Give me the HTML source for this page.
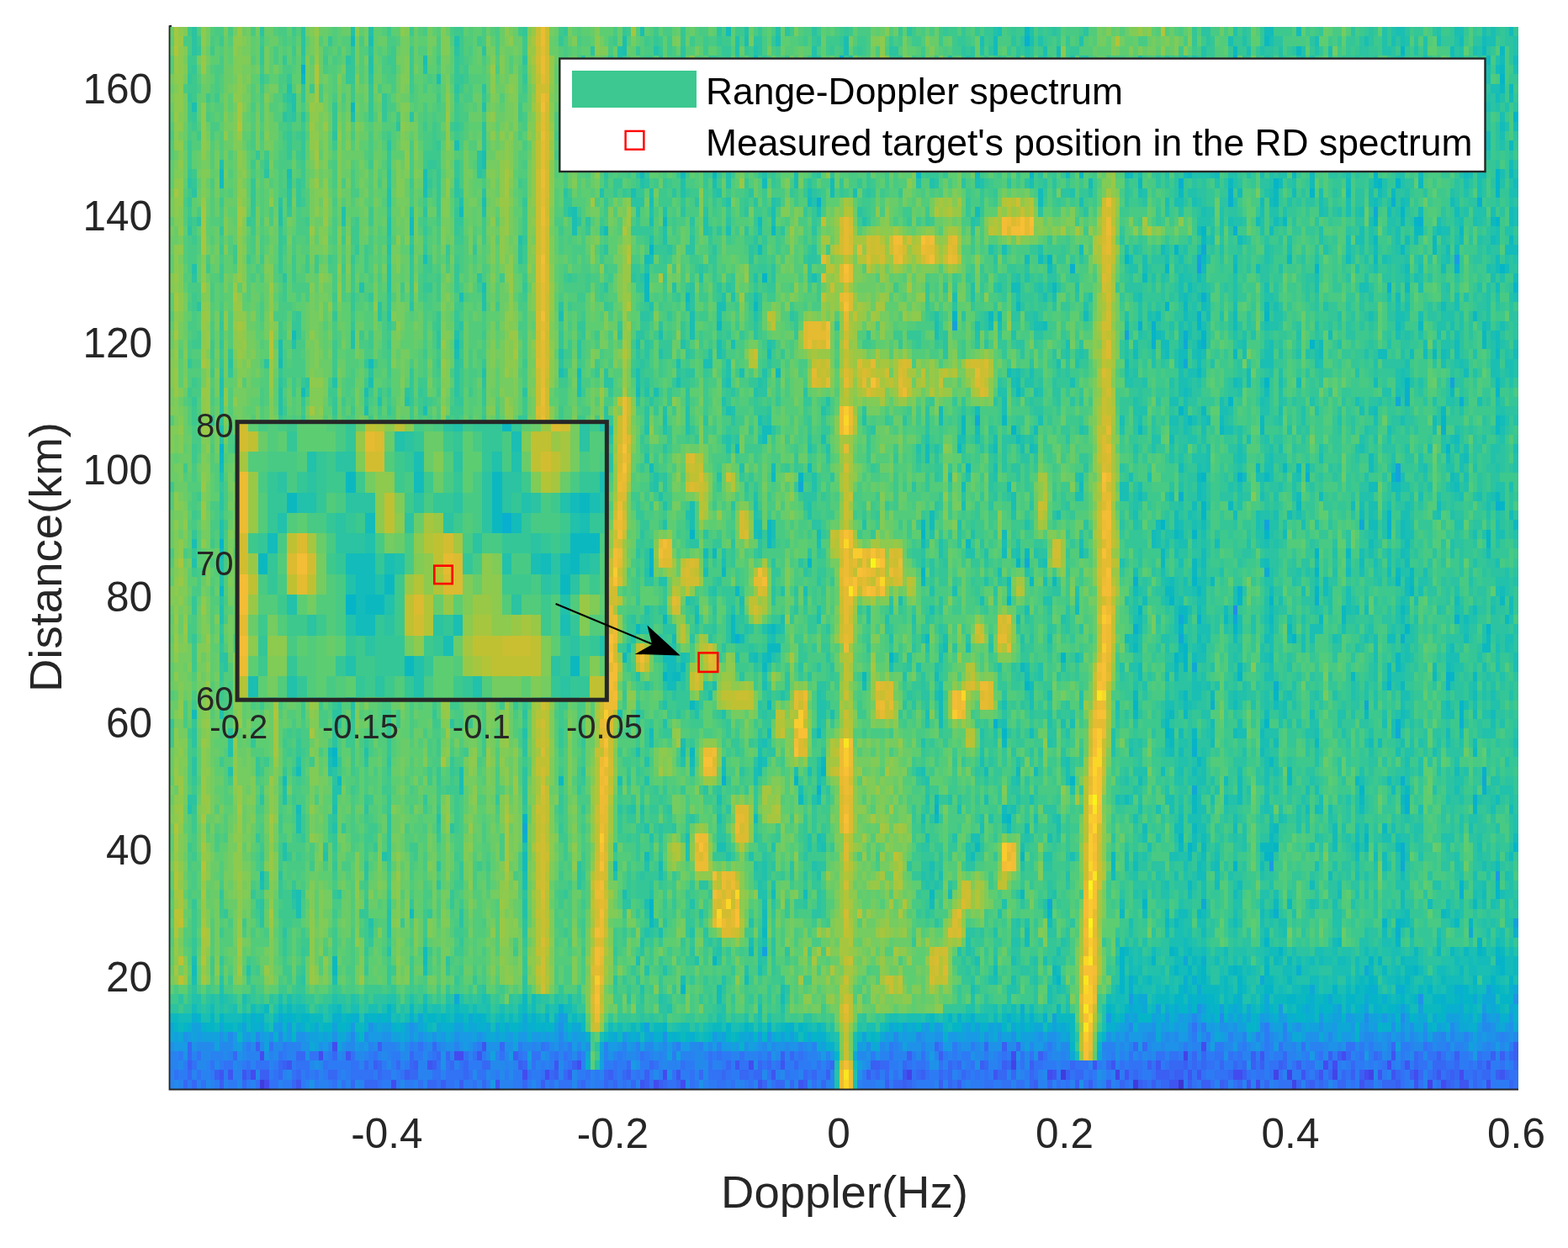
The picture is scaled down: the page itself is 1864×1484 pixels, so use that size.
<!DOCTYPE html><html><head><meta charset="utf-8"><title>Range-Doppler spectrum</title><style>html,body{margin:0;padding:0;background:#fff;width:1864px;height:1484px;overflow:hidden}</style></head><body><svg width="1864" height="1484" viewBox="0 0 1864 1484" style="display:block;font-family:'Liberation Sans', Arial, sans-serif"><rect width="1864" height="1484" fill="#fff"/><defs><clipPath id="pc"><rect x="201.5" y="32" width="1603.5" height="1263"/></clipPath><clipPath id="ic"><rect x="284.8" y="504" width="434" height="326"/></clipPath></defs><g clip-path="url(#pc)"><g transform="translate(201.5 32.0) scale(5.38 11.277)" shape-rendering="crispEdges"><path fill="#1abeb3" d="M228 0h1v112h-1zm44 0h1v112h-1z"/><path fill="#21c1ab" d="M213 0h1v112h-1zm13 0h1v112h-1zm9 0h1v112h-1zm7 0h1v112h-1zm31 0h1v112h-1z"/><path fill="#2bc3a1" d="M187 0h1v112h-1zm8 0h1v112h-1zm19 0h1v112h-1zm8 0h1v112h-1zm1 0h1v112h-1zm2 0h1v112h-1zm2 0h1v112h-1zm2 0h1v112h-1zm14 0h1v112h-1zm1 0h1v112h-1zm22 0h1v112h-1zm4 0h1v112h-1zm1 0h1v112h-1zm11 0h1v112h-1zm1 0h1v112h-1zm2 0h1v112h-1zm4 0h1v112h-1zm2 0h1v112h-1zm2 0h1v112h-1zm3 0h1v112h-1z"/><path fill="#34c697" d="M48 0h1v112h-1zm5 0h1v112h-1zm50 0h1v112h-1zm1 0h1v112h-1zm5 0h1v112h-1zm5 0h1v112h-1zm9 0h1v112h-1zm6 0h1v112h-1zm2 0h1v112h-1zm39 0h1v112h-1zm8 0h1v112h-1zm4 0h1v112h-1zm4 0h1v112h-1zm3 0h1v112h-1zm1 0h1v112h-1zm2 0h1v112h-1zm5 0h1v112h-1zm14 0h1v112h-1zm1 0h1v112h-1zm7 0h1v112h-1zm5 0h1v112h-1zm6 0h1v112h-1zm2 0h1v112h-1zm2 0h1v112h-1zm2 0h1v112h-1zm5 0h1v112h-1zm4 0h1v112h-1zm3 0h1v112h-1zm9 0h1v112h-1zm3 0h1v112h-1zm2 0h1v112h-1zm6 0h1v112h-1zm1 0h1v112h-1zm12 0h1v112h-1zm3 0h1v112h-1zm3 0h1v112h-1zm1 0h1v112h-1zm2 0h1v112h-1zm4 0h1v112h-1zm1 0h1v112h-1zm2 0h1v112h-1z"/><path fill="#3dc88d" d="M5 0h1v112h-1zm54 0h1v112h-1zm4 0h1v112h-1zm15 0h1v112h-1zm8 0h1v112h-1zm22 0h1v112h-1zm2 0h1v112h-1zm8 0h1v112h-1zm7 0h1v112h-1zm9 0h1v112h-1zm8 0h1v112h-1zm2 0h1v112h-1zm1 0h1v112h-1zm22 0h1v112h-1zm26 0h1v112h-1zm1 0h1v112h-1zm4 0h1v112h-1zm3 0h1v112h-1zm9 0h1v112h-1zm5 0h1v112h-1zm3 0h1v112h-1zm2 0h1v112h-1zm1 0h1v112h-1zm12 0h1v112h-1zm4 0h1v112h-1zm14 0h1v112h-1zm2 0h1v112h-1zm1 0h1v112h-1zm2 0h1v112h-1zm5 0h1v112h-1zm2 0h1v112h-1zm1 0h1v112h-1zm1 0h1v112h-1zm2 0h1v112h-1zm7 0h1v112h-1zm1 0h1v112h-1zm1 0h1v112h-1zm1 0h1v112h-1zm3 0h1v112h-1zm6 0h1v112h-1zm6 0h1v112h-1z"/><path fill="#48ca84" d="M4 0h1v112h-1zm20 0h1v112h-1zm1 0h1v112h-1zm2 0h1v112h-1zm1 0h1v112h-1zm1 0h1v112h-1zm7 0h1v112h-1zm4 0h1v112h-1zm16 0h1v112h-1zm2 0h1v112h-1zm6 0h1v112h-1zm5 0h1v112h-1zm18 0h1v112h-1zm4 0h1v112h-1zm5 0h1v112h-1zm1 0h1v112h-1zm3 0h1v112h-1zm5 0h1v112h-1zm1 0h1v112h-1zm6 0h1v112h-1zm1 0h1v112h-1zm2 0h1v112h-1zm4 0h1v112h-1zm1 0h1v112h-1zm1 0h1v112h-1zm1 0h1v112h-1zm4 0h1v112h-1zm1 0h1v112h-1zm1 0h1v112h-1zm2 0h1v112h-1zm3 0h1v112h-1zm2 0h1v112h-1zm4 0h1v112h-1zm1 0h1v112h-1zm1 0h1v112h-1zm2 0h1v112h-1zm23 0h1v112h-1zm2 0h1v112h-1zm1 0h1v112h-1zm7 0h1v112h-1zm1 0h1v112h-1zm2 0h1v112h-1zm1 0h1v112h-1zm1 0h1v112h-1zm4 0h1v112h-1zm3 0h1v112h-1zm3 0h1v112h-1zm5 0h1v112h-1zm3 0h1v112h-1zm17 0h1v112h-1zm1 0h1v112h-1zm22 0h1v112h-1zm7 0h1v112h-1zm1 0h1v112h-1zm2 0h1v112h-1zm1 0h1v112h-1zm2 0h1v112h-1zm6 0h1v112h-1zm20 0h1v112h-1z"/><path fill="#52cb7b" d="M9 0h1v112h-1zm2 0h1v112h-1zm1 0h1v112h-1zm1 0h1v112h-1zm5 0h1v112h-1zm2 0h1v112h-1zm6 0h1v112h-1zm18 0h1v112h-1zm2 0h1v112h-1zm1 0h1v112h-1zm19 0h1v112h-1zm22 0h1v112h-1zm2 0h1v112h-1zm2 0h1v112h-1zm3 0h1v112h-1zm4 0h1v112h-1zm2 0h1v112h-1zm6 0h1v112h-1zm9 0h1v112h-1zm8 0h1v112h-1zm8 0h1v112h-1zm4 0h1v112h-1zm16 0h1v112h-1zm1 0h1v112h-1zm1 0h1v112h-1zm7 0h1v112h-1zm2 0h1v112h-1zm10 0h1v112h-1zm10 0h1v112h-1zm1 0h1v112h-1zm16 0h1v112h-1zm2 0h1v112h-1zm1 0h1v112h-1zm28 0h1v112h-1zm7 0h1v112h-1zm2 0h1v112h-1zm15 0h1v112h-1zm4 0h1v112h-1zm20 0h1v112h-1z"/><path fill="#5dcd72" d="M6 0h1v112h-1zm17 0h1v112h-1zm11 0h1v112h-1zm8 0h1v112h-1zm1 0h1v112h-1zm2 0h1v112h-1zm4 0h1v112h-1zm5 0h1v112h-1zm1 0h1v112h-1zm2 0h1v112h-1zm8 0h1v112h-1zm2 0h1v112h-1zm1 0h1v112h-1zm9 0h1v112h-1zm8 0h1v112h-1zm9 0h1v112h-1zm4 0h1v112h-1zm4 0h1v112h-1zm15 0h1v112h-1zm39 0h1v112h-1zm8 0h1v112h-1zm1 0h1v112h-1zm6 0h1v112h-1zm3 0h1v112h-1zm1 0h1v112h-1zm34 0h1v112h-1z"/><path fill="#69cc69" d="M0 0h1v112h-1zm10 0h1v112h-1zm11 0h1v112h-1zm1 0h1v112h-1zm8 0h1v112h-1zm5 0h1v112h-1zm3 0h1v112h-1zm1 0h1v112h-1zm11 0h1v112h-1zm1 0h1v112h-1zm1 0h1v112h-1zm10 0h1v112h-1zm10 0h1v112h-1zm4 0h1v112h-1zm13 0h1v112h-1zm49 0h1v112h-1zm8 0h1v112h-1zm9 0h1v112h-1zm4 0h1v112h-1zm1 0h1v112h-1zm2 0h1v112h-1zm10 0h1v112h-1z"/><path fill="#75cc60" d="M3 0h1v112h-1zm11 0h1v112h-1zm2 0h1v112h-1zm1 0h1v112h-1zm2 0h1v112h-1zm12 0h1v112h-1zm10 0h1v112h-1zm29 0h1v112h-1zm1 0h1v112h-1zm4 0h1v112h-1zm4 0h1v112h-1zm14 0h1v112h-1zm18 0h1v112h-1zm26 0h1v112h-1zm10 0h1v112h-1zm11 0h1v112h-1z"/><path fill="#81cb57" d="M8 0h1v112h-1zm24 0h1v112h-1zm1 0h1v112h-1zm4 0h1v112h-1zm23 0h1v112h-1zm1 0h1v112h-1zm96 0h1v112h-1z"/><path fill="#8dca4e" d="M1 0h1v112h-1zm1 0h1v112h-1zm5 0h1v112h-1zm8 0h1v112h-1zm58 0h1v112h-1zm1 0h1v112h-1zm6 0h1v112h-1zm4 0h1v112h-1zm67 0h1v112h-1zm53 0h1v112h-1z"/><path fill="#99c846" d="M148 0h1v112h-1zm2 0h1v112h-1z"/><path fill="#a6c63f" d="M205 0h1v112h-1zm3 0h1v112h-1z"/><path fill="#c9bf31" d="M81 0h1v112h-1zm2 0h1v112h-1zm66 0h1v112h-1zm57 0h1v112h-1z"/><path fill="#e5bb31" d="M82 0h1v112h-1z"/><path fill="#ecbc33" d="M207 0h1v112h-1z"/><path fill="#3d36d2" d="M223 111h1v1h-1z"/><path fill="#3f3cdd" d="M20 111h1v1h-1zm177-1h1v1h-1zm16 1h1v1h-1z"/><path fill="#4243e7" d="M163 110h1v1h-1zm23-1h1v1h-1zm23 1h1v1h-1zm15-2h1v1h-1zm20 2h1v1h-1zm3 0h1v1h-1zm1 1h1v1h-1zm9-1h1v1h-1zm8 0h1v1h-1zm13 1h1v1h-1z"/><path fill="#434bef" d="M18 110h1v1h-1zm2-2h1v1h-1zm1 3h1v1h-1zm12-3h1v1h-1zm3-1h1v1h-1zm13 4h1v1h-1zm14-3h1v1h-1zm1 0h1v1h-1zm14 2h1v1h-1zm5 0h1v1h-1zm7-1h1v1h-1zm17 2h1v1h-1zm2-1h1v1h-1zm4 1h1v1h-1zm15-2h1v1h-1zm58-1h1v1h-1zm8 2h1v1h-1zm34-3h1v1h-1zm7 3h1v1h-1zm1 0h1v1h-1zm4 1h1v1h-1zm15-2h1v1h-1zm2 0h1v1h-1zm2-1h1v1h-1zm5 2h1v1h-1zm5-1h1v1h-1zm6 1h1v1h-1zm6 1h1v1h-1zm4-1h1v1h-1zm6 1h1v1h-1z"/><path fill="#3e55f0" d="M11 110h1v1h-1zm2 0h1v1h-1zm3 0h1v1h-1zm10-1h1v1h-1zm2 2h1v1h-1zm11-3h1v1h-1zm18 1h1v1h-1zm11-1h1v1h-1zm1-1h1v1h-1zm3 4h1v1h-1zm13-2h1v1h-1zm3 1h1v1h-1zm16 1h1v1h-1zm8-1h1v1h-1zm13-1h1v1h-1zm5 2h1v1h-1zm3-1h1v1h-1zm2-1h1v1h-1zm4 2h1v1h-1zm23-1h1v1h-1zm20 0h1v1h-1zm13 0h1v1h-1zm9-1h1v1h-1zm4 0h1v1h-1zm3 1h1v1h-1zm7-1h1v1h-1zm3 2h1v1h-1zm1 0h1v1h-1zm3-1h1v1h-1zm2 0h1v1h-1zm11 1h1v1h-1zm3-3h1v1h-1zm9 2h1v1h-1zm4 0h1v1h-1zm9 1h1v1h-1zm4-1h1v1h-1zm3-2h1v1h-1zm0 2h1v1h-1zm3-1h1v1h-1zm2 2h1v1h-1zm5-1h1v1h-1zm5 1h1v1h-1zm1 0h1v1h-1zm5-2h1v1h-1zm3 1h1v1h-1z"/><path fill="#3a5ff2" d="M4 109h1v1h-1zm6 1h1v1h-1zm1 1h1v1h-1zm8-4h1v1h-1zm1 3h1v1h-1zm1 0h1v1h-1zm4-1h1v1h-1zm20 0h1v1h-1zm1-2h1v1h-1zm6 3h1v1h-1zm2-1h1v1h-1zm4 0h1v1h-1zm2 2h1v1h-1zm4 0h1v1h-1zm12-3h1v1h-1zm1 1h1v1h-1zm5 2h1v1h-1zm3-1h1v1h-1zm4-1h1v1h-1zm8 1h1v1h-1zm4 0h1v1h-1zm4 0h1v2h-1zm3 1h1v1h-1zm27-3h1v1h-1zm5 3h1v1h-1zm5-1h1v1h-1zm9 0h1v1h-1zm1-1h1v1h-1zm1 0h1v1h-1zm2 2h1v1h-1zm4 0h1v1h-1zm1-3h1v1h-1zm3 2h1v1h-1zm4-2h1v1h-1zm0 3h1v1h-1zm4 0h1v1h-1zm5-2h1v1h-1zm5-2h1v1h-1zm0 2h1v1h-1zm6 0h1v1h-1zm1 2h1v1h-1zm1-3h1v1h-1zm6 2h1v1h-1zm2 1h1v1h-1zm3 0h1v1h-1zm4 0h1v1h-1zm7 0h1v1h-1zm2-2h1v1h-1zm1 2h1v1h-1zm1-1h1v1h-1zm1 0h1v1h-1zm1 0h1v1h-1zm2 0h1v1h-1zm1 0h1v1h-1zm1-1h1v1h-1zm1 2h1v1h-1zm3 0h1v1h-1zm1 0h1v1h-1zm3 0h1v1h-1zm5-1h1v1h-1zm2-2h1v2h-1zm2 1h1v1h-1zm4 0h1v1h-1zm4 0h1v1h-1zm3 2h1v1h-1zm4-3h1v1h-1zm2 0h1v1h-1zm3 2h1v1h-1zm2 0h1v1h-1zm8 1h1v1h-1zm3-1h1v1h-1zm6-2h1v1h-1zm2 3h1v1h-1zm1-1h1v1h-1zm1-2h1v1h-1zm8 0h1v1h-1zm1 2h1v1h-1zm1-2h1v1h-1zm3-1h1v2h-1z"/><path fill="#3668f4" d="M3 111h1v1h-1zm1-4h1v2h-1zm0 3h1v1h-1zm1 1h1v1h-1zm9-3h1v1h-1zm2 3h1v1h-1zm1-1h1v1h-1zm7-1h1v2h-1zm3 2h1v1h-1zm1-3h1v1h-1zm0 2h1v1h-1zm1-2h1v1h-1zm6 2h1v1h-1zm1-2h1v1h-1zm0 2h1v1h-1zm4 1h1v1h-1zm3-2h1v1h-1zm0 2h1v1h-1zm1 0h1v1h-1zm1 0h1v1h-1zm1-2h1v2h-1zm4 0h1v1h-1zm3-1h1v3h-1zm1 2h1v1h-1zm3 1h1v1h-1zm1-4h1v1h-1zm0 4h1v1h-1zm1-3h1v1h-1zm2 0h1v1h-1zm1 1h1v1h-1zm3 0h1v2h-1zm4 0h1v1h-1zm0 2h1v1h-1zm1-2h1v1h-1zm3-2h1v1h-1zm5 2h1v1h-1zm0 2h1v1h-1zm6-1h1v1h-1zm3 0h1v1h-1zm4 1h1v1h-1zm5-1h1v2h-1zm2 1h1v1h-1zm2-1h1v1h-1zm1-1h1v1h-1zm1 2h1v1h-1zm4-2h1v1h-1zm3 2h1v1h-1zm3 0h1v1h-1zm5-1h1v1h-1zm5 0h1v1h-1zm1-1h1v1h-1zm3 1h1v1h-1zm1 0h1v1h-1zm2 0h1v1h-1zm1-1h1v2h-1zm1 2h1v1h-1zm1-2h1v1h-1zm2 2h1v1h-1zm1 0h1v1h-1zm2-3h1v1h-1zm0 3h1v1h-1zm1-2h1v1h-1zm2 1h1v1h-1zm2 0h1v1h-1zm2 1h1v1h-1zm2-2h1v1h-1zm10 1h1v1h-1zm1-1h1v1h-1zm1 0h1v2h-1zm2 2h1v1h-1zm1 0h1v1h-1zm1-2h1v1h-1zm1 2h1v1h-1zm2-1h1v1h-1zm4-3h1v1h-1zm1 3h1v1h-1zm2-1h1v3h-1zm2 0h1v1h-1zm1 1h1v1h-1zm5-3h1v1h-1zm0 2h1v1h-1zm3 1h1v1h-1zm1 0h1v1h-1zm1-1h1v1h-1zm1 1h1v1h-1zm1-3h1v1h-1zm3 3h1v2h-1zm4 1h1v1h-1zm5-2h1v1h-1zm1 1h1v1h-1zm1 0h1v1h-1zm6-1h1v1h-1zm3 2h1v1h-1zm3-4h1v1h-1zm0 3h1v1h-1zm2-3h1v1h-1zm0 4h1v1h-1zm4 0h1v1h-1zm1 0h1v1h-1zm1-2h1v2h-1zm1 0h1v1h-1zm1 0h1v1h-1zm3-1h1v2h-1zm2 0h1v2h-1zm4 1h1v1h-1zm1 2h1v1h-1zm1-1h1v1h-1zm1-1h1v1h-1zm1 2h1v1h-1zm1-2h1v1h-1zm5 2h1v1h-1zm4-3h1v2h-1zm3 3h1v1h-1zm2 0h1v1h-1zm2-1h1v1h-1zm1 1h1v1h-1zm2-1h1v1h-1zm2 1h1v1h-1zm1-1h1v2h-1zm1-2h1v1h-1zm1 1h1v1h-1zm3 2h1v1h-1zm1 0h1v1h-1zm1-3h1v1h-1zm2 3h1v1h-1zm1 0h1v1h-1zm1-4h1v1h-1zm0 4h1v1h-1zm1-1h1v1h-1zm4-2h1v2h-1zm1 2h1v1h-1zm3-1h1v2h-1zm1 0h1v1h-1zm1 0h1v1h-1zm1 1h1v1h-1zm1 1h1v1h-1zm1-2h1v2h-1zm4 1h1v2h-1zm1-1h1v1h-1zm1 1h1v1h-1zm1 0h1v1h-1zm4 0h1v1h-1zm1-2h1v1h-1zm0 3h1v1h-1zm1-2h1v1h-1z"/><path fill="#3272f5" d="M1 110h1v1h-1zm4-1h1v1h-1zm1-1h1v1h-1zm0 2h1v1h-1zm1 1h1v1h-1zm2-2h1v1h-1zm3 0h1v1h-1zm1 0h1v1h-1zm4 0h1v1h-1zm2 0h1v1h-1zm0 2h1v1h-1zm1-2h1v1h-1zm1 0h1v1h-1zm1-2h1v1h-1zm0 4h1v1h-1zm1-1h1v2h-1zm1-2h1v1h-1zm3 2h1v1h-1zm1-1h1v1h-1zm1 0h1v1h-1zm1 0h1v2h-1zm1-1h1v1h-1zm1 0h1v1h-1zm0 2h1v1h-1zm2-1h1v1h-1zm2 2h1v1h-1zm2 0h1v1h-1zm2-3h1v3h-1zm1 1h1v2h-1zm1 1h1v1h-1zm1 0h1v1h-1zm1 0h1v1h-1zm1-2h1v1h-1zm1 3h1v1h-1zm1-1h1v1h-1zm1 0h1v1h-1zm3 0h1v1h-1zm4-3h1v1h-1zm0 4h1v1h-1zm3-3h1v1h-1zm0 2h1v1h-1zm1-1h1v3h-1zm2 0h1v3h-1zm1 1h1v2h-1zm1 0h1v1h-1zm1-1h1v2h-1zm1-1h1v1h-1zm1 2h1v1h-1zm1-2h1v1h-1zm0 3h1v1h-1zm1-1h1v1h-1zm1 0h1v1h-1zm4-2h1v1h-1zm4 0h1v1h-1zm2 2h1v1h-1zm1-2h1v2h-1zm1 0h1v1h-1zm1-1h1v1h-1zm0 3h1v1h-1zm2 1h1v1h-1zm1-3h1v1h-1zm1 3h1v1h-1zm1-3h1v1h-1zm0 3h1v1h-1zm1-2h1v1h-1zm0 2h1v1h-1zm2-3h1v1h-1zm0 3h1v1h-1zm2-1h1v1h-1zm5 1h1v1h-1zm1-2h1v2h-1zm2 2h1v1h-1zm3-1h1v1h-1zm1-2h1v1h-1zm2 3h1v1h-1zm1-2h1v1h-1zm3 2h1v1h-1zm1-1h1v2h-1zm2-1h1v1h-1zm2 1h1v2h-1zm4-2h1v3h-1zm1 2h1v1h-1zm1-2h1v1h-1zm0 2h1v2h-1zm1 1h1v1h-1zm1-1h1v1h-1zm1 1h1v1h-1zm2-3h1v2h-1zm1 1h1v1h-1zm1 1h1v2h-1zm3-1h1v1h-1zm1-1h1v1h-1zm0 2h1v1h-1zm1 1h1v1h-1zm1-2h1v1h-1zm2 1h1v1h-1zm3-2h1v1h-1zm2 2h1v1h-1zm1 1h1v1h-1zm1-2h1v1h-1zm2 0h1v1h-1zm10 1h1v1h-1zm4-2h1v1h-1zm1 2h1v1h-1zm3-1h1v1h-1zm1 1h1v2h-1zm1-1h1v1h-1zm1-1h1v2h-1zm1 2h1v1h-1zm3-1h1v1h-1zm1 1h1v1h-1zm2-1h1v1h-1zm0 2h1v1h-1zm3-1h1v1h-1zm1-1h1v1h-1zm1 1h1v1h-1zm2 0h1v2h-1zm1 1h1v1h-1zm3-3h1v1h-1zm0 3h1v1h-1zm1 0h1v1h-1zm2 0h1v1h-1zm1-3h1v2h-1zm0 3h1v1h-1zm2-3h1v1h-1zm1 1h1v2h-1zm1 0h1v1h-1zm1-1h1v1h-1zm3 3h1v1h-1zm2 0h1v1h-1zm1-1h1v1h-1zm1-1h1v1h-1zm1 0h1v1h-1zm1 0h1v1h-1zm0 2h1v1h-1zm1-1h1v1h-1zm7-1h1v1h-1zm1 2h1v1h-1zm1-3h1v3h-1zm1 1h1v1h-1zm1 0h1v2h-1zm2 2h1v1h-1zm1-2h1v2h-1zm1-1h1v1h-1zm0 3h1v1h-1zm1-3h1v1h-1zm1 1h1v1h-1zm1-1h1v1h-1zm1 0h1v1h-1zm2 2h1v1h-1zm1-1h1v1h-1zm1-4h1v1h-1zm0 5h1v2h-1zm1-1h1v1h-1zm1 1h1v1h-1zm1-1h1v1h-1zm1 0h1v1h-1zm0 2h1v1h-1zm1-3h1v1h-1zm0 2h1v1h-1zm1-2h1v1h-1zm0 2h1v1h-1zm1 0h1v1h-1zm1-2h1v1h-1zm1 3h1v1h-1zm1-3h1v2h-1zm2 2h1v1h-1zm2-1h1v2h-1zm1 1h1v1h-1zm2-1h1v2h-1zm1 0h1v1h-1zm1-2h1v1h-1zm0 3h1v2h-1zm1 1h1v1h-1zm1 0h1v1h-1zm1-2h1v1h-1zm2-2h1v1h-1zm1 2h1v2h-1zm1 0h1v1h-1zm1 2h1v1h-1zm1-3h1v1h-1zm1 3h1v1h-1zm1-2h1v1h-1zm4-2h1v1h-1zm0 3h1v1h-1zm1-3h1v1h-1zm0 4h1v1h-1zm2-3h1v1h-1zm4 0h1v1h-1zm1 1h1v1h-1zm4 0h1v3h-1zm4-1h1v2h-1zm0 3h1v1h-1zm1-4h1v1h-1zm0 2h1v1h-1zm1-1h1v1h-1zm0 2h1v1h-1zm1-2h1v1h-1zm1 3h1v1h-1zm1-3h1v1h-1zm0 2h1v1h-1zm1-1h1v1h-1zm1 0h1v1h-1zm1 2h1v1h-1zm2-1h1v1h-1zm1-1h1v2h-1zm2-1h1v1h-1zm0 2h1v2h-1zm1-1h1v1h-1zm4 0h1v1h-1zm2 1h1v1h-1zm1 0h1v2h-1z"/><path fill="#2d7bf4" d="M2 108h1v1h-1zm0 2h1v1h-1zm1-1h1v2h-1zm1 2h1v1h-1zm5-1h1v1h-1zm1 1h1v1h-1zm1-2h1v1h-1zm1 1h1v1h-1zm1 1h1v1h-1zm1 0h1v1h-1zm2-2h1v1h-1zm1-2h1v1h-1zm0 4h1v1h-1zm5-1h1v1h-1zm1-1h1v1h-1zm2-2h1v2h-1zm0 4h1v1h-1zm1 0h1v1h-1zm1-2h1v1h-1zm2 1h1v2h-1zm2 0h1v1h-1zm1 1h1v1h-1zm2-1h1v1h-1zm1-2h1v2h-1zm0 3h1v1h-1zm1-2h1v1h-1zm1 0h1v2h-1zm1 0h1v1h-1zm1 0h1v2h-1zm5-1h1v2h-1zm1 2h1v1h-1zm2-1h1v1h-1zm0 2h1v1h-1zm1 0h1v1h-1zm1-3h1v2h-1zm1 0h1v1h-1zm0 2h1v2h-1zm2-1h1v1h-1zm0 2h1v1h-1zm1-4h1v1h-1zm0 4h1v1h-1zm1-3h1v1h-1zm1 0h1v1h-1zm2 0h1v1h-1zm6 3h1v1h-1zm2 0h1v1h-1zm1-2h1v1h-1zm0 2h1v1h-1zm1-2h1v1h-1zm1-2h1v1h-1zm0 2h1v1h-1zm1-1h1v1h-1zm1 3h1v1h-1zm2-1h1v1h-1zm2 0h1v1h-1zm2 0h1v2h-1zm1-3h1v1h-1zm0 3h1v2h-1zm1-2h1v1h-1zm1 3h1v1h-1zm1-1h1v1h-1zm1 0h1v2h-1zm1-1h1v1h-1zm1-2h1v1h-1zm0 4h1v1h-1zm1-3h1v2h-1zm3 1h1v1h-1zm1-2h1v2h-1zm2 3h1v1h-1zm1 0h1v1h-1zm1 1h1v1h-1zm2-1h1v2h-1zm1 1h1v1h-1zm1-2h1v1h-1zm1 0h1v1h-1zm2-1h1v4h-1zm1 1h1v1h-1zm1 2h1v1h-1zm1-1h1v1h-1zm2-1h1v2h-1zm1-1h1v2h-1zm1 2h1v1h-1zm2 0h1v1h-1zm3-2h1v1h-1zm1-1h1v1h-1zm1 3h1v1h-1zm1-1h1v2h-1zm1 0h1v1h-1zm1 2h1v1h-1zm3 0h1v1h-1zm1-3h1v1h-1zm0 3h1v1h-1zm2-3h1v2h-1zm1 0h1v1h-1zm0 3h1v1h-1zm1-2h1v2h-1zm1 1h1v1h-1zm2 1h1v1h-1zm3-3h1v1h-1zm3 1h1v1h-1zm3 0h1v1h-1zm1 0h1v2h-1zm1-1h1v1h-1zm0 2h1v1h-1zm1-1h1v1h-1zm1-1h1v2h-1zm1 1h1v1h-1zm2 1h1v1h-1zm1 0h1v1h-1zm9 0h1v2h-1zm1 1h1v1h-1zm1-3h1v1h-1zm0 3h1v1h-1zm2-1h1v1h-1zm2-3h1v1h-1zm0 2h1v1h-1zm0 2h1v1h-1zm1-2h1v1h-1zm4-1h1v2h-1zm1 3h1v1h-1zm1 0h1v1h-1zm1-2h1v1h-1zm0 2h1v1h-1zm1-1h1v2h-1zm1 0h1v1h-1zm1-3h1v1h-1zm1 1h1v1h-1zm2-1h1v2h-1zm1 3h1v1h-1zm1-2h1v1h-1zm0 3h1v1h-1zm1-3h1v2h-1zm1-1h1v1h-1zm0 3h1v2h-1zm1 1h1v1h-1zm1-1h1v2h-1zm1-2h1v1h-1zm1 2h1v1h-1zm1 1h1v1h-1zm1-3h1v2h-1zm0 3h1v1h-1zm2-3h1v1h-1zm4 2h1v1h-1zm4-1h1v1h-1zm1-2h1v1h-1zm0 2h1v1h-1zm1 0h1v1h-1zm1 1h1v1h-1zm1-1h1v1h-1zm0 2h1v1h-1zm1-2h1v1h-1zm4 1h1v1h-1zm2 0h1v2h-1zm1-1h1v1h-1zm2 1h1v1h-1zm1-2h1v1h-1zm1 3h1v1h-1zm1-1h1v1h-1zm1-1h1v1h-1zm1 2h1v1h-1zm2-3h1v1h-1zm1 1h1v2h-1zm1 1h1v1h-1zm3-1h1v1h-1zm4-1h1v1h-1zm1-1h1v1h-1zm0 4h1v1h-1zm1-3h1v1h-1zm1-2h1v1h-1zm1 5h1v1h-1zm1-6h1v1h-1zm1 1h1v1h-1zm0 2h1v1h-1zm0 2h1v1h-1zm1-2h1v1h-1zm0 2h1v1h-1zm1-3h1v1h-1zm0 2h1v1h-1zm1-2h1v1h-1zm1 2h1v1h-1zm1 0h1v1h-1zm1-1h1v1h-1zm2-1h1v1h-1zm2 3h1v1h-1zm1-2h1v1h-1zm1 3h1v1h-1zm1-6h1v6h-1zm2 3h1v1h-1zm0 3h1v1h-1zm1-3h1v1h-1zm3 2h1v1h-1zm1 0h1v1h-1zm1-1h1v1h-1zm1-1h1v1h-1zm1 2h1v1h-1zm1-2h1v1h-1zm2 2h1v1h-1zm2-2h1v1h-1zm0 3h1v1h-1zm1-2h1v2h-1zm2 0h1v1h-1zm0 2h1v1h-1zm2-3h1v4h-1zm1-1h1v1h-1zm0 2h1v1h-1zm2-2h1v3h-1zm2 2h1v1h-1zm0 2h1v1h-1zm1-1h1v1h-1zm2-1h1v1h-1zm2-2h1v2h-1zm1 0h1v1h-1zm0 3h1v2h-1zm1-1h1v1h-1zm4-2h1v1h-1zm1 4h1v1h-1zm3-4h1v1h-1zm1 1h1v1h-1zm2 0h1v2h-1zm1 0h1v2h-1zm1 3h1v1h-1zm1-2h1v1h-1zm2-1h1v1h-1zm0 3h1v1h-1zm1-3h1v1h-1zm1 1h1v3h-1zm1 0h1v1h-1zm0 2h1v1h-1zm1 0h1v1h-1zm1-3h1v1h-1zm0 3h1v1h-1zm1-4h1v1h-1zm0 2h1v1h-1z"/><path fill="#2883f0" d="M0 108h1v4h-1zm1 0h1v2h-1zm1 3h1v1h-1zm3-3h1v1h-1zm0 2h1v1h-1zm1 1h1v1h-1zm1-1h1v1h-1zm1-1h1v2h-1zm1-1h1v1h-1zm0 3h1v1h-1zm1-3h1v1h-1zm1 0h1v1h-1zm1 3h1v1h-1zm1-3h1v1h-1zm1 2h1v1h-1zm1-1h1v2h-1zm2-1h1v1h-1zm1 0h1v2h-1zm0 3h1v1h-1zm1-3h1v1h-1zm3 0h1v2h-1zm2 3h1v1h-1zm1-1h1v1h-1zm1-3h1v2h-1zm1 0h1v2h-1zm1 0h1v1h-1zm2 4h1v1h-1zm3-1h1v2h-1zm1-2h1v1h-1zm0 3h1v1h-1zm4-3h1v1h-1zm0 2h1v1h-1zm1 1h1v1h-1zm3-2h1v1h-1zm0 2h1v1h-1zm1-3h1v1h-1zm1-1h1v1h-1zm2 1h1v1h-1zm1-1h1v1h-1zm1 0h1v2h-1zm1 0h1v1h-1zm0 3h1v1h-1zm2-1h1v1h-1zm3-2h1v1h-1zm0 4h1v1h-1zm1-2h1v2h-1zm1-2h1v1h-1zm0 2h1v3h-1zm1 1h1v1h-1zm2-3h1v1h-1zm1 3h1v1h-1zm2-2h1v1h-1zm1-1h1v1h-1zm0 2h1v1h-1zm3-1h1v1h-1zm1-1h1v1h-1zm1 4h1v1h-1zm3-1h1v1h-1zm1-2h1v1h-1zm1 3h1v1h-1zm1-2h1v1h-1zm0 2h1v1h-1zm1 0h1v1h-1zm1-2h1v1h-1zm4-2h1v1h-1zm1 2h1v1h-1zm2 0h1v1h-1zm2 2h1v1h-1zm1-4h1v2h-1zm0 3h1v1h-1zm5-2h1v2h-1zm2 2h1v2h-1zm2 0h1v1h-1zm1-3h1v2h-1zm2 1h1v1h-1zm2-1h1v2h-1zm3 0h1v2h-1zm0 4h1v1h-1zm3-3h1v1h-1zm2 0h1v2h-1zm2 1h1v1h-1zm1 0h1v1h-1zm1 0h1v1h-1zm1-1h1v1h-1zm1 0h1v1h-1zm1 0h1v1h-1zm1 2h1v1h-1zm1-3h1v1h-1zm1 1h1v1h-1zm0 3h1v1h-1zm2-2h1v1h-1zm1-2h1v1h-1zm0 2h1v1h-1zm3-1h1v1h-1zm1 0h1v1h-1zm0 3h1v1h-1zm1 0h1v1h-1zm1-3h1v1h-1zm1 0h1v1h-1zm1 0h1v1h-1zm0 3h1v1h-1zm2-3h1v1h-1zm1 3h1v1h-1zm2-1h1v1h-1zm2-2h1v1h-1zm2 3h1v1h-1zm1-4h1v1h-1zm0 3h1v1h-1zm2-2h1v1h-1zm1-1h1v3h-1zm1 4h1v1h-1zm1-2h1v1h-1zm1-1h1v1h-1zm0 3h1v1h-1zm7 0h1v1h-1zm4 0h1v1h-1zm1-3h1v1h-1zm0 3h1v1h-1zm1-3h1v1h-1zm1 2h1v1h-1zm1-3h1v2h-1zm1 1h1v3h-1zm1 0h1v1h-1zm4-1h1v1h-1zm3 1h1v1h-1zm0 3h1v1h-1zm2-2h1v1h-1zm0 2h1v1h-1zm1-3h1v1h-1zm1 2h1v1h-1zm1-2h1v1h-1zm1 1h1v1h-1zm1 2h1v1h-1zm5-2h1v1h-1zm1-1h1v2h-1zm3 2h1v1h-1zm1 1h1v1h-1zm1-2h1v1h-1zm1 1h1v1h-1zm1 1h1v1h-1zm3-1h1v2h-1zm1 1h1v1h-1zm1-3h1v1h-1zm1 3h1v1h-1zm1-2h1v1h-1zm1-1h1v1h-1zm2 3h1v1h-1zm4-2h1v1h-1zm3-2h1v1h-1zm0 2h1v1h-1zm0 2h1v1h-1zm1-4h1v2h-1zm1 0h1v1h-1zm0 3h1v2h-1zm1-1h1v1h-1zm1-1h1v1h-1zm2-1h1v1h-1zm4 1h1v1h-1zm4 0h1v1h-1zm6-1h1v1h-1zm1 0h1v2h-1zm4 4h1v1h-1zm3-5h1v1h-1zm0 5h1v1h-1zm2-4h1v1h-1zm1-1h1v1h-1zm0 2h1v1h-1zm0 3h1v1h-1zm1-3h1v1h-1zm1 3h1v1h-1zm1-5h1v1h-1zm3 1h1v2h-1zm0 4h1v1h-1zm3-6h1v2h-1zm0 5h1v1h-1zm1-2h1v2h-1zm1-1h1v2h-1zm2 1h1v1h-1zm0 3h1v1h-1zm2-4h1v1h-1zm1 0h1v1h-1zm1 0h1v1h-1zm0 2h1v1h-1zm5 0h1v1h-1zm2-1h1v1h-1zm3 1h1v1h-1zm2 0h1v1h-1zm0 2h1v1h-1zm3-4h1v2h-1zm0 3h1v1h-1zm2-1h1v1h-1zm2-1h1v1h-1zm1-1h1v1h-1zm0 4h1v1h-1zm3-1h1v2h-1zm1-1h1v1h-1zm2-2h1v1h-1zm1-1h1v2h-1zm1 2h1v1h-1zm1-2h1v1h-1zm1 1h1v1h-1zm1 0h1v1h-1zm1-1h1v1h-1zm1 2h1v1h-1zm4-1h1v1h-1zm2 1h1v1h-1zm1-2h1v1h-1zm1 3h1v1h-1z"/><path fill="#238aec" d="M1 111h1v1h-1zm1-2h1v1h-1zm4-2h1v1h-1zm0 2h1v1h-1zm1-2h1v3h-1zm1 0h1v2h-1zm0 4h1v1h-1zm1-4h1v1h-1zm1 2h1v1h-1zm1-2h1v1h-1zm1 0h1v2h-1zm1-1h1v2h-1zm1 3h1v1h-1zm1 2h1v1h-1zm1-4h1v2h-1zm2 0h1v1h-1zm1-1h1v1h-1zm0 4h1v1h-1zm1-3h1v1h-1zm3 0h1v2h-1zm1-1h1v2h-1zm2 4h1v1h-1zm5-1h1v1h-1zm2 0h1v1h-1zm2-2h1v1h-1zm2 1h1v1h-1zm0 3h1v1h-1zm2-4h1v1h-1zm1-1h1v2h-1zm1 2h1v1h-1zm0 3h1v1h-1zm1-3h1v1h-1zm1-2h1v1h-1zm2 1h1v1h-1zm2 1h1v1h-1zm1 1h1v1h-1zm2-2h1v1h-1zm1 1h1v1h-1zm0 3h1v1h-1zm1-4h1v2h-1zm4 1h1v1h-1zm1-1h1v1h-1zm3 0h1v1h-1zm7 3h1v1h-1zm3-2h1v1h-1zm0 2h1v1h-1zm1-1h1v1h-1zm1 0h1v1h-1zm1 0h1v2h-1zm1-1h1v1h-1zm1 1h1v2h-1zm3-2h1v1h-1zm1 0h1v1h-1zm1 4h1v1h-1zm1-4h1v1h-1zm2 1h1v1h-1zm1-1h1v1h-1zm2-1h1v1h-1zm0 3h1v1h-1zm1-2h1v1h-1zm2 1h1v1h-1zm0 2h1v2h-1zm1-3h1v1h-1zm11 1h1v1h-1zm1 0h1v1h-1zm3-1h1v1h-1zm1 0h1v1h-1zm1 1h1v1h-1zm0 2h1v1h-1zm2-3h1v3h-1zm2 0h1v1h-1zm3 4h1v1h-1zm1-4h1v1h-1zm1 0h1v3h-1zm1 1h1v2h-1zm1 1h1v2h-1zm1-2h1v1h-1zm10 2h1v1h-1zm2-2h1v1h-1zm0 3h1v1h-1zm2-3h1v1h-1zm1 1h1v1h-1zm1 2h1v1h-1zm1-3h1v1h-1zm0 4h1v1h-1zm4-4h1v1h-1zm1 4h1v1h-1zm2-3h1v1h-1zm3 2h1v2h-1zm6-2h1v1h-1zm1 0h1v1h-1zm1-1h1v1h-1zm0 2h1v1h-1zm3-2h1v1h-1zm3-1h1v1h-1zm1 1h1v1h-1zm4-1h1v1h-1zm0 2h1v1h-1zm2 0h1v1h-1zm7-1h1v1h-1zm4 0h1v2h-1zm1 1h1v1h-1zm2 0h1v1h-1zm4-1h1v1h-1zm1 0h1v1h-1zm1 3h1v1h-1zm2-2h1v2h-1zm1-1h1v1h-1zm3 0h1v1h-1zm0 3h1v1h-1zm2-3h1v2h-1zm1 1h1v1h-1zm1-1h1v1h-1zm1 0h1v2h-1zm7 4h1v1h-1zm1-3h1v1h-1zm0 2h1v1h-1zm4-3h1v1h-1zm1-1h1v1h-1zm0 2h1v1h-1zm1-3h1v1h-1zm1 3h1v1h-1zm2 0h1v1h-1zm1-2h1v2h-1zm1 0h1v1h-1zm0 2h1v1h-1zm2-1h1v1h-1zm1-1h1v1h-1zm2 0h1v1h-1zm1 1h1v1h-1zm2-2h1v3h-1zm1-1h1v1h-1zm2 2h1v1h-1zm1 1h1v1h-1zm3-3h1v1h-1zm1 3h1v1h-1zm1 0h1v1h-1zm1-46h1v1h-1zm3 46h1v1h-1zm3-2h1v1h-1zm0 2h1v1h-1zm2-1h1v1h-1zm3 1h1v1h-1zm1 0h1v1h-1zm2 1h1v1h-1zm4 1h1v1h-1zm2-2h1v2h-1zm1-1h1v1h-1zm0 5h1v1h-1zm2-4h1v1h-1zm4 0h1v1h-1zm2-3h1v1h-1zm0 2h1v2h-1zm1 0h1v1h-1zm1 1h1v1h-1zm0 3h1v1h-1zm1-3h1v1h-1zm1 1h1v1h-1zm1-2h1v1h-1zm2 2h1v1h-1zm1-4h1v1h-1zm0 2h1v1h-1zm2 0h1v1h-1zm0 2h1v1h-1zm1-1h1v1h-1zm1 0h1v1h-1zm1-1h1v1h-1zm0 2h1v1h-1zm2-2h1v2h-1zm1 0h1v1h-1zm3-1h1v1h-1zm3 2h1v1h-1zm4-3h1v2h-1zm0 3h1v1h-1zm1-2h1v1h-1zm1 2h1v1h-1zm1-1h1v1h-1zm1 1h1v1h-1zm1-1h1v1h-1zm2 0h1v1h-1z"/><path fill="#1e92e8" d="M0 107h1v1h-1zm3-1h1v1h-1zm0 2h1v1h-1zm2-1h1v1h-1zm6-1h1v1h-1zm4 2h1v1h-1zm6 0h1v1h-1zm1-2h1v1h-1zm6 0h1v1h-1zm1 0h1v2h-1zm1 1h1v2h-1zm1 4h1v1h-1zm1-2h1v1h-1zm1-2h1v1h-1zm3-1h1v1h-1zm2 1h1v1h-1zm4 0h1v1h-1zm2-2h1v1h-1zm3 1h1v1h-1zm1 0h1v1h-1zm5-1h1v2h-1zm2 1h1v1h-1zm3 0h1v1h-1zm2 2h1v2h-1zm1-1h1v1h-1zm1 0h1v1h-1zm1-1h1v1h-1zm1 1h1v1h-1zm2 0h1v1h-1zm2-1h1v1h-1zm2 1h1v1h-1zm1 0h1v1h-1zm1 0h1v1h-1zm2 0h1v1h-1zm1 0h1v1h-1zm4 2h1v1h-1zm3-1h1v1h-1zm3-1h1v1h-1zm1-2h1v1h-1zm6 2h1v1h-1zm5 1h1v1h-1zm2-1h1v1h-1zm3 0h1v1h-1zm1 2h1v1h-1zm5-2h1v1h-1zm1-1h1v1h-1zm1 4h1v1h-1zm7 1h1v1h-1zm10-4h1v1h-1zm3 0h1v1h-1zm2-1h1v1h-1zm1 2h1v1h-1zm1-1h1v1h-1zm1 0h1v1h-1zm2 0h1v1h-1zm1 0h1v1h-1zm3 0h1v1h-1zm11 3h1v1h-1zm1-1h1v1h-1zm1-1h1v1h-1zm2 0h1v1h-1zm2-1h1v1h-1zm5 0h1v1h-1zm1 0h1v1h-1zm1 0h1v1h-1zm1-1h1v1h-1zm1 1h1v1h-1zm1 0h1v1h-1zm0 2h1v1h-1zm1-3h1v1h-1zm0 3h1v1h-1zm1-3h1v1h-1zm5 1h1v1h-1zm1 0h1v1h-1zm1 1h1v1h-1zm1 1h1v1h-1zm1-2h1v1h-1zm1-1h1v1h-1zm1 1h1v1h-1zm1 0h1v1h-1zm1-1h1v2h-1zm3 0h1v1h-1zm1 2h1v1h-1zm1-1h1v1h-1zm3 1h1v1h-1zm1-2h1v1h-1zm2 0h1v1h-1zm1 0h1v1h-1zm6 5h1v1h-1zm4-1h1v1h-1zm2-4h1v1h-1zm2 0h1v3h-1zm2 1h1v1h-1zm4-1h1v1h-1zm2-1h1v1h-1zm0 2h1v1h-1zm1 0h1v1h-1zm1-1h1v1h-1zm1 1h1v1h-1zm1-1h1v2h-1zm1 1h1v1h-1zm5-4h1v1h-1zm0 2h1v1h-1zm5 0h1v1h-1zm1 0h1v1h-1zm0 3h1v1h-1zm2-3h1v2h-1zm1 1h1v1h-1zm2 3h1v1h-1zm1-2h1v1h-1zm2-1h1v1h-1zm3 0h1v1h-1zm3 0h1v1h-1zm2-1h1v1h-1zm0 2h1v1h-1zm2-1h1v2h-1zm1 0h1v1h-1zm1 0h1v1h-1zm1-1h1v1h-1zm2 2h1v1h-1zm1 0h1v1h-1zm2 0h1v1h-1zm4-1h1v1h-1zm1-1h1v1h-1zm2 1h1v1h-1zm2 0h1v2h-1zm2-1h1v1h-1zm1 1h1v1h-1zm1-1h1v1h-1zm2 0h1v1h-1zm1 1h1v1h-1zm1-4h1v1h-1zm1 3h1v1h-1zm6 2h1v1h-1zm1-1h1v1h-1zm1 0h1v1h-1zm2 0h1v1h-1zm2 0h1v2h-1zm2 0h1v1h-1zm1-1h1v2h-1zm3 2h1v1h-1zm1-2h1v2h-1zm1-3h1v1h-1z"/><path fill="#199ae4" d="M1 107h1v1h-1zm1 0h1v1h-1zm1 0h1v1h-1zm1-1h1v1h-1zm2 0h1v1h-1zm8 0h1v2h-1zm3 0h1v1h-1zm3 0h1v1h-1zm4-1h1v1h-1zm2 0h1v2h-1zm4 1h1v1h-1zm4 1h1v1h-1zm5-1h1v1h-1zm1-1h1v1h-1zm1 2h1v1h-1zm2 0h1v1h-1zm1-1h1v1h-1zm1 0h1v1h-1zm1 0h1v1h-1zm5 1h1v1h-1zm3-2h1v1h-1zm2 1h1v1h-1zm4 0h1v1h-1zm4 0h1v1h-1zm1 0h1v2h-1zm1 0h1v1h-1zm3 0h1v1h-1zm2 5h1v1h-1zm4-5h1v1h-1zm0 2h1v1h-1zm2-2h1v1h-1zm1 0h1v1h-1zm2 0h1v1h-1zm1 0h1v1h-1zm2 0h1v1h-1zm2 0h1v1h-1zm1-2h1v1h-1zm1 2h1v1h-1zm2 0h1v2h-1zm8 1h1v1h-1zm1 0h1v1h-1zm2-1h1v1h-1zm1 1h1v1h-1zm1 2h1v1h-1zm5-2h1v1h-1zm3 0h1v1h-1zm3 0h1v1h-1zm1 0h1v1h-1zm4 0h1v1h-1zm2-1h1v2h-1zm2 1h1v1h-1zm1 0h1v1h-1zm2 0h1v1h-1zm4 0h1v1h-1zm1-1h1v1h-1zm2 1h1v1h-1zm12 1h1v1h-1zm2 0h1v1h-1zm6-1h1v1h-1zm6-1h1v1h-1zm4 0h1v1h-1zm5-1h1v2h-1zm1 1h1v1h-1zm0 2h1v1h-1zm1-3h1v1h-1zm2 2h1v1h-1zm1-1h1v2h-1zm1 0h1v1h-1zm3 0h1v1h-1zm1 0h1v1h-1zm1 0h1v1h-1zm13 0h1v2h-1zm1 1h1v1h-1zm4-1h1v2h-1zm11-2h1v1h-1zm3 2h1v1h-1zm1-2h1v2h-1zm1-2h1v1h-1zm0 4h1v1h-1zm1 0h1v1h-1zm1-1h1v3h-1zm1 0h1v1h-1zm1 0h1v1h-1zm3 0h1v1h-1zm1-1h1v1h-1zm2 1h1v1h-1zm1-1h1v1h-1zm0 2h1v1h-1zm1 0h1v1h-1zm1-2h1v1h-1zm2-79h1v1h-1zm0 79h1v1h-1zm0 2h1v1h-1zm3-1h1v2h-1zm3 1h1v1h-1zm1-1h1v1h-1zm1 2h1v1h-1zm4-1h1v1h-1zm1 1h1v1h-1zm1-3h1v1h-1zm2-16h1v1h-1zm0 17h1v1h-1zm1 2h1v1h-1zm1-4h1v2h-1zm0 3h1v1h-1zm3-1h1v1h-1zm4 3h1v1h-1zm2-4h1v1h-1zm1 2h1v1h-1zm2-1h1v2h-1zm2 1h1v1h-1zm1-2h1v1h-1zm0 2h1v1h-1zm1-1h1v1h-1zm2 0h1v1h-1zm1 3h1v1h-1zm2-3h1v1h-1zm1 1h1v1h-1zm1-2h1v1h-1zm2 2h1v1h-1zm3 0h1v1h-1zm3 0h1v1h-1zm6 0h1v1h-1zm2-82h1v1h-1zm0 81h1v1h-1zm4 2h1v2h-1zm1-2h1v1h-1zm1-2h1v1h-1zm0 3h1v1h-1zm1-2h1v1h-1zm2-15h1v1h-1zm0 15h1v1h-1zm0 3h1v1h-1zm2-2h1v1h-1zm1-1h1v1h-1z"/><path fill="#13a1dd" d="M1 106h1v1h-1zm4-1h1v2h-1zm1 0h1v1h-1zm1 1h1v1h-1zm1 0h1v1h-1zm1 0h1v1h-1zm1 0h1v2h-1zm2 0h1v1h-1zm3 1h1v1h-1zm1-2h1v2h-1zm5 1h1v2h-1zm2-1h1v1h-1zm8 1h1v1h-1zm1 0h1v2h-1zm2 0h1v1h-1zm2-1h1v1h-1zm1 2h1v1h-1zm8-2h1v1h-1zm2 0h1v1h-1zm1 0h1v1h-1zm1 1h1v1h-1zm1 0h1v1h-1zm2-1h1v2h-1zm2 1h1v1h-1zm3 0h1v1h-1zm2 0h1v1h-1zm3 0h1v1h-1zm1-1h1v1h-1zm1 0h1v1h-1zm3 1h1v1h-1zm4 2h1v1h-1zm1-2h1v1h-1zm2 0h1v1h-1zm2 1h1v1h-1zm3 1h1v1h-1zm3-2h1v1h-1zm2 0h1v1h-1zm1-1h1v1h-1zm2-1h1v1h-1zm3 2h1v1h-1zm1 0h1v2h-1zm4 2h1v2h-1zm9-1h1v1h-1zm1-2h1v1h-1zm1 1h1v1h-1zm4 2h1v1h-1zm2 0h1v1h-1zm10-2h1v1h-1zm2 1h1v1h-1zm4-1h1v2h-1zm3-9h1v1h-1zm4 9h1v1h-1zm2 0h1v1h-1zm7 1h1v1h-1zm8 2h1v1h-1zm1-3h1v2h-1zm6 0h1v1h-1zm2 0h1v1h-1zm1-1h1v1h-1zm0 2h1v1h-1zm1-1h1v1h-1zm1 0h1v1h-1zm1-92h1v1h-1zm1 91h1v1h-1zm4 0h1v1h-1zm3-74h1v1h-1zm1 75h1v1h-1zm1 0h1v1h-1zm1-1h1v1h-1zm2 0h1v1h-1zm3 0h1v2h-1zm2 0h1v1h-1zm1 1h1v1h-1zm1 0h1v1h-1zm3 0h1v1h-1zm1 0h1v2h-1zm1 0h1v1h-1zm3 0h1v1h-1zm2-2h1v2h-1zm3 2h1v1h-1zm10 0h1v1h-1zm2-1h1v1h-1zm1-73h1v1h-1zm2 72h1v1h-1zm4 0h1v1h-1zm1-1h1v1h-1zm2 2h1v1h-1zm3 0h1v1h-1zm1-1h1v2h-1zm3-80h1v1h-1zm1 79h1v1h-1zm1 2h1v1h-1zm1 2h1v1h-1zm1-2h1v1h-1zm1-2h1v1h-1zm0 3h1v1h-1zm2-2h1v1h-1zm2 0h1v2h-1zm1 1h1v1h-1zm1-1h1v1h-1zm4-52h1v1h-1zm0 52h1v1h-1zm2 1h1v1h-1zm1 0h1v1h-1zm1-1h1v1h-1zm4 1h1v2h-1zm2 0h1v1h-1zm1 0h1v1h-1zm2 0h1v1h-1zm1 0h1v1h-1zm1-1h1v1h-1zm1-1h1v2h-1zm3 1h1v1h-1zm0 2h1v1h-1zm3-3h1v1h-1zm1 1h1v2h-1zm1 0h1v1h-1zm4 0h1v1h-1zm1-58h1v2h-1zm0 61h1v1h-1zm1-4h1v1h-1zm1 1h1v2h-1zm3-1h1v1h-1zm2 3h1v1h-1zm2-1h1v1h-1zm2-1h1v1h-1zm1-67h1v1h-1zm0 67h1v1h-1zm1 0h1v1h-1zm3 3h1v1h-1zm1-1h1v1h-1zm3-5h1v1h-1zm1 3h1v1h-1zm1 1h1v1h-1zm4-11h1v1h-1z"/><path fill="#0ea8d6" d="M0 105h1v2h-1zm2 1h1v1h-1zm9-1h1v1h-1zm7 1h1v1h-1zm2-1h1v1h-1zm4-1h1v1h-1zm1 2h1v1h-1zm3-1h1v1h-1zm3 2h1v1h-1zm1-2h1v1h-1zm1 1h1v1h-1zm2 0h1v1h-1zm2 0h1v1h-1zm1 0h1v1h-1zm3 0h1v1h-1zm5-1h1v1h-1zm5 1h1v1h-1zm4-2h1v2h-1zm4 1h1v1h-1zm2 1h1v1h-1zm2-4h1v1h-1zm3 2h1v2h-1zm1 1h1v1h-1zm3 0h1v2h-1zm1 1h1v1h-1zm1-1h1v1h-1zm1 1h1v1h-1zm1-1h1v1h-1zm2 1h1v1h-1zm2-22h1v1h-1zm0 20h1v2h-1zm1 2h1v1h-1zm8-1h1v1h-1zm1 1h1v1h-1zm1-1h1v1h-1zm1 0h1v1h-1zm2 3h1v1h-1zm3-1h1v1h-1zm3-1h1v1h-1zm3 0h1v1h-1zm2 0h1v1h-1zm2 0h1v1h-1zm16 0h1v1h-1zm5 0h1v1h-1zm1 0h1v1h-1zm6 0h1v1h-1zm6-58h1v1h-1zm2 58h1v1h-1zm2 1h1v1h-1zm8 1h1v1h-1zm4-1h1v1h-1zm1 0h1v1h-1zm1-1h1v1h-1zm2-1h1v1h-1zm5 0h1v1h-1zm11 0h1v1h-1zm3-64h1v1h-1zm1 65h1v1h-1zm3-1h1v2h-1zm4 0h1v1h-1zm2 0h1v1h-1zm1-49h1v1h-1zm2 49h1v1h-1zm1 0h1v1h-1zm2-13h1v1h-1zm3 13h1v2h-1zm2 3h1v1h-1zm6 0h1v1h-1zm4-3h1v1h-1zm3-2h1v2h-1zm2-1h1v1h-1zm1 0h1v2h-1zm3 2h1v3h-1zm2-1h1v1h-1zm1 2h1v1h-1zm1-2h1v2h-1zm1-41h1v1h-1zm0 2h1v1h-1zm1-31h1v1h-1zm0 2h1v1h-1zm0 63h1v1h-1zm1 5h1v1h-1zm1-36h1v1h-1zm0 13h1v1h-1zm1 21h1v1h-1zm1-78h1v1h-1zm0 69h1v1h-1zm0 12h1v1h-1zm2 0h1v1h-1zm1 2h1v1h-1zm4-44h1v1h-1zm0 41h1v1h-1zm3 0h1v1h-1zm0 3h1v1h-1zm3-6h1v1h-1zm1-43h1v1h-1zm0 45h1v2h-1zm1 2h1v1h-1zm4 1h1v1h-1zm1 1h1v1h-1zm1 0h1v1h-1zm2-3h1v1h-1zm0 2h1v1h-1zm1-4h1v1h-1zm2 5h1v1h-1zm2-4h1v1h-1zm0 2h1v1h-1zm1-1h1v1h-1zm1 2h1v2h-1zm1 0h1v1h-1zm1 0h1v1h-1zm2-1h1v1h-1zm1-52h1v1h-1zm0 52h1v1h-1zm1-33h1v1h-1zm0 28h1v1h-1zm0 3h1v1h-1zm2-83h1v1h-1zm1 85h1v1h-1zm2 0h1v1h-1zm2-65h1v1h-1zm0 35h1v1h-1zm1 14h1v1h-1zm3 17h1v1h-1zm1-1h1v2h-1zm1 0h1v1h-1zm2 0h1v1h-1zm2 1h1v1h-1zm4-2h1v3h-1zm1 2h1v1h-1zm1-10h1v1h-1zm0 9h1v1h-1zm1-2h1v1h-1zm2-23h1v1h-1zm0 23h1v1h-1zm1 0h1v1h-1zm1 0h1v2h-1zm2 3h1v1h-1zm2-2h1v1h-1zm1-2h1v1h-1zm0 4h1v1h-1z"/><path fill="#09afce" d="M4 105h1v1h-1zm1-1h1v1h-1zm2 1h1v1h-1zm8 0h1v1h-1zm3-1h1v2h-1zm1 1h1v1h-1zm1-1h1v1h-1zm3 2h1v1h-1zm3-2h1v1h-1zm3-100h1v1h-1zm0 101h1v1h-1zm7-1h1v1h-1zm1 0h1v1h-1zm2 1h1v1h-1zm1-1h1v1h-1zm1 0h1v1h-1zm2 0h1v2h-1zm3 0h1v1h-1zm2 0h1v1h-1zm1 1h1v1h-1zm2 0h1v1h-1zm2-1h1v1h-1zm3 1h1v1h-1zm4 0h1v1h-1zm1 0h1v1h-1zm1 0h1v1h-1zm1-1h1v1h-1zm1 0h1v1h-1zm1 1h1v1h-1zm3-1h1v2h-1zm1 1h1v1h-1zm8 0h1v1h-1zm1-20h1v1h-1zm1 20h1v1h-1zm1-1h1v2h-1zm2 1h1v1h-1zm1-1h1v1h-1zm2 0h1v1h-1zm1-1h1v1h-1zm6 3h1v1h-1zm0 3h1v1h-1zm5-3h1v1h-1zm5 0h1v1h-1zm4-49h1v1h-1zm1 49h1v1h-1zm1 0h1v1h-1zm3 0h1v1h-1zm4 0h1v1h-1zm7-27h1v1h-1zm3-15h1v1h-1zm1 43h1v1h-1zm6-2h1v1h-1zm2 1h1v1h-1zm2 0h1v1h-1zm1-1h1v1h-1zm1 1h1v1h-1zm5-88h1v1h-1zm0 62h1v1h-1zm0 26h1v1h-1zm1 0h1v1h-1zm1 1h1v1h-1zm1 0h1v1h-1zm2-104h1v1h-1zm12 102h1v1h-1zm3 0h1v1h-1zm5 0h1v1h-1zm1-23h1v1h-1zm2 24h1v1h-1zm3-2h1v1h-1zm3 0h1v2h-1zm2 1h1v1h-1zm1 0h1v1h-1zm2-32h1v1h-1zm3 31h1v1h-1zm2 2h1v1h-1zm1-3h1v2h-1zm1-102h1v1h-1zm0 6h1v1h-1zm1 97h1v2h-1zm3 0h1v1h-1zm1 1h1v1h-1zm2 0h1v1h-1zm2 0h1v1h-1zm1-80h1v1h-1zm8 80h1v1h-1zm1 0h1v1h-1zm4-5h1v2h-1zm1-42h1v1h-1zm0 5h1v1h-1zm0 40h1v1h-1zm0 2h1v1h-1zm1-98h1v1h-1zm0 24h1v1h-1zm0 72h1v1h-1zm3-72h1v1h-1zm0 2h1v1h-1zm2 71h1v1h-1zm2 0h1v1h-1zm2-88h1v1h-1zm0 33h1v1h-1zm1-17h1v1h-1zm0 68h1v2h-1zm1 2h1v1h-1zm1-26h1v1h-1zm0 24h1v1h-1zm1-70h1v1h-1zm0 32h1v1h-1zm0 40h1v1h-1zm1-92h1v1h-1zm0 18h1v1h-1zm0 5h1v1h-1zm0 65h1v1h-1zm0 4h1v1h-1zm1 1h1v2h-1zm1-32h1v1h-1zm4-54h1v2h-1zm0 86h1v1h-1zm1-100h1v1h-1zm0 18h1v1h-1zm0 83h1v1h-1zm1-57h1v1h-1zm0 12h1v1h-1zm0 43h1v2h-1zm1 2h1v1h-1zm3 0h1v2h-1zm3-17h1v1h-1zm1-18h1v1h-1zm0 24h1v1h-1zm0 11h1v1h-1zm3 0h1v1h-1zm1 0h1v1h-1zm1-5h1v1h-1zm1 4h1v1h-1zm1-56h1v1h-1zm0 57h1v1h-1zm1-2h1v3h-1zm1-42h1v1h-1zm1 43h1v1h-1zm1 1h1v1h-1zm5-1h1v1h-1zm2 3h1v1h-1zm1-3h1v1h-1zm2-2h1v1h-1zm1 0h1v1h-1zm0 2h1v1h-1zm2-1h1v1h-1zm0 3h1v1h-1zm1-78h1v1h-1zm0 25h1v1h-1zm0 17h1v1h-1zm0 36h1v1h-1zm1-87h1v1h-1zm1 55h1v1h-1zm0 22h1v1h-1zm0 6h1v1h-1zm0 2h1v1h-1zm0 2h1v1h-1zm1-41h1v1h-1zm0 15h1v1h-1zm0 7h1v2h-1zm0 15h1v1h-1zm1-89h1v1h-1zm0 26h1v2h-1zm0 43h1v2h-1zm0 22h1v1h-1zm2 1h1v1h-1zm1-84h1v1h-1zm2 85h1v1h-1zm3-63h1v1h-1zm0 60h1v1h-1zm1-34h1v2h-1zm0 35h1v1h-1zm0 2h1v1h-1zm1-2h1v1h-1zm1-78h1v1h-1zm0 37h1v1h-1zm0 39h1v1h-1zm0 2h1v1h-1zm1-64h1v1h-1zm0 34h1v1h-1zm0 18h1v1h-1zm0 10h1v2h-1zm1 3h1v1h-1zm1 1h1v1h-1zm1-24h1v1h-1zm0 24h1v1h-1zm1-87h1v1h-1zm0 86h1v1h-1zm1-26h1v1h-1zm0 2h1v1h-1zm1 23h1v1h-1zm1-2h1v1h-1zm1-51h1v1h-1zm0 48h1v1h-1zm0 5h1v1h-1zm1 1h1v1h-1zm1 0h1v1h-1zm1-3h1v1h-1zm1-6h1v1h-1zm0 8h1v2h-1z"/><path fill="#05b5c7" d="M1 105h1v1h-1zm2 0h1v1h-1zm3-1h1v1h-1zm2 1h1v1h-1zm1-1h1v2h-1zm2-60h1v1h-1zm0 10h1v1h-1zm0 50h1v1h-1zm1 1h1v1h-1zm1 0h1v1h-1zm3-1h1v1h-1zm3 0h1v1h-1zm6 0h1v2h-1zm2 0h1v1h-1zm0 2h1v1h-1zm2-2h1v1h-1zm1 0h1v1h-1zm1 1h1v1h-1zm3 0h1v1h-1zm1 0h1v1h-1zm1-29h1v1h-1zm1 29h1v1h-1zm1 0h1v1h-1zm1-1h1v1h-1zm3 2h1v1h-1zm2-2h1v1h-1zm1 0h1v1h-1zm2 0h1v1h-1zm1-1h1v1h-1zm2 2h1v1h-1zm7-1h1v1h-1zm1 0h1v1h-1zm2 0h1v1h-1zm7 0h1v1h-1zm2 0h1v1h-1zm4 1h1v1h-1zm2 0h1v1h-1zm1 0h1v1h-1zm2-22h1v1h-1zm3 22h1v1h-1zm2 0h1v1h-1zm1 0h1v1h-1zm4 0h1v1h-1zm16 0h1v1h-1zm2-82h1v1h-1zm0 32h1v2h-1zm0 37h1v2h-1zm3-24h1v1h-1zm0 37h1v1h-1zm1 1h1v1h-1zm2 0h1v1h-1zm1-5h1v1h-1zm1 5h1v1h-1zm1-53h1v1h-1zm4 53h1v1h-1zm1-8h1v1h-1zm3 7h1v2h-1zm2 1h1v1h-1zm2-1h1v1h-1zm2 1h1v1h-1zm2-80h1v1h-1zm0 80h1v1h-1zm5-1h1v1h-1zm2-26h1v1h-1zm1-32h1v1h-1zm0 58h1v1h-1zm1 1h1v1h-1zm1-50h1v1h-1zm1 50h1v1h-1zm2-28h1v1h-1zm3 30h1v1h-1zm8-2h1v1h-1zm4-40h1v1h-1zm2 39h1v1h-1zm4 0h1v1h-1zm1-52h1v1h-1zm0 4h1v1h-1zm6 47h1v1h-1zm1-74h1v1h-1zm0 75h1v1h-1zm1 0h1v1h-1zm1-95h1v1h-1zm7 0h1v1h-1zm2 64h1v1h-1zm0 31h1v1h-1zm1-45h1v1h-1zm0 23h1v1h-1zm1-41h1v1h-1zm1 14h1v1h-1zm0 49h1v1h-1zm1-18h1v1h-1zm1-18h1v1h-1zm0 36h1v1h-1zm5-81h1v1h-1zm0 69h1v1h-1zm2 7h1v1h-1zm1-34h1v1h-1zm2 13h1v1h-1zm0 28h1v1h-1zm6 0h1v1h-1zm1-1h1v1h-1zm1-3h1v1h-1zm1 1h1v1h-1zm2-7h1v5h-1zm0 7h1v1h-1zm1-93h1v1h-1zm0 13h1v1h-1zm0 79h1v1h-1zm2-32h1v1h-1zm0 31h1v1h-1zm1-98h1v1h-1zm0 2h1v1h-1zm0 55h1v1h-1zm0 43h1v1h-1zm1-12h1v1h-1zm0 12h1v1h-1zm1 0h1v1h-1zm1-72h1v1h-1zm0 66h1v1h-1zm2-46h1v1h-1zm1-27h1v1h-1zm0 4h1v1h-1zm0 45h1v1h-1zm1-14h1v1h-1zm0 37h1v1h-1zm0 6h1v1h-1zm1-80h1v1h-1zm0 43h1v1h-1zm0 33h1v1h-1zm0 3h1v1h-1zm1-62h1v1h-1zm0 23h1v1h-1zm0 22h1v1h-1zm0 16h1v3h-1zm1-36h1v3h-1zm0 38h1v1h-1zm1-17h1v1h-1zm0 13h1v1h-1zm1-46h1v1h-1zm0 5h1v1h-1zm0 17h1v1h-1zm0 27h1v2h-1zm1-71h1v1h-1zm1-23h1v1h-1zm0 13h1v1h-1zm0 11h1v1h-1zm0 15h1v1h-1zm0 3h1v2h-1zm0 49h1v2h-1zm1 3h1v1h-1zm1 0h1v2h-1zm1-88h1v1h-1zm0 89h1v2h-1zm2 1h1v1h-1zm1-97h1v1h-1zm0 32h1v1h-1zm1 24h1v1h-1zm0 25h1v1h-1zm0 11h1v1h-1zm0 3h1v1h-1zm1-42h1v1h-1zm0 8h1v1h-1zm0 32h1v2h-1zm2 5h1v1h-1zm1-1h1v2h-1zm2-1h1v1h-1zm1-73h1v1h-1zm0 7h1v1h-1zm0 16h1v1h-1zm0 20h1v1h-1zm0 14h1v1h-1zm0 9h1v1h-1zm0 3h1v1h-1zm0 2h1v1h-1zm1-41h1v1h-1zm0 41h1v1h-1zm0 2h1v1h-1zm1-87h1v1h-1zm0 54h1v1h-1zm0 16h1v1h-1zm1 11h1v1h-1zm2 5h1v1h-1zm1-38h1v1h-1zm0 38h1v1h-1zm1 1h1v2h-1zm1 1h1v1h-1zm1-2h1v1h-1zm1-85h1v1h-1zm0 16h1v1h-1zm1-8h1v1h-1zm0 30h1v1h-1zm0 2h1v1h-1zm0 2h1v1h-1zm2 43h1v2h-1zm1 1h1v1h-1zm1-2h1v1h-1zm1-90h1v1h-1zm1 93h1v1h-1zm1-2h1v1h-1zm1 0h1v1h-1zm1-1h1v1h-1zm0 2h1v1h-1zm0 2h1v1h-1zm1-25h1v1h-1zm1 5h1v1h-1zm0 16h1v1h-1zm1-3h1v1h-1zm0 2h1v1h-1zm0 2h1v1h-1zm1-88h1v2h-1zm0 6h1v1h-1zm0 82h1v1h-1zm1-86h1v1h-1zm0 82h1v1h-1zm0 5h1v1h-1zm0 2h1v1h-1zm1-11h1v1h-1zm1-43h1v1h-1zm0 2h1v1h-1zm0 50h1v1h-1zm1-56h1v1h-1zm0 56h1v1h-1zm1-87h1v1h-1zm0 42h1v1h-1zm0 36h1v1h-1zm0 2h1v1h-1zm0 8h1v1h-1zm1-102h1v1h-1zm0 11h1v1h-1zm0 6h1v1h-1zm0 83h1v1h-1zm1-65h1v1h-1zm0 26h1v1h-1zm0 37h1v1h-1zm1-41h1v1h-1zm0 45h1v1h-1zm1-84h1v1h-1zm0 79h1v1h-1zm0 3h1v1h-1zm3-1h1v1h-1zm1 1h1v1h-1zm0 3h1v1h-1zm1-3h1v1h-1zm0 2h1v1h-1zm1-91h1v2h-1zm0 28h1v1h-1zm0 62h1v2h-1zm1-59h1v1h-1zm1 24h1v1h-1zm1 34h1v1h-1zm1-31h1v2h-1zm0 19h1v1h-1zm1 11h1v2h-1zm1-7h1v1h-1zm0 8h1v2h-1zm1-20h1v1h-1zm0 18h1v1h-1zm1-96h1v1h-1zm0 92h1v2h-1zm2-43h1v2h-1zm0 10h1v1h-1zm1 37h1v1h-1zm1-85h1v3h-1zm0 5h1v1h-1zm0 18h1v1h-1zm0 52h1v2h-1zm0 7h1v1h-1zm0 4h1v1h-1zm1-96h1v1h-1zm0 20h1v1h-1zm0 25h1v1h-1zm0 48h1v2h-1zm0 4h1v1h-1zm1 0h1v1h-1zm1-2h1v1h-1zm0 2h1v1h-1zm1-93h1v1h-1zm0 18h1v1h-1zm0 59h1v1h-1z"/><path fill="#0cb8c0" d="M0 104h1v1h-1zm1 0h1v1h-1zm1 1h1v1h-1zm8 0h1v1h-1zm1-60h1v1h-1zm0 14h1v1h-1zm3 46h1v1h-1zm1 1h1v1h-1zm2-2h1v2h-1zm4-1h1v1h-1zm0 2h1v1h-1zm2-1h1v1h-1zm1-1h1v1h-1zm2 0h1v1h-1zm1 2h1v1h-1zm1-1h1v1h-1zm1-99h1v1h-1zm1 100h1v1h-1zm1-1h1v1h-1zm1 0h1v1h-1zm1 0h1v2h-1zm3-27h1v1h-1zm0 21h1v2h-1zm1-19h1v1h-1zm0 24h1v1h-1zm1 1h1v1h-1zm2-96h1v1h-1zm1 97h1v1h-1zm1 0h1v1h-1zm11-2h1v1h-1zm3-37h1v1h-1zm0 37h1v2h-1zm1 2h1v1h-1zm2-1h1v1h-1zm2 0h1v1h-1zm2-1h1v1h-1zm2 1h1v1h-1zm8 0h1v1h-1zm2 0h1v1h-1zm2 0h1v1h-1zm1-2h1v2h-1zm1 2h1v1h-1zm2 0h1v1h-1zm5-25h1v1h-1zm3 25h1v1h-1zm2 1h1v1h-1zm5 1h1v1h-1zm2-18h1v1h-1zm1 18h1v1h-1zm1-40h1v1h-1zm2 39h1v1h-1zm1-42h1v1h-1zm2-37h1v3h-1zm1 68h1v1h-1zm1 11h1v1h-1zm1 0h1v1h-1zm1-85h1v1h-1zm0 42h1v1h-1zm2-54h1v1h-1zm0 60h1v1h-1zm1 0h1v1h-1zm1-63h1v1h-1zm0 62h1v1h-1zm0 39h1v1h-1zm1-78h1v1h-1zm1 43h1v1h-1zm0 5h1v1h-1zm1 30h1v1h-1zm2 0h1v1h-1zm1-99h1v1h-1zm1 8h1v1h-1zm0 40h1v1h-1zm0 50h1v1h-1zm1-74h1v1h-1zm0 74h1v1h-1zm1-48h1v1h-1zm2 5h1v3h-1zm0 44h1v1h-1zm1-62h1v1h-1zm0 15h1v1h-1zm3 38h1v1h-1zm0 8h1v1h-1zm1-76h1v1h-1zm1 76h1v1h-1zm1-38h1v1h-1zm0 28h1v1h-1zm1-43h1v3h-1zm0 13h1v2h-1zm0 6h1v1h-1zm1-50h1v1h-1zm0 26h1v1h-1zm0 16h1v1h-1zm0 2h1v1h-1zm1-29h1v1h-1zm0 29h1v1h-1zm1 40h1v1h-1zm4-24h1v1h-1zm1 24h1v1h-1zm3-31h1v1h-1zm0 31h1v1h-1zm1-28h1v1h-1zm8 29h1v1h-1zm1-38h1v1h-1zm1 38h1v1h-1zm2 0h1v1h-1zm2-1h1v1h-1zm7-90h1v1h-1zm1 37h1v1h-1zm0 6h1v1h-1zm1 6h1v1h-1zm1 27h1v1h-1zm0 13h1v1h-1zm1-23h1v1h-1zm0 2h1v1h-1zm2 22h1v1h-1zm3-100h1v1h-1zm0 39h1v1h-1zm1-33h1v1h-1zm0 30h1v2h-1zm1 5h1v1h-1zm0 8h1v1h-1zm0 50h1v1h-1zm2-18h1v1h-1zm3-56h1v1h-1zm1 74h1v1h-1zm1-74h1v1h-1zm1-25h1v1h-1zm0 36h1v1h-1zm0 34h1v1h-1zm0 8h1v1h-1zm0 21h1v1h-1zm2 0h1v1h-1zm1-75h1v1h-1zm0 9h1v1h-1zm0 40h1v1h-1zm1-11h1v1h-1zm0 24h1v1h-1zm1-91h1v1h-1zm0 55h1v1h-1zm1-40h1v1h-1zm0 43h1v1h-1zm4-53h1v1h-1zm1 22h1v1h-1zm0 31h1v1h-1zm0 41h1v1h-1zm1 4h1v2h-1zm1 1h1v1h-1zm1 0h1v1h-1zm1 0h1v3h-1zm2-89h1v1h-1zm7 72h1v2h-1zm0 16h1v1h-1zm1 1h1v1h-1zm1-11h1v1h-1zm1-78h1v1h-1zm0 82h1v1h-1zm2-32h1v1h-1zm0 5h1v1h-1zm0 2h1v1h-1zm0 28h1v1h-1zm1-84h1v1h-1zm0 26h1v1h-1zm1-16h1v1h-1zm1 74h1v1h-1zm1-86h1v1h-1zm0 89h1v1h-1zm1-1h1v1h-1zm1-47h1v2h-1zm0 47h1v1h-1zm1-43h1v1h-1zm0 14h1v1h-1zm0 21h1v1h-1zm0 7h1v2h-1zm1-42h1v1h-1zm0 13h1v1h-1zm0 2h1v2h-1zm1-21h1v1h-1zm0 14h1v1h-1zm0 27h1v1h-1zm0 3h1v1h-1zm1-80h1v1h-1zm0 44h1v1h-1zm0 4h1v1h-1zm0 21h1v1h-1zm1-57h1v1h-1zm0 32h1v2h-1zm0 9h1v1h-1zm0 2h1v1h-1zm1-60h1v1h-1zm0 2h1v2h-1zm0 27h1v1h-1zm0 46h1v1h-1zm0 3h1v1h-1zm0 7h1v1h-1zm0 4h1v1h-1zm1-97h1v1h-1zm0 52h1v2h-1zm0 18h1v1h-1zm0 7h1v2h-1zm0 3h1v1h-1zm0 14h1v1h-1zm1-65h1v1h-1zm0 3h1v1h-1zm0 11h1v1h-1zm0 12h1v1h-1zm0 18h1v1h-1zm0 16h1v1h-1zm0 6h1v2h-1zm1-88h1v1h-1zm0 11h1v1h-1zm0 2h1v1h-1zm0 16h1v1h-1zm0 46h1v1h-1zm0 15h1v1h-1zm1 0h1v1h-1zm1-43h1v1h-1zm0 12h1v1h-1zm0 31h1v1h-1zm1 0h1v2h-1zm1-59h1v1h-1zm1 20h1v1h-1zm0 38h1v4h-1zm1-84h1v1h-1zm0 34h1v1h-1zm0 49h1v1h-1zm1-97h1v1h-1zm0 9h1v1h-1zm0 2h1v1h-1zm0 12h1v1h-1zm0 9h1v1h-1zm1 33h1v1h-1zm0 32h1v1h-1zm1 2h1v1h-1zm2 2h1v1h-1zm1-57h1v1h-1zm1-5h1v2h-1zm0 45h1v1h-1zm0 16h1v1h-1zm1-101h1v1h-1zm0 28h1v1h-1zm0 18h1v1h-1zm0 39h1v1h-1zm0 12h1v1h-1zm0 2h1v1h-1zm1-38h1v1h-1zm0 15h1v1h-1zm0 8h1v2h-1zm0 15h1v1h-1zm1-83h1v2h-1zm0 67h1v1h-1zm0 8h1v1h-1zm0 6h1v1h-1zm0 4h1v2h-1zm1 0h1v1h-1zm1-82h1v1h-1zm0 26h1v1h-1zm0 56h1v1h-1zm1-78h1v1h-1zm0 39h1v1h-1zm0 15h1v2h-1zm0 14h1v1h-1zm0 6h1v1h-1zm0 2h1v1h-1zm0 3h1v1h-1zm1-88h1v1h-1zm1-13h1v1h-1zm0 44h1v1h-1zm0 4h1v1h-1zm0 52h1v1h-1zm1-1h1v2h-1zm1-55h1v1h-1zm0 55h1v1h-1zm2-26h1v1h-1zm0 27h1v3h-1zm1-40h1v1h-1zm0 40h1v1h-1zm2-96h1v1h-1zm1 96h1v1h-1zm1-6h1v1h-1zm0 6h1v1h-1zm1-90h1v1h-1zm0 49h1v2h-1zm1-44h1v1h-1zm0 38h1v1h-1zm0 46h1v1h-1zm1-33h1v1h-1zm1-56h1v1h-1zm0 67h1v1h-1zm0 7h1v1h-1zm0 16h1v1h-1zm1-21h1v1h-1zm0 19h1v3h-1zm1-28h1v1h-1zm0 14h1v1h-1zm1 13h1v1h-1zm1-83h1v1h-1zm0 6h1v1h-1zm0 2h1v1h-1zm0 76h1v1h-1zm1 2h1v1h-1zm1-18h1v1h-1zm0 15h1v1h-1zm0 4h1v1h-1zm1-36h1v2h-1zm0 35h1v1h-1zm1-85h1v1h-1zm1 40h1v1h-1zm0 9h1v2h-1zm0 20h1v1h-1zm0 14h1v1h-1zm0 2h1v1h-1zm1-94h1v1h-1zm0 6h1v1h-1zm0 6h1v1h-1zm0 3h1v1h-1zm0 38h1v1h-1zm0 8h1v1h-1zm0 12h1v1h-1zm0 13h1v1h-1zm0 4h1v1h-1zm1-85h1v1h-1zm0 14h1v1h-1zm0 53h1v1h-1zm0 19h1v1h-1zm0 2h1v1h-1zm1-44h1v2h-1zm0 42h1v1h-1zm0 3h1v1h-1zm1-81h1v1h-1zm0 76h1v1h-1zm1-81h1v1h-1zm0 5h1v1h-1zm0 10h1v1h-1zm0 70h1v1h-1zm1 2h1v1h-1zm1 0h1v1h-1zm1-81h1v2h-1zm0 12h1v1h-1zm0 34h1v1h-1zm0 35h1v1h-1zm1-6h1v1h-1zm0 6h1v1h-1zm1-63h1v1h-1zm0 53h1v1h-1zm0 7h1v1h-1zm1 1h1v2h-1zm1-63h1v1h-1zm0 59h1v1h-1zm0 4h1v2h-1zm1-7h1v1h-1zm1-73h1v1h-1zm0 78h1v1h-1zm1-2h1v1h-1zm0 6h1v1h-1zm1-91h1v1h-1zm1-7h1v1h-1zm0 25h1v1h-1zm0 38h1v1h-1zm0 8h1v1h-1zm0 16h1v1h-1zm0 9h1v1h-1zm0 2h1v2h-1zm1-98h1v1h-1zm0 97h1v1h-1zm1-100h1v1h-1zm0 30h1v2h-1zm0 33h1v1h-1zm0 32h1v1h-1zm1-94h1v1h-1zm0 61h1v2h-1zm1-44h1v1h-1zm1 14h1v1h-1zm0 3h1v1h-1zm0 4h1v2h-1zm0 8h1v1h-1zm0 50h1v1h-1zm1-97h1v1h-1zm0 2h1v1h-1zm0 2h1v1h-1zm0 54h1v1h-1zm0 37h1v1h-1zm0 4h1v1h-1zm0 2h1v1h-1zm1-41h1v1h-1zm1-56h1v1h-1zm0 6h1v1h-1zm0 3h1v1h-1zm0 7h1v1h-1zm1 30h1v1h-1zm0 46h1v2h-1z"/><path fill="#13bbba" d="M2 104h1v1h-1zm1 0h1v1h-1zm1 0h1v1h-1zm1-32h1v1h-1zm0 27h1v1h-1zm0 4h1v1h-1zm4 0h1v1h-1zm2-88h1v2h-1zm0 31h1v1h-1zm0 9h1v1h-1zm1 49h1v1h-1zm1 0h1v1h-1zm1 0h1v1h-1zm1 0h1v1h-1zm3-1h1v1h-1zm2-14h1v1h-1zm4-54h1v1h-1zm1 44h1v1h-1zm2-47h1v1h-1zm1 46h1v1h-1zm0 4h1v1h-1zm0 21h1v1h-1zm1-65h1v1h-1zm0 65h1v1h-1zm6-27h1v1h-1zm1 27h1v1h-1zm4-102h1v1h-1zm4 34h1v1h-1zm5 68h1v1h-1zm1 1h1v1h-1zm2 0h1v1h-1zm1-84h1v2h-1zm0 73h1v1h-1zm1 11h1v1h-1zm2-37h1v1h-1zm0 30h1v2h-1zm2 8h1v1h-1zm3-2h1v1h-1zm1 1h1v1h-1zm1-71h1v1h-1zm0 13h1v2h-1zm1-27h1v1h-1zm0 84h1v1h-1zm1 0h1v1h-1zm2 0h1v1h-1zm3 1h1v1h-1zm1 1h1v1h-1zm1-1h1v1h-1zm5-1h1v1h-1zm1-16h1v2h-1zm2 15h1v2h-1zm2 2h1v1h-1zm1-1h1v1h-1zm4 0h1v1h-1zm1 0h1v1h-1zm2-67h1v1h-1zm1 68h1v1h-1zm4-98h1v1h-1zm1 15h1v1h-1zm1-8h1v1h-1zm0 92h1v1h-1zm2-101h1v1h-1zm0 101h1v1h-1zm2-40h1v1h-1zm2-59h1v1h-1zm0 32h1v1h-1zm1-23h1v1h-1zm0 91h1v1h-1zm1-94h1v1h-1zm0 12h1v1h-1zm0 63h1v1h-1zm1-80h1v1h-1zm0 39h1v1h-1zm0 28h1v1h-1zm2 14h1v1h-1zm1-22h1v1h-1zm1-57h1v1h-1zm0 57h1v4h-1zm1-2h1v1h-1zm0 2h1v2h-1zm0 3h1v1h-1zm2-54h1v1h-1zm0 61h1v1h-1zm0 29h1v1h-1zm1 0h1v1h-1zm1-28h1v1h-1zm1-15h1v1h-1zm1 44h1v1h-1zm1-51h1v1h-1zm1 50h1v1h-1zm1-91h1v1h-1zm1 87h1v2h-1zm1-23h1v1h-1zm1-78h1v1h-1zm3 64h1v1h-1zm0 41h1v1h-1zm1-5h1v1h-1zm2-97h1v1h-1zm0 63h1v1h-1zm0 17h1v1h-1zm1-63h1v1h-1zm0 3h1v1h-1zm0 30h1v1h-1zm0 24h1v2h-1zm1-61h1v1h-1zm0 26h1v2h-1zm0 24h1v1h-1zm0 27h1v2h-1zm1-59h1v1h-1zm0 8h1v1h-1zm0 21h1v1h-1zm0 11h1v1h-1zm1-64h1v1h-1zm0 36h1v1h-1zm0 45h1v1h-1zm1 14h1v1h-1zm1-3h1v1h-1zm4 4h1v1h-1zm1-15h1v1h-1zm1-73h1v1h-1zm0 28h1v1h-1zm0 59h1v1h-1zm2-52h1v1h-1zm0 28h1v1h-1zm1 24h1v1h-1zm1 1h1v1h-1zm1-90h1v2h-1zm5 93h1v1h-1zm2-40h1v1h-1zm4 36h1v1h-1zm8-95h1v1h-1zm0 2h1v2h-1zm1 42h1v1h-1zm1-10h1v2h-1zm0 60h1v1h-1zm1-53h1v2h-1zm0 41h1v1h-1zm1-24h1v1h-1zm1-28h1v2h-1zm0 30h1v4h-1zm1-5h1v1h-1zm0 39h1v1h-1zm1-13h1v1h-1zm0 14h1v1h-1zm2-99h1v1h-1zm1 42h1v1h-1zm0 56h1v1h-1zm2-17h1v1h-1zm1-72h1v1h-1zm0 4h1v1h-1zm0 21h1v1h-1zm0 2h1v1h-1zm0 62h1v1h-1zm1 0h1v1h-1zm1-26h1v1h-1zm0 26h1v1h-1zm1-73h1v1h-1zm1-30h1v2h-1zm0 5h1v1h-1zm0 38h1v1h-1zm0 55h1v1h-1zm2-46h1v1h-1zm0 2h1v1h-1zm0 27h1v1h-1zm1-46h1v1h-1zm0 12h1v1h-1zm0 10h1v1h-1zm0 26h1v1h-1zm0 21h1v1h-1zm1-96h1v1h-1zm0 18h1v1h-1zm0 76h1v1h-1zm1-92h1v1h-1zm0 16h1v1h-1zm0 10h1v1h-1zm0 6h1v1h-1zm0 19h1v1h-1zm0 42h1v1h-1zm2-80h1v1h-1zm0 44h1v1h-1zm0 16h1v1h-1zm0 11h1v2h-1zm0 9h1v1h-1zm1-60h1v1h-1zm0 25h1v1h-1zm0 5h1v1h-1zm0 29h1v1h-1zm1-61h1v1h-1zm0 36h1v1h-1zm0 26h1v1h-1zm1-87h1v2h-1zm0 7h1v1h-1zm1-14h1v1h-1zm0 21h1v1h-1zm0 74h1v1h-1zm1-80h1v1h-1zm0 69h1v1h-1zm1 6h1v1h-1zm1-98h1v1h-1zm0 5h1v1h-1zm0 92h1v1h-1zm2-84h1v1h-1zm2 46h1v1h-1zm1-38h1v1h-1zm0 25h1v1h-1zm0 7h1v1h-1zm1-25h1v1h-1zm1-14h1v1h-1zm2 90h1v1h-1zm2-4h1v1h-1zm1-13h1v1h-1zm1 12h1v2h-1zm1 1h1v2h-1zm1-71h1v1h-1zm0 4h1v1h-1zm0 29h1v1h-1zm0 17h1v1h-1zm1-66h1v1h-1zm0 83h1v2h-1zm1-64h1v1h-1zm0 25h1v1h-1zm0 5h1v1h-1zm0 24h1v1h-1zm1-39h1v1h-1zm0 13h1v2h-1zm0 5h1v2h-1zm0 12h1v1h-1zm0 20h1v1h-1zm0 2h1v1h-1zm1-95h1v1h-1zm0 54h1v1h-1zm0 24h1v1h-1zm0 9h1v1h-1zm0 7h1v1h-1zm1 3h1v1h-1zm1-50h1v2h-1zm0 44h1v1h-1zm0 5h1v1h-1zm1-95h1v1h-1zm0 23h1v1h-1zm0 2h1v1h-1zm0 20h1v1h-1zm0 49h1v1h-1zm1-78h1v1h-1zm0 10h1v1h-1zm0 45h1v1h-1zm0 25h1v1h-1zm1-70h1v2h-1zm0 35h1v1h-1zm0 4h1v1h-1zm0 3h1v1h-1zm0 18h1v1h-1zm0 2h1v1h-1zm1-52h1v1h-1zm0 6h1v1h-1zm0 9h1v1h-1zm0 18h1v1h-1zm0 23h1v1h-1zm0 3h1v1h-1zm1-51h1v2h-1zm0 17h1v1h-1zm0 16h1v1h-1zm0 14h1v1h-1zm1-91h1v1h-1zm0 27h1v2h-1zm0 12h1v1h-1zm0 7h1v1h-1zm0 13h1v1h-1zm0 8h1v1h-1zm0 2h1v1h-1zm0 7h1v2h-1zm0 10h1v1h-1zm0 5h1v2h-1zm1-83h1v1h-1zm0 13h1v1h-1zm0 2h1v1h-1zm0 4h1v1h-1zm0 4h1v1h-1zm0 33h1v1h-1zm0 22h1v1h-1zm0 3h1v2h-1zm0 3h1v1h-1zm0 3h1v1h-1zm1-75h1v1h-1zm0 64h1v1h-1zm0 9h1v1h-1zm1-50h1v1h-1zm0 16h1v1h-1zm0 12h1v1h-1zm0 7h1v2h-1zm0 16h1v1h-1zm1-80h1v1h-1zm0 5h1v1h-1zm0 8h1v2h-1zm0 14h1v2h-1zm0 13h1v1h-1zm0 3h1v1h-1zm0 24h1v2h-1zm0 10h1v1h-1zm1-89h1v1h-1zm0 3h1v1h-1zm0 13h1v1h-1zm0 4h1v1h-1zm0 23h1v1h-1zm0 3h1v2h-1zm0 10h1v1h-1zm0 20h1v1h-1zm0 2h1v1h-1zm0 2h1v1h-1zm0 4h1v1h-1zm0 2h1v1h-1zm0 2h1v1h-1zm1-67h1v1h-1zm0 11h1v1h-1zm0 59h1v1h-1zm1-27h1v1h-1zm0 2h1v1h-1zm1-60h1v1h-1zm0 39h1v1h-1zm0 34h1v1h-1zm0 2h1v1h-1zm0 8h1v1h-1zm1-57h1v1h-1zm0 59h1v2h-1zm1-39h1v1h-1zm0 18h1v1h-1zm0 2h1v1h-1zm0 16h1v1h-1zm1-91h1v1h-1zm0 95h1v2h-1zm1-89h1v1h-1zm0 12h1v1h-1zm0 6h1v2h-1zm0 7h1v1h-1zm0 14h1v1h-1zm0 13h1v1h-1zm0 7h1v1h-1zm0 3h1v1h-1zm0 10h1v1h-1zm0 7h1v1h-1zm0 3h1v1h-1zm1-77h1v1h-1zm0 5h1v1h-1zm0 57h1v3h-1zm0 11h1v1h-1zm1-84h1v2h-1zm0 41h1v1h-1zm0 51h1v1h-1zm0 2h1v1h-1zm0 3h1v1h-1zm1-67h1v2h-1zm0 63h1v1h-1zm1 3h1v1h-1zm1-82h1v1h-1zm0 5h1v1h-1zm0 76h1v1h-1zm0 2h1v1h-1zm1-96h1v1h-1zm0 2h1v2h-1zm0 3h1v1h-1zm0 6h1v1h-1zm0 56h1v1h-1zm0 2h1v1h-1zm0 12h1v1h-1zm0 5h1v1h-1zm0 8h1v1h-1zm1-101h1v1h-1zm0 38h1v1h-1zm0 18h1v1h-1zm0 8h1v1h-1zm0 8h1v1h-1zm0 23h1v1h-1zm1-95h1v1h-1zm0 7h1v1h-1zm0 11h1v1h-1zm0 3h1v1h-1zm0 38h1v1h-1zm0 2h1v1h-1zm0 2h1v1h-1zm0 3h1v1h-1zm0 18h1v1h-1zm0 9h1v1h-1zm0 4h1v1h-1zm1-77h1v1h-1zm0 51h1v1h-1zm0 4h1v1h-1zm0 22h1v1h-1zm1-81h1v1h-1zm0 82h1v1h-1zm0 3h1v1h-1zm1-48h1v1h-1zm0 46h1v1h-1zm1-88h1v1h-1zm0 40h1v1h-1zm0 13h1v1h-1zm0 35h1v1h-1zm1-82h1v1h-1zm0 84h1v1h-1zm0 2h1v1h-1zm1-103h1v1h-1zm0 4h1v1h-1zm0 33h1v1h-1zm0 12h1v1h-1zm0 49h1v1h-1zm0 3h1v1h-1zm2-19h1v1h-1zm1-67h1v2h-1zm0 57h1v1h-1zm0 18h1v1h-1zm0 8h1v1h-1zm0 2h1v1h-1zm1-44h1v1h-1zm0 26h1v1h-1zm0 18h1v2h-1zm1-67h1v2h-1zm0 16h1v1h-1zm0 49h1v1h-1zm1-40h1v2h-1zm1-53h1v1h-1zm0 27h1v1h-1zm0 57h1v1h-1zm1-5h1v3h-1zm0 12h1v1h-1zm1-86h1v1h-1zm0 81h1v1h-1zm0 7h1v1h-1zm1 0h1v1h-1zm0 4h1v2h-1zm1-86h1v1h-1zm0 8h1v1h-1zm0 33h1v1h-1zm0 43h1v1h-1zm1-50h1v1h-1zm0 53h1v1h-1zm1-18h1v1h-1zm0 2h1v1h-1zm0 11h1v3h-1zm1-84h1v1h-1zm0 37h1v1h-1zm0 5h1v1h-1zm0 26h1v1h-1zm1-74h1v1h-1zm0 53h1v1h-1zm0 23h1v1h-1zm0 13h1v1h-1zm0 3h1v1h-1zm1-87h1v1h-1zm0 32h1v2h-1zm0 3h1v1h-1zm0 4h1v1h-1zm0 2h1v1h-1zm0 21h1v1h-1zm0 28h1v1h-1zm1-85h1v1h-1zm0 5h1v1h-1zm0 14h1v1h-1zm0 3h1v1h-1zm0 8h1v1h-1zm0 4h1v1h-1zm0 35h1v1h-1zm1-70h1v1h-1zm0 17h1v1h-1zm0 41h1v1h-1zm1-41h1v1h-1zm0 53h1v2h-1zm0 8h1v1h-1zm1-76h1v1h-1zm0 38h1v1h-1zm0 7h1v1h-1zm0 15h1v1h-1zm0 21h1v1h-1zm1-90h1v1h-1zm0 38h1v1h-1zm0 16h1v1h-1zm0 16h1v1h-1zm0 20h1v1h-1zm0 2h1v1h-1zm1-74h1v1h-1zm0 3h1v1h-1zm0 17h1v1h-1zm0 51h1v1h-1zm1-88h1v1h-1zm0 7h1v1h-1zm0 34h1v2h-1zm0 3h1v1h-1zm0 7h1v1h-1zm0 10h1v1h-1zm0 10h1v1h-1zm0 7h1v1h-1zm0 2h1v2h-1zm0 9h1v1h-1zm1-86h1v1h-1zm0 8h1v1h-1zm0 3h1v1h-1zm0 29h1v1h-1zm0 2h1v1h-1zm0 2h1v2h-1zm0 35h1v2h-1zm0 5h1v1h-1zm0 4h1v1h-1zm1-68h1v1h-1zm0 61h1v1h-1zm0 3h1v1h-1zm0 2h1v2h-1zm0 3h1v1h-1zm1-81h1v1h-1zm0 76h1v1h-1zm0 5h1v1h-1zm1-88h1v1h-1zm0 4h1v1h-1zm0 80h1v1h-1zm1-65h1v1h-1zm0 66h1v3h-1zm1-8h1v1h-1zm0 8h1v1h-1zm0 2h1v1h-1zm0 2h1v1h-1zm1-63h1v1h-1zm0 26h1v1h-1zm1-46h1v1h-1zm0 29h1v1h-1zm0 46h1v1h-1zm0 3h1v1h-1zm0 2h1v1h-1zm1-76h1v1h-1zm0 4h1v1h-1zm0 5h1v1h-1zm0 65h1v1h-1zm1-76h1v1h-1zm0 22h1v1h-1zm0 22h1v1h-1zm0 4h1v1h-1zm0 3h1v1h-1zm0 19h1v1h-1zm0 7h1v1h-1zm1-98h1v1h-1zm0 16h1v1h-1zm0 29h1v1h-1zm0 18h1v1h-1zm0 35h1v1h-1zm1-81h1v1h-1zm0 4h1v1h-1zm0 10h1v2h-1zm0 10h1v1h-1zm0 5h1v1h-1zm0 12h1v1h-1zm0 18h1v1h-1zm0 20h1v1h-1zm0 2h1v1h-1zm1-99h1v1h-1zm0 21h1v1h-1zm0 52h1v1h-1zm0 26h1v1h-1zm1-85h1v1h-1zm0 21h1v1h-1zm0 9h1v1h-1zm0 17h1v1h-1zm0 2h1v1h-1zm1 34h1v2h-1zm0 3h1v1h-1zm1-40h1v1h-1zm0 9h1v1h-1zm0 2h1v1h-1zm0 3h1v1h-1zm0 24h1v1h-1zm1-93h1v1h-1zm0 92h1v1h-1zm0 3h1v1h-1zm0 2h1v1h-1zm1-102h1v1h-1zm0 4h1v1h-1zm0 3h1v1h-1zm0 23h1v1h-1zm0 60h1v1h-1zm0 7h1v1h-1zm0 2h1v2h-1zm1-89h1v2h-1zm0 44h1v1h-1zm0 43h1v1h-1zm0 2h1v1h-1zm1-78h1v1h-1zm0 50h1v1h-1zm0 27h1v1h-1zm1-95h1v1h-1zm0 3h1v1h-1zm0 17h1v2h-1zm0 3h1v1h-1zm0 5h1v2h-1zm0 49h1v1h-1zm0 7h1v1h-1zm0 8h1v1h-1zm0 4h1v1h-1zm1-97h1v1h-1zm0 7h1v1h-1zm0 31h1v1h-1zm0 18h1v1h-1zm1-36h1v1h-1zm0 2h1v1h-1zm0 73h1v2h-1zm0 3h1v1h-1zm0 2h1v1h-1zm1-103h1v1h-1zm0 7h1v1h-1zm0 7h1v1h-1zm0 5h1v2h-1zm0 4h1v1h-1zm0 28h1v1h-1zm0 9h1v2h-1zm0 22h1v1h-1zm0 5h1v1h-1zm0 10h1v3h-1zm1-94h1v1h-1zm0 7h1v1h-1zm0 6h1v1h-1zm0 7h1v1h-1zm0 3h1v1h-1zm0 8h1v1h-1zm0 51h1v1h-1z"/><path fill="#1abeb3" d="M5 8h1v1h-1zm0 46h1v1h-1zm0 44h1v1h-1zm0 2h1v1h-1zm2 4h1v1h-1zm1 0h1v1h-1zm3-2h1v1h-1zm3 1h1v1h-1zm2-1h1v1h-1zm4-12h1v1h-1zm0 13h1v1h-1zm1 1h1v1h-1zm1 1h1v1h-1zm2-72h1v2h-1zm0 69h1v1h-1zm1 1h1v1h-1zm1-88h1v1h-1zm0 87h1v1h-1zm1 1h1v1h-1zm1-20h1v2h-1zm0 8h1v3h-1zm1-48h1v2h-1zm6 34h1v1h-1zm0 26h1v2h-1zm1-21h1v1h-1zm0 18h1v1h-1zm4-91h1v1h-1zm0 94h1v1h-1zm1 0h1v1h-1zm2-65h1v1h-1zm0 2h1v1h-1zm1-39h1v1h-1zm0 36h1v1h-1zm0 20h1v1h-1zm0 46h1v1h-1zm1 0h1v1h-1zm2 0h1v1h-1zm2 1h1v1h-1zm7-101h1v1h-1zm0 12h1v3h-1zm0 9h1v1h-1zm0 16h1v1h-1zm0 28h1v1h-1zm0 31h1v1h-1zm0 3h1v1h-1zm2 1h1v1h-1zm1-98h1v1h-1zm0 98h1v1h-1zm3 0h1v1h-1zm1-91h1v1h-1zm0 22h1v1h-1zm1-6h1v1h-1zm0 22h1v3h-1zm0 5h1v1h-1zm0 23h1v3h-1zm5-65h1v2h-1zm0 5h1v1h-1zm0 9h1v1h-1zm0 26h1v1h-1zm0 49h1v1h-1zm1 1h1v1h-1zm3 0h1v1h-1zm1 1h1v1h-1zm2 0h1v1h-1zm2-15h1v2h-1zm7 14h1v1h-1zm1-73h1v1h-1zm0 6h1v1h-1zm2 66h1v1h-1zm0 2h1v1h-1zm1-85h1v3h-1zm1 18h1v2h-1zm0 67h1v1h-1zm1-35h1v1h-1zm2-2h1v1h-1zm2-60h1v1h-1zm0 99h1v1h-1zm1-64h1v1h-1zm1-30h1v1h-1zm0 30h1v1h-1zm2-29h1v1h-1zm0 59h1v1h-1zm0 7h1v1h-1zm1-78h1v2h-1zm0 90h1v1h-1zm1 14h1v1h-1zm1-88h1v1h-1zm1 16h1v1h-1zm0 3h1v2h-1zm0 40h1v1h-1zm0 22h1v1h-1zm0 7h1v1h-1zm1-105h1v1h-1zm1 5h1v1h-1zm0 87h1v1h-1zm1-74h1v1h-1zm0 2h1v1h-1zm0 4h1v1h-1zm0 51h1v1h-1zm0 30h1v1h-1zm1-67h1v1h-1zm1-6h1v1h-1zm0 57h1v1h-1zm0 6h1v1h-1zm1-54h1v1h-1zm1-31h1v1h-1zm1-5h1v1h-1zm0 8h1v1h-1zm1 22h1v1h-1zm0 2h1v1h-1zm0 68h1v1h-1zm1-39h1v1h-1zm0 9h1v1h-1zm0 25h1v1h-1zm1-71h1v1h-1zm0 56h1v1h-1zm1-55h1v3h-1zm0 20h1v3h-1zm1 11h1v1h-1zm0 44h1v1h-1zm2-70h1v1h-1zm0 22h1v1h-1zm0 48h1v1h-1zm1-91h1v1h-1zm0 21h1v1h-1zm0 35h1v1h-1zm1-54h1v1h-1zm0 53h1v1h-1zm1-40h1v2h-1zm0 4h1v2h-1zm0 48h1v1h-1zm0 2h1v1h-1zm0 3h1v1h-1zm0 18h1v1h-1zm1-75h1v1h-1zm0 27h1v1h-1zm0 21h1v1h-1zm0 9h1v1h-1zm0 19h1v1h-1zm1-84h1v1h-1zm0 16h1v1h-1zm0 3h1v1h-1zm1-7h1v1h-1zm0 72h1v1h-1zm1 0h1v1h-1zm1-69h1v1h-1zm0 24h1v1h-1zm1-59h1v1h-1zm1 65h1v1h-1zm0 30h1v1h-1zm1-68h1v1h-1zm0 22h1v1h-1zm0 2h1v2h-1zm0 26h1v2h-1zm1-69h1v1h-1zm0 2h1v1h-1zm0 10h1v1h-1zm0 20h1v1h-1zm0 11h1v1h-1zm0 24h1v1h-1zm0 23h1v1h-1zm0 4h1v2h-1zm1-34h1v1h-1zm0 6h1v1h-1zm0 2h1v1h-1zm0 15h1v1h-1zm0 4h1v1h-1zm0 9h1v1h-1zm2-94h1v1h-1zm0 8h1v2h-1zm0 33h1v2h-1zm0 12h1v1h-1zm1-63h1v1h-1zm0 62h1v1h-1zm1-1h1v1h-1zm0 39h1v1h-1zm3-86h1v2h-1zm0 63h1v1h-1zm0 27h1v1h-1zm1-25h1v1h-1zm1-21h1v1h-1zm1-42h1v1h-1zm0 61h1v1h-1zm1-52h1v1h-1zm0 79h1v1h-1zm1-94h1v1h-1zm0 8h1v1h-1zm0 35h1v1h-1zm0 8h1v1h-1zm0 16h1v2h-1zm0 7h1v1h-1zm1-42h1v1h-1zm0 43h1v1h-1zm2-14h1v1h-1zm0 34h1v1h-1zm1 1h1v1h-1zm2-106h1v2h-1zm2 16h1v1h-1zm0 89h1v2h-1zm0 5h1v1h-1zm3-6h1v1h-1zm1 0h1v1h-1zm4-38h1v1h-1zm0 37h1v1h-1zm1 0h1v1h-1zm1-44h1v1h-1zm2 44h1v1h-1zm1-92h1v1h-1zm0 92h1v1h-1zm1-93h1v1h-1zm0 93h1v1h-1zm1-26h1v1h-1zm0 5h1v1h-1zm1-11h1v1h-1zm0 13h1v1h-1zm1-71h1v1h-1zm0 47h1v1h-1zm0 27h1v1h-1zm1-75h1v1h-1zm0 18h1v2h-1zm0 39h1v1h-1zm0 34h1v1h-1zm1-38h1v1h-1zm0 3h1v1h-1zm0 20h1v1h-1zm1-25h1v1h-1zm1-17h1v1h-1zm1-19h1v1h-1zm0 31h1v1h-1zm0 45h1v1h-1zm1-61h1v1h-1zm0 39h1v1h-1zm1-73h1v1h-1zm0 34h1v1h-1zm0 7h1v1h-1zm1-46h1v1h-1zm0 7h1v1h-1zm0 54h1v1h-1zm1 20h1v1h-1zm0 16h1v1h-1zm1-90h1v1h-1zm0 5h1v1h-1zm0 15h1v1h-1zm0 12h1v1h-1zm0 42h1v1h-1zm0 13h1v1h-1zm1-97h1v1h-1zm0 59h1v1h-1zm0 17h1v1h-1zm0 7h1v1h-1zm1-3h1v1h-1zm2-72h1v1h-1zm0 2h1v1h-1zm0 32h1v1h-1zm0 3h1v1h-1zm0 54h1v1h-1zm0 3h1v1h-1zm1-103h1v1h-1zm0 31h1v1h-1zm0 26h1v1h-1zm1-34h1v1h-1zm0 16h1v2h-1zm0 15h1v1h-1zm0 17h1v1h-1zm0 2h1v1h-1zm0 30h1v1h-1zm1-44h1v1h-1zm1-51h1v1h-1zm0 29h1v1h-1zm0 12h1v2h-1zm0 33h1v1h-1zm0 16h1v1h-1zm0 2h1v1h-1zm1-72h1v1h-1zm0 8h1v1h-1zm0 19h1v1h-1zm0 24h1v1h-1zm1-35h1v1h-1zm0 42h1v1h-1zm1-25h1v1h-1zm0 6h1v1h-1zm1-66h1v1h-1zm0 4h1v1h-1zm0 11h1v1h-1zm0 20h1v1h-1zm0 34h1v2h-1zm0 11h1v1h-1zm1-50h1v1h-1zm0 7h1v1h-1zm0 6h1v1h-1zm0 39h1v1h-1zm1-52h1v1h-1zm0 10h1v1h-1zm0 63h1v1h-1zm1-102h1v1h-1zm0 6h1v1h-1zm0 20h1v1h-1zm0 28h1v1h-1zm0 2h1v1h-1zm0 40h1v1h-1zm1-94h1v1h-1zm0 2h1v1h-1zm0 58h1v1h-1zm0 6h1v1h-1zm0 15h1v1h-1zm0 16h1v2h-1zm1-73h1v1h-1zm1-25h1v1h-1zm0 32h1v1h-1zm0 16h1v1h-1zm0 32h1v2h-1zm0 14h1v1h-1zm0 4h1v1h-1zm1-28h1v1h-1zm1-40h1v1h-1zm0 44h1v3h-1zm0 26h1v1h-1zm1-66h1v1h-1zm0 36h1v1h-1zm0 14h1v1h-1zm1-38h1v1h-1zm0 11h1v1h-1zm0 6h1v1h-1zm0 42h1v1h-1zm1-97h1v1h-1zm0 7h1v1h-1zm0 29h1v1h-1zm0 2h1v1h-1zm0 5h1v1h-1zm5 51h1v1h-1zm2-3h1v1h-1zm1-31h1v1h-1zm0 10h1v1h-1zm0 15h1v1h-1zm0 2h1v1h-1zm0 5h1v1h-1zm1-62h1v1h-1zm0 7h1v2h-1zm0 44h1v1h-1zm1-80h1v1h-1zm0 2h1v1h-1zm0 9h1v1h-1zm0 13h1v1h-1zm0 12h1v2h-1zm0 39h1v2h-1zm0 13h1v3h-1zm1-86h1v1h-1zm0 10h1v1h-1zm0 23h1v1h-1zm0 17h1v2h-1zm0 12h1v1h-1zm0 18h1v1h-1zm0 3h1v1h-1zm1-64h1v1h-1zm0 18h1v1h-1zm0 6h1v1h-1zm0 5h1v1h-1zm0 21h1v1h-1zm0 4h1v1h-1zm0 12h1v1h-1zm0 2h1v1h-1zm1-93h1v1h-1zm0 6h1v2h-1zm0 3h1v1h-1zm0 11h1v1h-1zm0 13h1v1h-1zm0 7h1v1h-1zm0 34h1v1h-1zm0 15h1v2h-1zm1-73h1v2h-1zm0 61h1v1h-1zm0 6h1v1h-1zm0 10h1v1h-1zm1-71h1v1h-1zm0 17h1v1h-1zm0 39h1v1h-1zm0 12h1v1h-1zm0 3h1v1h-1zm1-88h1v1h-1zm0 87h1v1h-1zm1-88h1v1h-1zm0 41h1v2h-1zm0 29h1v1h-1zm0 18h1v1h-1zm1-68h1v1h-1zm0 2h1v1h-1zm0 23h1v1h-1zm0 16h1v1h-1zm0 26h1v1h-1zm0 2h1v1h-1zm1-97h1v1h-1zm0 14h1v1h-1zm0 6h1v1h-1zm0 30h1v1h-1zm0 4h1v1h-1zm0 2h1v1h-1zm0 11h1v1h-1zm0 5h1v1h-1zm0 5h1v1h-1zm0 9h1v1h-1zm1-51h1v1h-1zm0 2h1v1h-1zm0 30h1v1h-1zm0 10h1v2h-1zm0 6h1v1h-1zm0 9h1v1h-1zm0 4h1v2h-1zm1-93h1v1h-1zm0 11h1v1h-1zm0 21h1v1h-1zm0 2h1v1h-1zm0 14h1v1h-1zm0 6h1v3h-1zm0 26h1v1h-1zm0 2h1v1h-1zm0 6h1v2h-1zm1-77h1v1h-1zm0 6h1v1h-1zm0 2h1v3h-1zm0 5h1v3h-1zm0 5h1v3h-1zm0 16h1v1h-1zm0 2h1v1h-1zm0 2h1v1h-1zm0 4h1v1h-1zm0 10h1v1h-1zm0 8h1v1h-1zm0 4h1v1h-1zm0 12h1v3h-1zm0 6h1v1h-1zm1-94h1v1h-1zm0 5h1v1h-1zm0 3h1v1h-1zm0 23h1v1h-1zm0 2h1v4h-1zm0 15h1v1h-1zm0 4h1v1h-1zm0 6h1v1h-1zm0 24h1v1h-1zm1-57h1v2h-1zm0 5h1v1h-1zm0 2h1v1h-1zm0 13h1v1h-1zm0 10h1v1h-1zm0 10h1v1h-1zm0 12h1v1h-1zm0 12h1v2h-1zm0 3h1v1h-1zm1-91h1v2h-1zm0 11h1v1h-1zm0 16h1v1h-1zm0 2h1v1h-1zm0 5h1v1h-1zm0 11h1v1h-1zm0 7h1v1h-1zm0 9h1v3h-1zm0 15h1v1h-1zm0 14h1v1h-1zm0 2h1v1h-1zm1-76h1v1h-1zm0 5h1v1h-1zm0 18h1v1h-1zm0 12h1v1h-1zm0 2h1v1h-1zm0 3h1v1h-1zm0 2h1v2h-1zm0 4h1v2h-1zm0 10h1v1h-1zm0 2h1v4h-1zm0 13h1v1h-1zm0 3h1v1h-1zm2-87h1v1h-1zm0 18h1v2h-1zm0 16h1v3h-1zm0 19h1v2h-1zm0 6h1v1h-1zm1-54h1v1h-1zm0 7h1v1h-1zm0 52h1v1h-1zm0 7h1v1h-1zm0 7h1v1h-1zm1-1h1v1h-1zm0 2h1v1h-1zm1-50h1v2h-1zm0 60h1v1h-1zm1-59h1v1h-1zm0 2h1v1h-1zm0 56h1v1h-1zm1-97h1v1h-1zm0 3h1v1h-1zm0 4h1v1h-1zm0 5h1v2h-1zm0 7h1v1h-1zm0 22h1v1h-1zm0 58h1v1h-1zm1-96h1v1h-1zm0 3h1v1h-1zm0 3h1v1h-1zm0 19h1v1h-1zm0 30h1v2h-1zm0 11h1v1h-1zm0 13h1v1h-1zm0 10h1v1h-1zm0 5h1v1h-1zm1-90h1v1h-1zm0 3h1v1h-1zm0 26h1v1h-1zm0 7h1v2h-1zm0 4h1v1h-1zm0 14h1v2h-1zm0 11h1v2h-1zm0 5h1v1h-1zm1-45h1v2h-1zm0 41h1v1h-1zm0 25h1v1h-1zm1-97h1v1h-1zm0 41h1v1h-1zm0 58h1v1h-1zm1-2h1v1h-1zm1-52h1v1h-1zm0 4h1v2h-1zm1-40h1v1h-1zm0 2h1v3h-1zm0 6h1v1h-1zm0 16h1v1h-1zm0 4h1v1h-1zm0 8h1v1h-1zm0 2h1v1h-1zm0 7h1v1h-1zm0 19h1v1h-1zm0 17h1v1h-1zm0 2h1v1h-1zm0 2h1v1h-1zm1-69h1v1h-1zm0 4h1v1h-1zm0 3h1v2h-1zm0 12h1v1h-1zm0 8h1v1h-1zm0 8h1v1h-1zm0 4h1v1h-1zm0 2h1v1h-1zm0 7h1v1h-1zm0 2h1v3h-1zm0 4h1v2h-1zm0 16h1v1h-1zm1-96h1v1h-1zm0 3h1v1h-1zm0 4h1v1h-1zm0 9h1v1h-1zm0 16h1v3h-1zm0 12h1v3h-1zm0 19h1v2h-1zm0 3h1v2h-1zm0 16h1v1h-1zm0 19h1v1h-1zm1-90h1v1h-1zm0 17h1v1h-1zm0 22h1v1h-1zm0 27h1v1h-1zm0 7h1v1h-1zm0 6h1v1h-1zm0 9h1v2h-1zm1-96h1v1h-1zm0 10h1v1h-1zm0 23h1v1h-1zm0 3h1v1h-1zm0 4h1v1h-1zm0 16h1v1h-1zm0 23h1v1h-1zm0 11h1v1h-1zm1-23h1v2h-1zm0 23h1v2h-1zm0 3h1v1h-1zm0 3h1v2h-1zm0 3h1v1h-1zm1-93h1v1h-1zm0 13h1v1h-1zm0 39h1v1h-1zm0 8h1v1h-1zm1 27h1v1h-1zm0 2h1v2h-1zm1-52h1v1h-1zm0 4h1v1h-1zm1-48h1v1h-1zm0 49h1v1h-1zm0 7h1v1h-1zm0 5h1v2h-1zm0 35h1v1h-1zm1-19h1v1h-1zm0 18h1v2h-1zm1-35h1v2h-1zm0 23h1v1h-1zm0 6h1v1h-1zm1-91h1v1h-1zm0 5h1v1h-1zm0 20h1v2h-1zm0 8h1v2h-1zm0 24h1v1h-1zm0 5h1v1h-1zm0 11h1v1h-1zm0 6h1v1h-1zm0 8h1v1h-1zm0 9h1v1h-1zm1-80h1v3h-1zm0 28h1v1h-1zm0 18h1v1h-1zm0 18h1v2h-1zm0 16h1v1h-1zm1-87h1v1h-1zm0 88h1v1h-1zm0 2h1v2h-1zm1-98h1v1h-1zm0 2h1v1h-1zm0 78h1v1h-1zm0 16h1v1h-1zm0 3h1v1h-1zm1-88h1v2h-1zm0 51h1v1h-1zm0 28h1v1h-1zm0 5h1v1h-1zm0 2h1v2h-1zm1-9h1v1h-1zm0 9h1v1h-1zm0 2h1v1h-1zm1-38h1v1h-1zm0 36h1v1h-1zm0 2h1v1h-1zm1-86h1v1h-1zm0 3h1v2h-1zm0 4h1v2h-1zm0 34h1v1h-1zm0 3h1v3h-1zm0 39h1v2h-1zm1-92h1v1h-1zm0 95h1v1h-1zm1-79h1v1h-1zm0 17h1v1h-1zm0 22h1v1h-1zm0 23h1v1h-1zm0 5h1v1h-1zm1-70h1v1h-1zm0 2h1v2h-1zm0 6h1v1h-1zm0 13h1v1h-1zm0 4h1v1h-1zm0 6h1v1h-1zm0 5h1v1h-1zm0 2h1v1h-1zm0 22h1v1h-1zm1-78h1v1h-1zm0 6h1v1h-1zm0 2h1v1h-1zm0 18h1v1h-1zm0 37h1v1h-1zm1-47h1v2h-1zm0 3h1v1h-1zm0 10h1v1h-1zm0 10h1v1h-1zm0 10h1v2h-1zm0 5h1v1h-1zm1-44h1v1h-1zm0 14h1v1h-1zm0 16h1v1h-1zm0 9h1v1h-1zm0 3h1v1h-1zm0 3h1v1h-1zm0 8h1v3h-1zm0 33h1v1h-1zm1 4h1v1h-1zm1-77h1v1h-1zm0 45h1v1h-1zm0 4h1v1h-1zm0 12h1v1h-1zm0 11h1v1h-1zm0 4h1v1h-1zm1-72h1v1h-1zm0 14h1v1h-1zm0 8h1v1h-1zm0 5h1v2h-1zm0 30h1v1h-1zm0 11h1v1h-1zm0 5h1v1h-1zm1-100h1v1h-1zm0 3h1v1h-1zm0 4h1v2h-1zm0 38h1v1h-1zm0 27h1v2h-1zm0 11h1v1h-1zm0 13h1v3h-1zm1-97h1v1h-1zm0 12h1v2h-1zm0 9h1v2h-1zm0 8h1v2h-1zm0 3h1v1h-1zm0 6h1v1h-1zm0 11h1v1h-1zm0 27h1v1h-1zm0 9h1v1h-1zm0 12h1v1h-1zm2-88h1v1h-1zm0 9h1v1h-1zm0 8h1v1h-1zm0 3h1v1h-1zm0 6h1v1h-1zm0 15h1v4h-1zm0 5h1v1h-1zm0 6h1v1h-1zm0 4h1v2h-1zm0 5h1v1h-1zm0 2h1v1h-1zm0 5h1v1h-1zm0 10h1v1h-1zm1-34h1v1h-1zm1-27h1v1h-1zm0 34h1v1h-1zm0 41h1v1h-1zm1-76h1v1h-1zm0 2h1v1h-1zm0 3h1v1h-1zm0 19h1v1h-1zm0 10h1v1h-1zm0 23h1v1h-1zm1-79h1v1h-1zm0 30h1v1h-1zm0 13h1v1h-1zm0 11h1v1h-1zm1-13h1v1h-1zm1-2h1v1h-1zm0 34h1v1h-1zm0 25h1v1h-1zm1-100h1v1h-1zm0 19h1v1h-1zm0 12h1v1h-1zm0 19h1v1h-1zm0 44h1v1h-1zm0 5h1v1h-1zm1-79h1v1h-1zm0 14h1v1h-1zm0 66h1v1h-1zm1-80h1v1h-1zm0 3h1v1h-1zm0 10h1v1h-1zm0 32h1v1h-1zm0 6h1v1h-1zm0 3h1v1h-1zm0 17h1v1h-1zm0 7h1v1h-1zm1-96h1v1h-1zm0 28h1v1h-1zm0 12h1v1h-1zm0 5h1v1h-1zm0 18h1v2h-1zm0 6h1v1h-1zm0 22h1v1h-1zm1-94h1v1h-1zm0 28h1v2h-1zm0 4h1v1h-1zm0 12h1v1h-1zm0 3h1v1h-1zm0 14h1v1h-1zm0 5h1v1h-1zm0 14h1v1h-1zm0 13h1v1h-1zm0 4h1v1h-1zm0 2h1v1h-1zm1-99h1v1h-1zm0 4h1v1h-1zm0 3h1v1h-1zm0 4h1v3h-1zm0 9h1v1h-1zm0 15h1v1h-1zm0 10h1v2h-1zm0 4h1v1h-1zm0 49h1v1h-1zm1-82h1v1h-1zm0 28h1v1h-1zm0 3h1v1h-1zm0 16h1v1h-1zm0 8h1v1h-1zm0 27h1v1h-1zm1-87h1v1h-1zm0 4h1v1h-1zm0 69h1v1h-1zm0 13h1v1h-1zm0 3h1v1h-1zm1-98h1v1h-1zm0 18h1v1h-1zm0 33h1v1h-1zm0 16h1v1h-1zm0 2h1v1h-1zm0 18h1v1h-1zm0 2h1v1h-1zm0 6h1v2h-1zm1-82h1v3h-1zm0 24h1v1h-1zm0 10h1v1h-1zm0 37h1v1h-1zm0 13h1v1h-1zm1-99h1v1h-1zm0 4h1v1h-1zm0 8h1v1h-1zm0 3h1v1h-1zm0 52h1v1h-1zm0 21h1v1h-1zm0 2h1v1h-1zm0 2h1v1h-1zm0 7h1v1h-1zm1-98h1v1h-1zm0 3h1v2h-1zm0 4h1v1h-1zm0 17h1v1h-1zm0 6h1v1h-1zm0 19h1v1h-1zm0 45h1v1h-1zm0 4h1v1h-1zm1-99h1v2h-1zm0 6h1v1h-1zm0 13h1v1h-1zm0 7h1v1h-1zm0 6h1v1h-1zm0 3h1v2h-1zm0 14h1v1h-1zm0 12h1v1h-1zm0 9h1v1h-1zm0 3h1v1h-1zm0 9h1v1h-1zm0 10h1v1h-1zm0 5h1v1h-1zm1-91h1v1h-1zm0 15h1v2h-1zm0 14h1v2h-1zm0 4h1v1h-1zm0 13h1v2h-1zm0 4h1v1h-1zm0 3h1v1h-1zm0 6h1v1h-1zm0 2h1v1h-1zm0 35h1v1h-1zm1-93h1v1h-1zm0 2h1v1h-1zm0 4h1v1h-1zm0 16h1v1h-1zm0 11h1v1h-1zm0 11h1v1h-1zm0 38h1v1h-1zm0 4h1v2h-1zm0 5h1v1h-1zm1-65h1v1h-1zm0 29h1v2h-1zm0 25h1v1h-1zm1-72h1v1h-1zm0 18h1v2h-1zm0 13h1v1h-1zm0 16h1v1h-1zm1-60h1v1h-1zm0 13h1v1h-1zm0 2h1v2h-1zm0 9h1v1h-1zm0 5h1v1h-1zm0 11h1v1h-1zm0 22h1v2h-1zm0 9h1v1h-1zm0 25h1v1h-1z"/><path fill="#21c1ab" d="M4 82h1v1h-1zm1-57h1v1h-1zm0 31h1v1h-1zm0 46h1v1h-1zm1 0h1v2h-1zm2 1h1v1h-1zm1-1h1v1h-1zm1 2h1v1h-1zm1-90h1v1h-1zm0 23h1v2h-1zm0 5h1v1h-1zm0 5h1v1h-1zm0 5h1v2h-1zm0 4h1v3h-1zm0 5h1v2h-1zm0 11h1v1h-1zm0 29h1v1h-1zm0 2h1v1h-1zm1-1h1v1h-1zm1-27h1v2h-1zm0 3h1v1h-1zm0 25h1v1h-1zm3 0h1v1h-1zm1-4h1v1h-1zm1-29h1v1h-1zm1 33h1v1h-1zm3 1h1v1h-1zm1-1h1v1h-1zm1-84h1v2h-1zm0 19h1v3h-1zm1 42h1v2h-1zm0 6h1v2h-1zm1-80h1v1h-1zm0 10h1v1h-1zm1-9h1v2h-1zm0 26h1v1h-1zm0 58h1v1h-1zm1-35h1v1h-1zm0 21h1v1h-1zm0 25h1v1h-1zm1-60h1v1h-1zm0 4h1v1h-1zm1 57h1v1h-1zm3 0h1v1h-1zm1-16h1v1h-1zm0 17h1v1h-1zm1-26h1v1h-1zm1-41h1v1h-1zm0 43h1v2h-1zm0 4h1v1h-1zm0 18h1v1h-1zm1-22h1v1h-1zm1-61h1v2h-1zm0 84h1v1h-1zm2-103h1v1h-1zm0 32h1v2h-1zm0 19h1v5h-1zm0 12h1v1h-1zm0 8h1v1h-1zm0 31h1v1h-1zm2-75h1v1h-1zm0 77h1v1h-1zm1-28h1v1h-1zm1-76h1v1h-1zm0 3h1v2h-1zm0 40h1v1h-1zm0 51h1v1h-1zm2-55h1v1h-1zm1 48h1v1h-1zm1-70h1v2h-1zm0 3h1v2h-1zm0 3h1v1h-1zm0 2h1v3h-1zm0 5h1v1h-1zm0 30h1v2h-1zm0 33h1v3h-1zm0 4h1v1h-1zm0 5h1v1h-1zm1 0h1v1h-1zm2 1h1v2h-1zm1-64h1v1h-1zm1-20h1v1h-1zm0 37h1v1h-1zm0 2h1v2h-1zm0 3h1v1h-1zm0 4h1v1h-1zm0 2h1v3h-1zm0 35h1v1h-1zm2-45h1v1h-1zm0 46h1v1h-1zm1-99h1v1h-1zm0 66h1v1h-1zm1 33h1v1h-1zm2-39h1v1h-1zm0 19h1v1h-1zm2 19h1v1h-1zm2-101h1v1h-1zm0 31h1v1h-1zm0 30h1v1h-1zm1-44h1v1h-1zm0 36h1v1h-1zm0 48h1v1h-1zm2 1h1v1h-1zm2 0h1v1h-1zm1-95h1v1h-1zm0 11h1v1h-1zm0 9h1v2h-1zm0 8h1v1h-1zm0 67h1v1h-1zm1-1h1v1h-1zm1 2h1v1h-1zm2-49h1v1h-1zm2 48h1v1h-1zm2-81h1v1h-1zm1 25h1v1h-1zm0 6h1v1h-1zm0 21h1v1h-1zm0 12h1v1h-1zm0 6h1v2h-1zm1-42h1v3h-1zm0 53h1v1h-1zm2-1h1v1h-1zm3 1h1v2h-1zm1-1h1v1h-1zm1-68h1v1h-1zm2-15h1v1h-1zm0 39h1v2h-1zm0 9h1v1h-1zm1 36h1v1h-1zm5 6h1v1h-1zm1-92h1v1h-1zm0 42h1v1h-1zm1-16h1v1h-1zm1-29h1v1h-1zm1 72h1v1h-1zm0 3h1v1h-1zm0 16h1v1h-1zm1-103h1v2h-1zm0 12h1v1h-1zm1 91h1v1h-1zm2-100h1v1h-1zm0 59h1v1h-1zm0 18h1v1h-1zm1-77h1v1h-1zm0 2h1v1h-1zm0 12h1v1h-1zm0 49h1v1h-1zm0 4h1v1h-1zm1-56h1v1h-1zm0 47h1v1h-1zm0 19h1v1h-1zm0 14h1v1h-1zm0 5h1v1h-1zm1-76h1v1h-1zm0 13h1v1h-1zm0 4h1v1h-1zm0 3h1v1h-1zm0 12h1v1h-1zm0 4h1v1h-1zm0 2h1v1h-1zm0 14h1v1h-1zm0 2h1v1h-1zm0 5h1v1h-1zm0 4h1v1h-1zm0 7h1v1h-1zm0 4h1v1h-1zm1-82h1v1h-1zm0 2h1v1h-1zm0 3h1v1h-1zm0 7h1v1h-1zm0 56h1v1h-1zm0 6h1v1h-1zm1-89h1v1h-1zm0 45h1v2h-1zm0 47h1v1h-1zm1-60h1v1h-1zm0 15h1v1h-1zm0 9h1v1h-1zm0 44h1v1h-1zm1-95h1v1h-1zm0 12h1v1h-1zm0 2h1v2h-1zm0 19h1v1h-1zm0 2h1v1h-1zm0 8h1v1h-1zm0 2h1v1h-1zm0 6h1v1h-1zm0 9h1v1h-1zm0 2h1v1h-1zm0 2h1v1h-1zm0 2h1v1h-1zm0 26h1v1h-1zm1 4h1v1h-1zm1-99h1v1h-1zm0 6h1v1h-1zm0 17h1v1h-1zm0 38h1v1h-1zm0 40h1v1h-1zm1-91h1v1h-1zm0 53h1v1h-1zm1-51h1v2h-1zm0 17h1v1h-1zm0 35h1v1h-1zm0 9h1v1h-1zm1-37h1v3h-1zm0 11h1v1h-1zm0 9h1v1h-1zm0 6h1v1h-1zm0 20h1v2h-1zm1-8h1v1h-1zm0 14h1v1h-1zm0 3h1v1h-1zm1-24h1v2h-1zm0 27h1v1h-1zm1-72h1v1h-1zm0 67h1v1h-1zm1-73h1v2h-1zm1-16h1v1h-1zm0 4h1v1h-1zm0 26h1v1h-1zm1-21h1v1h-1zm0 46h1v1h-1zm1-47h1v1h-1zm0 5h1v1h-1zm0 30h1v1h-1zm0 50h1v1h-1zm1-69h1v1h-1zm0 11h1v1h-1zm0 16h1v1h-1zm0 17h1v1h-1zm0 28h1v1h-1zm0 3h1v2h-1zm1-88h1v2h-1zm0 3h1v1h-1zm0 17h1v2h-1zm0 8h1v2h-1zm0 44h1v1h-1zm1-59h1v1h-1zm0 12h1v1h-1zm0 21h1v1h-1zm1-60h1v2h-1zm0 65h1v1h-1zm1-20h1v1h-1zm0 15h1v1h-1zm1-61h1v1h-1zm0 6h1v1h-1zm0 57h1v1h-1zm0 36h1v1h-1zm0 5h1v1h-1zm1-17h1v1h-1zm0 7h1v1h-1zm1-92h1v1h-1zm0 24h1v1h-1zm0 4h1v1h-1zm0 8h1v1h-1zm0 11h1v1h-1zm0 2h1v1h-1zm0 37h1v1h-1zm0 17h1v1h-1zm1-95h1v1h-1zm0 27h1v1h-1zm0 6h1v1h-1zm0 32h1v1h-1zm0 15h1v2h-1zm0 7h1v2h-1zm1-87h1v1h-1zm0 5h1v1h-1zm0 21h1v1h-1zm0 27h1v1h-1zm0 5h1v1h-1zm0 20h1v2h-1zm0 3h1v1h-1zm1-58h1v1h-1zm0 8h1v1h-1zm0 23h1v1h-1zm0 40h1v1h-1zm1-98h1v1h-1zm0 12h1v1h-1zm0 36h1v1h-1zm0 12h1v1h-1zm0 20h1v1h-1zm0 4h1v1h-1zm0 15h1v1h-1zm1-105h1v1h-1zm1 59h1v1h-1zm0 4h1v1h-1zm0 7h1v1h-1zm0 33h1v1h-1zm6-98h1v1h-1zm0 8h1v1h-1zm0 31h1v1h-1zm0 6h1v2h-1zm0 35h1v2h-1zm1-83h1v5h-1zm0 16h1v1h-1zm0 29h1v2h-1zm0 34h1v1h-1zm0 7h1v1h-1zm1-78h1v1h-1zm0 51h1v1h-1zm0 9h1v4h-1zm0 7h1v1h-1zm0 9h1v1h-1zm0 3h1v1h-1zm1-49h1v1h-1zm0 31h1v2h-1zm0 14h1v1h-1zm1-46h1v1h-1zm0 5h1v1h-1zm1 61h1v1h-1zm1 1h1v1h-1zm0 3h1v1h-1zm0 2h1v1h-1zm1-101h1v1h-1zm0 4h1v1h-1zm2-11h1v1h-1zm1 3h1v1h-1zm0 104h1v1h-1zm1-96h1v1h-1zm0 91h1v1h-1zm1-85h1v1h-1zm0 21h1v1h-1zm0 11h1v1h-1zm1 9h1v2h-1zm1-54h1v1h-1zm3 2h1v1h-1zm0 53h1v1h-1zm0 42h1v1h-1zm1-100h1v1h-1zm0 57h1v1h-1zm0 3h1v1h-1zm1 2h1v1h-1zm1 38h1v1h-1zm1-36h1v1h-1zm0 36h1v1h-1zm1-38h1v1h-1zm1-4h1v1h-1zm1-46h1v1h-1zm0 28h1v1h-1zm0 23h1v1h-1zm0 11h1v1h-1zm1-22h1v1h-1zm0 8h1v1h-1zm0 11h1v1h-1zm0 14h1v1h-1zm0 15h1v1h-1zm1-61h1v1h-1zm0 22h1v1h-1zm0 8h1v1h-1zm0 6h1v1h-1zm0 2h1v1h-1zm0 9h1v1h-1zm1-74h1v1h-1zm0 37h1v1h-1zm0 6h1v1h-1zm0 30h1v1h-1zm1-59h1v1h-1zm0 14h1v1h-1zm0 23h1v1h-1zm0 23h1v1h-1zm1-36h1v2h-1zm0 11h1v1h-1zm0 39h1v1h-1zm2-101h1v1h-1zm0 78h1v1h-1zm1 4h1v1h-1zm1-81h1v1h-1zm0 4h1v3h-1zm0 44h1v1h-1zm0 45h1v1h-1zm1-90h1v1h-1zm0 5h1v2h-1zm1-9h1v1h-1zm0 44h1v1h-1zm0 8h1v1h-1zm0 31h1v2h-1zm0 10h1v2h-1zm0 7h1v1h-1zm1-83h1v1h-1zm0 7h1v2h-1zm0 26h1v1h-1zm0 2h1v1h-1zm0 47h1v2h-1zm1-88h1v1h-1zm0 18h1v1h-1zm1-30h1v1h-1zm0 14h1v1h-1zm0 58h1v1h-1zm0 2h1v1h-1zm0 7h1v1h-1zm1-28h1v1h-1zm0 3h1v1h-1zm0 45h1v1h-1zm1-97h1v1h-1zm0 17h1v1h-1zm0 21h1v1h-1zm0 21h1v1h-1zm0 18h1v1h-1zm0 17h1v1h-1zm0 3h1v2h-1zm1-103h1v1h-1zm0 7h1v2h-1zm0 40h1v1h-1zm0 27h1v1h-1zm0 21h1v1h-1zm0 3h1v1h-1zm1-71h1v1h-1zm0 11h1v1h-1zm0 29h1v1h-1zm0 6h1v1h-1zm0 20h1v1h-1zm0 11h1v1h-1zm1-66h1v1h-1zm0 54h1v1h-1zm1-10h1v1h-1zm0 19h1v3h-1zm1-91h1v1h-1zm0 2h1v1h-1zm0 20h1v1h-1zm0 4h1v1h-1zm0 15h1v1h-1zm0 4h1v1h-1zm0 24h1v1h-1zm0 17h1v1h-1zm0 5h1v1h-1zm1-98h1v1h-1zm0 7h1v1h-1zm0 2h1v2h-1zm0 14h1v1h-1zm0 28h1v1h-1zm0 23h1v1h-1zm0 4h1v1h-1zm0 13h1v1h-1zm0 2h1v1h-1zm1-90h1v3h-1zm0 8h1v1h-1zm0 24h1v1h-1zm0 5h1v1h-1zm0 21h1v1h-1zm0 24h1v1h-1zm1-86h1v2h-1zm0 24h1v1h-1zm0 11h1v1h-1zm0 15h1v1h-1zm0 5h1v1h-1zm0 28h1v1h-1zm0 9h1v1h-1zm1-94h1v1h-1zm0 6h1v1h-1zm0 31h1v1h-1zm0 6h1v1h-1zm1-13h1v1h-1zm0 25h1v1h-1zm0 43h1v1h-1zm0 2h1v1h-1zm1-99h1v1h-1zm0 22h1v1h-1zm0 4h1v1h-1zm0 11h1v1h-1zm0 18h1v1h-1zm0 11h1v2h-1zm1-64h1v1h-1zm0 3h1v1h-1zm0 3h1v1h-1zm0 51h1v1h-1zm0 27h1v1h-1zm0 5h1v1h-1zm0 11h1v1h-1zm1-76h1v1h-1zm0 33h1v1h-1zm0 12h1v2h-1zm0 3h1v1h-1zm0 12h1v1h-1zm1-4h1v1h-1zm0 8h1v1h-1zm0 7h1v1h-1zm1-13h1v1h-1zm1-23h1v1h-1zm0 5h1v1h-1zm0 10h1v1h-1zm0 19h1v1h-1zm0 5h1v1h-1zm1-67h1v1h-1zm0 40h1v1h-1zm0 15h1v1h-1zm0 13h1v1h-1zm1-99h1v1h-1zm0 14h1v1h-1zm0 63h1v1h-1zm1-53h1v1h-1zm0 8h1v1h-1zm0 12h1v1h-1zm0 12h1v1h-1zm1-58h1v1h-1zm0 9h1v1h-1zm0 24h1v1h-1zm0 8h1v1h-1zm0 28h1v2h-1zm1-67h1v1h-1zm0 26h1v1h-1zm1-12h1v1h-1zm0 11h1v1h-1zm3-21h1v1h-1zm0 96h1v2h-1zm1-97h1v1h-1zm1 68h1v3h-1zm0 27h1v1h-1zm1-95h1v1h-1zm0 5h1v3h-1zm0 61h1v1h-1zm1-64h1v1h-1zm0 34h1v1h-1zm0 14h1v1h-1zm0 11h1v1h-1zm0 14h1v1h-1zm1-51h1v1h-1zm0 3h1v2h-1zm0 4h1v1h-1zm0 23h1v1h-1zm0 19h1v1h-1zm0 17h1v1h-1zm0 2h1v1h-1zm1-73h1v1h-1zm0 12h1v1h-1zm0 30h1v1h-1zm0 8h1v1h-1zm0 6h1v1h-1zm0 14h1v1h-1zm2-92h1v1h-1zm0 2h1v1h-1zm0 5h1v3h-1zm0 19h1v2h-1zm0 3h1v1h-1zm0 8h1v1h-1zm0 19h1v1h-1zm0 5h1v2h-1zm0 11h1v1h-1zm0 3h1v1h-1zm0 3h1v1h-1zm0 19h1v1h-1zm1-90h1v1h-1zm0 7h1v1h-1zm0 20h1v1h-1zm0 3h1v1h-1zm0 9h1v1h-1zm0 20h1v1h-1zm0 9h1v1h-1zm0 9h1v1h-1zm0 9h1v1h-1zm0 2h1v1h-1zm1 1h1v1h-1zm0 3h1v1h-1zm1-76h1v1h-1zm0 4h1v1h-1zm0 4h1v2h-1zm0 9h1v2h-1zm0 56h1v1h-1zm0 2h1v1h-1zm1-96h1v1h-1zm0 3h1v2h-1zm0 35h1v1h-1zm0 42h1v1h-1zm0 4h1v1h-1zm0 8h1v1h-1zm0 2h1v1h-1zm1-87h1v1h-1zm0 14h1v1h-1zm0 32h1v1h-1zm0 2h1v1h-1zm0 4h1v1h-1zm0 26h1v2h-1zm0 10h1v1h-1zm1-85h1v1h-1zm0 4h1v1h-1zm0 4h1v1h-1zm0 26h1v1h-1zm0 4h1v1h-1zm0 11h1v2h-1zm0 3h1v1h-1zm0 3h1v1h-1zm0 10h1v1h-1zm0 11h1v1h-1zm0 7h1v1h-1zm1-67h1v1h-1zm0 6h1v1h-1zm0 5h1v1h-1zm0 2h1v2h-1zm0 9h1v1h-1zm0 14h1v1h-1zm0 27h1v1h-1zm0 4h1v1h-1zm1-92h1v1h-1zm0 7h1v2h-1zm0 12h1v1h-1zm0 9h1v2h-1zm0 8h1v1h-1zm0 12h1v1h-1zm0 4h1v3h-1zm0 20h1v2h-1zm0 7h1v1h-1zm0 8h1v1h-1zm0 7h1v2h-1zm1-94h1v1h-1zm0 2h1v1h-1zm0 11h1v1h-1zm0 26h1v1h-1zm0 3h1v1h-1zm0 2h1v1h-1zm0 21h1v1h-1zm0 4h1v1h-1zm0 2h1v1h-1zm0 2h1v1h-1zm0 2h1v1h-1zm0 6h1v1h-1zm0 5h1v1h-1zm0 5h1v1h-1zm1-94h1v3h-1zm0 4h1v1h-1zm0 2h1v1h-1zm0 3h1v1h-1zm0 11h1v1h-1zm0 2h1v2h-1zm0 19h1v1h-1zm0 15h1v1h-1zm0 16h1v1h-1zm0 2h1v1h-1zm0 10h1v1h-1zm0 2h1v1h-1zm0 5h1v2h-1zm1-83h1v1h-1zm0 6h1v1h-1zm0 9h1v1h-1zm0 2h1v1h-1zm0 2h1v1h-1zm0 7h1v1h-1zm0 5h1v2h-1zm0 17h1v1h-1zm0 20h1v1h-1zm0 14h1v2h-1zm2-78h1v1h-1zm0 3h1v1h-1zm0 2h1v1h-1zm0 12h1v1h-1zm0 5h1v1h-1zm0 7h1v2h-1zm0 8h1v1h-1zm0 4h1v1h-1zm0 22h1v1h-1zm0 2h1v1h-1zm0 5h1v1h-1zm0 2h1v1h-1zm1-85h1v2h-1zm0 4h1v1h-1zm0 9h1v1h-1zm0 5h1v1h-1zm0 6h1v2h-1zm0 10h1v1h-1zm0 7h1v1h-1zm0 2h1v2h-1zm0 9h1v1h-1zm0 7h1v2h-1zm0 3h1v1h-1zm0 4h1v2h-1zm0 4h1v1h-1zm0 4h1v1h-1zm0 20h1v1h-1zm1-89h1v1h-1zm0 8h1v1h-1zm0 4h1v2h-1zm0 3h1v1h-1zm0 2h1v1h-1zm0 26h1v1h-1zm0 22h1v1h-1zm0 2h1v1h-1zm0 6h1v1h-1zm0 3h1v1h-1zm0 2h1v1h-1zm0 8h1v1h-1zm0 4h1v3h-1zm1-78h1v1h-1zm0 2h1v1h-1zm0 14h1v1h-1zm0 32h1v1h-1zm0 12h1v1h-1zm0 19h1v1h-1zm1-82h1v1h-1zm0 53h1v1h-1zm0 11h1v1h-1zm0 6h1v1h-1zm0 11h1v1h-1zm1-78h1v3h-1zm0 4h1v1h-1zm0 7h1v1h-1zm0 27h1v1h-1zm0 40h1v1h-1zm0 5h1v1h-1zm1-61h1v1h-1zm0 22h1v1h-1zm0 19h1v1h-1zm0 17h1v1h-1zm1-94h1v1h-1zm0 4h1v2h-1zm0 3h1v1h-1zm0 3h1v1h-1zm0 25h1v1h-1zm0 8h1v1h-1zm0 14h1v1h-1zm0 8h1v2h-1zm0 11h1v1h-1zm0 8h1v1h-1zm0 5h1v1h-1zm2-85h1v2h-1zm0 3h1v2h-1zm0 8h1v1h-1zm0 13h1v1h-1zm0 5h1v1h-1zm0 4h1v2h-1zm0 4h1v1h-1zm0 3h1v2h-1zm0 16h1v1h-1zm0 5h1v2h-1zm0 21h1v2h-1zm0 3h1v1h-1zm0 3h1v1h-1zm1-96h1v1h-1zm0 7h1v1h-1zm0 2h1v1h-1zm0 12h1v1h-1zm0 10h1v1h-1zm0 13h1v1h-1zm0 24h1v2h-1zm0 7h1v1h-1zm0 8h1v3h-1zm0 13h1v1h-1zm0 5h1v1h-1zm1-98h1v1h-1zm0 10h1v2h-1zm0 40h1v1h-1zm0 26h1v1h-1zm0 18h1v1h-1zm0 2h1v1h-1zm0 2h1v1h-1zm1-90h1v1h-1zm0 2h1v1h-1zm0 18h1v1h-1zm0 30h1v2h-1zm0 9h1v1h-1zm0 29h1v1h-1zm1-47h1v1h-1zm0 44h1v1h-1zm0 2h1v1h-1zm0 3h1v1h-1zm1-100h1v1h-1zm0 6h1v1h-1zm0 12h1v2h-1zm0 17h1v1h-1zm0 3h1v1h-1zm0 8h1v1h-1zm0 3h1v4h-1zm0 14h1v2h-1zm0 8h1v1h-1zm0 9h1v1h-1zm0 5h1v1h-1zm0 2h1v1h-1zm0 2h1v1h-1zm0 4h1v1h-1zm0 2h1v2h-1zm2-92h1v1h-1zm0 4h1v1h-1zm0 6h1v2h-1zm0 4h1v1h-1zm0 9h1v1h-1zm0 3h1v1h-1zm0 5h1v1h-1zm0 8h1v1h-1zm0 8h1v2h-1zm0 5h1v2h-1zm0 17h1v1h-1zm0 8h1v1h-1zm0 8h1v1h-1zm0 4h1v1h-1zm0 5h1v1h-1zm1-90h1v1h-1zm0 10h1v1h-1zm0 11h1v2h-1zm0 19h1v1h-1zm0 3h1v1h-1zm0 2h1v1h-1zm0 7h1v1h-1zm0 13h1v1h-1zm0 3h1v1h-1zm0 3h1v1h-1zm0 19h1v1h-1zm1-97h1v2h-1zm0 3h1v1h-1zm0 7h1v1h-1zm0 3h1v1h-1zm0 5h1v1h-1zm0 5h1v1h-1zm0 5h1v1h-1zm0 4h1v1h-1zm0 2h1v1h-1zm0 2h1v2h-1zm0 3h1v1h-1zm0 7h1v1h-1zm0 23h1v3h-1zm0 11h1v1h-1zm0 13h1v1h-1zm0 4h1v2h-1zm1-85h1v2h-1zm0 5h1v1h-1zm0 33h1v1h-1zm0 18h1v1h-1zm0 13h1v1h-1zm1-65h1v1h-1zm0 4h1v1h-1zm0 20h1v1h-1zm0 25h1v1h-1zm0 6h1v1h-1zm0 28h1v1h-1zm1-85h1v1h-1zm0 31h1v3h-1zm0 11h1v1h-1zm0 11h1v1h-1zm0 2h1v1h-1zm0 22h1v1h-1zm0 5h1v1h-1zm1-95h1v1h-1zm0 2h1v1h-1zm0 27h1v1h-1zm0 2h1v1h-1zm0 23h1v1h-1zm0 16h1v1h-1zm0 9h1v3h-1zm0 18h1v1h-1zm1-98h1v1h-1zm0 4h1v1h-1zm0 34h1v2h-1zm0 22h1v1h-1zm0 19h1v1h-1zm0 17h1v1h-1zm0 2h1v1h-1zm1-66h1v1h-1zm0 23h1v1h-1zm0 17h1v1h-1zm0 9h1v2h-1zm0 17h1v1h-1zm1-97h1v2h-1zm0 36h1v1h-1zm0 34h1v2h-1zm0 6h1v1h-1zm0 20h1v1h-1zm1-97h1v1h-1zm0 5h1v1h-1zm0 17h1v1h-1zm0 7h1v1h-1zm0 2h1v1h-1zm0 7h1v1h-1zm0 12h1v1h-1zm0 9h1v1h-1zm0 9h1v1h-1zm0 3h1v1h-1zm0 3h1v2h-1zm0 9h1v1h-1zm0 7h1v1h-1zm0 6h1v2h-1zm1-77h1v2h-1zm0 14h1v1h-1zm0 9h1v1h-1zm0 56h1v2h-1zm1-81h1v1h-1zm0 4h1v1h-1zm0 6h1v1h-1zm0 68h1v1h-1zm1-94h1v1h-1zm0 10h1v2h-1zm0 46h1v3h-1zm0 24h1v1h-1zm0 14h1v1h-1zm0 3h1v1h-1zm1-92h1v1h-1zm0 47h1v1h-1zm0 2h1v1h-1zm0 13h1v1h-1zm0 18h1v1h-1zm0 5h1v2h-1zm0 5h1v1h-1zm1-86h1v2h-1zm0 7h1v1h-1zm0 11h1v1h-1zm0 3h1v1h-1zm0 8h1v1h-1zm0 23h1v1h-1zm0 8h1v2h-1zm0 21h1v3h-1zm1-21h1v1h-1zm0 2h1v1h-1zm0 10h1v1h-1zm0 13h1v1h-1zm1-88h1v2h-1zm0 72h1v1h-1zm0 4h1v1h-1zm0 12h1v1h-1zm1-36h1v1h-1zm0 8h1v2h-1zm0 3h1v1h-1zm0 14h1v1h-1zm0 6h1v1h-1zm0 8h1v1h-1zm1-96h1v1h-1zm0 15h1v1h-1zm0 6h1v1h-1zm0 11h1v1h-1zm0 8h1v1h-1zm0 21h1v1h-1zm0 16h1v2h-1zm0 7h1v1h-1zm0 3h1v1h-1zm1-68h1v1h-1zm0 20h1v1h-1zm0 6h1v1h-1zm0 29h1v1h-1zm0 8h1v1h-1zm0 10h1v4h-1zm1-82h1v1h-1zm0 10h1v1h-1zm0 2h1v1h-1zm0 8h1v1h-1zm0 8h1v1h-1zm0 5h1v1h-1zm0 2h1v1h-1zm0 11h1v1h-1zm0 9h1v2h-1zm0 6h1v1h-1zm0 14h1v1h-1zm0 2h1v1h-1zm0 4h1v2h-1zm0 3h1v1h-1zm1-82h1v1h-1zm0 5h1v2h-1zm0 7h1v1h-1zm0 21h1v1h-1zm0 4h1v1h-1zm0 10h1v1h-1zm0 11h1v1h-1zm0 2h1v1h-1zm0 21h1v1h-1zm1-90h1v1h-1zm0 28h1v1h-1zm0 8h1v1h-1zm0 8h1v1h-1zm0 3h1v1h-1zm0 3h1v1h-1zm0 10h1v2h-1zm0 3h1v2h-1zm0 16h1v1h-1zm0 2h1v1h-1zm0 3h1v1h-1zm0 7h1v1h-1zm1-80h1v1h-1zm0 21h1v1h-1zm0 19h1v1h-1zm0 41h1v1h-1zm1-99h1v3h-1zm0 16h1v2h-1zm0 22h1v1h-1zm0 13h1v3h-1zm0 21h1v1h-1zm0 25h1v1h-1zm1-95h1v1h-1zm0 2h1v1h-1zm0 4h1v1h-1zm0 5h1v1h-1zm0 5h1v1h-1zm0 2h1v2h-1zm0 4h1v1h-1zm0 9h1v1h-1zm0 5h1v1h-1zm0 5h1v1h-1zm0 15h1v1h-1zm0 30h1v1h-1zm0 5h1v1h-1zm0 4h1v1h-1zm0 2h1v1h-1zm1-99h1v1h-1zm0 5h1v2h-1zm0 15h1v1h-1zm0 25h1v1h-1zm0 18h1v1h-1zm0 5h1v1h-1zm0 27h1v2h-1zm1-92h1v4h-1zm0 8h1v1h-1zm0 3h1v2h-1zm0 5h1v1h-1zm0 4h1v1h-1zm0 13h1v2h-1zm0 20h1v1h-1zm0 5h1v2h-1zm0 7h1v2h-1zm0 4h1v1h-1zm0 7h1v1h-1zm0 8h1v2h-1zm0 3h1v1h-1zm0 3h1v1h-1zm1-81h1v1h-1zm0 3h1v2h-1zm0 10h1v1h-1zm0 6h1v1h-1zm0 3h1v1h-1zm0 4h1v1h-1zm0 10h1v1h-1zm0 6h1v1h-1zm0 3h1v1h-1zm0 6h1v1h-1zm0 2h1v2h-1zm0 3h1v1h-1zm0 17h1v1h-1zm0 5h1v1h-1zm0 7h1v1h-1zm0 2h1v1h-1zm2-87h1v1h-1zm0 25h1v1h-1zm0 12h1v2h-1zm0 3h1v1h-1zm0 11h1v2h-1zm0 3h1v1h-1zm0 7h1v1h-1zm0 2h1v2h-1zm0 19h1v1h-1zm0 2h1v2h-1zm1-94h1v1h-1zm0 10h1v1h-1zm0 2h1v1h-1zm0 48h1v1h-1zm0 22h1v2h-1zm0 16h1v1h-1zm1-96h1v1h-1zm0 20h1v1h-1zm0 2h1v1h-1zm0 6h1v1h-1zm0 5h1v1h-1zm0 8h1v2h-1zm0 13h1v1h-1zm0 17h1v1h-1zm0 2h1v2h-1zm0 7h1v1h-1zm0 3h1v1h-1zm0 10h1v2h-1zm0 3h1v1h-1zm1-99h1v2h-1zm0 6h1v1h-1zm0 6h1v1h-1zm0 34h1v1h-1zm0 11h1v1h-1zm0 41h1v1h-1zm1-94h1v1h-1zm0 43h1v1h-1zm1-27h1v1h-1zm0 12h1v1h-1zm0 6h1v1h-1zm0 12h1v1h-1zm0 29h1v1h-1zm0 10h1v1h-1zm0 7h1v1h-1zm0 2h1v2h-1zm1-99h1v1h-1zm0 31h1v1h-1zm0 18h1v1h-1zm0 12h1v1h-1zm0 14h1v1h-1zm0 3h1v1h-1zm0 12h1v1h-1zm1-84h1v1h-1zm0 16h1v1h-1zm0 2h1v1h-1zm0 6h1v2h-1zm0 3h1v1h-1zm0 10h1v2h-1zm0 28h1v2h-1zm0 14h1v1h-1zm0 13h1v1h-1zm1-87h1v1h-1zm0 2h1v1h-1zm0 14h1v1h-1zm0 3h1v1h-1zm0 2h1v2h-1zm0 7h1v1h-1zm0 7h1v1h-1zm0 2h1v1h-1zm0 17h1v1h-1zm0 16h1v1h-1zm0 4h1v2h-1zm0 13h1v1h-1zm1-81h1v1h-1zm0 13h1v1h-1zm0 9h1v1h-1zm0 7h1v1h-1zm0 5h1v1h-1zm0 3h1v2h-1zm0 15h1v1h-1zm0 16h1v1h-1zm0 13h1v2h-1zm1-97h1v1h-1zm0 2h1v1h-1zm0 3h1v1h-1zm0 3h1v1h-1zm0 9h1v1h-1zm0 2h1v1h-1zm0 2h1v1h-1zm0 13h1v1h-1zm0 7h1v1h-1zm0 7h1v1h-1zm0 3h1v1h-1zm0 7h1v1h-1zm0 8h1v1h-1zm0 10h1v1h-1zm0 2h1v1h-1zm0 8h1v2h-1zm1-85h1v2h-1zm0 3h1v2h-1zm0 10h1v1h-1zm0 15h1v2h-1zm0 10h1v1h-1zm0 12h1v1h-1zm0 9h1v3h-1zm0 6h1v1h-1zm0 8h1v1h-1zm0 4h1v1h-1zm0 2h1v1h-1zm0 2h1v2h-1zm0 6h1v1h-1zm0 3h1v2h-1zm0 5h1v1h-1zm1-91h1v1h-1zm0 11h1v1h-1zm0 2h1v1h-1zm0 9h1v1h-1zm0 7h1v1h-1zm0 13h1v1h-1zm0 30h1v1h-1zm0 21h1v2h-1zm1-41h1v1h-1zm0 3h1v2h-1zm0 8h1v2h-1zm0 14h1v1h-1zm1-77h1v1h-1zm0 13h1v1h-1zm0 15h1v1h-1zm0 2h1v1h-1zm0 10h1v1h-1zm0 3h1v1h-1zm0 7h1v1h-1zm0 6h1v1h-1zm0 21h1v1h-1zm0 7h1v1h-1zm1-88h1v1h-1zm0 17h1v2h-1zm0 3h1v1h-1zm0 5h1v1h-1zm0 39h1v1h-1zm0 15h1v1h-1zm0 4h1v1h-1zm0 2h1v1h-1zm0 3h1v2h-1zm1-71h1v1h-1zm0 24h1v1h-1zm0 10h1v1h-1zm0 10h1v2h-1zm0 6h1v2h-1zm0 3h1v1h-1zm0 2h1v1h-1zm0 20h1v1h-1zm1-87h1v1h-1zm0 6h1v1h-1zm0 10h1v1h-1zm0 4h1v4h-1zm0 22h1v1h-1zm0 2h1v1h-1zm0 17h1v1h-1zm0 4h1v1h-1zm0 2h1v1h-1zm0 6h1v1h-1zm0 9h1v1h-1zm0 7h1v2h-1zm1-75h1v1h-1zm0 4h1v1h-1zm0 8h1v2h-1zm0 11h1v2h-1zm0 16h1v1h-1zm0 9h1v1h-1zm0 2h1v1h-1zm0 3h1v1h-1zm0 5h1v1h-1zm0 2h1v1h-1zm0 7h1v1h-1zm0 6h1v1h-1zm1-91h1v1h-1zm0 5h1v1h-1zm0 20h1v1h-1zm0 12h1v1h-1zm0 4h1v1h-1zm0 2h1v1h-1zm0 2h1v1h-1zm0 3h1v1h-1zm0 3h1v1h-1zm0 4h1v1h-1zm0 6h1v1h-1zm0 2h1v1h-1zm0 5h1v1h-1zm0 8h1v1h-1zm0 5h1v1h-1zm0 3h1v1h-1zm0 5h1v1h-1zm0 3h1v1h-1zm1-88h1v1h-1zm0 5h1v1h-1zm0 4h1v1h-1zm0 10h1v1h-1zm0 7h1v1h-1zm0 4h1v1h-1zm0 3h1v1h-1zm0 3h1v1h-1zm0 5h1v2h-1zm0 10h1v1h-1zm0 10h1v1h-1zm0 5h1v1h-1zm0 7h1v1h-1zm1-72h1v1h-1zm0 2h1v1h-1zm0 11h1v1h-1zm0 3h1v1h-1zm0 10h1v1h-1zm0 2h1v1h-1zm0 5h1v1h-1zm0 16h1v3h-1zm0 20h1v1h-1zm0 3h1v1h-1zm0 7h1v1h-1zm0 4h1v4h-1zm0 6h1v1h-1zm0 3h1v1h-1zm1-84h1v1h-1zm0 2h1v1h-1zm0 3h1v1h-1zm0 7h1v1h-1zm0 9h1v1h-1zm0 25h1v1h-1zm0 3h1v1h-1zm0 5h1v1h-1zm0 10h1v2h-1zm0 6h1v1h-1zm0 3h1v3h-1zm0 5h1v1h-1zm0 2h1v1h-1zm1-95h1v2h-1zm0 14h1v1h-1zm0 9h1v1h-1zm0 11h1v2h-1zm0 6h1v1h-1zm0 4h1v2h-1zm0 8h1v1h-1zm0 5h1v1h-1zm0 5h1v1h-1zm0 11h1v1h-1zm0 2h1v1h-1zm0 7h1v2h-1zm0 9h1v1h-1zm0 5h1v1h-1z"/><path fill="#2bc3a1" d="M0 103h1v1h-1zm1 0h1v1h-1zm1-1h1v1h-1zm1 1h1v1h-1zm1-87h1v1h-1zm0 5h1v1h-1zm0 60h1v1h-1zm0 22h1v1h-1zm1-103h1v3h-1zm0 17h1v1h-1zm0 9h1v1h-1zm0 48h1v2h-1zm0 3h1v2h-1zm0 4h1v1h-1zm0 20h1v1h-1zm1-81h1v1h-1zm0 9h1v1h-1zm1 74h1v1h-1zm1-1h1v1h-1zm1-61h1v1h-1zm1 61h1v2h-1zm1-66h1v1h-1zm0 3h1v2h-1zm0 4h1v1h-1zm0 6h1v2h-1zm0 11h1v1h-1zm0 4h1v1h-1zm0 2h1v1h-1zm0 34h1v1h-1zm1-34h1v2h-1zm0 37h1v1h-1zm1-68h1v1h-1zm0 39h1v1h-1zm0 28h1v1h-1zm4 0h1v1h-1zm2-34h1v1h-1zm1-68h1v1h-1zm0 81h1v1h-1zm0 11h1v3h-1zm1-77h1v1h-1zm0 20h1v1h-1zm1 67h1v1h-1zm2-84h1v1h-1zm0 19h1v1h-1zm0 5h1v2h-1zm0 47h1v1h-1zm1-80h1v1h-1zm0 17h1v1h-1zm0 28h1v1h-1zm0 41h1v1h-1zm1-88h1v1h-1zm0 10h1v2h-1zm1-8h1v1h-1zm0 83h1v1h-1zm0 10h1v1h-1zm1-45h1v2h-1zm1-57h1v3h-1zm0 9h1v1h-1zm0 36h1v1h-1zm0 2h1v1h-1zm0 6h1v1h-1zm0 15h1v1h-1zm0 32h1v1h-1zm0 2h1v1h-1zm1-65h1v1h-1zm2 66h1v1h-1zm2-17h1v1h-1zm0 17h1v1h-1zm2-92h1v1h-1zm0 55h1v1h-1zm0 3h1v1h-1zm0 3h1v1h-1zm0 2h1v2h-1zm0 4h1v2h-1zm0 5h1v1h-1zm1-12h1v3h-1zm0 20h1v1h-1zm0 11h1v1h-1zm1 0h1v1h-1zm1-99h1v1h-1zm0 100h1v1h-1zm1-58h1v1h-1zm0 4h1v2h-1zm0 13h1v1h-1zm0 2h1v1h-1zm0 8h1v1h-1zm1 30h1v1h-1zm1-33h1v1h-1zm1-30h1v1h-1zm0 38h1v1h-1zm0 5h1v1h-1zm0 6h1v2h-1zm0 14h1v2h-1zm1-100h1v1h-1zm0 3h1v1h-1zm0 31h1v1h-1zm0 59h1v1h-1zm1 7h1v1h-1zm1-73h1v2h-1zm0 73h1v2h-1zm1 0h1v1h-1zm1-90h1v1h-1zm0 3h1v2h-1zm0 4h1v1h-1zm0 3h1v1h-1zm0 2h1v1h-1zm0 4h1v2h-1zm0 35h1v2h-1zm0 10h1v1h-1zm0 4h1v1h-1zm0 6h1v5h-1zm0 9h1v1h-1zm2-82h1v1h-1zm2 28h1v1h-1zm0 21h1v1h-1zm0 44h1v1h-1zm1-94h1v1h-1zm0 14h1v1h-1zm0 6h1v1h-1zm0 17h1v1h-1zm0 2h1v2h-1zm0 14h1v3h-1zm1 41h1v1h-1zm1-48h1v1h-1zm0 3h1v1h-1zm1-39h1v1h-1zm0 40h1v3h-1zm0 10h1v1h-1zm3-37h1v2h-1zm0 30h1v2h-1zm0 22h1v1h-1zm0 4h1v1h-1zm0 2h1v1h-1zm1 13h1v1h-1zm1-5h1v1h-1zm1-25h1v1h-1zm0 11h1v1h-1zm0 18h1v1h-1zm1-100h1v1h-1zm0 4h1v1h-1zm0 10h1v2h-1zm0 19h1v4h-1zm0 8h1v2h-1zm0 10h1v1h-1zm0 7h1v1h-1zm1-29h1v1h-1zm0 22h1v1h-1zm0 4h1v1h-1zm0 36h1v2h-1zm2 9h1v1h-1zm1-53h1v1h-1zm1-36h1v3h-1zm0 13h1v1h-1zm0 76h1v1h-1zm1-100h1v1h-1zm0 4h1v1h-1zm0 4h1v3h-1zm0 7h1v1h-1zm0 20h1v1h-1zm0 7h1v1h-1zm0 57h1v1h-1zm3-34h1v1h-1zm0 36h1v1h-1zm1-47h1v1h-1zm1 47h1v1h-1zm1-1h1v1h-1zm1 1h1v1h-1zm1-80h1v2h-1zm0 39h1v1h-1zm0 40h1v1h-1zm1-99h1v1h-1zm0 35h1v1h-1zm0 4h1v1h-1zm0 2h1v3h-1zm0 4h1v1h-1zm0 2h1v1h-1zm0 2h1v1h-1zm0 3h1v1h-1zm0 17h1v1h-1zm0 3h1v2h-1zm0 3h1v4h-1zm0 13h1v1h-1zm0 3h1v2h-1zm0 6h1v2h-1zm3 3h1v1h-1zm1-1h1v1h-1zm1 0h1v1h-1zm3-73h1v1h-1zm0 6h1v1h-1zm0 27h1v1h-1zm0 40h1v1h-1zm1-85h1v1h-1zm0 19h1v1h-1zm1 26h1v1h-1zm0 4h1v1h-1zm2-46h1v1h-1zm0 13h1v2h-1zm0 55h1v3h-1zm0 14h1v1h-1zm1-99h1v1h-1zm0 67h1v1h-1zm0 8h1v1h-1zm1-72h1v1h-1zm0 14h1v1h-1zm0 37h1v1h-1zm1-55h1v1h-1zm1 105h1v1h-1zm1-86h1v1h-1zm1-6h1v1h-1zm0 8h1v1h-1zm0 4h1v1h-1zm0 9h1v2h-1zm0 4h1v2h-1zm1-29h1v1h-1zm0 26h1v1h-1zm0 6h1v1h-1zm0 2h1v2h-1zm1 55h1v1h-1zm1-94h1v1h-1zm0 5h1v1h-1zm0 21h1v1h-1zm0 50h1v1h-1zm1-71h1v1h-1zm0 81h1v1h-1zm1-13h1v1h-1zm0 3h1v1h-1zm0 10h1v1h-1zm0 10h1v1h-1zm1-84h1v1h-1zm0 8h1v1h-1zm0 36h1v1h-1zm1-54h1v1h-1zm0 7h1v1h-1zm0 3h1v1h-1zm0 14h1v1h-1zm0 2h1v1h-1zm0 5h1v1h-1zm0 16h1v1h-1zm0 18h1v1h-1zm0 27h1v1h-1zm1-82h1v1h-1zm0 8h1v1h-1zm0 4h1v1h-1zm0 2h1v1h-1zm0 3h1v1h-1zm0 18h1v1h-1zm0 30h1v1h-1zm0 6h1v1h-1zm0 8h1v1h-1zm0 5h1v1h-1zm0 2h1v1h-1zm1-100h1v1h-1zm0 3h1v2h-1zm0 3h1v1h-1zm0 6h1v1h-1zm0 14h1v1h-1zm0 3h1v2h-1zm0 4h1v1h-1zm0 3h1v2h-1zm0 15h1v2h-1zm0 3h1v1h-1zm0 4h1v1h-1zm0 7h1v1h-1zm0 24h1v1h-1zm1-87h1v1h-1zm0 2h1v1h-1zm0 31h1v1h-1zm0 9h1v1h-1zm0 10h1v1h-1zm0 32h1v1h-1zm0 5h1v1h-1zm0 9h1v1h-1zm2-101h1v1h-1zm0 28h1v1h-1zm0 30h1v1h-1zm0 3h1v2h-1zm0 20h1v2h-1zm0 3h1v1h-1zm0 16h1v1h-1zm1-90h1v2h-1zm0 31h1v1h-1zm0 3h1v2h-1zm0 14h1v1h-1zm0 2h1v1h-1zm0 2h1v1h-1zm0 29h1v1h-1zm0 8h1v3h-1zm1-79h1v1h-1zm0 40h1v1h-1zm0 2h1v1h-1zm0 17h1v1h-1zm0 23h1v1h-1zm1-96h1v1h-1zm0 3h1v1h-1zm0 5h1v1h-1zm0 46h1v1h-1zm0 7h1v1h-1zm0 14h1v1h-1zm1-77h1v1h-1zm0 6h1v1h-1zm0 23h1v1h-1zm0 36h1v1h-1zm1-70h1v2h-1zm0 4h1v2h-1zm0 13h1v1h-1zm0 50h1v1h-1zm1-59h1v1h-1zm0 13h1v1h-1zm0 11h1v1h-1zm0 2h1v1h-1zm0 2h1v2h-1zm1-29h1v1h-1zm0 11h1v1h-1zm0 2h1v2h-1zm0 5h1v3h-1zm0 9h1v1h-1zm0 18h1v1h-1zm0 6h1v1h-1zm0 4h1v1h-1zm0 19h1v1h-1zm0 14h1v1h-1zm0 8h1v1h-1zm1-87h1v1h-1zm0 36h1v1h-1zm0 9h1v1h-1zm1-38h1v1h-1zm0 65h1v1h-1zm0 15h1v1h-1zm1-86h1v1h-1zm0 22h1v1h-1zm0 12h1v1h-1zm0 3h1v1h-1zm0 13h1v1h-1zm0 11h1v1h-1zm0 10h1v1h-1zm0 5h1v1h-1zm1-74h1v1h-1zm0 38h1v1h-1zm0 5h1v1h-1zm0 32h1v1h-1zm0 8h1v1h-1zm1-87h1v1h-1zm0 6h1v1h-1zm0 38h1v1h-1zm0 2h1v1h-1zm0 34h1v1h-1zm1-97h1v1h-1zm0 21h1v1h-1zm0 6h1v1h-1zm0 31h1v1h-1zm0 22h1v1h-1zm0 2h1v1h-1zm0 2h1v2h-1zm0 12h1v1h-1zm0 2h1v1h-1zm0 5h1v1h-1zm1-98h1v1h-1zm0 29h1v1h-1zm0 3h1v1h-1zm0 6h1v1h-1zm0 22h1v1h-1zm0 20h1v1h-1zm0 16h1v1h-1zm1-97h1v1h-1zm0 16h1v1h-1zm0 7h1v1h-1zm0 35h1v3h-1zm0 20h1v1h-1zm1-44h1v1h-1zm0 3h1v1h-1zm0 9h1v1h-1zm0 4h1v1h-1zm0 50h1v1h-1zm1-101h1v1h-1zm0 40h1v1h-1zm0 19h1v2h-1zm1 0h1v1h-1zm0 6h1v1h-1zm0 10h1v1h-1zm1-59h1v1h-1zm0 2h1v1h-1zm0 27h1v1h-1zm1-31h1v1h-1zm0 6h1v2h-1zm0 40h1v1h-1zm0 2h1v1h-1zm1-64h1v1h-1zm0 6h1v3h-1zm0 11h1v1h-1zm0 4h1v1h-1zm0 9h1v2h-1zm0 36h1v1h-1zm0 10h1v1h-1zm0 8h1v1h-1zm0 4h1v1h-1zm0 15h1v1h-1zm1-103h1v2h-1zm0 4h1v1h-1zm0 23h1v2h-1zm0 10h1v1h-1zm0 13h1v1h-1zm0 3h1v2h-1zm0 12h1v1h-1zm0 5h1v1h-1zm0 3h1v1h-1zm0 14h1v2h-1zm0 8h1v1h-1zm0 6h1v1h-1zm1-96h1v1h-1zm0 3h1v1h-1zm0 2h1v2h-1zm0 26h1v2h-1zm0 4h1v1h-1zm0 31h1v1h-1zm0 15h1v1h-1zm0 3h1v1h-1zm0 8h1v1h-1zm1-63h1v1h-1zm0 5h1v1h-1zm0 27h1v1h-1zm0 3h1v1h-1zm0 5h1v2h-1zm1-70h1v1h-1zm0 20h1v2h-1zm0 8h1v1h-1zm0 9h1v1h-1zm0 14h1v1h-1zm0 3h1v2h-1zm0 17h1v1h-1zm0 12h1v1h-1zm0 4h1v1h-1zm0 4h1v2h-1zm1-78h1v1h-1zm0 48h1v1h-1zm1-45h1v1h-1zm0 83h1v1h-1zm1-104h1v1h-1zm0 68h1v2h-1zm0 29h1v1h-1zm0 4h1v1h-1zm1-71h1v1h-1zm0 58h1v2h-1zm1-83h1v1h-1zm0 9h1v1h-1zm0 45h1v1h-1zm0 2h1v1h-1zm1-56h1v1h-1zm0 51h1v1h-1zm0 11h1v1h-1zm1-62h1v1h-1zm0 3h1v1h-1zm0 6h1v1h-1zm0 24h1v1h-1zm0 11h1v2h-1zm0 8h1v1h-1zm0 3h1v1h-1zm0 27h1v1h-1zm0 2h1v1h-1zm0 3h1v1h-1zm0 12h1v1h-1zm1-88h1v1h-1zm0 8h1v3h-1zm0 19h1v1h-1zm0 6h1v1h-1zm0 6h1v1h-1zm0 13h1v1h-1zm0 36h1v1h-1zm1-104h1v1h-1zm0 8h1v2h-1zm0 9h1v1h-1zm0 4h1v1h-1zm0 2h1v2h-1zm0 26h1v1h-1zm0 3h1v1h-1zm0 22h1v1h-1zm0 19h1v1h-1zm1-92h1v1h-1zm0 2h1v1h-1zm0 9h1v1h-1zm0 3h1v1h-1zm0 37h1v1h-1zm0 3h1v1h-1zm0 3h1v1h-1zm0 9h1v1h-1zm0 2h1v1h-1zm0 19h1v1h-1zm0 3h1v3h-1zm1-86h1v1h-1zm0 3h1v1h-1zm0 2h1v2h-1zm0 59h1v2h-1zm0 4h1v1h-1zm0 3h1v1h-1zm0 3h1v1h-1zm0 9h1v1h-1zm1-43h1v1h-1zm0 18h1v1h-1zm0 3h1v1h-1zm0 5h1v1h-1zm0 9h1v1h-1zm1-72h1v1h-1zm0 3h1v1h-1zm0 4h1v1h-1zm0 32h1v1h-1zm0 20h1v1h-1zm1-60h1v1h-1zm0 24h1v1h-1zm0 79h1v1h-1zm1-102h1v1h-1zm1-3h1v1h-1zm1 6h1v1h-1zm1-4h1v1h-1zm1 12h1v1h-1zm1-10h1v2h-1zm0 31h1v1h-1zm0 64h1v2h-1zm1-93h1v1h-1zm0 2h1v1h-1zm0 4h1v1h-1zm0 15h1v1h-1zm0 33h1v1h-1zm1-57h1v1h-1zm0 34h1v1h-1zm3 21h1v1h-1zm1-61h1v1h-1zm0 58h1v1h-1zm1-58h1v1h-1zm1 1h1v1h-1zm0 3h1v1h-1zm1 3h1v1h-1zm0 32h1v1h-1zm0 30h1v1h-1zm1-71h1v1h-1zm0 67h1v1h-1zm0 3h1v1h-1zm0 18h1v1h-1zm1-83h1v1h-1zm0 43h1v1h-1zm0 15h1v1h-1zm0 2h1v1h-1zm0 6h1v1h-1zm1-26h1v1h-1zm1-39h1v1h-1zm0 49h1v1h-1zm0 13h1v3h-1zm0 11h1v1h-1zm0 5h1v1h-1zm0 2h1v1h-1zm0 2h1v1h-1zm0 2h1v1h-1zm1-50h1v3h-1zm0 14h1v1h-1zm0 8h1v1h-1zm0 8h1v2h-1zm0 10h1v1h-1zm0 2h1v1h-1zm0 4h1v1h-1zm0 2h1v2h-1zm0 5h1v1h-1zm1-82h1v1h-1zm0 2h1v1h-1zm0 43h1v2h-1zm0 27h1v1h-1zm0 7h1v1h-1zm1-78h1v1h-1zm0 4h1v1h-1zm0 29h1v1h-1zm0 2h1v1h-1zm0 3h1v1h-1zm0 19h1v1h-1zm0 25h1v1h-1zm1-34h1v2h-1zm0 3h1v1h-1zm0 4h1v1h-1zm0 20h1v2h-1zm0 3h1v1h-1zm1-63h1v1h-1zm0 5h1v3h-1zm0 24h1v1h-1zm1 34h1v1h-1zm1-85h1v1h-1zm0 24h1v1h-1zm0 36h1v1h-1zm1-54h1v1h-1zm0 42h1v2h-1zm0 28h1v1h-1zm1-79h1v1h-1zm0 12h1v1h-1zm0 2h1v1h-1zm0 14h1v1h-1zm0 10h1v1h-1zm0 4h1v1h-1zm0 5h1v1h-1zm0 49h1v1h-1zm1-34h1v1h-1zm0 24h1v1h-1zm0 7h1v1h-1zm0 4h1v1h-1zm1-97h1v2h-1zm0 19h1v1h-1zm0 65h1v1h-1zm0 2h1v1h-1zm0 7h1v1h-1zm0 2h1v2h-1zm0 3h1v1h-1zm1-80h1v1h-1zm0 13h1v1h-1zm0 45h1v1h-1zm0 21h1v1h-1zm0 2h1v1h-1zm1-96h1v1h-1zm0 39h1v1h-1zm0 10h1v1h-1zm0 21h1v1h-1zm0 11h1v1h-1zm0 9h1v1h-1zm0 8h1v1h-1zm1-99h1v1h-1zm0 2h1v1h-1zm0 24h1v2h-1zm0 3h1v1h-1zm0 23h1v1h-1zm0 23h1v1h-1zm0 23h1v1h-1zm1-100h1v1h-1zm0 40h1v1h-1zm0 5h1v2h-1zm0 3h1v1h-1zm0 14h1v1h-1zm0 13h1v1h-1zm1-72h1v1h-1zm0 19h1v1h-1zm0 3h1v1h-1zm0 12h1v1h-1zm0 6h1v1h-1zm0 4h1v1h-1zm0 10h1v1h-1zm0 16h1v1h-1zm0 22h1v1h-1zm1-65h1v1h-1zm0 5h1v1h-1zm0 21h1v1h-1zm1-51h1v1h-1zm0 7h1v1h-1zm0 29h1v4h-1zm0 27h1v1h-1zm0 2h1v1h-1zm0 12h1v1h-1zm1-79h1v1h-1zm0 11h1v1h-1zm0 27h1v1h-1zm0 6h1v1h-1zm0 25h1v1h-1zm1-73h1v1h-1zm0 6h1v1h-1zm0 4h1v1h-1zm0 15h1v1h-1zm0 4h1v1h-1zm0 8h1v1h-1zm0 5h1v1h-1zm0 3h1v1h-1zm0 21h1v1h-1zm0 9h1v1h-1zm0 4h1v1h-1zm0 14h1v2h-1zm0 3h1v1h-1zm2-96h1v1h-1zm0 8h1v1h-1zm0 3h1v2h-1zm0 17h1v1h-1zm0 4h1v2h-1zm0 3h1v1h-1zm0 9h1v1h-1zm0 20h1v1h-1zm0 6h1v1h-1zm0 14h1v1h-1zm0 7h1v1h-1zm0 7h1v1h-1zm1-95h1v3h-1zm0 9h1v1h-1zm0 3h1v1h-1zm0 9h1v1h-1zm0 5h1v1h-1zm0 13h1v1h-1zm0 2h1v1h-1zm0 17h1v1h-1zm0 8h1v1h-1zm0 9h1v1h-1zm0 20h1v1h-1zm0 4h1v1h-1zm1-101h1v2h-1zm0 12h1v1h-1zm0 16h1v2h-1zm0 5h1v1h-1zm0 4h1v1h-1zm0 11h1v1h-1zm0 14h1v1h-1zm0 8h1v1h-1zm0 4h1v1h-1zm0 9h1v1h-1zm0 13h1v1h-1zm0 2h1v1h-1zm1-73h1v1h-1zm0 5h1v1h-1zm0 8h1v1h-1zm0 5h1v1h-1zm0 23h1v1h-1zm0 12h1v1h-1zm0 4h1v1h-1zm0 15h1v1h-1zm0 2h1v3h-1zm1-98h1v1h-1zm0 12h1v1h-1zm0 4h1v1h-1zm0 9h1v1h-1zm0 4h1v1h-1zm0 5h1v1h-1zm0 3h1v1h-1zm0 15h1v1h-1zm0 21h1v1h-1zm1-72h1v1h-1zm0 12h1v1h-1zm0 8h1v1h-1zm0 31h1v1h-1zm0 27h1v1h-1zm0 6h1v1h-1zm0 5h1v1h-1zm1-86h1v1h-1zm0 19h1v1h-1zm0 35h1v1h-1zm0 2h1v1h-1zm0 2h1v1h-1zm0 6h1v1h-1zm0 3h1v1h-1zm0 8h1v1h-1zm0 6h1v1h-1zm0 2h1v2h-1zm0 5h1v1h-1zm0 8h1v2h-1zm2-95h1v1h-1zm0 19h1v1h-1zm0 9h1v1h-1zm0 2h1v2h-1zm0 21h1v1h-1zm0 9h1v1h-1zm0 4h1v1h-1zm0 26h1v1h-1zm1-81h1v1h-1zm0 17h1v1h-1zm0 42h1v1h-1zm0 22h1v1h-1zm1-93h1v1h-1zm0 8h1v1h-1zm0 4h1v1h-1zm0 18h1v2h-1zm0 8h1v1h-1zm0 7h1v1h-1zm0 11h1v3h-1zm0 10h1v1h-1zm0 16h1v1h-1zm0 3h1v1h-1zm0 5h1v2h-1zm1-56h1v1h-1zm0 33h1v1h-1zm0 22h1v1h-1zm1-66h1v1h-1zm0 6h1v1h-1zm0 72h1v1h-1zm1-103h1v1h-1zm0 2h1v1h-1zm0 19h1v1h-1zm0 9h1v1h-1zm0 6h1v1h-1zm0 14h1v1h-1zm0 10h1v1h-1zm0 3h1v1h-1zm1-66h1v1h-1zm0 7h1v1h-1zm0 4h1v1h-1zm0 8h1v1h-1zm0 15h1v1h-1zm0 8h1v1h-1zm0 4h1v1h-1zm0 6h1v1h-1zm0 3h1v1h-1zm1-46h1v1h-1zm2-3h1v1h-1zm2 8h1v1h-1zm1 71h1v1h-1zm0 15h1v1h-1zm1-93h1v1h-1zm0 66h1v1h-1zm0 24h1v1h-1zm0 2h1v2h-1zm1-93h1v1h-1zm0 8h1v1h-1zm0 8h1v1h-1zm0 24h1v1h-1zm0 6h1v1h-1zm0 16h1v1h-1zm0 11h1v1h-1zm0 12h1v1h-1zm1-75h1v3h-1zm0 9h1v1h-1zm0 2h1v1h-1zm0 45h1v1h-1zm0 6h1v1h-1zm0 8h1v1h-1zm0 13h1v1h-1zm1-90h1v3h-1zm0 4h1v1h-1zm0 13h1v2h-1zm0 10h1v1h-1zm0 14h1v2h-1zm0 11h1v1h-1zm0 28h1v1h-1zm1-83h1v1h-1zm0 4h1v2h-1zm0 17h1v1h-1zm0 8h1v1h-1zm0 2h1v1h-1zm0 4h1v2h-1zm0 4h1v1h-1zm0 3h1v1h-1zm0 18h1v1h-1zm0 2h1v1h-1zm0 7h1v2h-1zm0 9h1v1h-1zm0 6h1v1h-1zm2-72h1v1h-1zm0 14h1v1h-1zm0 10h1v1h-1zm0 16h1v2h-1zm0 4h1v1h-1zm0 8h1v1h-1zm0 9h1v1h-1zm0 9h1v1h-1zm0 2h1v1h-1zm0 9h1v1h-1zm1-74h1v1h-1zm0 4h1v1h-1zm0 2h1v1h-1zm0 2h1v1h-1zm0 35h1v1h-1zm0 21h1v1h-1zm0 8h1v1h-1zm1-73h1v1h-1zm0 3h1v1h-1zm0 14h1v2h-1zm0 16h1v1h-1zm0 17h1v1h-1zm0 14h1v1h-1zm0 2h1v2h-1zm0 5h1v1h-1zm1-91h1v1h-1zm0 9h1v4h-1zm0 11h1v1h-1zm0 5h1v1h-1zm0 2h1v1h-1zm0 8h1v1h-1zm0 20h1v1h-1zm0 3h1v1h-1zm0 3h1v1h-1zm0 23h1v1h-1zm0 10h1v1h-1zm1-94h1v1h-1zm0 7h1v1h-1zm0 13h1v1h-1zm0 3h1v2h-1zm0 8h1v1h-1zm0 19h1v1h-1zm0 5h1v1h-1zm0 12h1v2h-1zm0 5h1v1h-1zm0 7h1v1h-1zm0 5h1v2h-1zm0 8h1v2h-1zm1-93h1v1h-1zm0 3h1v1h-1zm0 4h1v1h-1zm0 4h1v1h-1zm0 2h1v1h-1zm0 10h1v1h-1zm0 25h1v2h-1zm0 4h1v1h-1zm0 6h1v1h-1zm0 5h1v1h-1zm0 3h1v1h-1zm0 23h1v1h-1zm0 4h1v2h-1zm0 4h1v1h-1zm1-96h1v1h-1zm0 6h1v1h-1zm0 18h1v1h-1zm0 4h1v1h-1zm0 6h1v1h-1zm0 2h1v1h-1zm0 8h1v1h-1zm0 2h1v1h-1zm0 13h1v2h-1zm0 3h1v1h-1zm0 7h1v1h-1zm0 15h1v1h-1zm3-78h1v1h-1zm0 8h1v1h-1zm0 13h1v1h-1zm0 5h1v1h-1zm0 7h1v1h-1zm0 3h1v1h-1zm0 6h1v2h-1zm0 3h1v1h-1zm0 13h1v2h-1zm0 8h1v1h-1zm0 4h1v1h-1zm0 10h1v1h-1zm0 2h1v1h-1zm2-76h1v1h-1zm0 8h1v3h-1zm0 4h1v1h-1zm0 3h1v2h-1zm0 4h1v1h-1zm0 2h1v3h-1zm0 10h1v1h-1zm0 2h1v1h-1zm0 6h1v1h-1zm0 5h1v1h-1zm0 31h1v1h-1zm2-91h1v1h-1zm0 4h1v1h-1zm0 3h1v1h-1zm0 9h1v3h-1zm0 14h1v1h-1zm0 5h1v1h-1zm0 32h1v1h-1zm0 3h1v2h-1zm0 4h1v2h-1zm0 6h1v1h-1zm0 3h1v1h-1zm2-70h1v1h-1zm0 7h1v1h-1zm0 3h1v1h-1zm0 59h1v1h-1zm0 5h1v1h-1zm0 7h1v2h-1zm0 5h1v2h-1zm1-91h1v1h-1zm0 45h1v1h-1zm0 9h1v2h-1zm0 22h1v1h-1zm0 15h1v2h-1zm1-94h1v2h-1zm0 13h1v1h-1zm0 4h1v1h-1zm0 2h1v1h-1zm0 25h1v1h-1zm0 36h1v1h-1zm0 13h1v1h-1zm1-92h1v1h-1zm0 2h1v1h-1zm0 8h1v1h-1zm0 2h1v1h-1zm0 9h1v1h-1zm0 12h1v1h-1zm0 8h1v1h-1zm0 2h1v1h-1zm0 20h1v1h-1zm0 11h1v1h-1zm0 3h1v1h-1zm0 5h1v1h-1zm1-69h1v1h-1zm0 2h1v1h-1zm0 9h1v2h-1zm0 7h1v2h-1zm0 4h1v1h-1zm0 3h1v1h-1zm0 5h1v1h-1zm0 12h1v1h-1zm0 2h1v1h-1zm0 2h1v3h-1zm0 17h1v1h-1zm0 3h1v1h-1zm0 10h1v1h-1zm0 2h1v2h-1zm1-78h1v1h-1zm0 14h1v1h-1zm0 5h1v1h-1zm0 4h1v1h-1zm0 2h1v1h-1zm0 2h1v1h-1zm0 2h1v1h-1zm0 4h1v1h-1zm0 13h1v1h-1zm0 4h1v1h-1zm0 3h1v1h-1zm0 5h1v1h-1zm0 5h1v1h-1zm0 4h1v2h-1zm0 3h1v1h-1zm0 7h1v1h-1zm1-82h1v1h-1zm0 2h1v1h-1zm0 7h1v1h-1zm0 8h1v1h-1zm0 4h1v2h-1zm0 21h1v1h-1zm0 8h1v1h-1zm0 2h1v1h-1zm0 11h1v1h-1zm0 6h1v1h-1zm0 2h1v2h-1zm0 4h1v1h-1zm0 4h1v1h-1zm0 5h1v1h-1zm1-98h1v1h-1zm0 3h1v3h-1zm0 17h1v1h-1zm0 24h1v1h-1zm0 5h1v1h-1zm0 6h1v1h-1zm0 4h1v1h-1zm0 8h1v1h-1zm0 10h1v1h-1zm0 11h1v1h-1zm0 8h1v1h-1zm1-93h1v1h-1zm0 9h1v2h-1zm0 10h1v1h-1zm0 3h1v1h-1zm0 5h1v2h-1zm0 5h1v1h-1zm0 14h1v1h-1zm0 4h1v1h-1zm0 2h1v1h-1zm0 14h1v2h-1zm0 12h1v1h-1zm0 14h1v3h-1zm1-82h1v1h-1zm0 57h1v1h-1zm0 27h1v1h-1zm0 4h1v1h-1zm1-91h1v2h-1zm0 44h1v1h-1zm0 15h1v1h-1zm0 9h1v2h-1zm0 20h1v1h-1zm0 2h1v1h-1zm1-95h1v2h-1zm0 11h1v1h-1zm0 9h1v2h-1zm0 6h1v1h-1zm0 3h1v1h-1zm0 4h1v1h-1zm0 5h1v1h-1zm0 19h1v1h-1zm0 8h1v2h-1zm0 7h1v1h-1zm0 2h1v1h-1zm0 4h1v1h-1zm0 2h1v1h-1zm1-83h1v1h-1zm0 4h1v1h-1zm0 5h1v1h-1zm0 2h1v1h-1zm0 3h1v1h-1zm0 6h1v1h-1zm0 3h1v2h-1zm0 7h1v1h-1zm0 4h1v1h-1zm0 8h1v1h-1zm0 5h1v2h-1zm0 6h1v1h-1zm0 4h1v1h-1zm0 6h1v1h-1zm0 2h1v1h-1zm0 2h1v1h-1zm0 16h1v1h-1zm0 3h1v2h-1zm0 6h1v1h-1zm3-93h1v1h-1zm0 6h1v1h-1zm0 15h1v1h-1zm0 7h1v1h-1zm0 2h1v1h-1zm0 2h1v1h-1zm0 10h1v1h-1zm0 2h1v2h-1zm0 9h1v1h-1zm0 5h1v1h-1zm0 2h1v1h-1zm0 8h1v1h-1zm0 9h1v1h-1zm0 15h1v1h-1zm0 3h1v1h-1zm1-83h1v1h-1zm0 26h1v1h-1zm0 6h1v1h-1zm0 2h1v1h-1zm0 14h1v1h-1zm0 35h1v1h-1zm0 2h1v1h-1zm1-82h1v1h-1zm0 41h1v1h-1zm0 9h1v1h-1zm0 11h1v1h-1zm0 3h1v2h-1zm0 11h1v1h-1zm0 6h1v1h-1zm1-95h1v1h-1zm0 3h1v1h-1zm0 15h1v1h-1zm0 19h1v1h-1zm0 5h1v1h-1zm0 7h1v1h-1zm0 5h1v2h-1zm0 6h1v2h-1zm0 8h1v1h-1zm1-61h1v1h-1zm0 9h1v1h-1zm0 13h1v1h-1zm0 2h1v1h-1zm0 9h1v1h-1zm0 16h1v1h-1zm0 10h1v1h-1zm0 29h1v1h-1zm1-92h1v1h-1zm0 12h1v1h-1zm0 7h1v1h-1zm0 19h1v1h-1zm0 8h1v1h-1zm0 5h1v1h-1zm0 4h1v1h-1zm0 3h1v1h-1zm0 32h1v1h-1zm0 2h1v1h-1zm1-90h1v1h-1zm0 2h1v1h-1zm0 2h1v1h-1zm0 3h1v1h-1zm0 4h1v1h-1zm0 8h1v3h-1zm0 10h1v1h-1zm0 6h1v1h-1zm0 14h1v1h-1zm0 4h1v1h-1zm0 15h1v2h-1zm0 3h1v1h-1zm0 3h1v1h-1zm0 11h1v1h-1zm0 5h1v1h-1zm1-96h1v1h-1zm0 17h1v1h-1zm0 8h1v1h-1zm0 8h1v1h-1zm0 12h1v1h-1zm0 2h1v1h-1zm0 6h1v1h-1zm0 3h1v5h-1zm0 8h1v1h-1zm0 3h1v1h-1zm0 2h1v2h-1zm0 8h1v1h-1zm0 11h1v1h-1zm0 4h1v1h-1zm1-85h1v2h-1zm0 12h1v1h-1zm0 3h1v1h-1zm0 5h1v2h-1zm0 4h1v1h-1zm0 47h1v1h-1zm0 12h1v1h-1zm1-84h1v1h-1zm0 29h1v2h-1zm0 11h1v1h-1zm0 14h1v1h-1zm0 10h1v1h-1zm0 14h1v2h-1zm0 14h1v1h-1zm1-81h1v1h-1zm0 42h1v1h-1zm0 32h1v1h-1zm0 7h1v1h-1zm1-84h1v1h-1zm0 16h1v1h-1zm0 7h1v1h-1zm0 8h1v1h-1zm0 6h1v1h-1zm0 6h1v1h-1zm0 10h1v1h-1zm0 16h1v1h-1zm0 2h1v1h-1zm0 4h1v2h-1zm0 6h1v1h-1zm0 3h1v1h-1zm1-84h1v1h-1zm0 2h1v1h-1zm0 2h1v1h-1zm0 28h1v1h-1zm0 7h1v1h-1zm0 2h1v1h-1zm0 2h1v1h-1zm0 7h1v2h-1zm0 18h1v1h-1zm0 7h1v2h-1zm0 5h1v1h-1zm1-91h1v1h-1zm0 27h1v1h-1zm0 9h1v1h-1zm0 2h1v1h-1zm0 4h1v1h-1zm0 19h1v1h-1zm0 12h1v2h-1zm0 4h1v1h-1zm0 8h1v1h-1zm0 8h1v1h-1zm0 3h1v1h-1zm1-90h1v1h-1zm0 5h1v1h-1zm0 24h1v1h-1zm0 32h1v1h-1zm0 8h1v1h-1zm0 6h1v1h-1zm0 3h1v1h-1zm0 12h1v1h-1zm1-94h1v2h-1zm0 15h1v1h-1zm0 5h1v1h-1zm0 3h1v1h-1zm0 2h1v2h-1zm0 22h1v2h-1zm0 9h1v1h-1zm0 13h1v1h-1zm0 7h1v2h-1zm0 4h1v1h-1zm0 2h1v2h-1zm1-88h1v1h-1zm0 5h1v1h-1zm0 18h1v2h-1zm0 7h1v1h-1zm0 2h1v1h-1zm0 9h1v2h-1zm0 8h1v1h-1zm0 2h1v1h-1zm0 9h1v1h-1zm0 2h1v1h-1zm0 4h1v1h-1zm0 5h1v1h-1zm0 16h1v1h-1zm0 3h1v1h-1zm0 7h1v2h-1zm1-94h1v1h-1zm0 2h1v1h-1zm0 5h1v1h-1zm0 3h1v3h-1zm0 4h1v2h-1zm0 3h1v1h-1zm0 25h1v1h-1zm0 18h1v1h-1zm0 6h1v3h-1zm0 11h1v1h-1zm0 3h1v1h-1zm0 7h1v1h-1zm1-89h1v2h-1zm0 16h1v2h-1zm0 3h1v1h-1zm0 8h1v2h-1zm0 3h1v1h-1zm0 8h1v1h-1zm0 9h1v1h-1zm0 16h1v2h-1zm0 9h1v1h-1zm0 10h1v3h-1zm1-81h1v2h-1zm0 28h1v1h-1zm0 13h1v2h-1zm0 5h1v1h-1zm0 5h1v1h-1zm0 2h1v1h-1zm0 4h1v1h-1zm0 4h1v1h-1zm0 10h1v1h-1zm0 6h1v1h-1zm0 2h1v2h-1zm0 6h1v1h-1zm0 3h1v1h-1zm1-90h1v2h-1zm0 8h1v1h-1zm0 11h1v1h-1zm0 4h1v1h-1zm0 2h1v1h-1zm0 2h1v1h-1zm0 4h1v1h-1zm0 2h1v1h-1zm0 6h1v1h-1zm0 3h1v1h-1zm0 20h1v1h-1zm0 2h1v1h-1zm0 3h1v2h-1zm0 10h1v2h-1zm0 18h1v2h-1zm2-41h1v1h-1zm0 2h1v2h-1zm0 29h1v1h-1zm0 11h1v2h-1zm1-82h1v1h-1zm0 12h1v1h-1zm0 9h1v1h-1zm0 9h1v1h-1zm0 3h1v1h-1zm0 3h1v1h-1zm0 5h1v1h-1zm0 7h1v1h-1zm0 5h1v2h-1zm0 10h1v1h-1zm0 2h1v1h-1zm0 10h1v1h-1zm0 4h1v1h-1zm0 5h1v1h-1zm0 3h1v1h-1zm1-96h1v1h-1zm0 4h1v1h-1zm0 2h1v2h-1zm0 14h1v2h-1zm0 4h1v2h-1zm0 3h1v1h-1zm0 3h1v1h-1zm0 4h1v1h-1zm0 5h1v1h-1zm0 2h1v1h-1zm0 2h1v2h-1zm0 13h1v3h-1zm0 20h1v1h-1zm0 5h1v1h-1zm0 8h1v1h-1zm0 4h1v1h-1zm3-93h1v1h-1zm0 12h1v1h-1zm0 7h1v1h-1zm0 2h1v1h-1zm0 6h1v2h-1zm0 3h1v1h-1zm0 4h1v1h-1zm0 11h1v1h-1zm0 6h1v1h-1zm0 3h1v1h-1zm0 18h1v2h-1zm0 6h1v2h-1zm0 12h1v1h-1zm1-95h1v1h-1zm0 8h1v1h-1zm0 8h1v1h-1zm0 3h1v1h-1zm0 4h1v1h-1zm0 10h1v1h-1zm0 7h1v3h-1zm0 5h1v1h-1zm0 17h1v1h-1zm0 5h1v2h-1zm0 4h1v1h-1zm0 17h1v2h-1zm0 4h1v1h-1zm0 5h1v1h-1zm1-91h1v2h-1zm0 7h1v1h-1zm0 3h1v1h-1zm0 4h1v1h-1zm0 12h1v1h-1zm0 9h1v1h-1zm0 4h1v1h-1zm0 6h1v1h-1zm0 3h1v1h-1zm0 14h1v1h-1zm0 2h1v3h-1zm0 4h1v1h-1zm0 4h1v1h-1zm0 2h1v1h-1zm0 3h1v2h-1zm0 9h1v1h-1zm1-91h1v1h-1zm0 8h1v1h-1zm0 15h1v1h-1zm0 18h1v1h-1zm0 5h1v1h-1zm0 8h1v1h-1zm0 8h1v3h-1zm0 4h1v1h-1zm1-62h1v1h-1zm0 4h1v1h-1zm0 3h1v1h-1zm0 26h1v1h-1zm0 10h1v1h-1zm0 2h1v1h-1zm0 23h1v1h-1zm0 10h1v1h-1zm0 2h1v2h-1zm1-79h1v1h-1zm0 11h1v1h-1zm0 22h1v1h-1zm0 35h1v3h-1zm0 17h1v1h-1zm0 6h1v2h-1zm1-93h1v1h-1zm0 4h1v2h-1zm0 5h1v1h-1zm0 11h1v1h-1zm0 2h1v1h-1zm0 3h1v2h-1zm0 27h1v1h-1zm0 2h1v2h-1zm0 19h1v1h-1zm0 12h1v1h-1zm0 9h1v1h-1zm1-98h1v1h-1zm0 30h1v1h-1zm0 5h1v1h-1zm0 20h1v1h-1zm0 4h1v1h-1zm0 4h1v1h-1zm0 6h1v1h-1zm0 5h1v1h-1zm0 24h1v1h-1zm1-85h1v2h-1zm0 16h1v1h-1zm0 11h1v2h-1zm0 26h1v1h-1zm0 8h1v1h-1zm0 2h1v2h-1zm0 22h1v1h-1zm1-91h1v1h-1zm0 4h1v1h-1zm0 8h1v2h-1zm0 4h1v1h-1zm0 4h1v2h-1zm0 23h1v1h-1zm0 4h1v1h-1zm0 2h1v1h-1zm0 2h1v1h-1zm0 3h1v1h-1zm0 21h1v2h-1zm0 6h1v1h-1zm0 6h1v3h-1zm3-92h1v1h-1zm0 3h1v1h-1zm0 5h1v1h-1zm0 6h1v2h-1zm0 5h1v1h-1zm0 5h1v1h-1zm0 11h1v1h-1zm0 2h1v1h-1zm0 12h1v1h-1zm0 2h1v2h-1zm0 5h1v1h-1zm0 6h1v1h-1zm0 4h1v3h-1zm0 8h1v1h-1zm0 5h1v1h-1zm0 8h1v1h-1zm2-85h1v1h-1zm0 3h1v1h-1zm0 32h1v1h-1zm0 7h1v1h-1zm0 22h1v1h-1zm0 5h1v1h-1zm0 17h1v1h-1zm1-85h1v1h-1zm0 2h1v1h-1zm0 9h1v1h-1zm0 2h1v1h-1zm0 4h1v1h-1zm0 8h1v3h-1zm0 12h1v1h-1zm0 11h1v1h-1zm0 4h1v1h-1zm0 2h1v1h-1zm0 4h1v2h-1zm0 22h1v1h-1zm0 7h1v1h-1zm0 4h1v1h-1zm1-95h1v1h-1zm0 11h1v1h-1zm0 6h1v1h-1zm0 6h1v1h-1zm0 4h1v1h-1zm0 15h1v3h-1zm0 9h1v1h-1zm0 2h1v1h-1zm0 6h1v1h-1zm0 3h1v1h-1zm0 4h1v1h-1zm0 11h1v1h-1zm0 2h1v1h-1zm0 5h1v4h-1zm0 8h1v1h-1zm2-87h1v1h-1zm0 3h1v1h-1zm0 7h1v2h-1zm0 4h1v1h-1zm0 2h1v1h-1zm0 6h1v2h-1zm0 13h1v1h-1zm0 9h1v1h-1zm0 5h1v1h-1zm0 2h1v1h-1zm0 2h1v3h-1zm0 9h1v1h-1zm0 3h1v1h-1zm0 10h1v1h-1zm0 3h1v1h-1zm0 3h1v1h-1zm0 8h1v1h-1zm2-88h1v2h-1zm0 9h1v1h-1zm0 7h1v2h-1zm0 14h1v1h-1zm0 5h1v1h-1zm0 4h1v3h-1zm0 4h1v1h-1zm0 6h1v2h-1zm0 6h1v2h-1zm0 6h1v1h-1zm0 12h1v1h-1zm0 3h1v1h-1zm2-64h1v1h-1zm0 13h1v1h-1zm0 4h1v1h-1zm0 3h1v1h-1zm0 5h1v3h-1zm0 7h1v2h-1zm0 6h1v1h-1zm0 4h1v1h-1zm0 2h1v3h-1zm0 6h1v1h-1zm0 3h1v1h-1zm0 9h1v1h-1zm0 7h1v1h-1zm1-88h1v2h-1zm0 31h1v1h-1zm0 2h1v1h-1zm0 7h1v1h-1zm0 2h1v1h-1zm0 21h1v1h-1zm0 16h1v1h-1zm0 11h1v1h-1zm2-82h1v1h-1zm0 3h1v1h-1zm0 3h1v1h-1zm0 4h1v1h-1zm0 4h1v1h-1zm0 3h1v1h-1zm0 5h1v3h-1zm0 10h1v1h-1zm0 11h1v1h-1zm0 3h1v1h-1zm0 3h1v1h-1zm0 7h1v2h-1zm0 4h1v1h-1zm0 5h1v1h-1zm0 8h1v2h-1zm0 10h1v1h-1zm0 2h1v1h-1z"/><path fill="#34c697" d="M0 73h1v1h-1zm4-68h1v1h-1zm0 2h1v1h-1zm0 8h1v1h-1zm0 3h1v1h-1zm0 2h1v1h-1zm0 15h1v1h-1zm0 67h1v1h-1zm1-98h1v1h-1zm0 5h1v1h-1zm0 7h1v1h-1zm0 23h1v1h-1zm0 14h1v1h-1zm0 2h1v1h-1zm0 5h1v2h-1zm0 4h1v1h-1zm0 9h1v1h-1zm0 6h1v1h-1zm0 3h1v1h-1zm0 10h1v1h-1zm0 4h1v2h-1zm1-94h1v1h-1zm5 19h1v1h-1zm0 10h1v1h-1zm0 2h1v1h-1zm0 2h1v1h-1zm0 6h1v1h-1zm0 7h1v1h-1zm0 3h1v1h-1zm0 12h1v1h-1zm0 2h1v1h-1zm0 2h1v2h-1zm0 24h1v1h-1zm0 7h1v1h-1zm1-5h1v1h-1zm1-59h1v1h-1zm0 2h1v1h-1zm1 66h1v1h-1zm3-82h1v1h-1zm0 80h1v1h-1zm0 3h1v1h-1zm1-87h1v4h-1zm0 59h1v1h-1zm0 16h1v1h-1zm0 10h1v2h-1zm1-88h1v1h-1zm0 64h1v2h-1zm0 8h1v1h-1zm0 7h1v1h-1zm1-90h1v2h-1zm0 3h1v1h-1zm0 40h1v1h-1zm0 10h1v1h-1zm0 32h1v1h-1zm0 15h1v1h-1zm1-88h1v1h-1zm2 88h1v1h-1zm1-81h1v5h-1zm0 15h1v1h-1zm0 5h1v1h-1zm0 3h1v2h-1zm0 3h1v1h-1zm0 5h1v1h-1zm0 38h1v2h-1zm1-87h1v1h-1zm0 4h1v1h-1zm0 50h1v1h-1zm0 21h1v1h-1zm0 18h1v2h-1zm0 6h1v1h-1zm1-97h1v1h-1zm0 3h1v2h-1zm0 3h1v3h-1zm0 8h1v1h-1zm0 25h1v1h-1zm0 43h1v1h-1zm1-56h1v1h-1zm0 47h1v1h-1zm0 12h1v1h-1zm1-74h1v3h-1zm0 14h1v3h-1zm0 45h1v2h-1zm0 25h1v2h-1zm1-97h1v1h-1zm0 3h1v2h-1zm0 5h1v3h-1zm0 26h1v1h-1zm0 2h1v1h-1zm0 2h1v1h-1zm0 9h1v1h-1zm0 2h1v1h-1zm0 7h1v1h-1zm0 8h1v1h-1zm0 2h1v1h-1zm0 16h1v1h-1zm0 12h1v1h-1zm0 2h1v1h-1zm0 2h1v1h-1zm1-63h1v1h-1zm0 64h1v1h-1zm1 0h1v1h-1zm3 0h1v1h-1zm1-101h1v1h-1zm0 82h1v2h-1zm0 19h1v1h-1zm1-94h1v3h-1zm0 22h1v1h-1zm0 9h1v2h-1zm0 3h1v2h-1zm0 16h1v1h-1zm0 7h1v1h-1zm0 2h1v1h-1zm0 3h1v2h-1zm0 3h1v1h-1zm0 12h1v2h-1zm0 3h1v1h-1zm0 3h1v1h-1zm0 10h1v1h-1zm1-24h1v1h-1zm1 7h1v1h-1zm1-80h1v2h-1zm0 98h1v1h-1zm1-100h1v4h-1zm0 22h1v1h-1zm0 4h1v2h-1zm0 3h1v1h-1zm0 15h1v3h-1zm0 10h1v1h-1zm0 5h1v1h-1zm0 4h1v1h-1zm0 3h1v3h-1zm0 5h1v2h-1zm1-50h1v1h-1zm1 45h1v1h-1zm0 25h1v1h-1zm0 10h1v1h-1zm1-68h1v1h-1zm0 40h1v1h-1zm0 6h1v1h-1zm0 11h1v2h-1zm0 5h1v1h-1zm0 2h1v1h-1zm1-93h1v4h-1zm0 22h1v1h-1zm0 16h1v1h-1zm0 3h1v1h-1zm0 6h1v1h-1zm0 43h1v1h-1zm1-48h1v1h-1zm0 38h1v1h-1zm1-48h1v1h-1zm0 23h1v3h-1zm1-54h1v3h-1zm0 59h1v1h-1zm2 35h1v1h-1zm1-33h1v2h-1zm0 34h1v2h-1zm1-8h1v1h-1zm1 8h1v1h-1zm2 0h1v1h-1zm1-64h1v1h-1zm1-17h1v1h-1zm0 2h1v1h-1zm0 4h1v1h-1zm0 12h1v1h-1zm0 23h1v1h-1zm0 19h1v1h-1zm0 15h1v1h-1zm1-82h1v1h-1zm0 2h1v1h-1zm0 11h1v1h-1zm0 26h1v1h-1zm0 40h1v1h-1zm0 9h1v1h-1zm1-88h1v1h-1zm0 45h1v2h-1zm0 13h1v1h-1zm1-60h1v1h-1zm0 3h1v5h-1zm0 15h1v2h-1zm0 5h1v1h-1zm0 32h1v3h-1zm0 11h1v2h-1zm0 4h1v1h-1zm0 3h1v1h-1zm0 17h1v1h-1zm2-79h1v1h-1zm0 76h1v1h-1zm0 2h1v1h-1zm1-24h1v2h-1zm0 14h1v2h-1zm1-88h1v3h-1zm0 4h1v1h-1zm0 3h1v1h-1zm0 4h1v2h-1zm0 5h1v3h-1zm0 6h1v3h-1zm0 5h1v2h-1zm0 9h1v1h-1zm0 3h1v1h-1zm0 3h1v1h-1zm0 4h1v1h-1zm0 3h1v1h-1zm0 2h1v1h-1zm0 2h1v4h-1zm0 5h1v1h-1zm0 3h1v1h-1zm0 2h1v1h-1zm0 34h1v1h-1zm1-95h1v1h-1zm0 12h1v1h-1zm0 3h1v1h-1zm0 13h1v1h-1zm0 2h1v1h-1zm0 4h1v1h-1zm0 10h1v1h-1zm0 7h1v1h-1zm0 3h1v1h-1zm0 29h1v2h-1zm0 8h1v1h-1zm1 6h1v1h-1zm1-29h1v1h-1zm1-50h1v1h-1zm0 77h1v1h-1zm0 2h1v1h-1zm1-1h1v1h-1zm1-94h1v1h-1zm0 8h1v1h-1zm0 20h1v1h-1zm0 3h1v2h-1zm0 3h1v1h-1zm0 4h1v2h-1zm0 10h1v1h-1zm2 48h1v1h-1zm1-22h1v1h-1zm0 21h1v1h-1zm4-31h1v1h-1zm0 31h1v1h-1zm1-61h1v2h-1zm0 4h1v1h-1zm0 2h1v1h-1zm0 4h1v2h-1zm0 12h1v1h-1zm1-63h1v1h-1zm0 5h1v1h-1zm0 13h1v1h-1zm0 4h1v1h-1zm0 5h1v1h-1zm0 14h1v1h-1zm0 2h1v1h-1zm0 8h1v1h-1zm0 3h1v1h-1zm0 2h1v2h-1zm0 6h1v2h-1zm0 3h1v1h-1zm0 2h1v1h-1zm0 3h1v2h-1zm0 3h1v1h-1zm0 9h1v1h-1zm0 14h1v1h-1zm0 2h1v2h-1zm1 4h1v1h-1zm3 1h1v1h-1zm4-102h1v1h-1zm0 31h1v2h-1zm0 20h1v2h-1zm0 11h1v2h-1zm0 11h1v2h-1zm0 7h1v2h-1zm0 3h1v1h-1zm0 17h1v1h-1zm1-101h1v1h-1zm0 18h1v2h-1zm0 73h1v1h-1zm0 11h1v1h-1zm1-84h1v1h-1zm0 8h1v1h-1zm0 19h1v1h-1zm0 23h1v1h-1zm1 34h1v1h-1zm1-71h1v1h-1zm0 15h1v3h-1zm0 34h1v1h-1zm0 21h1v1h-1zm0 2h1v1h-1zm1-99h1v1h-1zm0 27h1v2h-1zm0 15h1v2h-1zm0 10h1v1h-1zm0 19h1v1h-1zm0 4h1v1h-1zm0 3h1v1h-1zm0 7h1v1h-1zm0 14h1v1h-1zm1-82h1v1h-1zm0 35h1v1h-1zm1 10h1v1h-1zm0 2h1v1h-1zm1-32h1v1h-1zm1-32h1v1h-1zm0 4h1v2h-1zm1-4h1v1h-1zm0 12h1v1h-1zm0 2h1v1h-1zm0 11h1v1h-1zm0 76h1v1h-1zm1-102h1v1h-1zm0 35h1v1h-1zm0 3h1v1h-1zm0 63h1v1h-1zm1-88h1v2h-1zm0 81h1v1h-1zm0 4h1v1h-1zm1-91h1v1h-1zm0 6h1v1h-1zm0 15h1v1h-1zm0 49h1v1h-1zm0 3h1v2h-1zm0 21h1v1h-1zm1-104h1v1h-1zm0 3h1v1h-1zm0 2h1v1h-1zm0 12h1v1h-1zm0 48h1v1h-1zm0 5h1v1h-1zm0 23h1v1h-1zm0 2h1v1h-1zm0 5h1v1h-1zm0 4h1v1h-1zm1-93h1v1h-1zm0 51h1v3h-1zm0 4h1v2h-1zm0 12h1v1h-1zm0 5h1v1h-1zm0 2h1v1h-1zm0 4h1v3h-1zm0 12h1v1h-1zm0 3h1v1h-1zm1-83h1v1h-1zm0 4h1v1h-1zm0 11h1v1h-1zm0 27h1v1h-1zm0 18h1v1h-1zm0 2h1v1h-1zm0 16h1v1h-1zm3-88h1v1h-1zm0 4h1v1h-1zm0 6h1v1h-1zm0 8h1v1h-1zm0 2h1v1h-1zm0 4h1v1h-1zm0 9h1v1h-1zm0 8h1v1h-1zm0 22h1v2h-1zm0 15h1v3h-1zm0 15h1v1h-1zm1-99h1v1h-1zm0 4h1v1h-1zm0 12h1v1h-1zm0 9h1v1h-1zm0 3h1v1h-1zm0 14h1v1h-1zm0 3h1v1h-1zm0 4h1v1h-1zm0 7h1v3h-1zm0 12h1v1h-1zm0 9h1v1h-1zm0 4h1v2h-1zm0 3h1v1h-1zm0 7h1v1h-1zm1-95h1v1h-1zm0 8h1v1h-1zm0 14h1v1h-1zm0 17h1v1h-1zm0 24h1v1h-1zm0 16h1v1h-1zm0 2h1v1h-1zm0 2h1v1h-1zm0 5h1v1h-1zm0 6h1v1h-1zm0 9h1v1h-1zm1-102h1v1h-1zm0 21h1v1h-1zm0 10h1v1h-1zm0 14h1v1h-1zm0 19h1v1h-1zm0 5h1v1h-1zm0 10h1v1h-1zm0 5h1v1h-1zm0 4h1v1h-1zm0 6h1v1h-1zm0 2h1v1h-1zm0 2h1v2h-1zm2-93h1v1h-1zm0 5h1v1h-1zm0 18h1v1h-1zm0 3h1v2h-1zm0 5h1v2h-1zm0 4h1v2h-1zm0 30h1v1h-1zm0 2h1v1h-1zm0 9h1v2h-1zm0 19h1v1h-1zm1-65h1v1h-1zm0 52h1v1h-1zm0 3h1v1h-1zm0 9h1v1h-1zm1-93h1v1h-1zm0 3h1v1h-1zm0 4h1v1h-1zm0 13h1v1h-1zm0 38h1v1h-1zm0 3h1v3h-1zm1-69h1v2h-1zm0 4h1v1h-1zm0 8h1v3h-1zm0 6h1v1h-1zm0 13h1v2h-1zm0 5h1v2h-1zm0 34h1v2h-1zm0 10h1v1h-1zm0 16h1v1h-1zm2-75h1v1h-1zm0 13h1v1h-1zm0 8h1v1h-1zm0 19h1v1h-1zm0 11h1v1h-1zm0 3h1v1h-1zm0 15h1v1h-1zm0 4h1v1h-1zm0 2h1v1h-1zm0 2h1v1h-1zm0 2h1v1h-1zm0 4h1v1h-1zm1-79h1v1h-1zm0 18h1v1h-1zm0 17h1v1h-1zm1-46h1v1h-1zm0 57h1v1h-1zm0 23h1v1h-1zm0 8h1v1h-1zm1-97h1v1h-1zm0 10h1v2h-1zm0 10h1v1h-1zm0 11h1v1h-1zm0 27h1v1h-1zm0 7h1v1h-1zm0 26h1v1h-1zm0 4h1v1h-1zm1-97h1v1h-1zm0 2h1v1h-1zm0 4h1v1h-1zm0 13h1v1h-1zm0 2h1v1h-1zm0 39h1v1h-1zm0 6h1v1h-1zm0 22h1v1h-1zm0 11h1v1h-1zm1-99h1v1h-1zm0 3h1v1h-1zm0 2h1v1h-1zm0 10h1v1h-1zm0 6h1v3h-1zm0 30h1v1h-1zm0 2h1v1h-1zm0 2h1v1h-1zm0 2h1v1h-1zm0 2h1v1h-1zm0 18h1v1h-1zm0 7h1v1h-1zm0 16h1v2h-1zm1-102h1v1h-1zm0 4h1v1h-1zm0 9h1v2h-1zm0 14h1v1h-1zm0 4h1v1h-1zm0 16h1v1h-1zm0 6h1v1h-1zm0 12h1v1h-1zm0 6h1v1h-1zm0 15h1v1h-1zm1-85h1v1h-1zm0 2h1v1h-1zm0 14h1v1h-1zm0 15h1v1h-1zm0 3h1v1h-1zm0 4h1v1h-1zm0 19h1v1h-1zm0 24h1v2h-1zm0 4h1v1h-1zm0 15h1v1h-1zm2-92h1v1h-1zm0 16h1v2h-1zm0 17h1v1h-1zm0 12h1v2h-1zm0 4h1v2h-1zm0 16h1v1h-1zm0 12h1v1h-1zm0 12h1v1h-1zm0 3h1v1h-1zm1-37h1v1h-1zm0 10h1v2h-1zm0 29h1v1h-1zm1-72h1v1h-1zm0 15h1v1h-1zm0 12h1v1h-1zm0 4h1v1h-1zm0 2h1v1h-1zm0 39h1v1h-1zm1-102h1v1h-1zm0 10h1v1h-1zm0 4h1v1h-1zm0 2h1v1h-1zm0 31h1v1h-1zm0 15h1v2h-1zm0 16h1v1h-1zm1-68h1v1h-1zm0 16h1v2h-1zm0 9h1v1h-1zm0 5h1v1h-1zm0 5h1v1h-1zm0 28h1v1h-1zm0 27h1v1h-1zm2-102h1v1h-1zm0 14h1v2h-1zm0 11h1v1h-1zm0 5h1v1h-1zm0 10h1v1h-1zm0 2h1v1h-1zm0 25h1v1h-1zm0 5h1v1h-1zm0 13h1v2h-1zm0 10h1v1h-1zm2-88h1v1h-1zm0 6h1v2h-1zm0 6h1v1h-1zm0 8h1v1h-1zm0 42h1v1h-1zm0 3h1v2h-1zm0 15h1v3h-1zm0 14h1v2h-1zm1-100h1v1h-1zm0 7h1v1h-1zm0 7h1v2h-1zm0 12h1v1h-1zm0 30h1v2h-1zm0 5h1v1h-1zm0 10h1v1h-1zm0 21h1v1h-1zm0 5h1v2h-1zm0 6h1v1h-1zm1-99h1v1h-1zm0 2h1v1h-1zm0 32h1v1h-1zm0 18h1v1h-1zm0 5h1v1h-1zm0 2h1v1h-1zm0 6h1v1h-1zm0 15h1v1h-1zm0 19h1v1h-1zm1-98h1v1h-1zm0 28h1v1h-1zm0 30h1v1h-1zm0 25h1v1h-1zm0 11h1v1h-1zm1-97h1v1h-1zm0 43h1v1h-1zm0 24h1v1h-1zm0 22h1v2h-1zm0 10h1v1h-1zm1-85h1v1h-1zm0 45h1v1h-1zm1-49h1v1h-1zm0 17h1v3h-1zm0 15h1v2h-1zm0 3h1v1h-1zm0 12h1v1h-1zm0 32h1v1h-1zm1-43h1v1h-1zm0 16h1v2h-1zm0 3h1v1h-1zm0 24h1v1h-1zm1-80h1v2h-1zm0 5h1v1h-1zm0 2h1v1h-1zm0 5h1v1h-1zm0 15h1v1h-1zm0 8h1v1h-1zm0 14h1v1h-1zm0 5h1v1h-1zm0 15h1v1h-1zm0 2h1v4h-1zm0 7h1v1h-1zm1-86h1v1h-1zm0 2h1v2h-1zm0 17h1v1h-1zm0 16h1v1h-1zm0 2h1v2h-1zm0 6h1v1h-1zm0 10h1v1h-1zm0 5h1v2h-1zm0 17h1v1h-1zm1-78h1v1h-1zm0 9h1v1h-1zm0 5h1v1h-1zm0 4h1v2h-1zm0 25h1v1h-1zm0 18h1v2h-1zm0 3h1v1h-1zm0 17h1v3h-1zm0 7h1v2h-1zm1-72h1v1h-1zm0 7h1v1h-1zm0 2h1v1h-1zm0 31h1v1h-1zm0 33h1v1h-1zm1-84h1v2h-1zm0 3h1v1h-1zm0 32h1v2h-1zm0 8h1v1h-1zm0 4h1v1h-1zm0 2h1v1h-1zm0 2h1v1h-1zm0 2h1v1h-1zm0 6h1v1h-1zm0 9h1v1h-1zm0 10h1v1h-1zm0 7h1v3h-1zm1-82h1v1h-1zm0 31h1v1h-1zm0 2h1v1h-1zm0 23h1v1h-1zm0 4h1v1h-1zm0 12h1v1h-1zm0 24h1v1h-1zm1-103h1v1h-1zm0 11h1v1h-1zm0 45h1v1h-1zm0 10h1v1h-1zm0 5h1v1h-1zm0 13h1v1h-1zm1-80h1v1h-1zm1-5h1v1h-1zm0 3h1v1h-1zm0 5h1v1h-1zm0 7h1v2h-1zm1-16h1v1h-1zm0 3h1v1h-1zm0 4h1v1h-1zm3-5h1v1h-1zm0 6h1v1h-1zm0 8h1v1h-1zm0 45h1v1h-1zm0 43h1v1h-1zm1-91h1v1h-1zm0 4h1v1h-1zm0 2h1v1h-1zm0 32h1v1h-1zm1-37h1v3h-1zm0 6h1v1h-1zm0 22h1v4h-1zm0 22h1v1h-1zm1-58h1v1h-1zm0 3h1v1h-1zm0 8h1v1h-1zm0 29h1v1h-1zm0 7h1v1h-1zm1-44h1v1h-1zm0 2h1v1h-1zm0 40h1v1h-1zm0 53h1v2h-1zm2-63h1v1h-1zm0 9h1v1h-1zm1-49h1v1h-1zm0 2h1v1h-1zm0 2h1v1h-1zm0 58h1v1h-1zm0 2h1v1h-1zm1-62h1v1h-1zm0 6h1v1h-1zm0 36h1v1h-1zm1-45h1v1h-1zm0 17h1v1h-1zm0 16h1v1h-1zm0 28h1v1h-1zm0 11h1v1h-1zm1-5h1v1h-1zm0 2h1v1h-1zm1-49h1v1h-1zm0 12h1v1h-1zm0 40h1v1h-1zm1-68h1v1h-1zm0 28h1v1h-1zm0 23h1v1h-1zm0 6h1v1h-1zm0 3h1v1h-1zm0 5h1v2h-1zm0 9h1v1h-1zm0 4h1v2h-1zm0 7h1v1h-1zm0 7h1v1h-1zm1-89h1v2h-1zm0 25h1v2h-1zm0 14h1v1h-1zm0 6h1v1h-1zm0 3h1v2h-1zm0 14h1v1h-1zm0 10h1v1h-1zm0 7h1v1h-1zm0 3h1v1h-1zm0 2h1v1h-1zm0 2h1v1h-1zm1-90h1v3h-1zm0 40h1v1h-1zm0 8h1v1h-1zm0 12h1v1h-1zm0 8h1v1h-1zm0 5h1v1h-1zm0 6h1v1h-1zm0 5h1v1h-1zm1-74h1v1h-1zm0 2h1v1h-1zm0 5h1v1h-1zm0 7h1v3h-1zm0 20h1v2h-1zm0 14h1v1h-1zm0 2h1v1h-1zm0 3h1v1h-1zm0 3h1v1h-1zm0 18h1v1h-1zm0 5h1v1h-1zm1-80h1v1h-1zm0 3h1v1h-1zm0 15h1v1h-1zm0 9h1v1h-1zm0 5h1v1h-1zm0 14h1v1h-1zm0 4h1v1h-1zm0 13h1v1h-1zm0 12h1v1h-1zm0 6h1v1h-1zm1-88h1v1h-1zm0 10h1v1h-1zm0 18h1v1h-1zm0 13h1v1h-1zm0 5h1v1h-1zm0 20h1v1h-1zm0 15h1v1h-1zm0 2h1v1h-1zm2-88h1v1h-1zm0 14h1v2h-1zm0 40h1v2h-1zm0 3h1v2h-1zm0 6h1v1h-1zm0 12h1v1h-1zm0 6h1v1h-1zm0 22h1v1h-1zm1-93h1v1h-1zm0 2h1v1h-1zm0 34h1v1h-1zm0 2h1v1h-1zm0 5h1v1h-1zm0 33h1v2h-1zm0 17h1v1h-1zm1-76h1v1h-1zm0 12h1v1h-1zm0 19h1v1h-1zm0 19h1v1h-1zm0 9h1v1h-1zm0 17h1v1h-1zm1-102h1v1h-1zm0 40h1v2h-1zm0 5h1v1h-1zm0 53h1v1h-1zm0 2h1v3h-1zm1-101h1v2h-1zm0 3h1v1h-1zm0 3h1v1h-1zm0 2h1v1h-1zm0 31h1v1h-1zm0 6h1v1h-1zm0 32h1v1h-1zm0 22h1v2h-1zm0 4h1v1h-1zm1-101h1v1h-1zm0 16h1v2h-1zm0 8h1v1h-1zm0 74h1v1h-1zm1-91h1v1h-1zm0 20h1v1h-1zm0 11h1v1h-1zm0 3h1v1h-1zm0 9h1v1h-1zm0 4h1v1h-1zm0 2h1v1h-1zm2-54h1v1h-1zm0 6h1v1h-1zm0 7h1v3h-1zm0 8h1v1h-1zm0 2h1v1h-1zm0 3h1v2h-1zm0 13h1v1h-1zm0 6h1v1h-1zm0 29h1v1h-1zm0 7h1v1h-1zm0 2h1v1h-1zm0 9h1v1h-1zm1-96h1v1h-1zm0 3h1v1h-1zm0 13h1v1h-1zm0 10h1v1h-1zm0 35h1v1h-1zm0 12h1v3h-1zm0 24h1v1h-1zm0 3h1v1h-1zm1-100h1v2h-1zm0 9h1v3h-1zm0 34h1v1h-1zm0 2h1v2h-1zm0 4h1v1h-1zm0 26h1v2h-1zm0 24h1v1h-1zm2-96h1v1h-1zm0 7h1v1h-1zm0 16h1v1h-1zm0 7h1v1h-1zm0 35h1v2h-1zm0 3h1v1h-1zm0 7h1v1h-1zm0 2h1v2h-1zm0 16h1v1h-1zm0 4h1v1h-1zm0 3h1v1h-1zm1-95h1v1h-1zm0 18h1v3h-1zm0 7h1v2h-1zm0 4h1v1h-1zm0 12h1v1h-1zm0 9h1v1h-1zm0 11h1v1h-1zm0 7h1v2h-1zm1-74h1v1h-1zm0 23h1v1h-1zm0 55h1v2h-1zm2-65h1v1h-1zm0 16h1v1h-1zm0 8h1v1h-1zm0 2h1v1h-1zm0 3h1v1h-1zm0 23h1v1h-1zm0 2h1v1h-1zm0 4h1v1h-1zm0 2h1v1h-1zm0 7h1v1h-1zm0 17h1v2h-1zm1-97h1v1h-1zm0 25h1v2h-1zm0 14h1v1h-1zm0 25h1v1h-1zm0 2h1v1h-1zm0 7h1v1h-1zm0 2h1v1h-1zm0 4h1v1h-1zm0 8h1v2h-1zm3-80h1v1h-1zm0 5h1v1h-1zm0 9h1v1h-1zm0 10h1v1h-1zm0 3h1v2h-1zm0 3h1v1h-1zm0 4h1v1h-1zm0 3h1v1h-1zm0 8h1v1h-1zm0 13h1v1h-1zm0 5h1v1h-1zm0 2h1v1h-1zm0 7h1v2h-1zm0 13h1v1h-1zm2-93h1v1h-1zm0 4h1v1h-1zm0 2h1v1h-1zm0 10h1v1h-1zm0 10h1v1h-1zm0 2h1v1h-1zm0 40h1v2h-1zm0 3h1v1h-1zm0 17h1v1h-1zm1-89h1v1h-1zm0 22h1v1h-1zm0 6h1v1h-1zm0 13h1v1h-1zm0 18h1v1h-1zm0 3h1v1h-1zm0 4h1v1h-1zm0 3h1v1h-1zm0 9h1v1h-1zm0 5h1v2h-1zm0 6h1v1h-1zm0 7h1v3h-1zm0 4h1v1h-1zm1-87h1v3h-1zm0 4h1v1h-1zm0 18h1v1h-1zm0 4h1v1h-1zm0 10h1v1h-1zm0 14h1v1h-1zm0 10h1v1h-1zm0 11h1v3h-1zm0 5h1v2h-1zm0 5h1v1h-1zm0 2h1v2h-1zm0 7h1v1h-1zm1-103h1v2h-1zm0 9h1v1h-1zm0 9h1v1h-1zm0 6h1v1h-1zm0 13h1v1h-1zm0 3h1v1h-1zm0 18h1v1h-1zm0 23h1v1h-1zm0 11h1v1h-1zm0 10h1v1h-1zm2-101h1v1h-1zm0 10h1v1h-1zm0 5h1v1h-1zm0 13h1v1h-1zm0 8h1v2h-1zm0 5h1v1h-1zm0 11h1v1h-1zm0 2h1v1h-1zm0 2h1v1h-1zm0 11h1v1h-1zm0 4h1v1h-1zm0 3h1v1h-1zm0 8h1v4h-1zm0 5h1v1h-1zm0 5h1v1h-1zm0 4h1v1h-1zm0 4h1v1h-1zm1-99h1v1h-1zm0 3h1v1h-1zm0 5h1v1h-1zm0 14h1v1h-1zm0 2h1v1h-1zm0 25h1v1h-1zm0 3h1v1h-1zm0 10h1v1h-1zm0 2h1v1h-1zm0 11h1v2h-1zm1-75h1v1h-1zm0 7h1v3h-1zm0 17h1v1h-1zm0 41h1v2h-1zm0 20h1v1h-1zm1-70h1v1h-1zm0 18h1v1h-1zm0 3h1v1h-1zm0 3h1v1h-1zm0 4h1v1h-1zm0 31h1v2h-1zm0 4h1v1h-1zm1-66h1v1h-1zm0 3h1v1h-1zm0 11h1v1h-1zm0 7h1v1h-1zm0 10h1v1h-1zm1-31h1v1h-1zm0 16h1v1h-1zm0 23h1v1h-1zm3-48h1v1h-1zm0 3h1v3h-1zm0 5h1v2h-1zm0 83h1v1h-1zm1-92h1v1h-1zm0 95h1v1h-1zm1-16h1v1h-1zm1-56h1v1h-1zm0 52h1v1h-1zm0 3h1v1h-1zm0 13h1v1h-1zm1-85h1v1h-1zm0 2h1v2h-1zm0 9h1v1h-1zm0 7h1v1h-1zm0 5h1v2h-1zm0 6h1v2h-1zm0 12h1v1h-1zm0 2h1v1h-1zm0 4h1v1h-1zm0 12h1v1h-1zm0 9h1v1h-1zm0 2h1v1h-1zm0 2h1v1h-1zm0 8h1v1h-1zm3-86h1v2h-1zm0 3h1v1h-1zm0 2h1v1h-1zm0 3h1v1h-1zm0 3h1v1h-1zm0 16h1v1h-1zm0 7h1v1h-1zm0 5h1v1h-1zm0 10h1v3h-1zm0 21h1v1h-1zm0 3h1v1h-1zm0 8h1v2h-1zm0 7h1v4h-1zm1-79h1v1h-1zm0 5h1v1h-1zm0 4h1v1h-1zm0 11h1v2h-1zm0 11h1v1h-1zm0 9h1v2h-1zm0 5h1v1h-1zm0 2h1v1h-1zm0 9h1v1h-1zm0 2h1v1h-1zm0 12h1v1h-1zm0 9h1v1h-1zm1-85h1v3h-1zm0 20h1v2h-1zm0 6h1v1h-1zm0 2h1v1h-1zm0 3h1v2h-1zm0 7h1v1h-1zm0 9h1v1h-1zm0 9h1v1h-1zm0 12h1v1h-1zm0 19h1v1h-1zm0 3h1v1h-1zm1-92h1v1h-1zm0 2h1v1h-1zm0 19h1v1h-1zm0 2h1v1h-1zm0 4h1v1h-1zm0 2h1v1h-1zm0 4h1v1h-1zm0 6h1v1h-1zm0 2h1v1h-1zm0 4h1v1h-1zm0 8h1v1h-1zm0 24h1v2h-1zm0 5h1v1h-1zm0 3h1v1h-1zm1-75h1v1h-1zm0 8h1v1h-1zm0 2h1v1h-1zm0 3h1v1h-1zm0 28h1v1h-1zm0 3h1v1h-1zm0 7h1v1h-1zm0 2h1v1h-1zm0 4h1v1h-1zm0 8h1v1h-1zm0 4h1v1h-1zm0 9h1v1h-1zm0 3h1v1h-1zm1-93h1v1h-1zm0 3h1v1h-1zm0 4h1v2h-1zm0 9h1v2h-1zm0 6h1v1h-1zm0 3h1v1h-1zm0 10h1v1h-1zm0 4h1v1h-1zm0 2h1v1h-1zm0 13h1v1h-1zm0 6h1v1h-1zm0 8h1v1h-1zm0 5h1v1h-1zm0 3h1v1h-1zm0 11h1v3h-1zm0 4h1v1h-1zm0 2h1v1h-1zm2-91h1v1h-1zm0 4h1v1h-1zm0 2h1v1h-1zm0 11h1v1h-1zm0 9h1v1h-1zm0 4h1v1h-1zm0 10h1v1h-1zm0 12h1v1h-1zm0 6h1v1h-1zm0 14h1v1h-1zm0 2h1v1h-1zm0 20h1v1h-1zm1-90h1v1h-1zm0 3h1v2h-1zm0 5h1v1h-1zm0 6h1v1h-1zm0 4h1v1h-1zm0 6h1v2h-1zm0 21h1v1h-1zm0 7h1v2h-1zm0 8h1v2h-1zm0 8h1v1h-1zm0 6h1v1h-1zm0 6h1v3h-1zm0 6h1v1h-1zm1-85h1v1h-1zm0 16h1v1h-1zm0 2h1v1h-1zm0 5h1v1h-1zm0 4h1v2h-1zm0 3h1v1h-1zm0 3h1v1h-1zm0 2h1v1h-1zm0 11h1v1h-1zm0 9h1v1h-1zm0 8h1v1h-1zm0 2h1v2h-1zm0 5h1v3h-1zm0 8h1v1h-1zm1-78h1v2h-1zm0 3h1v1h-1zm0 2h1v1h-1zm0 24h1v1h-1zm0 34h1v1h-1zm0 15h1v1h-1zm2-84h1v2h-1zm0 3h1v2h-1zm0 3h1v1h-1zm0 36h1v1h-1zm0 4h1v1h-1zm0 3h1v1h-1zm0 4h1v2h-1zm0 3h1v1h-1zm0 8h1v1h-1zm0 14h1v1h-1zm0 3h1v1h-1zm1-85h1v2h-1zm0 6h1v1h-1zm0 3h1v1h-1zm0 3h1v1h-1zm0 7h1v1h-1zm0 21h1v1h-1zm0 2h1v1h-1zm0 4h1v1h-1zm0 2h1v1h-1zm0 13h1v1h-1zm0 2h1v2h-1zm0 9h1v2h-1zm0 15h1v2h-1zm0 5h1v1h-1zm0 3h1v1h-1zm1-92h1v2h-1zm0 4h1v1h-1zm0 6h1v1h-1zm0 3h1v1h-1zm0 6h1v1h-1zm0 7h1v1h-1zm0 14h1v1h-1zm0 7h1v1h-1zm0 17h1v1h-1zm0 5h1v1h-1zm0 18h1v3h-1zm1-85h1v1h-1zm0 32h1v1h-1zm0 2h1v1h-1zm0 5h1v1h-1zm0 29h1v1h-1zm1-71h1v1h-1zm0 6h1v1h-1zm0 9h1v2h-1zm0 6h1v1h-1zm0 16h1v1h-1zm0 8h1v1h-1zm0 4h1v1h-1zm0 2h1v1h-1zm0 3h1v2h-1zm0 9h1v3h-1zm0 5h1v2h-1zm0 8h1v2h-1zm0 6h1v1h-1zm0 4h1v1h-1zm0 6h1v1h-1zm0 2h1v1h-1zm2-92h1v4h-1zm0 9h1v1h-1zm0 21h1v1h-1zm0 21h1v1h-1zm0 2h1v1h-1zm0 4h1v1h-1zm0 15h1v1h-1zm0 9h1v1h-1zm0 6h1v2h-1zm0 3h1v1h-1zm2-77h1v1h-1zm0 2h1v1h-1zm0 15h1v1h-1zm0 3h1v2h-1zm0 6h1v1h-1zm0 5h1v1h-1zm0 4h1v1h-1zm0 20h1v2h-1zm0 3h1v1h-1zm2-74h1v1h-1zm0 22h1v1h-1zm0 12h1v2h-1zm0 15h1v1h-1zm0 4h1v2h-1zm0 3h1v2h-1zm0 10h1v1h-1zm0 11h1v1h-1zm2-76h1v1h-1zm0 24h1v1h-1zm0 2h1v1h-1zm0 8h1v1h-1zm0 6h1v1h-1zm0 4h1v1h-1zm0 2h1v1h-1zm0 4h1v1h-1zm0 4h1v1h-1zm0 19h1v1h-1zm0 4h1v3h-1zm0 4h1v1h-1zm0 6h1v2h-1zm1-89h1v2h-1zm0 23h1v2h-1zm0 25h1v1h-1zm0 4h1v1h-1zm0 15h1v1h-1zm0 23h1v1h-1zm1-75h1v2h-1zm0 14h1v1h-1zm0 2h1v1h-1zm0 24h1v1h-1zm0 3h1v1h-1zm0 6h1v2h-1zm0 9h1v1h-1zm0 3h1v1h-1zm1-74h1v2h-1zm0 17h1v1h-1zm0 20h1v1h-1zm0 28h1v1h-1zm0 16h1v1h-1zm0 3h1v1h-1zm0 6h1v1h-1zm2-85h1v1h-1zm0 2h1v2h-1zm0 32h1v1h-1zm0 7h1v1h-1zm0 36h1v1h-1zm0 6h1v1h-1zm0 2h1v1h-1zm1-81h1v1h-1zm0 14h1v1h-1zm0 5h1v1h-1zm0 2h1v1h-1zm0 5h1v5h-1zm0 13h1v1h-1zm0 20h1v1h-1zm0 2h1v1h-1zm0 3h1v1h-1zm0 4h1v2h-1zm0 12h1v1h-1zm1-89h1v1h-1zm0 6h1v1h-1zm0 5h1v2h-1zm0 8h1v1h-1zm0 2h1v1h-1zm0 3h1v1h-1zm0 7h1v1h-1zm0 2h1v1h-1zm0 9h1v1h-1zm0 3h1v1h-1zm0 13h1v1h-1zm0 12h1v1h-1zm0 9h1v1h-1zm0 8h1v1h-1zm0 7h1v1h-1zm2-93h1v2h-1zm0 6h1v1h-1zm0 12h1v1h-1zm0 9h1v1h-1zm0 2h1v1h-1zm0 5h1v1h-1zm0 11h1v1h-1zm0 6h1v1h-1zm0 13h1v3h-1zm0 17h1v1h-1zm0 9h1v1h-1zm1-91h1v1h-1zm0 2h1v1h-1zm0 5h1v1h-1zm0 3h1v3h-1zm0 7h1v1h-1zm0 10h1v1h-1zm0 12h1v1h-1zm0 5h1v1h-1zm0 10h1v1h-1zm0 16h1v1h-1zm0 2h1v2h-1zm0 9h1v1h-1zm2-75h1v1h-1zm0 2h1v1h-1zm0 5h1v1h-1zm0 6h1v1h-1zm0 3h1v1h-1zm0 12h1v1h-1zm0 2h1v4h-1zm0 6h1v1h-1zm0 4h1v1h-1zm0 16h1v1h-1zm0 7h1v2h-1zm0 7h1v1h-1zm0 2h1v2h-1zm0 9h1v1h-1zm0 7h1v1h-1zm1-87h1v1h-1zm0 4h1v1h-1zm0 10h1v1h-1zm0 2h1v3h-1zm0 14h1v1h-1zm0 3h1v1h-1zm0 2h1v1h-1zm0 13h1v1h-1zm0 4h1v1h-1zm0 13h1v1h-1zm0 5h1v1h-1zm0 3h1v2h-1zm0 12h1v1h-1zm1-90h1v1h-1zm0 2h1v1h-1zm0 7h1v1h-1zm0 3h1v1h-1zm0 3h1v1h-1zm0 2h1v1h-1zm0 24h1v1h-1zm0 3h1v1h-1zm0 2h1v1h-1zm0 3h1v1h-1zm0 2h1v1h-1zm0 7h1v1h-1zm0 7h1v1h-1zm0 10h1v1h-1zm0 7h1v1h-1zm0 7h1v2h-1zm0 3h1v1h-1zm1-94h1v1h-1zm0 19h1v1h-1zm0 6h1v1h-1zm0 2h1v1h-1zm0 8h1v2h-1zm0 12h1v3h-1zm0 6h1v1h-1zm0 11h1v1h-1zm0 9h1v1h-1zm0 22h1v1h-1zm1-87h1v2h-1zm0 20h1v1h-1zm0 6h1v1h-1zm0 2h1v2h-1zm0 9h1v1h-1zm0 7h1v1h-1zm0 8h1v1h-1zm0 5h1v3h-1zm0 5h1v1h-1zm0 9h1v1h-1zm0 3h1v1h-1zm0 5h1v2h-1zm1-89h1v1h-1zm0 2h1v1h-1zm0 3h1v1h-1zm0 27h1v1h-1zm0 16h1v1h-1zm0 5h1v1h-1zm0 6h1v1h-1zm0 9h1v1h-1zm0 2h1v1h-1zm0 6h1v1h-1zm0 3h1v1h-1zm0 4h1v1h-1zm0 4h1v1h-1zm1-65h1v1h-1zm0 9h1v1h-1zm0 5h1v1h-1zm0 3h1v1h-1zm0 5h1v1h-1zm0 5h1v2h-1zm0 4h1v1h-1zm0 3h1v2h-1zm0 29h1v1h-1zm1-77h1v3h-1zm0 12h1v1h-1zm0 3h1v1h-1zm0 6h1v2h-1zm0 5h1v1h-1zm0 2h1v1h-1zm0 14h1v2h-1zm0 12h1v1h-1zm0 2h1v1h-1zm0 5h1v1h-1zm0 18h1v1h-1zm2-86h1v1h-1zm0 4h1v1h-1zm0 2h1v1h-1zm0 8h1v3h-1zm0 12h1v1h-1zm0 8h1v1h-1zm0 8h1v3h-1zm0 4h1v2h-1zm0 3h1v1h-1zm0 13h1v1h-1zm0 7h1v2h-1zm0 5h1v1h-1zm0 17h1v1h-1zm1-89h1v1h-1zm0 5h1v1h-1zm0 16h1v2h-1zm0 10h1v1h-1zm0 4h1v1h-1zm0 12h1v2h-1zm0 9h1v2h-1zm0 14h1v1h-1zm0 8h1v3h-1zm0 5h1v1h-1zm0 3h1v1h-1zm0 4h1v1h-1zm2-92h1v1h-1zm0 2h1v1h-1zm0 4h1v1h-1zm0 4h1v1h-1zm0 10h1v1h-1zm0 7h1v1h-1zm0 3h1v1h-1zm0 2h1v1h-1zm0 2h1v1h-1zm0 4h1v1h-1zm0 6h1v2h-1zm0 12h1v1h-1zm0 2h1v1h-1zm0 4h1v1h-1zm0 10h1v1h-1zm0 12h1v1h-1zm0 9h1v1h-1zm0 5h1v1h-1zm2-96h1v1h-1zm0 2h1v1h-1zm0 2h1v4h-1zm0 5h1v1h-1zm0 3h1v2h-1zm0 9h1v1h-1zm0 6h1v1h-1zm0 4h1v1h-1zm0 19h1v2h-1zm0 9h1v1h-1zm0 8h1v1h-1zm0 6h1v2h-1zm0 12h1v2h-1zm1-88h1v1h-1zm0 10h1v1h-1zm0 3h1v1h-1zm0 2h1v1h-1zm0 10h1v1h-1zm0 3h1v1h-1zm0 5h1v1h-1zm0 2h1v1h-1zm0 15h1v2h-1zm0 4h1v1h-1zm0 3h1v2h-1zm0 5h1v1h-1zm0 6h1v1h-1zm0 6h1v1h-1zm0 3h1v1h-1zm0 3h1v1h-1zm0 12h1v1h-1zm0 2h1v1h-1zm1-92h1v2h-1zm0 3h1v1h-1zm0 2h1v1h-1zm0 7h1v1h-1zm0 15h1v1h-1zm0 3h1v1h-1zm0 2h1v1h-1zm0 2h1v1h-1zm0 20h1v1h-1zm0 2h1v1h-1zm0 8h1v1h-1zm0 3h1v1h-1zm0 4h1v1h-1zm0 6h1v1h-1zm0 2h1v2h-1zm0 8h1v1h-1zm0 5h1v1h-1zm1-94h1v1h-1zm0 2h1v1h-1zm0 3h1v2h-1zm0 4h1v2h-1zm0 20h1v1h-1zm0 2h1v1h-1zm0 2h1v1h-1zm0 11h1v1h-1zm0 17h1v1h-1zm0 15h1v1h-1zm0 4h1v1h-1zm0 3h1v1h-1zm0 7h1v1h-1zm0 6h1v1h-1zm1-73h1v1h-1zm0 2h1v1h-1zm0 11h1v1h-1zm0 16h1v1h-1zm0 9h1v1h-1zm0 18h1v1h-1zm0 21h1v1h-1zm3-85h1v2h-1zm0 10h1v2h-1zm0 4h1v1h-1zm0 2h1v1h-1zm0 3h1v1h-1zm0 2h1v1h-1zm0 3h1v2h-1zm0 16h1v2h-1zm0 7h1v1h-1zm0 9h1v1h-1zm0 4h1v1h-1zm0 2h1v2h-1zm0 4h1v2h-1zm1-39h1v2h-1zm0 17h1v1h-1zm0 5h1v2h-1zm0 19h1v2h-1zm1-76h1v1h-1zm0 22h1v1h-1zm0 11h1v1h-1zm0 3h1v2h-1zm0 3h1v1h-1zm0 3h1v1h-1zm0 9h1v1h-1zm0 16h1v1h-1zm0 2h1v1h-1zm1-74h1v2h-1zm0 4h1v2h-1zm0 5h1v1h-1zm0 9h1v2h-1zm0 14h1v1h-1zm0 9h1v1h-1zm0 3h1v1h-1zm0 3h1v1h-1zm0 20h1v1h-1zm0 4h1v1h-1zm0 18h1v1h-1zm1-87h1v1h-1zm0 4h1v1h-1zm0 9h1v1h-1zm0 2h1v1h-1zm0 3h1v1h-1zm0 4h1v1h-1zm0 7h1v1h-1zm0 3h1v1h-1zm0 4h1v1h-1zm0 6h1v1h-1zm0 2h1v1h-1zm0 7h1v1h-1zm0 10h1v1h-1zm0 2h1v1h-1zm0 2h1v1h-1zm0 16h1v1h-1zm0 3h1v1h-1zm0 3h1v1h-1zm0 2h1v1h-1zm1-93h1v1h-1zm0 3h1v2h-1zm0 8h1v1h-1zm0 2h1v1h-1zm0 5h1v1h-1zm0 7h1v1h-1zm0 8h1v1h-1zm0 4h1v2h-1zm0 4h1v1h-1zm0 16h1v1h-1zm0 2h1v1h-1zm0 2h1v1h-1zm0 5h1v1h-1zm0 4h1v1h-1zm0 3h1v1h-1zm0 3h1v1h-1zm0 2h1v1h-1zm0 3h1v1h-1zm0 2h1v1h-1zm0 3h1v1h-1zm0 3h1v1h-1zm0 4h1v1h-1zm1-93h1v1h-1zm0 3h1v1h-1zm0 11h1v1h-1zm0 30h1v1h-1zm0 3h1v1h-1zm0 5h1v1h-1zm0 2h1v1h-1zm0 2h1v2h-1zm0 14h1v1h-1zm0 4h1v1h-1zm0 5h1v2h-1zm0 13h1v2h-1zm0 3h1v1h-1zm1-74h1v1h-1zm0 2h1v1h-1zm0 6h1v1h-1zm0 8h1v1h-1zm0 11h1v1h-1zm0 4h1v1h-1zm0 10h1v2h-1zm0 5h1v1h-1zm0 19h1v1h-1zm0 8h1v3h-1zm1-91h1v1h-1zm0 7h1v2h-1zm0 33h1v1h-1zm0 3h1v1h-1zm0 3h1v1h-1zm0 3h1v3h-1zm0 5h1v1h-1zm0 3h1v1h-1zm0 12h1v1h-1zm0 14h1v1h-1zm0 9h1v2h-1zm1-90h1v1h-1zm0 26h1v1h-1zm0 33h1v1h-1zm0 11h1v1h-1zm0 17h1v1h-1zm1-82h1v2h-1zm0 13h1v2h-1zm0 7h1v1h-1zm0 7h1v1h-1zm0 8h1v1h-1zm0 15h1v1h-1zm0 5h1v1h-1zm0 3h1v1h-1zm0 11h1v1h-1zm0 12h1v2h-1zm2-90h1v1h-1zm0 3h1v2h-1zm0 8h1v1h-1zm0 3h1v1h-1zm0 5h1v1h-1zm0 11h1v1h-1zm0 4h1v1h-1zm0 6h1v1h-1zm0 8h1v2h-1zm0 4h1v1h-1zm0 4h1v2h-1zm0 5h1v2h-1zm0 20h1v1h-1zm0 2h1v1h-1zm0 6h1v2h-1zm1-90h1v2h-1zm0 7h1v1h-1zm0 6h1v1h-1zm0 6h1v2h-1zm0 5h1v1h-1zm0 17h1v1h-1zm0 3h1v1h-1zm0 13h1v1h-1zm0 17h1v1h-1zm0 3h1v2h-1zm2-68h1v1h-1zm0 5h1v1h-1zm0 2h1v2h-1zm0 8h1v2h-1zm0 17h1v1h-1zm0 3h1v1h-1zm0 6h1v1h-1zm0 3h1v1h-1zm0 15h1v1h-1zm0 14h1v1h-1zm0 12h1v2h-1zm1-94h1v1h-1zm0 8h1v1h-1zm0 5h1v2h-1zm0 5h1v1h-1zm0 16h1v1h-1zm0 4h1v1h-1zm0 4h1v1h-1zm0 12h1v2h-1zm0 13h1v1h-1zm0 2h1v2h-1zm0 3h1v1h-1zm0 7h1v1h-1zm0 2h1v1h-1zm0 2h1v1h-1zm3-62h1v1h-1zm0 5h1v1h-1zm0 2h1v1h-1zm0 3h1v1h-1zm0 5h1v1h-1zm0 7h1v1h-1zm0 7h1v2h-1zm0 5h1v2h-1zm0 5h1v1h-1zm0 2h1v1h-1zm0 6h1v1h-1zm0 2h1v1h-1zm0 8h1v2h-1zm0 4h1v1h-1zm0 13h1v1h-1zm2-81h1v1h-1zm0 4h1v1h-1zm0 6h1v1h-1zm0 11h1v1h-1zm0 3h1v1h-1zm0 3h1v2h-1zm0 3h1v2h-1zm0 13h1v2h-1zm0 10h1v1h-1zm0 2h1v1h-1zm0 2h1v1h-1zm0 2h1v1h-1zm0 2h1v1h-1zm0 2h1v2h-1zm0 7h1v2h-1zm1-82h1v1h-1zm0 12h1v2h-1zm0 3h1v2h-1zm0 10h1v1h-1zm0 28h1v1h-1zm0 3h1v1h-1zm0 6h1v1h-1zm0 2h1v1h-1zm0 18h1v1h-1zm0 6h1v2h-1zm0 3h1v1h-1zm0 3h1v1h-1zm0 2h1v1h-1zm1-85h1v1h-1zm0 13h1v1h-1zm0 29h1v1h-1zm0 13h1v1h-1zm0 5h1v1h-1zm0 4h1v1h-1zm0 3h1v1h-1zm0 2h1v1h-1zm0 3h1v1h-1zm0 8h1v1h-1zm3-88h1v1h-1zm0 26h1v2h-1zm0 7h1v2h-1zm0 3h1v2h-1zm0 16h1v1h-1zm0 6h1v1h-1zm0 4h1v1h-1zm0 4h1v1h-1zm0 2h1v2h-1zm0 3h1v3h-1zm0 16h1v1h-1z"/><path fill="#3dc88d" d="M0 48h1v1h-1zm0 26h1v2h-1zm0 28h1v1h-1zm1 0h1v1h-1zm1 1h1v1h-1zm1-57h1v1h-1zm1-46h1v1h-1zm0 3h1v2h-1zm0 3h1v1h-1zm0 2h1v2h-1zm0 4h1v3h-1zm0 5h1v1h-1zm0 2h1v1h-1zm0 19h1v1h-1zm0 36h1v1h-1zm0 12h1v1h-1zm0 15h1v1h-1zm2-100h1v1h-1zm0 10h1v1h-1zm0 21h1v2h-1zm0 17h1v1h-1zm1 53h1v1h-1zm1-95h1v1h-1zm0 18h1v1h-1zm0 76h1v1h-1zm1-99h1v1h-1zm0 31h1v2h-1zm0 3h1v1h-1zm0 18h1v1h-1zm0 44h1v2h-1zm1-91h1v1h-1zm1-6h1v1h-1zm0 17h1v1h-1zm0 5h1v1h-1zm0 2h1v2h-1zm0 5h1v1h-1zm0 2h1v1h-1zm0 2h1v1h-1zm0 35h1v2h-1zm0 8h1v1h-1zm0 15h1v2h-1zm0 3h1v1h-1zm0 4h1v1h-1zm1-47h1v1h-1zm1 27h1v1h-1zm0 21h1v1h-1zm1-77h1v2h-1zm0 21h1v1h-1zm1 59h1v1h-1zm1-9h1v1h-1zm1-70h1v1h-1zm0 74h1v1h-1zm1-84h1v1h-1zm0 6h1v2h-1zm0 34h1v1h-1zm0 3h1v2h-1zm1 10h1v1h-1zm0 26h1v1h-1zm0 6h1v1h-1zm0 3h1v1h-1zm1-101h1v1h-1zm0 3h1v1h-1zm0 2h1v1h-1zm0 18h1v1h-1zm0 20h1v1h-1zm0 27h1v1h-1zm0 7h1v1h-1zm0 2h1v1h-1zm0 6h1v1h-1zm0 2h1v1h-1zm0 3h1v1h-1zm1-78h1v1h-1zm0 34h1v1h-1zm0 30h1v1h-1zm0 12h1v2h-1zm1 14h1v1h-1zm2-72h1v2h-1zm0 15h1v1h-1zm0 3h1v1h-1zm0 34h1v2h-1zm0 3h1v3h-1zm0 7h1v1h-1zm0 8h1v1h-1zm1-90h1v1h-1zm0 11h1v1h-1zm0 5h1v2h-1zm0 10h1v1h-1zm0 3h1v1h-1zm0 3h1v1h-1zm0 4h1v3h-1zm0 4h1v1h-1zm0 2h1v1h-1zm0 2h1v2h-1zm0 3h1v1h-1zm0 4h1v1h-1zm0 13h1v1h-1zm0 16h1v4h-1zm0 7h1v2h-1zm0 3h1v1h-1zm1-91h1v1h-1zm0 42h1v1h-1zm0 22h1v1h-1zm0 2h1v1h-1zm0 15h1v4h-1zm0 8h1v2h-1zm1-99h1v1h-1zm0 2h1v1h-1zm0 22h1v3h-1zm0 6h1v1h-1zm0 7h1v2h-1zm0 11h1v2h-1zm0 4h1v1h-1zm0 29h1v1h-1zm0 12h1v1h-1zm0 8h1v1h-1zm1-90h1v1h-1zm0 2h1v1h-1zm0 32h1v1h-1zm0 5h1v1h-1zm0 4h1v1h-1zm0 20h1v1h-1zm0 5h1v1h-1zm0 6h1v1h-1zm0 2h1v1h-1zm0 12h1v1h-1zm1-89h1v1h-1zm0 4h1v3h-1zm0 4h1v1h-1zm0 22h1v1h-1zm0 9h1v1h-1zm0 2h1v1h-1zm0 3h1v2h-1zm0 6h1v1h-1zm0 6h1v1h-1zm0 4h1v3h-1zm0 6h1v1h-1zm0 7h1v2h-1zm0 8h1v1h-1zm0 4h1v2h-1zm0 3h1v1h-1zm1-78h1v1h-1zm0 4h1v2h-1zm0 72h1v2h-1zm1-90h1v1h-1zm0 71h1v1h-1zm0 11h1v1h-1zm0 15h1v1h-1zm1-79h1v2h-1zm1 47h1v1h-1zm0 31h1v1h-1zm1-99h1v1h-1zm1 21h1v1h-1zm0 14h1v1h-1zm0 16h1v3h-1zm0 15h1v2h-1zm0 16h1v1h-1zm1-73h1v1h-1zm0 16h1v1h-1zm0 5h1v4h-1zm0 5h1v1h-1zm0 3h1v1h-1zm0 3h1v1h-1zm0 7h1v1h-1zm0 4h1v1h-1zm0 5h1v2h-1zm0 8h1v1h-1zm0 19h1v1h-1zm0 2h1v1h-1zm0 4h1v1h-1zm0 2h1v3h-1zm1-17h1v1h-1zm0 23h1v1h-1zm1-79h1v1h-1zm0 3h1v1h-1zm0 14h1v1h-1zm0 20h1v1h-1zm1 2h1v1h-1zm0 12h1v3h-1zm1-67h1v2h-1zm0 15h1v2h-1zm0 4h1v3h-1zm0 5h1v1h-1zm0 10h1v1h-1zm0 2h1v1h-1zm0 2h1v1h-1zm0 13h1v3h-1zm0 9h1v2h-1zm0 9h1v4h-1zm0 5h1v1h-1zm1-60h1v3h-1zm1 12h1v1h-1zm0 20h1v2h-1zm0 50h1v1h-1zm1-79h1v3h-1zm0 14h1v1h-1zm0 15h1v2h-1zm0 31h1v1h-1zm0 2h1v3h-1zm0 5h1v2h-1zm0 4h1v3h-1zm0 4h1v1h-1zm0 3h1v1h-1zm1-87h1v1h-1zm0 5h1v2h-1zm0 13h1v2h-1zm0 6h1v1h-1zm0 3h1v2h-1zm0 5h1v1h-1zm0 4h1v1h-1zm0 2h1v1h-1zm0 29h1v1h-1zm0 3h1v2h-1zm0 17h1v2h-1zm1-66h1v1h-1zm0 49h1v1h-1zm0 17h1v1h-1zm1-61h1v1h-1zm0 2h1v1h-1zm0 59h1v1h-1zm1-29h1v1h-1zm0 8h1v1h-1zm1-80h1v1h-1zm0 3h1v1h-1zm0 8h1v1h-1zm0 21h1v1h-1zm0 2h1v3h-1zm0 5h1v1h-1zm0 4h1v1h-1zm0 2h1v2h-1zm0 3h1v1h-1zm0 2h1v1h-1zm0 6h1v1h-1zm0 10h1v1h-1zm0 6h1v1h-1zm0 7h1v2h-1zm0 10h1v2h-1zm0 9h1v1h-1zm0 3h1v1h-1zm1-99h1v3h-1zm0 52h1v1h-1zm0 45h1v1h-1zm1-90h1v1h-1zm0 61h1v1h-1zm0 2h1v2h-1zm1-45h1v1h-1zm0 25h1v1h-1zm2-52h1v1h-1zm0 2h1v5h-1zm0 14h1v1h-1zm0 24h1v3h-1zm0 11h1v1h-1zm0 2h1v2h-1zm0 33h1v1h-1zm0 12h1v4h-1zm1-12h1v2h-1zm1-49h1v1h-1zm0 2h1v2h-1zm0 62h1v2h-1zm1-91h1v1h-1zm0 3h1v2h-1zm0 5h1v1h-1zm0 2h1v1h-1zm0 2h1v1h-1zm0 3h1v2h-1zm0 3h1v1h-1zm0 6h1v1h-1zm0 3h1v2h-1zm0 21h1v1h-1zm0 5h1v3h-1zm0 19h1v1h-1zm0 11h1v3h-1zm1-80h1v1h-1zm0 2h1v1h-1zm0 2h1v1h-1zm0 7h1v2h-1zm0 15h1v1h-1zm0 17h1v1h-1zm0 3h1v1h-1zm0 2h1v3h-1zm0 17h1v2h-1zm0 19h1v1h-1zm1-87h1v4h-1zm0 21h1v1h-1zm0 22h1v1h-1zm0 3h1v1h-1zm0 2h1v1h-1zm0 6h1v1h-1zm0 6h1v2h-1zm0 3h1v1h-1zm3-49h1v1h-1zm0 17h1v2h-1zm0 7h1v1h-1zm0 32h1v1h-1zm1-70h1v1h-1zm0 30h1v1h-1zm0 31h1v1h-1zm0 8h1v2h-1zm2-79h1v4h-1zm0 6h1v1h-1zm0 4h1v1h-1zm0 11h1v2h-1zm0 8h1v1h-1zm0 3h1v1h-1zm0 2h1v1h-1zm0 2h1v3h-1zm0 4h1v1h-1zm0 2h1v4h-1zm0 6h1v1h-1zm0 10h1v1h-1zm0 2h1v2h-1zm0 13h1v1h-1zm0 17h1v1h-1zm0 2h1v1h-1zm0 3h1v1h-1zm0 2h1v1h-1zm0 2h1v1h-1zm1-95h1v2h-1zm0 72h1v1h-1zm1-38h1v1h-1zm0 63h1v1h-1zm1-51h1v2h-1zm1-49h1v1h-1zm0 26h1v1h-1zm0 17h1v1h-1zm0 2h1v1h-1zm0 3h1v1h-1zm0 19h1v1h-1zm0 20h1v1h-1zm1-68h1v3h-1zm0 12h1v1h-1zm0 8h1v1h-1zm0 2h1v2h-1zm0 7h1v2h-1zm0 5h1v1h-1zm0 4h1v1h-1zm0 6h1v2h-1zm0 10h1v3h-1zm1 14h1v1h-1zm1 14h1v1h-1zm1-73h1v1h-1zm0 17h1v2h-1zm0 22h1v2h-1zm1-42h1v1h-1zm0 45h1v1h-1zm0 30h1v1h-1zm3-4h1v1h-1zm1-97h1v1h-1zm0 8h1v2h-1zm0 8h1v1h-1zm0 27h1v1h-1zm0 3h1v1h-1zm0 9h1v1h-1zm0 9h1v1h-1zm2 6h1v1h-1zm5 32h1v1h-1zm1-91h1v1h-1zm0 2h1v1h-1zm2-6h1v1h-1zm0 19h1v1h-1zm0 8h1v1h-1zm0 3h1v1h-1zm0 8h1v1h-1zm0 19h1v1h-1zm0 7h1v1h-1zm0 14h1v3h-1zm0 10h1v1h-1zm1-78h1v1h-1zm0 12h1v1h-1zm0 4h1v2h-1zm0 57h1v1h-1zm0 6h1v1h-1zm1-70h1v1h-1zm1-19h1v2h-1zm0 12h1v1h-1zm0 9h1v1h-1zm0 4h1v1h-1zm0 3h1v1h-1zm0 6h1v2h-1zm0 3h1v2h-1zm0 7h1v2h-1zm0 27h1v2h-1zm1-50h1v1h-1zm0 2h1v1h-1zm0 8h1v1h-1zm0 3h1v2h-1zm0 4h1v1h-1zm0 6h1v2h-1zm0 6h1v2h-1zm0 3h1v1h-1zm0 16h1v2h-1zm0 8h1v1h-1zm0 3h1v2h-1zm0 3h1v1h-1zm0 2h1v1h-1zm0 2h1v2h-1zm0 3h1v1h-1zm1-92h1v1h-1zm0 2h1v1h-1zm0 19h1v2h-1zm0 22h1v1h-1zm1 16h1v1h-1zm1-32h1v1h-1zm0 3h1v1h-1zm0 6h1v1h-1zm0 21h1v1h-1zm0 2h1v1h-1zm0 44h1v1h-1zm1-88h1v1h-1zm0 3h1v2h-1zm0 4h1v2h-1zm0 19h1v2h-1zm0 3h1v2h-1zm0 9h1v1h-1zm1-52h1v1h-1zm0 13h1v1h-1zm0 6h1v1h-1zm0 19h1v1h-1zm1-37h1v1h-1zm0 19h1v1h-1zm0 3h1v1h-1zm0 15h1v1h-1zm1-43h1v1h-1zm0 6h1v1h-1zm0 80h1v1h-1zm0 8h1v2h-1zm0 3h1v1h-1zm0 4h1v1h-1zm1-95h1v1h-1zm0 5h1v1h-1zm0 53h1v1h-1zm0 11h1v1h-1zm0 5h1v1h-1zm0 4h1v1h-1zm0 17h1v2h-1zm1-88h1v1h-1zm0 55h1v1h-1zm0 2h1v1h-1zm0 6h1v1h-1zm0 5h1v1h-1zm0 3h1v1h-1zm0 11h1v1h-1zm1-96h1v1h-1zm0 10h1v1h-1zm0 5h1v1h-1zm0 2h1v1h-1zm0 56h1v2h-1zm0 4h1v1h-1zm0 3h1v1h-1zm0 8h1v1h-1zm1-82h1v2h-1zm0 27h1v1h-1zm0 2h1v1h-1zm0 14h1v1h-1zm0 19h1v1h-1zm0 8h1v1h-1zm0 9h1v1h-1zm0 5h1v2h-1zm0 5h1v1h-1zm0 9h1v1h-1zm1-95h1v1h-1zm0 5h1v1h-1zm0 2h1v1h-1zm0 33h1v1h-1zm0 7h1v1h-1zm0 2h1v2h-1zm0 11h1v1h-1zm0 5h1v2h-1zm0 3h1v1h-1zm0 2h1v1h-1zm0 18h1v1h-1zm0 5h1v1h-1zm1-91h1v3h-1zm0 18h1v1h-1zm0 5h1v1h-1zm0 4h1v1h-1zm0 6h1v1h-1zm0 11h1v1h-1zm0 14h1v1h-1zm0 9h1v1h-1zm0 14h1v1h-1zm1-91h1v1h-1zm0 2h1v1h-1zm0 6h1v1h-1zm0 4h1v2h-1zm0 9h1v1h-1zm0 10h1v1h-1zm0 4h1v1h-1zm0 3h1v1h-1zm0 10h1v1h-1zm0 4h1v2h-1zm0 20h1v1h-1zm0 3h1v1h-1zm0 18h1v1h-1zm0 2h1v1h-1zm1-93h1v2h-1zm0 7h1v2h-1zm0 26h1v2h-1zm0 33h1v1h-1zm0 11h1v2h-1zm0 3h1v1h-1zm0 14h1v2h-1zm0 4h1v1h-1zm1-101h1v1h-1zm0 12h1v2h-1zm0 4h1v1h-1zm0 9h1v1h-1zm0 7h1v1h-1zm0 7h1v1h-1zm0 6h1v2h-1zm0 4h1v1h-1zm0 12h1v2h-1zm0 5h1v1h-1zm0 15h1v1h-1zm0 2h1v1h-1zm0 5h1v1h-1zm2-79h1v1h-1zm0 2h1v2h-1zm0 6h1v2h-1zm0 8h1v1h-1zm0 2h1v2h-1zm0 18h1v1h-1zm0 4h1v1h-1zm0 2h1v1h-1zm0 30h1v1h-1zm0 2h1v1h-1zm0 7h1v2h-1zm0 3h1v1h-1zm2-73h1v2h-1zm0 3h1v1h-1zm0 2h1v1h-1zm0 3h1v1h-1zm0 12h1v1h-1zm0 31h1v2h-1zm0 19h1v2h-1zm0 3h1v1h-1zm1-84h1v1h-1zm0 44h1v1h-1zm0 24h1v1h-1zm0 21h1v1h-1zm1-26h1v1h-1zm0 13h1v1h-1zm0 12h1v1h-1zm0 5h1v1h-1zm0 2h1v1h-1zm1-95h1v1h-1zm0 2h1v1h-1zm0 4h1v1h-1zm0 20h1v1h-1zm0 8h1v1h-1zm0 7h1v1h-1zm0 3h1v1h-1zm0 8h1v2h-1zm0 6h1v3h-1zm0 8h1v1h-1zm0 17h1v1h-1zm1-91h1v1h-1zm0 5h1v1h-1zm0 2h1v1h-1zm0 2h1v1h-1zm0 4h1v1h-1zm0 3h1v1h-1zm0 7h1v1h-1zm0 2h1v1h-1zm0 11h1v1h-1zm0 26h1v1h-1zm0 10h1v1h-1zm0 18h1v1h-1zm0 2h1v1h-1zm1-76h1v1h-1zm0 7h1v1h-1zm0 49h1v1h-1zm0 10h1v1h-1zm1-56h1v2h-1zm0 3h1v1h-1zm0 2h1v2h-1zm0 30h1v1h-1zm0 8h1v1h-1zm0 3h1v1h-1zm0 7h1v1h-1zm0 24h1v1h-1zm2-93h1v2h-1zm0 4h1v1h-1zm0 8h1v1h-1zm0 10h1v1h-1zm0 3h1v1h-1zm0 19h1v1h-1zm0 5h1v1h-1zm0 21h1v1h-1zm0 20h1v1h-1zm0 2h1v1h-1zm1-98h1v1h-1zm0 2h1v1h-1zm0 2h1v1h-1zm0 3h1v1h-1zm0 7h1v1h-1zm0 8h1v2h-1zm0 15h1v1h-1zm0 8h1v1h-1zm0 14h1v1h-1zm0 8h1v1h-1zm0 10h1v1h-1zm0 14h1v1h-1zm0 4h1v1h-1zm1-97h1v1h-1zm0 3h1v3h-1zm0 4h1v2h-1zm0 6h1v1h-1zm0 30h1v1h-1zm0 7h1v1h-1zm0 6h1v1h-1zm1-58h1v1h-1zm0 2h1v1h-1zm0 11h1v1h-1zm0 17h1v2h-1zm0 4h1v1h-1zm0 3h1v1h-1zm0 35h1v1h-1zm0 2h1v1h-1zm0 6h1v1h-1zm1-80h1v1h-1zm0 16h1v1h-1zm0 5h1v1h-1zm0 4h1v1h-1zm0 5h1v1h-1zm0 14h1v1h-1zm0 10h1v2h-1zm0 21h1v1h-1zm0 4h1v1h-1zm0 5h1v1h-1zm0 13h1v1h-1zm0 2h1v1h-1zm0 4h1v1h-1zm1-89h1v1h-1zm0 27h1v1h-1zm0 9h1v1h-1zm0 2h1v1h-1zm0 50h1v1h-1zm2-103h1v1h-1zm0 18h1v2h-1zm0 23h1v1h-1zm0 26h1v1h-1zm0 9h1v1h-1zm0 3h1v1h-1zm0 18h1v1h-1zm1-88h1v1h-1zm0 8h1v1h-1zm0 5h1v1h-1zm0 6h1v1h-1zm0 16h1v1h-1zm0 18h1v1h-1zm0 5h1v1h-1zm0 11h1v1h-1zm0 17h1v1h-1zm0 6h1v3h-1zm1-99h1v2h-1zm0 9h1v1h-1zm0 11h1v1h-1zm0 3h1v2h-1zm0 5h1v2h-1zm0 9h1v1h-1zm0 5h1v1h-1zm0 49h1v1h-1zm0 2h1v1h-1zm0 5h1v1h-1zm1-86h1v1h-1zm0 5h1v1h-1zm0 2h1v1h-1zm0 4h1v1h-1zm0 19h1v2h-1zm0 24h1v2h-1zm0 5h1v1h-1zm0 2h1v1h-1zm0 15h1v1h-1zm1-87h1v1h-1zm0 5h1v1h-1zm0 4h1v1h-1zm0 7h1v1h-1zm0 5h1v1h-1zm0 7h1v2h-1zm0 8h1v1h-1zm0 5h1v1h-1zm0 6h1v1h-1zm0 13h1v1h-1zm0 2h1v1h-1zm0 14h1v1h-1zm0 15h1v1h-1zm0 6h1v1h-1zm1-92h1v1h-1zm0 5h1v1h-1zm0 4h1v2h-1zm0 6h1v2h-1zm0 4h1v1h-1zm0 6h1v1h-1zm0 2h1v1h-1zm0 19h1v1h-1zm0 10h1v1h-1zm0 10h1v1h-1zm1-69h1v2h-1zm0 7h1v1h-1zm0 3h1v1h-1zm0 10h1v2h-1zm0 3h1v1h-1zm0 8h1v1h-1zm0 3h1v1h-1zm0 10h1v1h-1zm0 2h1v1h-1zm0 52h1v1h-1zm1-94h1v1h-1zm0 3h1v1h-1zm0 12h1v1h-1zm0 4h1v1h-1zm0 6h1v2h-1zm0 9h1v1h-1zm0 27h1v1h-1zm0 15h1v1h-1zm0 2h1v1h-1zm0 7h1v2h-1zm0 6h1v1h-1zm2-93h1v1h-1zm0 3h1v1h-1zm0 36h1v1h-1zm0 31h1v1h-1zm1-34h1v1h-1zm0 11h1v1h-1zm0 13h1v1h-1zm0 31h1v1h-1zm1-98h1v1h-1zm0 29h1v1h-1zm0 32h1v1h-1zm0 22h1v1h-1zm0 7h1v1h-1zm0 14h1v1h-1zm1-92h1v1h-1zm0 5h1v2h-1zm0 27h1v1h-1zm0 20h1v1h-1zm0 29h1v1h-1zm0 11h1v1h-1zm1-98h1v1h-1zm0 40h1v1h-1zm0 18h1v1h-1zm0 15h1v1h-1zm0 5h1v2h-1zm0 3h1v1h-1zm1-86h1v1h-1zm0 9h1v1h-1zm0 6h1v1h-1zm0 6h1v1h-1zm0 18h1v2h-1zm0 11h1v1h-1zm0 5h1v1h-1zm0 9h1v1h-1zm0 15h1v1h-1zm0 8h1v1h-1zm0 12h1v1h-1zm1-97h1v1h-1zm0 6h1v1h-1zm0 2h1v1h-1zm0 16h1v1h-1zm0 18h1v1h-1zm0 3h1v1h-1zm0 5h1v1h-1zm0 24h1v1h-1zm0 10h1v2h-1zm0 10h1v1h-1zm0 3h1v1h-1zm2-100h1v1h-1zm0 20h1v1h-1zm0 7h1v2h-1zm0 20h1v2h-1zm0 4h1v1h-1zm0 5h1v1h-1zm0 31h1v1h-1zm3-86h1v1h-1zm0 50h1v1h-1zm0 53h1v1h-1zm1-103h1v1h-1zm0 7h1v2h-1zm0 6h1v1h-1zm0 54h1v2h-1zm1-68h1v1h-1zm0 2h1v1h-1zm0 5h1v1h-1zm0 6h1v1h-1zm1-3h1v1h-1zm0 4h1v1h-1zm0 3h1v1h-1zm1-17h1v1h-1zm0 9h1v2h-1zm0 3h1v1h-1zm1-10h1v1h-1zm0 7h1v1h-1zm0 42h1v1h-1zm1-50h1v1h-1zm0 19h1v1h-1zm0 33h1v1h-1zm0 15h1v1h-1zm0 3h1v2h-1zm1-70h1v2h-1zm0 4h1v1h-1zm0 7h1v1h-1zm0 2h1v1h-1zm0 4h1v1h-1zm0 15h1v1h-1zm0 17h1v1h-1zm0 14h1v1h-1zm0 8h1v1h-1zm0 2h1v1h-1zm1-62h1v1h-1zm0 6h1v2h-1zm0 15h1v1h-1zm0 30h1v1h-1zm0 3h1v1h-1zm0 2h1v1h-1zm1-52h1v1h-1zm0 34h1v2h-1zm1-40h1v1h-1zm0 36h1v1h-1zm0 3h1v1h-1zm0 3h1v1h-1zm0 35h1v1h-1zm1-77h1v1h-1zm0 7h1v1h-1zm0 87h1v1h-1zm1-94h1v1h-1zm0 5h1v2h-1zm0 46h1v1h-1zm1-48h1v1h-1zm0 28h1v1h-1zm0 33h1v1h-1zm1-70h1v1h-1zm0 3h1v1h-1zm0 20h1v1h-1zm0 5h1v1h-1zm0 12h1v1h-1zm0 3h1v4h-1zm0 20h1v1h-1zm1-66h1v1h-1zm0 31h1v1h-1zm0 20h1v1h-1zm0 13h1v3h-1zm1-58h1v1h-1zm0 12h1v1h-1zm0 29h1v1h-1zm0 13h1v2h-1zm0 9h1v1h-1zm0 3h1v1h-1zm1-60h1v1h-1zm0 6h1v1h-1zm0 21h1v1h-1zm0 12h1v2h-1zm0 3h1v1h-1zm1-55h1v2h-1zm0 3h1v1h-1zm0 30h1v1h-1zm0 21h1v1h-1zm0 23h1v1h-1zm0 7h1v2h-1zm0 3h1v1h-1zm1-86h1v1h-1zm0 19h1v1h-1zm0 20h1v2h-1zm0 24h1v2h-1zm0 4h1v1h-1zm0 2h1v1h-1zm0 14h1v1h-1zm0 3h1v1h-1zm1-85h1v1h-1zm0 5h1v1h-1zm0 8h1v1h-1zm0 29h1v2h-1zm0 16h1v2h-1zm0 13h1v1h-1zm0 4h1v1h-1zm0 14h1v3h-1zm2-71h1v1h-1zm0 23h1v1h-1zm0 3h1v1h-1zm0 14h1v1h-1zm0 18h1v1h-1zm0 2h1v1h-1zm0 4h1v2h-1zm1-81h1v1h-1zm0 8h1v1h-1zm0 46h1v1h-1zm0 4h1v1h-1zm0 2h1v1h-1zm0 9h1v1h-1zm0 4h1v2h-1zm0 4h1v1h-1zm0 5h1v1h-1zm0 4h1v1h-1zm0 2h1v1h-1zm1-91h1v2h-1zm0 30h1v1h-1zm0 3h1v1h-1zm0 9h1v2h-1zm0 20h1v1h-1zm0 29h1v1h-1zm0 3h1v1h-1zm1-86h1v2h-1zm0 58h1v3h-1zm0 4h1v1h-1zm0 3h1v2h-1zm1-73h1v1h-1zm0 13h1v1h-1zm0 28h1v1h-1zm0 9h1v2h-1zm0 24h1v1h-1zm0 6h1v1h-1zm0 5h1v1h-1zm1-85h1v3h-1zm0 9h1v1h-1zm0 2h1v1h-1zm0 15h1v1h-1zm0 35h1v1h-1zm0 15h1v1h-1zm0 2h1v3h-1zm0 12h1v1h-1zm0 8h1v1h-1zm1-96h1v1h-1zm0 38h1v1h-1zm0 18h1v1h-1zm0 2h1v2h-1zm0 24h1v1h-1zm0 14h1v1h-1zm1-65h1v2h-1zm0 14h1v1h-1zm0 4h1v1h-1zm0 2h1v1h-1zm0 2h1v2h-1zm0 8h1v1h-1zm0 18h1v1h-1zm0 7h1v1h-1zm0 9h1v1h-1zm1-96h1v1h-1zm0 9h1v1h-1zm0 7h1v1h-1zm0 23h1v1h-1zm0 3h1v1h-1zm0 2h1v1h-1zm0 7h1v1h-1zm0 28h1v3h-1zm0 18h1v1h-1zm1-92h1v1h-1zm0 4h1v1h-1zm0 12h1v2h-1zm0 3h1v2h-1zm0 16h1v1h-1zm0 10h1v1h-1zm0 3h1v1h-1zm0 5h1v1h-1zm0 13h1v1h-1zm0 6h1v1h-1zm0 18h1v1h-1zm0 3h1v1h-1zm1-87h1v1h-1zm0 18h1v1h-1zm0 14h1v2h-1zm0 8h1v2h-1zm0 5h1v2h-1zm0 3h1v1h-1zm0 17h1v1h-1zm0 3h1v1h-1zm0 2h1v1h-1zm0 21h1v1h-1zm1-96h1v2h-1zm0 6h1v1h-1zm0 2h1v1h-1zm0 11h1v1h-1zm0 2h1v1h-1zm0 19h1v1h-1zm0 5h1v2h-1zm0 3h1v1h-1zm0 3h1v1h-1zm0 3h1v1h-1zm0 12h1v1h-1zm0 6h1v1h-1zm0 21h1v2h-1zm1-99h1v1h-1zm0 6h1v1h-1zm0 25h1v1h-1zm0 25h1v1h-1zm0 20h1v1h-1zm0 3h1v1h-1zm0 13h1v2h-1zm0 5h1v1h-1zm0 3h1v1h-1zm1-96h1v1h-1zm0 8h1v1h-1zm0 3h1v2h-1zm0 25h1v1h-1zm0 10h1v2h-1zm0 3h1v1h-1zm0 2h1v1h-1zm0 2h1v1h-1zm0 8h1v1h-1zm0 8h1v1h-1zm0 5h1v1h-1zm0 3h1v1h-1zm0 7h1v2h-1zm0 6h1v1h-1zm0 7h1v1h-1zm1-99h1v1h-1zm0 15h1v1h-1zm0 12h1v1h-1zm0 21h1v1h-1zm0 6h1v1h-1zm0 19h1v1h-1zm0 6h1v3h-1zm0 12h1v1h-1zm1-90h1v1h-1zm0 11h1v1h-1zm0 13h1v1h-1zm0 11h1v3h-1zm0 9h1v1h-1zm0 8h1v1h-1zm0 23h1v1h-1zm0 4h1v1h-1zm1-80h1v1h-1zm0 21h1v1h-1zm0 18h1v1h-1zm0 6h1v1h-1zm0 46h1v1h-1zm0 5h1v1h-1zm0 2h1v1h-1zm1-101h1v1h-1zm0 4h1v1h-1zm0 3h1v1h-1zm0 2h1v1h-1zm0 5h1v2h-1zm0 9h1v1h-1zm0 12h1v1h-1zm0 9h1v1h-1zm0 2h1v2h-1zm0 25h1v2h-1zm0 8h1v1h-1zm0 18h1v1h-1zm1-84h1v1h-1zm0 26h1v1h-1zm0 2h1v1h-1zm0 6h1v1h-1zm0 5h1v1h-1zm0 2h1v1h-1zm0 20h1v2h-1zm0 3h1v2h-1zm0 4h1v1h-1zm0 10h1v1h-1zm1-91h1v2h-1zm0 4h1v2h-1zm0 12h1v1h-1zm0 9h1v1h-1zm0 20h1v1h-1zm0 3h1v1h-1zm0 4h1v2h-1zm0 9h1v1h-1zm0 23h1v1h-1zm1-84h1v1h-1zm0 25h1v2h-1zm0 12h1v1h-1zm0 15h1v1h-1zm0 4h1v1h-1zm0 5h1v1h-1zm0 8h1v1h-1zm0 15h1v1h-1zm0 10h1v1h-1zm0 2h1v1h-1zm0 2h1v1h-1zm0 4h1v1h-1zm1-94h1v1h-1zm0 6h1v1h-1zm0 15h1v1h-1zm0 2h1v1h-1zm0 22h1v1h-1zm0 10h1v1h-1zm0 9h1v1h-1zm0 4h1v1h-1zm0 12h1v2h-1zm0 4h1v1h-1zm0 9h1v2h-1zm1-74h1v1h-1zm0 7h1v1h-1zm0 14h1v1h-1zm0 5h1v1h-1zm0 14h1v1h-1zm0 19h1v1h-1zm0 3h1v1h-1zm0 8h1v1h-1zm0 4h1v2h-1zm1-100h1v1h-1zm0 4h1v1h-1zm0 10h1v2h-1zm0 11h1v1h-1zm0 2h1v2h-1zm0 13h1v1h-1zm0 20h1v1h-1zm0 5h1v1h-1zm0 9h1v1h-1zm0 4h1v1h-1zm0 7h1v2h-1zm0 3h1v1h-1zm0 6h1v1h-1zm0 2h1v1h-1zm1-95h1v1h-1zm0 11h1v1h-1zm0 20h1v2h-1zm0 36h1v1h-1zm0 4h1v1h-1zm0 2h1v1h-1zm0 4h1v1h-1zm0 2h1v1h-1zm0 3h1v2h-1zm0 7h1v1h-1zm0 9h1v1h-1zm3-94h1v1h-1zm0 5h1v1h-1zm0 7h1v1h-1zm0 5h1v1h-1zm0 8h1v1h-1zm0 5h1v1h-1zm0 6h1v1h-1zm0 4h1v1h-1zm0 2h1v1h-1zm0 4h1v1h-1zm0 5h1v1h-1zm0 20h1v1h-1zm0 2h1v1h-1zm0 2h1v1h-1zm0 6h1v2h-1zm1-64h1v1h-1zm0 3h1v1h-1zm0 40h1v1h-1zm0 14h1v1h-1zm0 6h1v1h-1zm0 2h1v2h-1zm0 8h1v1h-1zm1-82h1v1h-1zm0 4h1v1h-1zm0 9h1v1h-1zm0 4h1v1h-1zm0 2h1v1h-1zm0 12h1v1h-1zm0 3h1v1h-1zm0 16h1v1h-1zm0 4h1v1h-1zm0 7h1v1h-1zm0 4h1v1h-1zm0 5h1v1h-1zm0 4h1v1h-1zm0 3h1v3h-1zm0 4h1v1h-1zm0 7h1v1h-1zm2-94h1v1h-1zm0 3h1v1h-1zm0 4h1v1h-1zm0 3h1v1h-1zm0 18h1v1h-1zm0 5h1v1h-1zm0 21h1v2h-1zm0 6h1v1h-1zm0 7h1v1h-1zm0 7h1v1h-1zm0 2h1v1h-1zm0 14h1v1h-1zm1-85h1v1h-1zm0 7h1v1h-1zm0 12h1v1h-1zm0 4h1v2h-1zm0 5h1v2h-1zm0 7h1v1h-1zm0 29h1v1h-1zm0 7h1v1h-1zm0 23h1v1h-1zm2-103h1v2h-1zm0 5h1v1h-1zm0 9h1v1h-1zm0 3h1v1h-1zm0 3h1v1h-1zm0 7h1v1h-1zm0 5h1v1h-1zm1-29h1v2h-1zm0 6h1v1h-1zm0 16h1v1h-1zm0 10h1v1h-1zm0 25h1v1h-1zm1-53h1v1h-1zm0 3h1v5h-1zm1 88h1v2h-1zm0 3h1v1h-1zm1-99h1v1h-1zm0 5h1v1h-1zm1-8h1v1h-1zm0 6h1v3h-1zm0 81h1v2h-1zm0 8h1v1h-1zm1-21h1v2h-1zm0 3h1v2h-1zm0 4h1v1h-1zm0 2h1v1h-1zm0 6h1v1h-1zm0 7h1v1h-1zm1-94h1v1h-1zm0 5h1v1h-1zm0 56h1v2h-1zm0 3h1v1h-1zm0 5h1v1h-1zm0 2h1v1h-1zm0 4h1v1h-1zm0 9h1v1h-1zm2-80h1v1h-1zm0 10h1v1h-1zm0 22h1v1h-1zm0 9h1v1h-1zm0 2h1v1h-1zm0 3h1v1h-1zm0 20h1v1h-1zm0 2h1v1h-1zm0 5h1v1h-1zm0 3h1v1h-1zm0 5h1v3h-1zm0 4h1v1h-1zm1-88h1v2h-1zm0 6h1v1h-1zm0 4h1v1h-1zm0 2h1v1h-1zm0 4h1v2h-1zm0 6h1v1h-1zm0 3h1v1h-1zm0 13h1v1h-1zm0 24h1v2h-1zm0 3h1v2h-1zm0 3h1v1h-1zm0 3h1v1h-1zm0 5h1v1h-1zm0 4h1v1h-1zm0 7h1v1h-1zm1-79h1v1h-1zm0 2h1v1h-1zm0 2h1v1h-1zm0 6h1v1h-1zm0 5h1v2h-1zm0 17h1v2h-1zm0 10h1v1h-1zm0 23h1v1h-1zm0 3h1v1h-1zm1-62h1v1h-1zm0 4h1v1h-1zm0 2h1v1h-1zm0 17h1v1h-1zm0 8h1v1h-1zm0 6h1v1h-1zm0 13h1v1h-1zm0 4h1v1h-1zm0 10h1v1h-1zm0 5h1v1h-1zm0 5h1v3h-1zm2-90h1v1h-1zm0 7h1v2h-1zm0 13h1v1h-1zm0 3h1v1h-1zm0 21h1v2h-1zm0 4h1v1h-1zm0 3h1v2h-1zm0 5h1v1h-1zm0 5h1v1h-1zm0 2h1v1h-1zm0 3h1v1h-1zm0 3h1v1h-1zm0 11h1v1h-1zm0 4h1v1h-1zm0 8h1v1h-1zm1-92h1v1h-1zm0 13h1v1h-1zm0 12h1v1h-1zm0 20h1v4h-1zm0 6h1v1h-1zm0 5h1v1h-1zm0 5h1v1h-1zm0 6h1v1h-1zm0 2h1v1h-1zm0 3h1v2h-1zm0 5h1v3h-1zm0 5h1v1h-1zm2-73h1v4h-1zm0 7h1v1h-1zm0 17h1v1h-1zm0 10h1v1h-1zm0 3h1v1h-1zm0 11h1v1h-1zm0 5h1v1h-1zm0 2h1v1h-1zm0 6h1v2h-1zm0 5h1v1h-1zm0 3h1v1h-1zm0 3h1v2h-1zm0 10h1v1h-1zm3-90h1v1h-1zm0 3h1v1h-1zm0 21h1v1h-1zm0 2h1v1h-1zm0 5h1v1h-1zm0 8h1v1h-1zm0 47h1v2h-1zm1-89h1v1h-1zm0 12h1v1h-1zm0 8h1v1h-1zm0 50h1v1h-1zm0 17h1v1h-1zm1-67h1v1h-1zm0 34h1v2h-1zm0 17h1v1h-1zm0 8h1v4h-1zm1-78h1v1h-1zm0 6h1v1h-1zm0 7h1v1h-1zm0 2h1v1h-1zm0 5h1v2h-1zm0 11h1v2h-1zm0 11h1v1h-1zm0 10h1v1h-1zm0 11h1v2h-1zm0 14h1v1h-1zm0 4h1v1h-1zm1-82h1v1h-1zm0 18h1v2h-1zm0 3h1v1h-1zm0 21h1v1h-1zm0 49h1v1h-1zm1-87h1v1h-1zm0 3h1v1h-1zm0 5h1v1h-1zm0 25h1v1h-1zm0 3h1v1h-1zm0 32h1v1h-1zm0 12h1v1h-1zm1-85h1v1h-1zm0 37h1v1h-1zm0 43h1v1h-1zm1-78h1v1h-1zm0 2h1v1h-1zm0 6h1v2h-1zm0 3h1v1h-1zm0 2h1v1h-1zm0 5h1v1h-1zm0 14h1v1h-1zm0 3h1v1h-1zm0 2h1v1h-1zm0 2h1v2h-1zm0 17h1v3h-1zm0 9h1v1h-1zm0 9h1v1h-1zm0 10h1v1h-1zm0 3h1v2h-1zm1-85h1v1h-1zm0 2h1v1h-1zm0 5h1v1h-1zm0 14h1v1h-1zm0 3h1v1h-1zm0 3h1v1h-1zm0 2h1v1h-1zm0 14h1v2h-1zm0 6h1v3h-1zm0 7h1v1h-1zm0 3h1v1h-1zm0 2h1v1h-1zm0 10h1v1h-1zm0 4h1v1h-1zm0 10h1v1h-1zm0 6h1v1h-1zm1-87h1v1h-1zm0 14h1v4h-1zm0 8h1v1h-1zm0 12h1v2h-1zm0 4h1v4h-1zm0 9h1v1h-1zm0 4h1v1h-1zm0 4h1v1h-1zm0 14h1v2h-1zm0 15h1v1h-1zm0 3h1v1h-1zm1-92h1v1h-1zm0 8h1v1h-1zm0 2h1v1h-1zm0 2h1v1h-1zm0 10h1v1h-1zm0 6h1v1h-1zm0 3h1v1h-1zm0 3h1v1h-1zm0 7h1v1h-1zm0 8h1v2h-1zm0 6h1v2h-1zm0 3h1v1h-1zm0 4h1v1h-1zm0 25h1v2h-1zm2-67h1v2h-1zm0 5h1v1h-1zm0 7h1v1h-1zm0 9h1v1h-1zm0 2h1v1h-1zm0 7h1v1h-1zm0 2h1v2h-1zm0 4h1v1h-1zm0 13h1v3h-1zm0 4h1v1h-1zm0 7h1v1h-1zm0 3h1v2h-1zm1-70h1v1h-1zm0 5h1v1h-1zm0 17h1v3h-1zm0 4h1v1h-1zm0 6h1v1h-1zm0 4h1v1h-1zm0 20h1v1h-1zm0 3h1v1h-1zm0 3h1v1h-1zm1-79h1v1h-1zm0 5h1v1h-1zm0 2h1v1h-1zm0 11h1v1h-1zm0 3h1v1h-1zm0 5h1v1h-1zm0 27h1v2h-1zm0 4h1v1h-1zm0 12h1v1h-1zm0 18h1v1h-1zm2-71h1v1h-1zm0 11h1v1h-1zm0 5h1v1h-1zm0 7h1v4h-1zm0 17h1v2h-1zm0 7h1v1h-1zm0 3h1v1h-1zm0 11h1v1h-1zm0 2h1v1h-1zm0 3h1v1h-1zm0 4h1v1h-1zm0 3h1v1h-1zm1-66h1v1h-1zm0 4h1v2h-1zm0 3h1v1h-1zm0 21h1v3h-1zm0 5h1v1h-1zm0 4h1v2h-1zm0 12h1v1h-1zm0 3h1v1h-1zm0 2h1v1h-1zm0 12h1v4h-1zm1-83h1v1h-1zm0 7h1v1h-1zm0 11h1v1h-1zm0 2h1v1h-1zm0 10h1v3h-1zm0 9h1v1h-1zm0 16h1v1h-1zm0 7h1v1h-1zm0 2h1v1h-1zm0 14h1v2h-1zm0 3h1v2h-1zm1-84h1v2h-1zm0 19h1v1h-1zm0 10h1v2h-1zm0 14h1v1h-1zm0 4h1v1h-1zm0 9h1v2h-1zm0 4h1v1h-1zm1-58h1v1h-1zm0 3h1v1h-1zm0 7h1v1h-1zm0 27h1v1h-1zm0 41h1v1h-1zm1-73h1v1h-1zm0 3h1v2h-1zm0 9h1v1h-1zm0 4h1v1h-1zm0 16h1v2h-1zm0 7h1v1h-1zm0 32h1v1h-1zm0 14h1v1h-1zm1-95h1v1h-1zm0 5h1v3h-1zm0 5h1v1h-1zm0 12h1v1h-1zm0 2h1v2h-1zm0 8h1v1h-1zm0 8h1v1h-1zm0 2h1v1h-1zm0 4h1v1h-1zm0 12h1v1h-1zm0 6h1v2h-1zm0 3h1v1h-1zm0 16h1v1h-1zm0 5h1v1h-1zm1-88h1v1h-1zm0 6h1v1h-1zm0 13h1v1h-1zm0 2h1v1h-1zm0 3h1v1h-1zm0 3h1v1h-1zm0 20h1v1h-1zm0 4h1v2h-1zm0 4h1v1h-1zm0 2h1v1h-1zm0 5h1v1h-1zm0 2h1v1h-1zm0 3h1v2h-1zm0 3h1v1h-1zm0 18h1v1h-1zm0 3h1v1h-1zm1-91h1v1h-1zm0 10h1v1h-1zm0 2h1v1h-1zm0 4h1v1h-1zm0 2h1v1h-1zm0 6h1v1h-1zm0 10h1v2h-1zm0 9h1v1h-1zm0 12h1v1h-1zm0 5h1v1h-1zm0 6h1v1h-1zm0 7h1v1h-1zm0 4h1v1h-1zm0 4h1v1h-1zm0 4h1v2h-1zm1-85h1v1h-1zm0 3h1v1h-1zm0 14h1v1h-1zm0 8h1v1h-1zm0 2h1v1h-1zm0 5h1v1h-1zm0 7h1v2h-1zm0 9h1v1h-1zm0 11h1v1h-1zm0 9h1v2h-1zm0 3h1v1h-1zm0 5h1v1h-1zm0 8h1v2h-1zm0 4h1v1h-1zm0 2h1v1h-1zm1-68h1v1h-1zm0 3h1v1h-1zm0 2h1v2h-1zm0 3h1v1h-1zm0 3h1v1h-1zm0 13h1v1h-1zm0 6h1v1h-1zm0 7h1v1h-1zm0 6h1v1h-1zm0 11h1v1h-1zm0 2h1v1h-1zm0 3h1v2h-1zm0 3h1v1h-1zm0 8h1v1h-1zm0 3h1v2h-1zm1-89h1v1h-1zm0 7h1v2h-1zm0 4h1v1h-1zm0 2h1v1h-1zm0 7h1v1h-1zm0 9h1v1h-1zm0 25h1v1h-1zm0 2h1v1h-1zm0 3h1v1h-1zm0 2h1v1h-1zm0 2h1v2h-1zm0 5h1v1h-1zm0 3h1v1h-1zm0 9h1v1h-1zm0 2h1v1h-1zm0 6h1v1h-1zm1-90h1v1h-1zm0 6h1v1h-1zm0 4h1v1h-1zm0 2h1v1h-1zm0 2h1v1h-1zm0 2h1v1h-1zm0 8h1v1h-1zm0 17h1v1h-1zm0 5h1v1h-1zm0 18h1v1h-1zm0 5h1v1h-1zm0 4h1v2h-1zm0 3h1v1h-1zm0 7h1v1h-1zm0 2h1v1h-1zm0 4h1v1h-1zm0 3h1v1h-1zm2-91h1v1h-1zm0 5h1v3h-1zm0 12h1v1h-1zm0 2h1v2h-1zm0 4h1v1h-1zm0 4h1v1h-1zm0 3h1v1h-1zm0 27h1v1h-1zm0 7h1v1h-1zm0 7h1v2h-1zm0 4h1v1h-1zm0 11h1v1h-1zm3-82h1v1h-1zm0 19h1v1h-1zm0 2h1v1h-1zm0 15h1v1h-1zm0 2h1v1h-1zm0 8h1v1h-1zm0 6h1v1h-1zm0 10h1v1h-1zm0 4h1v1h-1zm0 4h1v1h-1zm0 5h1v1h-1zm0 6h1v1h-1zm2-86h1v1h-1zm0 6h1v1h-1zm0 10h1v1h-1zm0 3h1v3h-1zm0 8h1v1h-1zm0 3h1v2h-1zm0 5h1v2h-1zm0 6h1v1h-1zm0 5h1v1h-1zm0 2h1v2h-1zm0 10h1v1h-1zm0 9h1v3h-1zm0 6h1v1h-1zm0 10h1v1h-1zm1-85h1v2h-1zm0 6h1v1h-1zm0 10h1v1h-1zm0 2h1v1h-1zm0 12h1v1h-1zm0 4h1v1h-1zm0 15h1v1h-1zm0 23h1v1h-1zm0 5h1v2h-1zm0 3h1v1h-1zm0 3h1v1h-1zm0 2h1v2h-1zm1-83h1v1h-1zm0 5h1v1h-1zm0 2h1v1h-1zm0 3h1v1h-1zm0 5h1v1h-1zm0 7h1v1h-1zm0 23h1v1h-1zm0 4h1v1h-1zm0 16h1v2h-1zm0 6h1v2h-1zm0 5h1v1h-1zm0 7h1v1h-1zm1-74h1v2h-1zm0 7h1v1h-1zm0 5h1v1h-1zm0 2h1v1h-1zm0 12h1v1h-1zm0 3h1v2h-1zm0 3h1v2h-1zm0 4h1v2h-1zm0 23h1v1h-1zm0 6h1v1h-1zm0 2h1v1h-1zm0 10h1v1h-1zm0 4h1v1h-1zm2-93h1v1h-1zm0 6h1v3h-1zm0 19h1v1h-1zm0 5h1v2h-1zm0 6h1v2h-1zm0 4h1v1h-1zm0 7h1v1h-1zm0 4h1v1h-1zm0 7h1v1h-1zm0 5h1v1h-1zm0 8h1v1h-1zm0 4h1v3h-1zm0 19h1v2h-1zm4-94h1v1h-1zm0 3h1v1h-1zm0 4h1v1h-1zm0 9h1v1h-1zm0 9h1v3h-1zm0 6h1v1h-1zm0 15h1v1h-1zm0 2h1v1h-1zm0 13h1v2h-1zm0 10h1v4h-1zm0 6h1v2h-1zm0 3h1v2h-1zm2-76h1v1h-1zm0 2h1v1h-1zm0 3h1v2h-1zm0 12h1v2h-1zm0 5h1v1h-1zm0 6h1v1h-1zm0 12h1v1h-1zm0 3h1v1h-1zm0 10h1v2h-1zm0 3h1v1h-1zm0 3h1v2h-1zm0 11h1v1h-1zm0 8h1v1h-1zm0 7h1v1h-1zm1-84h1v1h-1zm0 9h1v1h-1zm0 2h1v1h-1zm0 17h1v1h-1zm0 25h1v2h-1zm0 7h1v1h-1zm0 5h1v1h-1zm0 5h1v1h-1zm0 13h1v1h-1zm0 3h1v1h-1zm1-85h1v1h-1zm0 5h1v1h-1zm0 16h1v1h-1zm0 4h1v2h-1zm0 11h1v1h-1zm0 6h1v3h-1zm0 8h1v1h-1zm0 2h1v1h-1zm0 2h1v1h-1zm0 6h1v1h-1zm0 9h1v1h-1zm0 9h1v1h-1zm0 4h1v3h-1zm1-87h1v1h-1zm0 31h1v1h-1zm0 7h1v1h-1zm0 4h1v1h-1zm0 7h1v1h-1zm0 3h1v1h-1zm0 16h1v1h-1zm0 10h1v1h-1zm0 11h1v2h-1zm1-85h1v1h-1zm0 3h1v1h-1zm0 12h1v2h-1zm0 21h1v1h-1zm0 3h1v1h-1zm0 51h1v1h-1zm1-92h1v2h-1zm0 27h1v1h-1zm0 16h1v1h-1zm0 37h1v1h-1zm0 11h1v1h-1zm5-83h1v1h-1zm0 6h1v1h-1zm0 7h1v1h-1zm0 9h1v1h-1zm0 8h1v1h-1zm0 3h1v1h-1zm0 2h1v1h-1zm0 14h1v1h-1zm0 2h1v1h-1zm0 6h1v2h-1zm0 4h1v1h-1zm0 3h1v1h-1zm0 6h1v1h-1zm0 5h1v1h-1zm0 10h1v1h-1zm0 2h1v1h-1zm1-93h1v1h-1zm0 3h1v1h-1zm0 7h1v1h-1zm0 13h1v1h-1zm0 11h1v1h-1zm0 20h1v1h-1zm0 2h1v1h-1zm0 4h1v1h-1zm0 5h1v1h-1zm0 8h1v1h-1zm0 2h1v1h-1zm0 4h1v1h-1zm0 2h1v2h-1zm0 4h1v1h-1zm0 2h1v1h-1zm0 3h1v1h-1zm2-96h1v1h-1zm0 12h1v1h-1zm0 5h1v2h-1zm0 22h1v1h-1zm0 18h1v1h-1zm0 5h1v1h-1zm0 5h1v1h-1zm0 3h1v1h-1zm0 5h1v1h-1zm0 3h1v2h-1zm0 3h1v1h-1zm0 9h1v1h-1zm0 2h1v1h-1zm1-92h1v1h-1zm0 8h1v1h-1zm0 10h1v2h-1zm0 7h1v1h-1zm0 64h1v1h-1zm0 7h1v1h-1zm1-91h1v1h-1zm0 9h1v1h-1zm0 2h1v1h-1zm0 5h1v2h-1zm0 4h1v1h-1zm0 7h1v1h-1zm0 21h1v1h-1zm0 3h1v1h-1zm0 3h1v1h-1zm0 2h1v2h-1zm0 9h1v1h-1zm0 3h1v1h-1zm0 16h1v1h-1zm0 7h1v1h-1zm1-92h1v1h-1zm0 3h1v1h-1zm0 38h1v2h-1zm0 10h1v3h-1zm0 17h1v3h-1zm0 11h1v1h-1zm0 2h1v1h-1zm0 6h1v1h-1zm0 5h1v1h-1zm1-86h1v1h-1zm0 8h1v1h-1zm0 8h1v1h-1zm0 3h1v1h-1zm0 18h1v1h-1zm0 12h1v1h-1zm0 7h1v1h-1zm0 20h1v2h-1zm0 10h1v1h-1zm2-94h1v1h-1zm0 4h1v1h-1zm0 14h1v1h-1zm0 3h1v1h-1zm0 2h1v5h-1zm0 10h1v2h-1zm0 10h1v1h-1zm0 4h1v1h-1zm0 18h1v1h-1zm0 6h1v1h-1zm0 7h1v1h-1zm0 8h1v2h-1zm0 5h1v1h-1zm1-90h1v1h-1zm0 12h1v2h-1zm0 8h1v1h-1zm0 9h1v2h-1zm0 6h1v1h-1zm0 2h1v1h-1zm0 7h1v2h-1zm0 8h1v1h-1zm0 19h1v1h-1zm0 21h1v1h-1zm1-95h1v1h-1zm0 7h1v1h-1zm0 3h1v3h-1zm0 15h1v1h-1zm0 10h1v1h-1zm0 5h1v1h-1zm0 2h1v1h-1zm0 3h1v2h-1zm0 8h1v1h-1zm0 4h1v2h-1zm0 7h1v1h-1zm0 3h1v1h-1zm0 4h1v1h-1zm0 18h1v1h-1zm0 4h1v1h-1zm0 7h1v1h-1zm1-97h1v1h-1zm0 15h1v1h-1zm0 3h1v1h-1zm0 3h1v3h-1zm0 16h1v1h-1zm0 11h1v1h-1zm0 3h1v1h-1zm0 21h1v1h-1zm0 11h1v1h-1zm0 3h1v1h-1zm0 7h1v1h-1zm1-81h1v1h-1zm0 5h1v1h-1zm0 14h1v1h-1zm0 6h1v1h-1zm0 3h1v1h-1zm0 4h1v2h-1zm0 12h1v3h-1zm0 31h1v3h-1zm2-89h1v1h-1zm0 8h1v1h-1zm0 10h1v1h-1zm0 11h1v1h-1zm0 39h1v1h-1zm0 5h1v1h-1zm0 2h1v1h-1zm1-63h1v1h-1zm0 5h1v1h-1zm0 2h1v3h-1zm0 7h1v1h-1zm0 3h1v1h-1zm0 5h1v1h-1zm0 3h1v1h-1zm0 9h1v1h-1zm0 31h1v1h-1zm0 11h1v1h-1zm0 4h1v1h-1zm1-87h1v2h-1zm0 3h1v1h-1zm0 2h1v1h-1zm0 5h1v1h-1zm0 10h1v1h-1zm0 3h1v1h-1zm0 3h1v1h-1zm0 6h1v1h-1zm0 5h1v1h-1zm0 4h1v5h-1zm0 7h1v1h-1zm0 2h1v1h-1zm0 4h1v1h-1zm0 13h1v1h-1zm0 3h1v1h-1zm0 7h1v1h-1zm0 12h1v1h-1zm1-91h1v1h-1zm0 4h1v1h-1zm0 18h1v1h-1zm0 7h1v1h-1zm0 11h1v1h-1zm0 3h1v1h-1zm0 7h1v1h-1zm0 14h1v1h-1zm1-62h1v1h-1zm0 7h1v1h-1zm0 16h1v1h-1zm0 13h1v1h-1zm0 5h1v2h-1zm0 8h1v1h-1zm0 16h1v1h-1zm0 7h1v1h-1zm0 10h1v1h-1z"/><path fill="#48ca84" d="M0 11h1v1h-1zm0 44h1v1h-1zm1 46h1v1h-1zm2-100h1v1h-1zm0 5h1v1h-1zm0 12h1v1h-1zm0 37h1v1h-1zm0 16h1v3h-1zm0 31h1v1h-1zm2-81h1v1h-1zm0 2h1v2h-1zm0 4h1v1h-1zm0 3h1v3h-1zm0 5h1v1h-1zm0 3h1v1h-1zm0 4h1v2h-1zm0 4h1v2h-1zm0 3h1v2h-1zm0 3h1v1h-1zm0 7h1v1h-1zm0 3h1v2h-1zm0 8h1v1h-1zm0 15h1v2h-1zm0 4h1v2h-1zm1-83h1v1h-1zm0 13h1v1h-1zm0 8h1v2h-1zm0 8h1v1h-1zm0 2h1v2h-1zm0 4h1v1h-1zm0 2h1v2h-1zm0 8h1v1h-1zm0 6h1v3h-1zm0 44h1v1h-1zm1-44h1v1h-1zm1-48h1v1h-1zm0 15h1v1h-1zm1-23h1v1h-1zm0 9h1v2h-1zm0 6h1v1h-1zm0 11h1v2h-1zm0 4h1v2h-1zm0 4h1v1h-1zm0 3h1v2h-1zm0 6h1v1h-1zm0 6h1v1h-1zm0 2h1v2h-1zm0 4h1v1h-1zm0 3h1v1h-1zm0 41h1v2h-1zm1-100h1v1h-1zm0 4h1v3h-1zm0 6h1v1h-1zm0 40h1v3h-1zm0 35h1v2h-1zm1-85h1v1h-1zm0 3h1v2h-1zm0 16h1v2h-1zm0 3h1v1h-1zm0 2h1v1h-1zm0 5h1v1h-1zm0 42h1v1h-1zm0 19h1v1h-1zm1-42h1v3h-1zm0 5h1v1h-1zm0 2h1v3h-1zm0 5h1v1h-1zm0 2h1v1h-1zm0 8h1v3h-1zm0 15h1v1h-1zm0 16h1v1h-1zm1-101h1v1h-1zm0 42h1v3h-1zm0 27h1v1h-1zm0 2h1v1h-1zm0 23h1v1h-1zm0 7h1v1h-1zm1-58h1v1h-1zm0 21h1v1h-1zm1 38h1v1h-1zm1-7h1v1h-1zm1-46h1v1h-1zm1-49h1v1h-1zm0 8h1v1h-1zm0 3h1v2h-1zm0 4h1v1h-1zm0 7h1v2h-1zm0 4h1v1h-1zm0 27h1v1h-1zm0 13h1v1h-1zm0 2h1v2h-1zm0 3h1v1h-1zm0 3h1v1h-1zm0 16h1v1h-1zm0 3h1v1h-1zm0 2h1v1h-1zm0 3h1v2h-1zm1-73h1v1h-1zm0 54h1v1h-1zm0 3h1v1h-1zm0 5h1v2h-1zm0 4h1v1h-1zm0 3h1v1h-1zm0 7h1v1h-1zm1-94h1v3h-1zm0 4h1v1h-1zm0 3h1v1h-1zm0 6h1v1h-1zm0 2h1v2h-1zm0 4h1v1h-1zm0 3h1v2h-1zm0 9h1v2h-1zm0 4h1v2h-1zm0 5h1v3h-1zm0 11h1v1h-1zm0 8h1v1h-1zm0 8h1v1h-1zm0 3h1v1h-1zm0 5h1v1h-1zm0 2h1v2h-1zm0 17h1v1h-1zm1-96h1v1h-1zm0 48h1v1h-1zm0 13h1v1h-1zm0 2h1v1h-1zm0 27h1v1h-1zm0 7h1v1h-1zm1-83h1v2h-1zm1-17h1v2h-1zm0 28h1v1h-1zm3-26h1v1h-1zm0 10h1v1h-1zm0 15h1v1h-1zm0 7h1v1h-1zm0 6h1v1h-1zm0 3h1v2h-1zm0 8h1v1h-1zm0 22h1v1h-1zm0 11h1v1h-1zm0 2h1v2h-1zm0 7h1v3h-1zm4-74h1v2h-1zm0 6h1v2h-1zm0 47h1v3h-1zm1 12h1v2h-1zm1-5h1v1h-1zm0 21h1v1h-1zm1-96h1v2h-1zm0 58h1v1h-1zm0 8h1v2h-1zm0 4h1v1h-1zm1-74h1v1h-1zm0 2h1v1h-1zm0 38h1v1h-1zm0 2h1v1h-1zm0 25h1v2h-1zm0 3h1v2h-1zm0 16h1v1h-1zm0 9h1v1h-1zm1-72h1v1h-1zm0 12h1v1h-1zm0 2h1v1h-1zm0 32h1v1h-1zm0 4h1v1h-1zm0 26h1v1h-1zm2-99h1v1h-1zm0 72h1v3h-1zm0 18h1v1h-1zm1-85h1v1h-1zm0 9h1v1h-1zm0 5h1v1h-1zm0 3h1v1h-1zm0 2h1v3h-1zm0 14h1v1h-1zm0 3h1v1h-1zm0 9h1v1h-1zm0 4h1v1h-1zm0 2h1v1h-1zm0 2h1v1h-1zm0 2h1v2h-1zm0 26h1v1h-1zm1-51h1v2h-1zm0 4h1v1h-1zm0 47h1v1h-1zm0 11h1v1h-1zm0 2h1v1h-1zm2-84h1v1h-1zm0 11h1v1h-1zm0 50h1v3h-1zm0 7h1v1h-1zm1-84h1v1h-1zm0 32h1v1h-1zm0 13h1v1h-1zm0 8h1v2h-1zm0 21h1v1h-1zm0 15h1v1h-1zm0 5h1v1h-1zm1-67h1v1h-1zm0 5h1v2h-1zm0 15h1v1h-1zm0 3h1v1h-1zm0 3h1v1h-1zm0 5h1v4h-1zm0 19h1v3h-1zm0 6h1v1h-1zm1-73h1v3h-1zm0 11h1v2h-1zm0 4h1v1h-1zm0 3h1v1h-1zm0 5h1v1h-1zm0 5h1v1h-1zm0 6h1v1h-1zm0 3h1v2h-1zm0 6h1v1h-1zm0 5h1v1h-1zm0 15h1v3h-1zm0 9h1v1h-1zm0 3h1v1h-1zm1-24h1v1h-1zm0 12h1v1h-1zm0 4h1v1h-1zm0 7h1v1h-1zm0 9h1v1h-1zm1-88h1v1h-1zm0 10h1v1h-1zm0 10h1v1h-1zm0 15h1v1h-1zm0 3h1v3h-1zm0 26h1v1h-1zm1-67h1v2h-1zm0 8h1v1h-1zm0 19h1v5h-1zm0 8h1v1h-1zm0 32h1v2h-1zm0 4h1v1h-1zm0 4h1v2h-1zm0 4h1v1h-1zm0 15h1v1h-1zm0 4h1v1h-1zm1-100h1v2h-1zm0 3h1v2h-1zm0 3h1v2h-1zm0 30h1v1h-1zm0 4h1v2h-1zm0 8h1v1h-1zm0 2h1v1h-1zm0 2h1v2h-1zm0 12h1v1h-1zm0 2h1v1h-1zm0 3h1v2h-1zm1-69h1v1h-1zm0 4h1v2h-1zm0 3h1v1h-1zm0 23h1v1h-1zm0 9h1v3h-1zm0 13h1v1h-1zm0 2h1v1h-1zm0 2h1v1h-1zm2-29h1v1h-1zm1 56h1v1h-1zm0 17h1v1h-1zm1-94h1v1h-1zm0 5h1v4h-1zm0 5h1v2h-1zm0 18h1v1h-1zm0 36h1v4h-1zm0 9h1v1h-1zm0 2h1v1h-1zm0 5h1v3h-1zm0 4h1v1h-1zm0 3h1v1h-1zm0 2h1v1h-1zm1-36h1v1h-1zm0 2h1v1h-1zm0 39h1v1h-1zm1-81h1v1h-1zm0 6h1v3h-1zm0 15h1v4h-1zm0 7h1v1h-1zm0 3h1v3h-1zm0 8h1v1h-1zm0 2h1v1h-1zm2-56h1v1h-1zm0 6h1v2h-1zm0 10h1v1h-1zm0 5h1v1h-1zm0 2h1v2h-1zm0 13h1v1h-1zm0 10h1v1h-1zm0 4h1v1h-1zm0 5h1v1h-1zm0 4h1v1h-1zm0 2h1v1h-1zm0 9h1v2h-1zm0 16h1v1h-1zm0 7h1v2h-1zm2-97h1v2h-1zm0 3h1v1h-1zm0 2h1v1h-1zm0 2h1v1h-1zm0 2h1v2h-1zm0 11h1v2h-1zm0 4h1v1h-1zm0 12h1v1h-1zm0 3h1v2h-1zm0 4h1v1h-1zm0 3h1v2h-1zm0 6h1v1h-1zm0 17h1v1h-1zm0 4h1v1h-1zm0 3h1v1h-1zm0 9h1v1h-1zm0 3h1v1h-1zm0 3h1v2h-1zm0 5h1v2h-1zm1-17h1v1h-1zm0 22h1v1h-1zm1-77h1v1h-1zm0 18h1v1h-1zm1-43h1v1h-1zm0 36h1v1h-1zm0 2h1v2h-1zm0 3h1v1h-1zm0 35h1v1h-1zm0 17h1v1h-1zm0 5h1v1h-1zm1-75h1v1h-1zm0 5h1v1h-1zm0 23h1v1h-1zm0 17h1v2h-1zm0 4h1v2h-1zm0 5h1v1h-1zm0 2h1v1h-1zm0 6h1v2h-1zm0 3h1v2h-1zm0 3h1v1h-1zm0 3h1v1h-1zm0 2h1v1h-1zm0 3h1v1h-1zm2-96h1v1h-1zm0 4h1v1h-1zm0 2h1v1h-1zm0 19h1v1h-1zm0 19h1v1h-1zm0 9h1v1h-1zm0 7h1v1h-1zm0 2h1v2h-1zm0 30h1v1h-1zm1-93h1v1h-1zm0 4h1v2h-1zm0 28h1v4h-1zm0 7h1v1h-1zm0 2h1v2h-1zm0 4h1v1h-1zm0 2h1v1h-1zm0 18h1v1h-1zm1-45h1v1h-1zm0 2h1v1h-1zm0 12h1v1h-1zm0 52h1v3h-1zm0 11h1v1h-1zm1-65h1v1h-1zm0 11h1v1h-1zm0 2h1v1h-1zm0 3h1v1h-1zm0 27h1v1h-1zm2 10h1v1h-1zm0 2h1v2h-1zm1-39h1v1h-1zm0 6h1v1h-1zm1-56h1v3h-1zm0 4h1v1h-1zm0 36h1v2h-1zm0 5h1v1h-1zm0 33h1v3h-1zm0 4h1v1h-1zm0 19h1v1h-1zm1-53h1v2h-1zm0 6h1v1h-1zm0 5h1v1h-1zm0 10h1v2h-1zm0 16h1v3h-1zm0 17h1v1h-1zm2-37h1v1h-1zm1-14h1v1h-1zm0 8h1v2h-1zm0 13h1v1h-1zm0 17h1v1h-1zm0 7h1v1h-1zm1-89h1v1h-1zm0 4h1v1h-1zm0 14h1v1h-1zm0 3h1v2h-1zm0 3h1v1h-1zm0 23h1v1h-1zm0 15h1v1h-1zm0 5h1v2h-1zm0 13h1v2h-1zm1-80h1v1h-1zm0 2h1v2h-1zm0 3h1v1h-1zm0 2h1v1h-1zm0 2h1v2h-1zm0 9h1v1h-1zm0 4h1v6h-1zm0 7h1v2h-1zm0 22h1v1h-1zm0 11h1v1h-1zm1-24h1v1h-1zm0 24h1v1h-1zm0 2h1v1h-1zm0 30h1v1h-1zm6-92h1v2h-1zm0 3h1v1h-1zm0 8h1v1h-1zm0 52h1v1h-1zm0 10h1v1h-1zm0 9h1v1h-1zm0 2h1v2h-1zm0 3h1v1h-1zm0 3h1v2h-1zm1-94h1v2h-1zm0 15h1v1h-1zm0 2h1v2h-1zm0 6h1v1h-1zm0 10h1v2h-1zm0 4h1v1h-1zm0 4h1v1h-1zm0 3h1v2h-1zm0 5h1v2h-1zm0 5h1v1h-1zm0 8h1v3h-1zm0 10h1v1h-1zm0 11h1v1h-1zm0 2h1v1h-1zm0 4h1v2h-1zm2-86h1v1h-1zm0 4h1v1h-1zm0 10h1v1h-1zm0 5h1v1h-1zm0 4h1v1h-1zm0 4h1v1h-1zm0 9h1v1h-1zm0 4h1v1h-1zm0 3h1v1h-1zm0 6h1v1h-1zm0 31h1v1h-1zm0 3h1v5h-1zm0 6h1v1h-1zm0 2h1v2h-1zm1-76h1v2h-1zm0 4h1v1h-1zm0 2h1v1h-1zm0 26h1v1h-1zm1-54h1v1h-1zm0 2h1v4h-1zm0 6h1v3h-1zm0 14h1v1h-1zm0 3h1v2h-1zm0 3h1v2h-1zm0 10h1v1h-1zm0 4h1v1h-1zm0 6h1v2h-1zm0 5h1v2h-1zm0 6h1v1h-1zm0 11h1v3h-1zm0 4h1v1h-1zm0 2h1v1h-1zm0 4h1v1h-1zm0 13h1v1h-1zm2-84h1v1h-1zm0 3h1v1h-1zm0 2h1v1h-1zm0 10h1v1h-1zm0 12h1v1h-1zm0 3h1v1h-1zm0 2h1v4h-1zm0 5h1v1h-1zm0 34h1v1h-1zm1-55h1v1h-1zm0 10h1v1h-1zm0 10h1v2h-1zm0 17h1v1h-1zm0 6h1v1h-1zm0 37h1v2h-1zm1-88h1v1h-1zm0 8h1v3h-1zm0 7h1v1h-1zm1-23h1v1h-1zm0 24h1v1h-1zm3-34h1v1h-1zm0 6h1v1h-1zm0 8h1v1h-1zm0 11h1v1h-1zm1-20h1v1h-1zm0 10h1v1h-1zm0 2h1v1h-1zm0 57h1v1h-1zm0 21h1v3h-1zm0 6h1v1h-1zm2-95h1v1h-1zm0 6h1v1h-1zm0 45h1v1h-1zm0 4h1v1h-1zm0 15h1v1h-1zm0 5h1v1h-1zm0 3h1v1h-1zm0 2h1v1h-1zm0 13h1v2h-1zm0 4h1v1h-1zm1-99h1v1h-1zm0 4h1v1h-1zm0 8h1v1h-1zm0 4h1v1h-1zm0 4h1v1h-1zm0 10h1v1h-1zm0 16h1v1h-1zm0 6h1v1h-1zm0 2h1v2h-1zm0 3h1v1h-1zm0 4h1v1h-1zm0 2h1v1h-1zm0 10h1v1h-1zm0 9h1v2h-1zm0 3h1v1h-1zm0 12h1v1h-1zm1-79h1v1h-1zm0 2h1v1h-1zm0 5h1v1h-1zm0 11h1v1h-1zm0 6h1v1h-1zm0 15h1v2h-1zm0 9h1v1h-1zm0 18h1v1h-1zm0 4h1v1h-1zm0 7h1v1h-1zm0 2h1v1h-1zm1-98h1v1h-1zm0 3h1v1h-1zm0 2h1v1h-1zm0 6h1v1h-1zm0 8h1v1h-1zm0 3h1v1h-1zm0 3h1v1h-1zm0 12h1v1h-1zm0 2h1v1h-1zm0 6h1v1h-1zm0 2h1v1h-1zm0 6h1v2h-1zm0 20h1v1h-1zm0 3h1v1h-1zm0 7h1v1h-1zm0 2h1v1h-1zm0 6h1v1h-1zm3-86h1v1h-1zm0 2h1v1h-1zm0 4h1v1h-1zm0 5h1v1h-1zm0 3h1v1h-1zm0 6h1v1h-1zm0 9h1v1h-1zm0 7h1v1h-1zm0 14h1v1h-1zm0 7h1v1h-1zm0 7h1v1h-1zm0 3h1v1h-1zm0 10h1v1h-1zm0 14h1v1h-1zm0 3h1v1h-1zm1-97h1v1h-1zm0 34h1v1h-1zm0 3h1v1h-1zm0 2h1v1h-1zm0 2h1v1h-1zm0 4h1v2h-1zm0 9h1v2h-1zm0 4h1v1h-1zm0 4h1v3h-1zm0 6h1v1h-1zm0 20h1v1h-1zm1-93h1v1h-1zm0 5h1v1h-1zm0 10h1v1h-1zm0 14h1v2h-1zm0 3h1v1h-1zm0 3h1v2h-1zm0 11h1v1h-1zm0 33h1v1h-1zm0 16h1v1h-1zm0 3h1v1h-1zm0 3h1v1h-1zm1-101h1v1h-1zm0 3h1v2h-1zm0 3h1v1h-1zm0 11h1v1h-1zm0 3h1v1h-1zm0 9h1v1h-1zm0 2h1v1h-1zm0 16h1v2h-1zm0 28h1v1h-1zm0 6h1v1h-1zm0 9h1v1h-1zm0 3h1v2h-1zm0 5h1v1h-1zm1-96h1v2h-1zm0 12h1v1h-1zm0 2h1v1h-1zm0 3h1v1h-1zm0 11h1v1h-1zm0 2h1v1h-1zm0 3h1v1h-1zm0 3h1v1h-1zm0 8h1v1h-1zm0 34h1v1h-1zm0 19h1v1h-1zm0 4h1v2h-1zm3-96h1v1h-1zm0 5h1v3h-1zm0 4h1v1h-1zm0 3h1v1h-1zm0 12h1v2h-1zm0 42h1v1h-1zm0 8h1v2h-1zm0 18h1v2h-1zm2-94h1v1h-1zm0 2h1v1h-1zm0 12h1v1h-1zm0 11h1v1h-1zm0 7h1v1h-1zm0 5h1v1h-1zm0 11h1v1h-1zm0 6h1v1h-1zm0 15h1v1h-1zm0 17h1v3h-1zm0 13h1v1h-1zm1-104h1v1h-1zm0 8h1v1h-1zm0 16h1v1h-1zm0 10h1v1h-1zm0 29h1v1h-1zm0 9h1v1h-1zm0 27h1v2h-1zm1-99h1v1h-1zm0 29h1v1h-1zm0 3h1v1h-1zm0 22h1v1h-1zm0 4h1v2h-1zm0 16h1v1h-1zm0 28h1v1h-1zm5-94h1v1h-1zm0 21h1v1h-1zm0 5h1v1h-1zm0 7h1v1h-1zm0 11h1v2h-1zm0 5h1v2h-1zm0 8h1v1h-1zm0 13h1v1h-1zm0 3h1v1h-1zm0 2h1v1h-1zm0 16h1v1h-1zm0 2h1v1h-1zm1-90h1v1h-1zm0 3h1v1h-1zm0 6h1v1h-1zm0 2h1v1h-1zm0 7h1v1h-1zm0 5h1v1h-1zm0 10h1v1h-1zm0 8h1v1h-1zm0 13h1v1h-1zm0 11h1v1h-1zm0 2h1v1h-1zm0 2h1v1h-1zm0 6h1v1h-1zm0 14h1v1h-1zm1-94h1v1h-1zm0 5h1v1h-1zm0 2h1v1h-1zm0 4h1v1h-1zm0 13h1v1h-1zm0 3h1v1h-1zm0 2h1v1h-1zm0 4h1v2h-1zm0 10h1v1h-1zm0 11h1v2h-1zm0 13h1v1h-1zm0 24h1v1h-1zm4-97h1v1h-1zm0 4h1v1h-1zm0 8h1v1h-1zm0 3h1v1h-1zm0 48h1v2h-1zm0 24h1v1h-1zm0 9h1v1h-1zm0 3h1v1h-1zm0 2h1v1h-1zm2-100h1v2h-1zm0 3h1v1h-1zm0 15h1v3h-1zm0 13h1v1h-1zm0 2h1v1h-1zm0 5h1v1h-1zm0 16h1v1h-1zm0 23h1v1h-1zm0 24h1v1h-1zm0 2h1v1h-1zm1-101h1v2h-1zm0 5h1v1h-1zm0 13h1v1h-1zm0 3h1v1h-1zm0 23h1v1h-1zm0 3h1v1h-1zm0 5h1v1h-1zm0 7h1v1h-1zm0 15h1v1h-1zm0 8h1v1h-1zm0 6h1v1h-1zm0 9h1v1h-1zm2-97h1v1h-1zm0 3h1v1h-1zm0 9h1v1h-1zm0 2h1v1h-1zm0 2h1v1h-1zm0 14h1v1h-1zm0 12h1v1h-1zm0 6h1v3h-1zm0 4h1v1h-1zm0 3h1v1h-1zm0 19h1v1h-1zm0 15h1v1h-1zm2-88h1v1h-1zm0 16h1v1h-1zm0 3h1v1h-1zm0 12h1v1h-1zm0 2h1v2h-1zm0 28h1v1h-1zm0 38h1v2h-1zm1-87h1v1h-1zm0 11h1v1h-1zm0 4h1v1h-1zm0 2h1v2h-1zm0 8h1v1h-1zm0 3h1v1h-1zm0 8h1v1h-1zm0 4h1v1h-1zm0 3h1v1h-1zm1-55h1v1h-1zm0 2h1v1h-1zm0 51h1v2h-1zm0 10h1v1h-1zm0 28h1v2h-1zm0 3h1v1h-1zm0 4h1v1h-1zm4-73h1v1h-1zm0 14h1v1h-1zm0 2h1v2h-1zm0 11h1v3h-1zm0 5h1v1h-1zm0 5h1v1h-1zm0 4h1v2h-1zm0 6h1v1h-1zm0 3h1v1h-1zm0 6h1v1h-1zm0 7h1v1h-1zm0 4h1v1h-1zm2-92h1v1h-1zm0 8h1v1h-1zm0 4h1v1h-1zm0 3h1v1h-1zm0 27h1v2h-1zm0 4h1v2h-1zm0 16h1v3h-1zm0 17h1v1h-1zm0 7h1v1h-1zm0 4h1v1h-1zm0 3h1v1h-1zm1-81h1v1h-1zm0 27h1v1h-1zm0 4h1v1h-1zm0 10h1v1h-1zm0 5h1v1h-1zm0 8h1v1h-1zm0 16h1v1h-1zm0 18h1v1h-1zm1-99h1v1h-1zm0 4h1v2h-1zm0 3h1v1h-1zm0 2h1v1h-1zm0 25h1v2h-1zm0 18h1v1h-1zm0 4h1v1h-1zm0 5h1v1h-1zm0 4h1v2h-1zm0 11h1v1h-1zm1-81h1v1h-1zm0 2h1v4h-1zm0 9h1v1h-1zm0 6h1v1h-1zm0 16h1v1h-1zm0 2h1v1h-1zm0 14h1v1h-1zm0 22h1v2h-1zm2-67h1v1h-1zm0 5h1v1h-1zm1-4h1v1h-1zm0 2h1v1h-1zm0 8h1v2h-1zm1-10h1v1h-1zm0 10h1v2h-1zm0 34h1v1h-1zm0 19h1v1h-1zm1-68h1v1h-1zm0 11h1v1h-1zm0 2h1v1h-1zm0 5h1v1h-1zm0 30h1v4h-1zm0 14h1v1h-1zm0 8h1v1h-1zm0 17h1v1h-1zm0 14h1v1h-1zm1-101h1v1h-1zm0 3h1v1h-1zm0 5h1v1h-1zm0 34h1v1h-1zm0 5h1v1h-1zm0 14h1v1h-1zm0 2h1v1h-1zm0 3h1v1h-1zm0 34h1v1h-1zm0 2h1v1h-1zm1-102h1v3h-1zm0 10h1v1h-1zm0 36h1v1h-1zm0 21h1v1h-1zm0 2h1v1h-1zm0 30h1v1h-1zm1-81h1v2h-1zm0 15h1v1h-1zm0 8h1v1h-1zm0 6h1v1h-1zm0 27h1v1h-1zm0 30h1v1h-1zm1-102h1v1h-1zm0 2h1v1h-1zm0 4h1v1h-1zm0 6h1v1h-1zm0 17h1v1h-1zm0 16h1v1h-1zm0 3h1v1h-1zm0 13h1v1h-1zm0 11h1v1h-1zm0 14h1v1h-1zm1-69h1v1h-1zm0 42h1v1h-1zm0 13h1v1h-1zm1-72h1v1h-1zm0 15h1v1h-1zm0 23h1v1h-1zm0 24h1v2h-1zm1-56h1v2h-1zm0 42h1v1h-1zm0 12h1v1h-1zm0 14h1v1h-1zm1-75h1v1h-1zm0 7h1v1h-1zm0 4h1v1h-1zm0 3h1v2h-1zm0 5h1v1h-1zm0 22h1v1h-1zm0 4h1v1h-1zm0 16h1v2h-1zm1 0h1v1h-1zm0 11h1v1h-1zm0 25h1v1h-1zm1-90h1v1h-1zm0 2h1v1h-1zm0 2h1v3h-1zm0 8h1v1h-1zm0 20h1v1h-1zm0 2h1v1h-1zm0 3h1v1h-1zm0 2h1v1h-1zm0 13h1v1h-1zm1-49h1v2h-1zm0 30h1v1h-1zm0 8h1v1h-1zm0 20h1v1h-1zm0 2h1v1h-1zm0 7h1v1h-1zm0 3h1v1h-1zm1-74h1v2h-1zm0 3h1v1h-1zm0 3h1v1h-1zm0 22h1v1h-1zm0 9h1v3h-1zm0 5h1v2h-1zm0 7h1v1h-1zm0 16h1v2h-1zm0 8h1v1h-1zm0 8h1v1h-1zm0 4h1v1h-1zm0 3h1v1h-1zm1-92h1v1h-1zm0 3h1v1h-1zm0 25h1v1h-1zm0 11h1v1h-1zm0 7h1v1h-1zm0 5h1v1h-1zm0 20h1v2h-1zm0 3h1v1h-1zm0 3h1v1h-1zm0 3h1v1h-1zm0 5h1v1h-1zm0 4h1v1h-1zm0 2h1v1h-1zm2-84h1v3h-1zm0 16h1v1h-1zm0 5h1v1h-1zm0 2h1v1h-1zm0 17h1v1h-1zm0 17h1v2h-1zm0 11h1v1h-1zm0 5h1v2h-1zm3-75h1v1h-1zm0 4h1v1h-1zm0 3h1v1h-1zm0 2h1v1h-1zm0 12h1v1h-1zm0 6h1v1h-1zm0 10h1v1h-1zm0 6h1v2h-1zm0 8h1v1h-1zm0 17h1v1h-1zm0 17h1v1h-1zm1-91h1v1h-1zm0 24h1v1h-1zm0 2h1v1h-1zm0 2h1v1h-1zm0 11h1v2h-1zm0 18h1v2h-1zm0 12h1v2h-1zm0 22h1v1h-1zm1-77h1v1h-1zm0 33h1v1h-1zm0 18h1v1h-1zm0 12h1v1h-1zm0 3h1v3h-1zm1-76h1v1h-1zm0 8h1v1h-1zm0 26h1v2h-1zm0 14h1v1h-1zm0 3h1v1h-1zm0 3h1v1h-1zm0 3h1v1h-1zm0 3h1v1h-1zm0 16h1v3h-1zm0 19h1v1h-1zm1-88h1v1h-1zm0 13h1v1h-1zm0 7h1v2h-1zm0 18h1v1h-1zm0 17h1v1h-1zm0 12h1v1h-1zm0 3h1v1h-1zm1-68h1v1h-1zm0 5h1v1h-1zm0 11h1v1h-1zm0 52h1v1h-1zm0 3h1v1h-1zm0 15h1v2h-1zm3-97h1v1h-1zm0 5h1v1h-1zm0 4h1v1h-1zm0 5h1v1h-1zm0 11h1v1h-1zm0 17h1v1h-1zm0 26h1v1h-1zm0 16h1v1h-1zm0 9h1v1h-1zm4-82h1v2h-1zm0 11h1v1h-1zm0 2h1v1h-1zm0 12h1v2h-1zm0 12h1v1h-1zm0 2h1v1h-1zm0 2h1v1h-1zm0 5h1v1h-1zm0 5h1v1h-1zm0 14h1v1h-1zm0 21h1v2h-1zm1-100h1v1h-1zm0 4h1v1h-1zm0 9h1v1h-1zm0 2h1v1h-1zm0 7h1v1h-1zm0 13h1v1h-1zm0 9h1v1h-1zm0 4h1v1h-1zm0 23h1v1h-1zm0 2h1v1h-1zm0 10h1v1h-1zm0 7h1v1h-1zm0 3h1v1h-1zm0 5h1v1h-1zm0 3h1v1h-1zm1-102h1v2h-1zm0 9h1v1h-1zm0 20h1v1h-1zm0 2h1v1h-1zm0 19h1v1h-1zm0 18h1v1h-1zm0 10h1v1h-1zm0 17h1v2h-1zm0 7h1v1h-1zm2-100h1v3h-1zm0 4h1v1h-1zm0 34h1v1h-1zm0 16h1v1h-1zm0 4h1v1h-1zm1-51h1v1h-1zm0 14h1v2h-1zm0 11h1v2h-1zm0 6h1v1h-1zm0 30h1v3h-1zm0 22h1v2h-1zm0 10h1v1h-1zm2-92h1v2h-1zm0 13h1v1h-1zm0 4h1v1h-1zm0 5h1v1h-1zm0 6h1v1h-1zm0 2h1v1h-1zm0 4h1v1h-1zm0 10h1v1h-1zm0 6h1v1h-1zm0 4h1v1h-1zm0 11h1v1h-1zm0 22h1v2h-1zm0 3h1v1h-1zm1-88h1v1h-1zm0 12h1v1h-1zm0 17h1v1h-1zm0 4h1v2h-1zm0 6h1v1h-1zm0 3h1v1h-1zm0 2h1v1h-1zm0 3h1v1h-1zm0 16h1v1h-1zm0 4h1v1h-1zm2-75h1v1h-1zm0 8h1v1h-1zm0 23h1v1h-1zm0 24h1v2h-1zm0 3h1v1h-1zm0 3h1v2h-1zm0 5h1v1h-1zm0 10h1v1h-1zm0 10h1v1h-1zm0 3h1v1h-1zm1-82h1v1h-1zm0 2h1v1h-1zm0 10h1v1h-1zm0 2h1v2h-1zm0 13h1v1h-1zm0 3h1v2h-1zm0 4h1v1h-1zm0 18h1v1h-1zm0 3h1v1h-1zm0 14h1v1h-1zm0 6h1v1h-1zm0 5h1v1h-1zm1-89h1v1h-1zm0 8h1v1h-1zm0 6h1v1h-1zm0 13h1v2h-1zm0 5h1v1h-1zm0 3h1v1h-1zm0 2h1v1h-1zm0 19h1v1h-1zm0 21h1v3h-1zm1-78h1v2h-1zm0 11h1v1h-1zm0 7h1v1h-1zm0 13h1v1h-1zm0 8h1v2h-1zm0 5h1v1h-1zm0 2h1v1h-1zm0 3h1v1h-1zm0 15h1v1h-1zm0 2h1v1h-1zm0 9h1v1h-1zm0 2h1v1h-1zm0 2h1v1h-1zm0 12h1v1h-1zm2-82h1v3h-1zm0 12h1v1h-1zm0 3h1v1h-1zm0 5h1v1h-1zm0 13h1v2h-1zm0 8h1v1h-1zm0 9h1v1h-1zm0 26h1v1h-1zm0 3h1v2h-1zm0 10h1v1h-1zm1-99h1v1h-1zm0 7h1v1h-1zm0 7h1v1h-1zm0 11h1v1h-1zm0 15h1v1h-1zm0 9h1v1h-1zm0 3h1v1h-1zm0 2h1v1h-1zm0 10h1v1h-1zm0 9h1v1h-1zm0 3h1v1h-1zm0 15h1v1h-1zm0 7h1v1h-1zm2-98h1v2h-1zm0 12h1v1h-1zm0 6h1v1h-1zm0 5h1v2h-1zm0 8h1v1h-1zm0 2h1v1h-1zm0 5h1v2h-1zm0 6h1v1h-1zm0 2h1v1h-1zm0 4h1v1h-1zm0 4h1v1h-1zm0 4h1v1h-1zm0 5h1v1h-1zm0 19h1v2h-1zm0 4h1v1h-1zm0 6h1v1h-1zm0 13h1v1h-1zm1-96h1v1h-1zm0 5h1v1h-1zm0 11h1v2h-1zm0 4h1v1h-1zm0 7h1v1h-1zm0 4h1v1h-1zm0 6h1v1h-1zm0 4h1v1h-1zm0 18h1v1h-1zm1-60h1v1h-1zm0 2h1v1h-1zm0 2h1v2h-1zm0 13h1v1h-1zm0 15h1v1h-1zm0 3h1v1h-1zm0 4h1v1h-1zm0 2h1v2h-1zm0 4h1v2h-1zm0 9h1v1h-1zm0 3h1v1h-1zm0 3h1v2h-1zm1-65h1v1h-1zm0 3h1v1h-1zm0 6h1v1h-1zm0 3h1v1h-1zm0 3h1v1h-1zm0 5h1v1h-1zm0 8h1v1h-1zm0 14h1v1h-1zm1-41h1v1h-1zm0 5h1v1h-1zm0 3h1v2h-1zm0 7h1v1h-1zm0 7h1v1h-1zm1-18h1v2h-1zm0 3h1v1h-1zm0 2h1v1h-1zm1-9h1v1h-1zm0 98h1v1h-1zm1-94h1v1h-1zm0 79h1v1h-1zm0 2h1v1h-1zm0 3h1v2h-1zm0 4h1v2h-1zm0 5h1v1h-1zm1-98h1v1h-1zm0 4h1v2h-1zm0 7h1v1h-1zm0 56h1v1h-1zm0 12h1v1h-1zm0 11h1v1h-1zm0 5h1v1h-1zm1-95h1v2h-1zm0 11h1v1h-1zm0 24h1v2h-1zm0 30h1v1h-1zm0 2h1v1h-1zm0 7h1v1h-1zm0 6h1v1h-1zm0 4h1v1h-1zm0 3h1v1h-1zm0 2h1v1h-1zm1-89h1v1h-1zm0 14h1v1h-1zm0 3h1v1h-1zm0 3h1v1h-1zm0 2h1v1h-1zm0 5h1v1h-1zm0 8h1v1h-1zm0 16h1v2h-1zm0 4h1v1h-1zm0 13h1v1h-1zm0 5h1v1h-1zm0 8h1v1h-1zm0 2h1v1h-1zm0 3h1v1h-1zm1-61h1v1h-1zm0 14h1v1h-1zm0 2h1v1h-1zm0 9h1v1h-1zm0 4h1v1h-1zm0 4h1v1h-1zm0 5h1v1h-1zm0 18h1v1h-1zm1-65h1v1h-1zm0 10h1v2h-1zm0 13h1v1h-1zm0 3h1v1h-1zm0 3h1v1h-1zm0 4h1v1h-1zm0 4h1v1h-1zm0 2h1v1h-1zm0 5h1v1h-1zm0 3h1v1h-1zm0 12h1v1h-1zm0 7h1v1h-1zm0 2h1v1h-1zm0 3h1v3h-1zm1-73h1v1h-1zm0 2h1v2h-1zm0 3h1v1h-1zm0 4h1v1h-1zm1-25h1v1h-1zm0 18h1v1h-1zm0 6h1v1h-1zm0 10h1v1h-1zm0 10h1v3h-1zm0 28h1v1h-1zm0 13h1v1h-1zm0 7h1v1h-1zm1-92h1v1h-1zm0 4h1v1h-1zm0 7h1v2h-1zm0 3h1v1h-1zm0 4h1v1h-1zm0 25h1v1h-1zm0 2h1v2h-1zm0 5h1v1h-1zm0 5h1v1h-1zm0 8h1v1h-1zm0 2h1v1h-1zm0 5h1v1h-1zm0 6h1v1h-1zm3-50h1v1h-1zm0 6h1v1h-1zm0 13h1v1h-1zm0 2h1v1h-1zm0 2h1v1h-1zm0 17h1v1h-1zm0 2h1v2h-1zm0 17h1v2h-1zm0 7h1v1h-1zm0 2h1v1h-1zm1-92h1v1h-1zm0 14h1v1h-1zm0 5h1v1h-1zm0 14h1v1h-1zm0 3h1v1h-1zm0 6h1v2h-1zm0 3h1v1h-1zm0 15h1v1h-1zm0 2h1v1h-1zm0 5h1v1h-1zm0 17h1v1h-1zm1-74h1v1h-1zm0 17h1v1h-1zm0 7h1v1h-1zm0 2h1v1h-1zm0 2h1v1h-1zm0 7h1v1h-1zm0 39h1v1h-1zm1-82h1v2h-1zm0 17h1v1h-1zm0 4h1v1h-1zm0 3h1v1h-1zm0 26h1v3h-1zm0 13h1v1h-1zm0 12h1v1h-1zm0 6h1v1h-1zm0 6h1v2h-1zm1-89h1v1h-1zm0 8h1v1h-1zm0 8h1v1h-1zm0 27h1v1h-1zm0 28h1v1h-1zm1-74h1v1h-1zm1 1h1v1h-1zm0 18h1v1h-1zm0 41h1v1h-1zm0 25h1v1h-1zm1-72h1v1h-1zm0 6h1v1h-1zm0 21h1v1h-1zm0 14h1v1h-1zm0 2h1v1h-1zm1-45h1v1h-1zm0 11h1v1h-1zm0 40h1v1h-1zm1-60h1v1h-1zm0 71h1v1h-1zm2-48h1v2h-1zm0 11h1v1h-1zm0 45h1v2h-1zm0 8h1v1h-1zm1-89h1v1h-1zm0 11h1v1h-1zm0 5h1v1h-1zm0 8h1v2h-1zm0 6h1v1h-1zm0 13h1v1h-1zm0 4h1v1h-1zm0 3h1v4h-1zm0 18h1v1h-1zm0 10h1v1h-1zm0 5h1v1h-1zm0 9h1v2h-1zm1-92h1v1h-1zm0 10h1v1h-1zm0 7h1v1h-1zm0 4h1v1h-1zm0 8h1v2h-1zm0 4h1v1h-1zm0 3h1v2h-1zm0 3h1v1h-1zm0 6h1v2h-1zm0 6h1v2h-1zm0 7h1v2h-1zm0 7h1v1h-1zm0 6h1v1h-1zm1-64h1v1h-1zm0 3h1v2h-1zm0 5h1v1h-1zm0 19h1v1h-1zm0 9h1v1h-1zm0 24h1v1h-1zm0 8h1v1h-1zm0 13h1v1h-1zm0 5h1v1h-1zm1-93h1v1h-1zm0 4h1v2h-1zm0 5h1v1h-1zm0 14h1v1h-1zm0 5h1v1h-1zm0 16h1v1h-1zm0 2h1v1h-1zm0 5h1v1h-1zm0 4h1v1h-1zm0 2h1v1h-1zm0 7h1v1h-1zm0 13h1v1h-1zm0 7h1v1h-1zm0 2h1v2h-1zm0 3h1v1h-1zm1-56h1v3h-1zm0 18h1v1h-1zm0 4h1v1h-1zm0 4h1v1h-1zm0 13h1v1h-1zm0 14h1v1h-1zm1-30h1v1h-1zm0 19h1v1h-1zm0 5h1v1h-1zm1-50h1v1h-1zm0 4h1v1h-1zm0 7h1v1h-1zm0 10h1v2h-1zm0 33h1v1h-1zm1-68h1v1h-1zm0 3h1v1h-1zm0 4h1v1h-1zm0 4h1v1h-1zm0 3h1v2h-1zm0 10h1v2h-1zm0 3h1v1h-1zm0 7h1v2h-1zm0 3h1v1h-1zm0 4h1v1h-1zm0 5h1v1h-1zm0 10h1v1h-1zm0 19h1v1h-1zm0 3h1v2h-1zm1-89h1v2h-1zm0 6h1v1h-1zm0 18h1v1h-1zm0 4h1v1h-1zm0 5h1v1h-1zm0 7h1v1h-1zm0 2h1v1h-1zm0 14h1v2h-1zm0 4h1v1h-1zm0 3h1v1h-1zm0 8h1v1h-1zm0 8h1v1h-1zm0 3h1v2h-1zm2-80h1v1h-1zm0 11h1v1h-1zm0 3h1v1h-1zm0 12h1v2h-1zm0 7h1v1h-1zm0 3h1v1h-1zm0 7h1v1h-1zm0 6h1v1h-1zm0 2h1v1h-1zm0 2h1v1h-1zm0 2h1v2h-1zm0 9h1v2h-1zm0 6h1v1h-1zm0 3h1v3h-1zm0 9h1v1h-1zm0 6h1v2h-1zm1-65h1v1h-1zm0 15h1v1h-1zm0 35h1v1h-1zm1-68h1v1h-1zm0 6h1v4h-1zm1-6h1v1h-1zm0 15h1v1h-1zm0 46h1v1h-1zm1-70h1v2h-1zm0 31h1v1h-1zm0 2h1v4h-1zm0 30h1v1h-1zm0 7h1v1h-1zm0 17h1v1h-1zm1-81h1v1h-1zm0 19h1v1h-1zm0 21h1v1h-1zm0 14h1v1h-1zm0 11h1v2h-1zm0 3h1v1h-1zm0 9h1v2h-1zm0 4h1v1h-1zm3-89h1v1h-1zm0 2h1v1h-1zm0 5h1v3h-1zm0 5h1v1h-1zm0 10h1v2h-1zm0 6h1v1h-1zm0 3h1v1h-1zm0 3h1v2h-1zm0 3h1v1h-1zm0 2h1v2h-1zm0 27h1v1h-1zm0 6h1v1h-1zm0 13h1v1h-1zm0 2h1v1h-1zm3-85h1v1h-1zm0 2h1v1h-1zm0 3h1v1h-1zm0 14h1v1h-1zm0 2h1v1h-1zm0 9h1v1h-1zm0 2h1v1h-1zm0 14h1v1h-1zm0 18h1v1h-1zm0 3h1v4h-1zm0 15h1v1h-1zm0 3h1v2h-1zm0 3h1v1h-1zm2-79h1v1h-1zm0 2h1v2h-1zm0 5h1v1h-1zm0 3h1v1h-1zm0 22h1v1h-1zm0 5h1v3h-1zm0 15h1v2h-1zm0 22h1v1h-1zm0 7h1v1h-1zm1-90h1v1h-1zm0 3h1v1h-1zm0 3h1v2h-1zm0 6h1v1h-1zm0 14h1v1h-1zm0 10h1v1h-1zm0 13h1v1h-1zm0 2h1v1h-1zm0 2h1v2h-1zm0 8h1v2h-1zm0 8h1v1h-1zm0 6h1v1h-1zm0 6h1v1h-1zm0 7h1v1h-1zm0 2h1v1h-1zm1-85h1v1h-1zm0 12h1v1h-1zm0 5h1v1h-1zm0 13h1v1h-1zm0 2h1v1h-1zm0 2h1v1h-1zm0 6h1v1h-1zm0 6h1v1h-1zm0 9h1v3h-1zm0 10h1v1h-1zm0 3h1v1h-1zm0 4h1v1h-1zm0 3h1v1h-1zm0 10h1v1h-1zm0 2h1v2h-1zm1-77h1v1h-1zm0 6h1v5h-1zm0 9h1v1h-1zm0 9h1v1h-1zm0 2h1v1h-1zm0 4h1v1h-1zm0 6h1v3h-1zm0 12h1v2h-1zm0 4h1v1h-1zm0 3h1v1h-1zm0 2h1v1h-1zm0 18h1v1h-1zm1-93h1v2h-1zm0 5h1v1h-1zm0 16h1v1h-1zm0 7h1v1h-1zm0 8h1v1h-1zm0 12h1v1h-1zm0 3h1v1h-1zm0 8h1v3h-1zm0 4h1v1h-1zm0 4h1v2h-1zm0 9h1v1h-1zm0 2h1v1h-1zm0 2h1v1h-1zm2-75h1v1h-1zm0 11h1v1h-1zm0 2h1v1h-1zm0 5h1v1h-1zm0 6h1v1h-1zm0 2h1v2h-1zm0 4h1v1h-1zm0 6h1v1h-1zm0 3h1v1h-1zm0 8h1v1h-1zm0 38h1v1h-1zm0 4h1v1h-1zm1-90h1v1h-1zm0 8h1v1h-1zm0 21h1v1h-1zm0 3h1v2h-1zm0 8h1v1h-1zm0 7h1v1h-1zm0 13h1v1h-1zm0 2h1v1h-1zm0 18h1v1h-1zm0 11h1v1h-1zm1-82h1v1h-1zm0 3h1v3h-1zm0 4h1v1h-1zm0 32h1v1h-1zm0 3h1v1h-1zm0 12h1v1h-1zm0 9h1v1h-1zm0 6h1v3h-1zm0 7h1v1h-1zm0 7h1v1h-1zm1-96h1v1h-1zm0 24h1v1h-1zm0 5h1v2h-1zm0 4h1v1h-1zm0 7h1v1h-1zm0 2h1v1h-1zm0 7h1v1h-1zm0 2h1v1h-1zm0 3h1v2h-1zm0 12h1v1h-1zm0 28h1v1h-1zm1-58h1v2h-1zm0 5h1v1h-1zm0 5h1v1h-1zm0 12h1v1h-1zm0 2h1v2h-1zm0 3h1v1h-1zm0 4h1v1h-1zm0 7h1v2h-1zm0 16h1v2h-1zm0 3h1v1h-1zm1-89h1v1h-1zm0 2h1v1h-1zm0 6h1v1h-1zm0 5h1v1h-1zm0 20h1v1h-1zm0 9h1v1h-1zm1-31h1v1h-1zm0 11h1v1h-1zm0 31h1v1h-1zm0 14h1v1h-1zm0 20h1v1h-1zm1-53h1v1h-1zm0 21h1v1h-1zm0 35h1v1h-1zm1-87h1v1h-1zm0 4h1v2h-1zm0 31h1v1h-1zm0 2h1v1h-1zm0 3h1v1h-1zm0 8h1v1h-1zm0 8h1v2h-1zm0 3h1v2h-1zm0 3h1v1h-1zm0 4h1v1h-1zm0 13h1v1h-1zm0 6h1v1h-1zm0 2h1v1h-1zm1-88h1v1h-1zm0 2h1v1h-1zm0 7h1v1h-1zm0 4h1v2h-1zm0 10h1v3h-1zm0 11h1v1h-1zm0 2h1v1h-1zm0 4h1v1h-1zm0 10h1v1h-1zm0 7h1v1h-1zm0 13h1v1h-1zm0 2h1v1h-1zm0 2h1v2h-1zm1-58h1v1h-1zm0 15h1v1h-1zm0 10h1v1h-1zm0 23h1v1h-1zm0 2h1v1h-1zm0 2h1v1h-1zm0 3h1v1h-1zm0 6h1v1h-1zm1-70h1v2h-1zm0 14h1v1h-1zm0 10h1v2h-1zm0 15h1v1h-1zm0 2h1v1h-1zm0 6h1v1h-1zm0 27h1v2h-1zm0 7h1v1h-1zm1-60h1v1h-1zm0 11h1v1h-1zm0 26h1v1h-1zm0 10h1v1h-1zm1-54h1v2h-1zm1-17h1v1h-1zm0 5h1v1h-1zm0 59h1v2h-1zm0 22h1v1h-1zm1-78h1v1h-1zm0 9h1v1h-1zm0 3h1v1h-1zm0 8h1v2h-1zm0 23h1v1h-1zm0 20h1v1h-1zm0 9h1v1h-1zm1-83h1v1h-1zm0 8h1v1h-1zm0 15h1v1h-1zm0 4h1v3h-1zm0 9h1v1h-1zm0 25h1v1h-1zm0 3h1v2h-1zm0 4h1v1h-1zm0 7h1v1h-1zm0 5h1v1h-1zm0 5h1v1h-1zm0 2h1v1h-1zm1-76h1v1h-1zm0 5h1v1h-1zm0 5h1v2h-1zm0 6h1v1h-1zm0 19h1v1h-1zm0 11h1v1h-1zm0 25h1v1h-1zm1-85h1v2h-1zm0 5h1v1h-1zm0 3h1v1h-1zm0 4h1v1h-1zm0 3h1v2h-1zm0 21h1v1h-1zm0 11h1v1h-1zm0 3h1v3h-1zm0 7h1v1h-1zm0 7h1v1h-1zm0 4h1v1h-1zm0 7h1v1h-1zm0 4h1v3h-1zm0 9h1v1h-1zm2-89h1v1h-1zm0 12h1v1h-1zm0 3h1v1h-1zm0 7h1v2h-1zm0 7h1v1h-1zm0 11h1v1h-1zm0 10h1v1h-1zm0 4h1v1h-1zm0 15h1v1h-1zm0 6h1v1h-1zm0 5h1v1h-1zm0 6h1v1h-1zm0 5h1v2h-1zm1-92h1v1h-1zm0 5h1v1h-1zm0 2h1v1h-1zm0 6h1v1h-1zm0 3h1v2h-1zm0 4h1v1h-1zm0 5h1v1h-1zm0 9h1v1h-1zm0 7h1v1h-1zm0 4h1v1h-1zm0 8h1v1h-1zm0 4h1v1h-1zm0 13h1v1h-1zm0 9h1v1h-1zm0 6h1v3h-1zm0 7h1v1h-1zm1-92h1v1h-1zm0 8h1v1h-1zm0 6h1v1h-1zm0 16h1v1h-1zm0 5h1v1h-1zm0 8h1v1h-1zm0 20h1v1h-1zm0 3h1v1h-1zm0 12h1v1h-1zm0 9h1v1h-1zm1-87h1v1h-1zm0 7h1v1h-1zm0 7h1v2h-1zm0 10h1v1h-1zm0 10h1v1h-1zm0 4h1v1h-1zm0 2h1v1h-1zm0 5h1v1h-1zm0 4h1v1h-1zm0 4h1v1h-1zm0 6h1v1h-1zm0 22h1v1h-1zm1-77h1v1h-1zm0 4h1v3h-1zm0 13h1v1h-1zm0 3h1v1h-1zm0 8h1v1h-1zm0 8h1v1h-1zm0 10h1v1h-1zm0 8h1v1h-1zm0 26h1v1h-1zm0 4h1v1h-1zm0 5h1v1h-1zm1-81h1v1h-1zm0 24h1v1h-1zm1-30h1v1h-1zm0 15h1v1h-1zm0 5h1v1h-1zm0 30h1v1h-1zm0 19h1v1h-1zm1-65h1v1h-1zm0 9h1v1h-1zm0 8h1v2h-1zm0 20h1v1h-1zm0 4h1v1h-1zm0 4h1v3h-1zm0 8h1v1h-1zm0 12h1v1h-1zm0 7h1v1h-1zm0 5h1v1h-1zm0 2h1v1h-1zm0 3h1v1h-1zm0 2h1v1h-1zm1-86h1v1h-1zm0 4h1v1h-1zm0 5h1v1h-1zm0 15h1v1h-1zm0 3h1v4h-1zm0 7h1v1h-1zm0 3h1v1h-1zm0 13h1v1h-1zm0 12h1v1h-1zm0 4h1v1h-1zm0 3h1v1h-1zm0 11h1v2h-1zm1-81h1v1h-1zm0 4h1v1h-1zm0 13h1v1h-1zm0 9h1v1h-1zm0 4h1v1h-1zm0 2h1v1h-1zm0 16h1v1h-1zm0 20h1v1h-1zm0 19h1v1h-1zm1-64h1v3h-1zm0 31h1v1h-1zm0 6h1v1h-1zm0 3h1v1h-1zm0 3h1v3h-1zm1-68h1v1h-1zm0 20h1v1h-1zm0 8h1v1h-1zm0 2h1v1h-1zm0 7h1v1h-1zm1-28h1v2h-1zm0 10h1v1h-1zm0 10h1v2h-1zm0 26h1v1h-1zm0 4h1v1h-1zm0 13h1v1h-1zm0 4h1v1h-1zm1-80h1v1h-1zm0 6h1v1h-1zm0 20h1v2h-1zm0 9h1v2h-1zm0 3h1v1h-1zm0 11h1v1h-1zm0 15h1v1h-1zm0 11h1v1h-1zm0 7h1v1h-1zm1-80h1v1h-1zm0 78h1v1h-1zm1-69h1v1h-1zm0 14h1v1h-1zm0 28h1v1h-1zm0 18h1v1h-1zm0 3h1v1h-1zm0 6h1v2h-1zm0 4h1v1h-1zm0 3h1v1h-1zm0 2h1v1h-1zm1-90h1v4h-1zm0 17h1v2h-1zm0 9h1v1h-1zm0 11h1v1h-1zm0 32h1v1h-1zm0 11h1v1h-1zm0 2h1v2h-1zm1-75h1v3h-1zm0 36h1v1h-1zm0 10h1v2h-1zm1-17h1v1h-1zm0 12h1v1h-1zm0 12h1v1h-1zm0 27h1v1h-1z"/><path fill="#52cb7b" d="M0 3h1v2h-1zm0 7h1v1h-1zm0 2h1v2h-1zm0 18h1v1h-1zm0 11h1v1h-1zm0 8h1v2h-1zm0 7h1v1h-1zm0 14h1v1h-1zm0 21h1v1h-1zm0 2h1v1h-1zm0 2h1v2h-1zm2-61h1v1h-1zm1-17h1v1h-1zm0 2h1v2h-1zm0 3h1v3h-1zm0 4h1v1h-1zm0 13h1v1h-1zm0 8h1v1h-1zm0 48h1v2h-1zm1-69h1v1h-1zm0 2h1v1h-1zm0 4h1v1h-1zm0 4h1v2h-1zm0 4h1v2h-1zm0 8h1v1h-1zm0 2h1v1h-1zm0 2h1v1h-1zm0 3h1v1h-1zm0 7h1v1h-1zm0 18h1v1h-1zm0 3h1v3h-1zm0 6h1v2h-1zm0 3h1v1h-1zm0 2h1v2h-1zm0 3h1v2h-1zm0 3h1v1h-1zm1-89h1v2h-1zm0 23h1v1h-1zm0 2h1v1h-1zm0 12h1v1h-1zm0 20h1v1h-1zm0 20h1v1h-1zm0 3h1v1h-1zm1-91h1v1h-1zm0 5h1v1h-1zm0 5h1v1h-1zm0 2h1v1h-1zm0 10h1v2h-1zm0 8h1v2h-1zm0 4h1v1h-1zm0 2h1v1h-1zm0 3h1v2h-1zm0 6h1v1h-1zm0 3h1v1h-1zm0 2h1v1h-1zm0 3h1v3h-1zm0 26h1v1h-1zm0 9h1v1h-1zm0 3h1v1h-1zm0 2h1v2h-1zm0 3h1v1h-1zm2-88h1v1h-1zm0 76h1v1h-1zm2-83h1v1h-1zm0 7h1v1h-1zm0 12h1v1h-1zm0 6h1v1h-1zm0 20h1v3h-1zm0 7h1v2h-1zm0 4h1v1h-1zm0 3h1v1h-1zm0 22h1v1h-1zm0 2h1v1h-1zm0 17h1v1h-1zm4-76h1v1h-1zm0 30h1v1h-1zm0 10h1v1h-1zm2-28h1v1h-1zm0 28h1v1h-1zm0 34h1v1h-1zm0 2h1v1h-1zm1-89h1v1h-1zm0 10h1v2h-1zm0 3h1v4h-1zm0 18h1v1h-1zm0 5h1v1h-1zm0 2h1v2h-1zm0 51h1v1h-1zm2-32h1v1h-1zm0 2h1v1h-1zm0 5h1v1h-1zm0 5h1v1h-1zm0 2h1v2h-1zm0 3h1v1h-1zm0 4h1v1h-1zm0 6h1v1h-1zm0 2h1v1h-1zm0 2h1v1h-1zm2-78h1v1h-1zm0 14h1v4h-1zm0 13h1v1h-1zm0 16h1v1h-1zm0 31h1v1h-1zm1-88h1v1h-1zm0 8h1v1h-1zm1-16h1v1h-1zm0 7h1v3h-1zm0 7h1v1h-1zm0 11h1v2h-1zm0 26h1v1h-1zm1-50h1v1h-1zm0 6h1v1h-1zm0 2h1v1h-1zm0 2h1v2h-1zm0 16h1v1h-1zm0 28h1v1h-1zm0 4h1v1h-1zm0 2h1v2h-1zm0 6h1v1h-1zm0 5h1v1h-1zm0 8h1v1h-1zm0 18h1v1h-1zm1-96h1v1h-1zm0 4h1v1h-1zm0 9h1v2h-1zm0 5h1v2h-1zm0 4h1v2h-1zm0 7h1v1h-1zm0 2h1v1h-1zm0 5h1v1h-1zm0 28h1v4h-1zm0 16h1v2h-1zm0 6h1v2h-1zm0 12h1v1h-1zm2-96h1v1h-1zm0 2h1v1h-1zm0 4h1v1h-1zm0 6h1v1h-1zm0 13h1v1h-1zm0 10h1v2h-1zm0 4h1v1h-1zm0 11h1v1h-1zm0 9h1v1h-1zm0 2h1v1h-1zm0 5h1v1h-1zm0 2h1v1h-1zm0 3h1v1h-1zm0 9h1v1h-1zm0 3h1v1h-1zm0 2h1v1h-1zm1-89h1v1h-1zm0 9h1v2h-1zm0 6h1v1h-1zm0 7h1v1h-1zm0 4h1v1h-1zm0 11h1v1h-1zm0 4h1v1h-1zm0 7h1v2h-1zm0 5h1v1h-1zm0 15h1v1h-1zm0 22h1v1h-1zm0 5h1v1h-1zm0 3h1v1h-1zm1-79h1v1h-1zm0 3h1v2h-1zm0 3h1v2h-1zm0 7h1v1h-1zm0 2h1v1h-1zm0 46h1v1h-1zm0 9h1v1h-1zm1-80h1v1h-1zm0 2h1v1h-1zm0 6h1v3h-1zm0 6h1v1h-1zm0 54h1v1h-1zm0 2h1v2h-1zm0 4h1v3h-1zm0 4h1v1h-1zm0 8h1v1h-1zm0 6h1v1h-1zm2 0h1v1h-1zm1-100h1v1h-1zm0 64h1v1h-1zm0 33h1v2h-1zm1-67h1v1h-1zm0 10h1v1h-1zm0 2h1v1h-1zm0 2h1v1h-1zm0 2h1v1h-1zm0 6h1v1h-1zm0 10h1v1h-1zm0 2h1v3h-1zm0 31h1v1h-1zm1-94h1v1h-1zm0 2h1v1h-1zm0 10h1v1h-1zm0 8h1v1h-1zm0 22h1v1h-1zm0 8h1v1h-1zm0 12h1v1h-1zm0 2h1v2h-1zm0 6h1v1h-1zm0 23h1v1h-1zm1-95h1v2h-1zm0 4h1v3h-1zm0 9h1v1h-1zm0 4h1v1h-1zm0 2h1v1h-1zm0 4h1v1h-1zm0 22h1v1h-1zm0 2h1v1h-1zm0 2h1v2h-1zm0 3h1v1h-1zm0 11h1v1h-1zm1-60h1v1h-1zm0 29h1v2h-1zm0 10h1v2h-1zm0 22h1v1h-1zm0 5h1v1h-1zm0 24h1v1h-1zm0 3h1v1h-1zm0 3h1v1h-1zm1-98h1v1h-1zm0 7h1v1h-1zm0 10h1v1h-1zm0 5h1v1h-1zm0 14h1v2h-1zm0 4h1v2h-1zm0 3h1v1h-1zm0 2h1v1h-1zm0 7h1v1h-1zm0 2h1v1h-1zm0 2h1v1h-1zm0 4h1v1h-1zm0 3h1v2h-1zm0 6h1v3h-1zm0 8h1v1h-1zm0 20h1v1h-1zm0 3h1v1h-1zm1-100h1v2h-1zm0 27h1v1h-1zm0 6h1v3h-1zm0 5h1v1h-1zm0 17h1v1h-1zm0 2h1v2h-1zm0 4h1v3h-1zm0 4h1v3h-1zm0 5h1v1h-1zm0 8h1v2h-1zm0 4h1v2h-1zm0 4h1v1h-1zm0 2h1v1h-1zm0 7h1v3h-1zm0 4h1v1h-1zm1-90h1v1h-1zm0 2h1v1h-1zm0 2h1v1h-1zm0 4h1v1h-1zm0 16h1v2h-1zm0 4h1v1h-1zm0 41h1v1h-1zm0 8h1v1h-1zm0 3h1v5h-1zm1-66h1v1h-1zm0 5h1v1h-1zm0 6h1v1h-1zm0 27h1v1h-1zm0 19h1v1h-1zm0 3h1v1h-1zm0 2h1v1h-1zm0 15h1v1h-1zm1-99h1v4h-1zm0 24h1v1h-1zm0 2h1v2h-1zm0 16h1v1h-1zm0 3h1v2h-1zm0 3h1v1h-1zm0 6h1v1h-1zm0 16h1v1h-1zm0 4h1v2h-1zm0 7h1v1h-1zm0 2h1v1h-1zm0 9h1v1h-1zm1-92h1v1h-1zm0 7h1v1h-1zm0 4h1v1h-1zm0 14h1v1h-1zm0 3h1v2h-1zm0 6h1v1h-1zm0 6h1v1h-1zm0 13h1v2h-1zm0 3h1v1h-1zm0 9h1v1h-1zm0 7h1v1h-1zm0 26h1v1h-1zm2-91h1v1h-1zm0 27h1v1h-1zm0 3h1v1h-1zm0 6h1v1h-1zm0 2h1v1h-1zm0 6h1v1h-1zm0 10h1v1h-1zm0 2h1v2h-1zm0 8h1v1h-1zm0 3h1v1h-1zm0 3h1v2h-1zm0 3h1v2h-1zm0 5h1v1h-1zm0 8h1v1h-1zm3-86h1v2h-1zm0 59h1v1h-1zm1-58h1v3h-1zm0 12h1v1h-1zm0 6h1v1h-1zm0 11h1v1h-1zm0 4h1v2h-1zm0 3h1v1h-1zm0 3h1v1h-1zm0 3h1v1h-1zm0 4h1v1h-1zm0 2h1v1h-1zm0 2h1v3h-1zm0 4h1v1h-1zm0 11h1v2h-1zm0 5h1v1h-1zm1-79h1v1h-1zm0 100h1v1h-1zm1-59h1v1h-1zm0 2h1v1h-1zm0 24h1v1h-1zm0 23h1v1h-1zm0 11h1v1h-1zm1-37h1v2h-1zm0 4h1v1h-1zm0 10h1v1h-1zm0 2h1v1h-1zm0 4h1v2h-1zm1-84h1v1h-1zm0 29h1v1h-1zm0 45h1v1h-1zm0 2h1v2h-1zm0 4h1v1h-1zm0 4h1v1h-1zm0 5h1v1h-1zm0 5h1v1h-1zm0 2h1v1h-1zm1-91h1v3h-1zm0 33h1v1h-1zm0 19h1v1h-1zm0 5h1v1h-1zm0 7h1v1h-1zm0 3h1v1h-1zm0 7h1v2h-1zm0 4h1v1h-1zm0 4h1v1h-1zm1-88h1v1h-1zm0 2h1v1h-1zm0 7h1v3h-1zm0 9h1v1h-1zm0 3h1v1h-1zm0 3h1v2h-1zm0 10h1v3h-1zm0 11h1v3h-1zm0 4h1v1h-1zm0 5h1v1h-1zm0 17h1v1h-1zm0 4h1v1h-1zm0 4h1v1h-1zm0 4h1v3h-1zm0 14h1v1h-1zm0 3h1v1h-1zm1-98h1v1h-1zm0 3h1v1h-1zm0 36h1v3h-1zm0 4h1v1h-1zm0 12h1v1h-1zm0 21h1v1h-1zm0 7h1v2h-1zm0 4h1v1h-1zm1-80h1v2h-1zm0 11h1v1h-1zm0 2h1v2h-1zm0 8h1v1h-1zm0 10h1v1h-1zm0 10h1v1h-1zm0 2h1v1h-1zm0 6h1v1h-1zm0 7h1v1h-1zm0 2h1v1h-1zm0 2h1v1h-1zm0 8h1v1h-1zm0 5h1v1h-1zm0 8h1v1h-1zm0 2h1v1h-1zm1-87h1v2h-1zm0 3h1v1h-1zm0 9h1v2h-1zm0 3h1v1h-1zm0 5h1v1h-1zm0 2h1v3h-1zm0 7h1v1h-1zm0 3h1v1h-1zm0 15h1v1h-1zm0 9h1v2h-1zm0 8h1v1h-1zm0 6h1v2h-1zm0 3h1v1h-1zm0 6h1v1h-1zm1-84h1v1h-1zm0 9h1v1h-1zm0 14h1v2h-1zm0 6h1v1h-1zm0 10h1v1h-1zm0 15h1v2h-1zm0 6h1v2h-1zm0 11h1v2h-1zm0 16h1v1h-1zm0 4h1v1h-1zm0 3h1v1h-1zm0 5h1v2h-1zm1-91h1v2h-1zm0 3h1v1h-1zm0 33h1v1h-1zm0 17h1v1h-1zm0 3h1v1h-1zm0 15h1v1h-1zm1-1h1v2h-1zm1-77h1v1h-1zm0 4h1v1h-1zm0 6h1v1h-1zm0 6h1v1h-1zm0 25h1v1h-1zm0 6h1v1h-1zm0 6h1v2h-1zm0 6h1v1h-1zm0 10h1v1h-1zm0 2h1v1h-1zm0 3h1v1h-1zm0 6h1v2h-1zm0 4h1v1h-1zm0 4h1v2h-1zm0 5h1v2h-1zm0 5h1v1h-1zm0 2h1v1h-1zm1-88h1v1h-1zm0 79h1v2h-1zm0 6h1v1h-1zm1-91h1v1h-1zm0 6h1v1h-1zm0 49h1v3h-1zm0 9h1v1h-1zm0 4h1v1h-1zm0 16h1v1h-1zm1-90h1v2h-1zm0 5h1v1h-1zm0 2h1v1h-1zm0 2h1v2h-1zm0 12h1v5h-1zm0 14h1v2h-1zm0 7h1v1h-1zm0 5h1v1h-1zm0 5h1v1h-1zm0 2h1v1h-1zm0 6h1v2h-1zm0 3h1v1h-1zm0 29h1v2h-1zm0 3h1v2h-1zm0 5h1v1h-1zm2-96h1v1h-1zm0 3h1v1h-1zm0 4h1v1h-1zm0 2h1v1h-1zm0 7h1v1h-1zm0 4h1v1h-1zm0 2h1v3h-1zm0 4h1v3h-1zm0 6h1v3h-1zm0 8h1v1h-1zm0 18h1v1h-1zm0 2h1v1h-1zm0 4h1v2h-1zm0 18h1v1h-1zm0 4h1v1h-1zm0 2h1v6h-1zm1-88h1v1h-1zm0 23h1v1h-1zm0 3h1v2h-1zm0 4h1v2h-1zm0 7h1v2h-1zm0 6h1v1h-1zm0 3h1v1h-1zm0 19h1v2h-1zm0 4h1v1h-1zm0 4h1v1h-1zm0 3h1v1h-1zm0 10h1v5h-1zm0 7h1v1h-1zm0 2h1v1h-1zm1-96h1v2h-1zm0 19h1v2h-1zm0 39h1v2h-1zm0 4h1v1h-1zm0 4h1v1h-1zm0 7h1v1h-1zm0 2h1v1h-1zm0 2h1v1h-1zm0 2h1v1h-1zm0 3h1v3h-1zm0 9h1v1h-1zm0 3h1v1h-1zm1-91h1v1h-1zm0 18h1v1h-1zm0 4h1v1h-1zm0 20h1v1h-1zm0 37h1v1h-1zm0 5h1v1h-1zm1-91h1v1h-1zm0 46h1v1h-1zm0 6h1v1h-1zm0 5h1v1h-1zm1-54h1v1h-1zm0 17h1v1h-1zm0 2h1v1h-1zm0 5h1v2h-1zm0 4h1v1h-1zm0 8h1v1h-1zm0 3h1v3h-1zm0 32h1v1h-1zm0 2h1v2h-1zm0 7h1v1h-1zm0 9h1v6h-1zm0 8h1v1h-1zm1-93h1v1h-1zm0 35h1v1h-1zm0 2h1v1h-1zm0 13h1v2h-1zm0 23h1v1h-1zm1-14h1v1h-1zm0 35h1v1h-1zm1-98h1v2h-1zm1 45h1v1h-1zm0 4h1v4h-1zm0 9h1v2h-1zm0 12h1v2h-1zm0 28h1v1h-1zm1-97h1v3h-1zm0 6h1v1h-1zm0 3h1v3h-1zm0 4h1v2h-1zm0 3h1v2h-1zm0 12h1v1h-1zm0 4h1v1h-1zm0 31h1v1h-1zm0 4h1v1h-1zm0 6h1v3h-1zm0 12h1v3h-1zm1-76h1v1h-1zm0 2h1v1h-1zm1 28h1v2h-1zm0 10h1v1h-1zm0 9h1v1h-1zm0 15h1v2h-1zm6-63h1v2h-1zm0 3h1v3h-1zm0 21h1v1h-1zm0 30h1v1h-1zm0 2h1v2h-1zm0 3h1v3h-1zm0 10h1v1h-1zm0 7h1v1h-1zm0 2h1v1h-1zm0 3h1v1h-1zm0 2h1v2h-1zm0 4h1v1h-1zm1-99h1v3h-1zm0 9h1v1h-1zm0 2h1v1h-1zm0 6h1v1h-1zm0 6h1v3h-1zm0 23h1v1h-1zm0 3h1v1h-1zm0 35h1v2h-1zm0 7h1v1h-1zm0 3h1v1h-1zm0 2h1v1h-1zm1-88h1v2h-1zm0 11h1v3h-1zm0 19h1v3h-1zm0 4h1v1h-1zm0 9h1v1h-1zm0 3h1v1h-1zm0 2h1v2h-1zm0 4h1v1h-1zm0 3h1v1h-1zm0 2h1v2h-1zm0 5h1v1h-1zm0 4h1v5h-1zm0 12h1v2h-1zm0 4h1v1h-1zm0 5h1v2h-1zm0 4h1v1h-1zm2-95h1v1h-1zm0 12h1v1h-1zm0 4h1v1h-1zm0 3h1v1h-1zm0 3h1v1h-1zm0 51h1v1h-1zm0 22h1v1h-1zm2-100h1v1h-1zm0 7h1v1h-1zm0 2h1v1h-1zm0 5h1v1h-1zm0 3h1v3h-1zm0 18h1v1h-1zm0 3h1v1h-1zm0 15h1v1h-1zm0 7h1v1h-1zm0 2h1v1h-1zm0 3h1v1h-1zm0 6h1v2h-1zm2-69h1v2h-1zm0 8h1v1h-1zm0 6h1v1h-1zm0 3h1v1h-1zm0 12h1v1h-1zm0 11h1v1h-1zm0 2h1v1h-1zm0 26h1v2h-1zm1-63h1v1h-1zm0 15h1v1h-1zm0 2h1v1h-1zm0 12h1v1h-1zm0 2h1v1h-1zm0 3h1v1h-1zm0 13h1v1h-1zm0 10h1v2h-1zm2-52h1v2h-1zm0 11h1v1h-1zm0 10h1v1h-1zm0 15h1v1h-1zm0 8h1v1h-1zm1-47h1v1h-1zm0 6h1v1h-1zm0 2h1v1h-1zm0 6h1v1h-1zm0 3h1v2h-1zm0 6h1v2h-1zm0 15h1v1h-1zm0 2h1v1h-1zm1-35h1v1h-1zm0 4h1v1h-1zm0 9h1v1h-1zm0 8h1v3h-1zm0 63h1v1h-1zm0 5h1v1h-1zm2-96h1v3h-1zm0 5h1v1h-1zm0 48h1v1h-1zm0 2h1v2h-1zm0 5h1v1h-1zm0 7h1v1h-1zm0 3h1v1h-1zm0 9h1v1h-1zm0 10h1v2h-1zm2-82h1v1h-1zm0 16h1v2h-1zm0 6h1v1h-1zm0 10h1v2h-1zm0 19h1v1h-1zm0 3h1v1h-1zm0 3h1v1h-1zm0 3h1v1h-1zm0 9h1v1h-1zm0 4h1v1h-1zm0 4h1v2h-1zm0 5h1v1h-1zm0 3h1v1h-1zm1-100h1v1h-1zm0 11h1v1h-1zm0 2h1v1h-1zm0 10h1v1h-1zm0 5h1v1h-1zm0 20h1v1h-1zm0 4h1v2h-1zm0 12h1v1h-1zm0 30h1v1h-1zm1-93h1v2h-1zm0 3h1v1h-1zm0 6h1v1h-1zm0 9h1v2h-1zm0 14h1v1h-1zm0 6h1v1h-1zm0 2h1v1h-1zm0 4h1v1h-1zm0 2h1v1h-1zm0 11h1v1h-1zm0 3h1v1h-1zm0 10h1v1h-1zm0 2h1v1h-1zm0 4h1v1h-1zm0 8h1v1h-1zm0 2h1v1h-1zm0 6h1v1h-1zm1-73h1v1h-1zm0 27h1v1h-1zm0 3h1v1h-1zm0 20h1v3h-1zm0 27h1v1h-1zm0 5h1v2h-1zm1-102h1v1h-1zm0 26h1v1h-1zm0 2h1v1h-1zm0 4h1v1h-1zm0 12h1v1h-1zm0 8h1v1h-1zm0 16h1v1h-1zm0 8h1v1h-1zm0 2h1v2h-1zm0 6h1v1h-1zm0 15h1v1h-1zm2-95h1v1h-1zm0 3h1v1h-1zm0 2h1v2h-1zm0 6h1v1h-1zm0 13h1v1h-1zm0 2h1v1h-1zm0 7h1v1h-1zm0 6h1v1h-1zm0 29h1v1h-1zm0 3h1v1h-1zm0 5h1v1h-1zm0 2h1v1h-1zm0 10h1v1h-1zm1-61h1v1h-1zm0 7h1v1h-1zm0 5h1v1h-1zm0 42h1v2h-1zm0 3h1v1h-1zm0 9h1v1h-1zm0 3h1v1h-1zm1-89h1v1h-1zm0 8h1v1h-1zm0 3h1v1h-1zm0 6h1v1h-1zm0 7h1v3h-1zm0 6h1v1h-1zm0 4h1v1h-1zm0 28h1v1h-1zm0 6h1v2h-1zm0 13h1v1h-1zm0 3h1v1h-1zm0 5h1v1h-1zm0 4h1v1h-1zm1-93h1v1h-1zm0 4h1v1h-1zm0 7h1v1h-1zm0 7h1v1h-1zm0 2h1v1h-1zm0 13h1v1h-1zm0 10h1v1h-1zm0 25h1v1h-1zm0 4h1v1h-1zm0 11h1v2h-1zm0 3h1v1h-1zm0 3h1v1h-1zm0 2h1v1h-1zm1-98h1v1h-1zm0 2h1v1h-1zm0 12h1v1h-1zm0 3h1v1h-1zm0 23h1v1h-1zm0 7h1v1h-1zm0 29h1v1h-1zm0 12h1v1h-1zm0 5h1v1h-1zm1-73h1v1h-1zm0 4h1v1h-1zm0 11h1v1h-1zm0 3h1v1h-1zm0 5h1v1h-1zm0 4h1v1h-1zm0 10h1v1h-1zm0 13h1v1h-1zm0 4h1v1h-1zm0 6h1v1h-1zm0 7h1v1h-1zm0 7h1v2h-1zm0 5h1v1h-1zm1-101h1v1h-1zm0 2h1v1h-1zm0 4h1v1h-1zm0 10h1v1h-1zm0 6h1v1h-1zm0 6h1v1h-1zm0 25h1v1h-1zm0 17h1v1h-1zm0 2h1v1h-1zm0 2h1v1h-1zm0 3h1v1h-1zm0 9h1v1h-1zm0 2h1v1h-1zm0 6h1v2h-1zm1-94h1v1h-1zm0 3h1v1h-1zm0 8h1v1h-1zm0 20h1v1h-1zm0 2h1v1h-1zm0 5h1v1h-1zm0 49h1v1h-1zm0 12h1v1h-1zm2-100h1v1h-1zm0 2h1v1h-1zm0 8h1v3h-1zm0 12h1v1h-1zm0 12h1v2h-1zm0 24h1v1h-1zm0 32h1v1h-1zm0 6h1v1h-1zm0 4h1v1h-1zm1-93h1v1h-1zm0 2h1v1h-1zm0 13h1v1h-1zm0 4h1v1h-1zm0 4h1v1h-1zm0 2h1v1h-1zm0 49h1v1h-1zm0 9h1v1h-1zm0 3h1v1h-1zm0 5h1v1h-1zm1-93h1v1h-1zm0 10h1v1h-1zm0 2h1v2h-1zm0 8h1v1h-1zm0 12h1v1h-1zm0 2h1v1h-1zm0 4h1v2h-1zm0 12h1v1h-1zm0 5h1v1h-1zm0 22h1v2h-1zm0 7h1v1h-1zm0 2h1v1h-1zm0 5h1v1h-1zm0 2h1v1h-1zm1-79h1v1h-1zm0 10h1v2h-1zm0 3h1v1h-1zm0 14h1v1h-1zm0 6h1v1h-1zm0 18h1v1h-1zm0 2h1v2h-1zm1-69h1v1h-1zm0 20h1v2h-1zm0 12h1v1h-1zm0 8h1v1h-1zm0 5h1v1h-1zm0 6h1v1h-1zm0 9h1v1h-1zm0 35h1v1h-1zm1-93h1v1h-1zm0 4h1v2h-1zm0 5h1v1h-1zm0 6h1v1h-1zm0 55h1v1h-1zm1-70h1v2h-1zm0 3h1v1h-1zm0 14h1v1h-1zm0 7h1v1h-1zm0 3h1v1h-1zm0 18h1v1h-1zm0 21h1v1h-1zm0 3h1v1h-1zm0 2h1v1h-1zm0 25h1v2h-1zm2-94h1v2h-1zm0 4h1v1h-1zm0 8h1v1h-1zm0 2h1v2h-1zm0 6h1v1h-1zm0 6h1v1h-1zm0 21h1v1h-1zm0 13h1v1h-1zm0 19h1v1h-1zm1-84h1v1h-1zm0 5h1v1h-1zm0 12h1v1h-1zm0 2h1v3h-1zm0 13h1v1h-1zm0 4h1v1h-1zm0 34h1v1h-1zm0 7h1v1h-1zm0 18h1v1h-1zm0 3h1v1h-1zm1-96h1v1h-1zm0 8h1v2h-1zm0 7h1v1h-1zm0 4h1v1h-1zm0 5h1v2h-1zm0 9h1v2h-1zm0 18h1v3h-1zm0 12h1v1h-1zm0 9h1v1h-1zm1-70h1v1h-1zm0 9h1v1h-1zm0 5h1v1h-1zm0 19h1v1h-1zm0 6h1v1h-1zm0 4h1v1h-1zm0 5h1v1h-1zm0 13h1v1h-1zm0 9h1v1h-1zm0 9h1v1h-1zm0 3h1v2h-1zm0 3h1v1h-1zm1-86h1v1h-1zm0 4h1v2h-1zm0 14h1v1h-1zm0 23h1v1h-1zm0 9h1v1h-1zm0 18h1v1h-1zm0 12h1v1h-1zm0 8h1v1h-1zm0 3h1v2h-1zm0 5h1v1h-1zm1-86h1v2h-1zm0 17h1v2h-1zm0 35h1v2h-1zm0 5h1v1h-1zm0 7h1v1h-1zm0 21h1v1h-1zm1-101h1v1h-1zm0 28h1v1h-1zm0 16h1v1h-1zm0 35h1v1h-1zm0 5h1v2h-1zm0 16h1v2h-1zm0 3h1v1h-1zm2-90h1v1h-1zm0 9h1v2h-1zm0 16h1v2h-1zm0 11h1v1h-1zm0 18h1v1h-1zm0 8h1v1h-1zm0 27h1v1h-1zm1-98h1v1h-1zm0 9h1v1h-1zm0 12h1v1h-1zm0 9h1v1h-1zm0 6h1v1h-1zm0 6h1v1h-1zm0 2h1v1h-1zm0 8h1v1h-1zm0 4h1v2h-1zm0 9h1v1h-1zm0 29h1v1h-1zm0 3h1v1h-1zm1-98h1v1h-1zm0 10h1v1h-1zm0 7h1v1h-1zm0 3h1v1h-1zm0 4h1v1h-1zm0 2h1v2h-1zm0 10h1v1h-1zm0 18h1v2h-1zm0 3h1v1h-1zm0 6h1v2h-1zm0 3h1v1h-1zm0 12h1v1h-1zm0 6h1v1h-1zm0 6h1v2h-1zm0 5h1v1h-1zm2-97h1v2h-1zm0 9h1v1h-1zm0 2h1v1h-1zm0 27h1v2h-1zm0 3h1v1h-1zm0 4h1v1h-1zm0 9h1v1h-1zm0 26h1v2h-1zm0 3h1v1h-1zm0 2h1v2h-1zm0 12h1v1h-1zm1-97h1v1h-1zm0 2h1v1h-1zm0 4h1v1h-1zm0 16h1v3h-1zm0 6h1v1h-1zm0 11h1v1h-1zm0 3h1v1h-1zm0 10h1v2h-1zm0 3h1v1h-1zm0 7h1v1h-1zm0 5h1v1h-1zm0 17h1v1h-1zm0 5h1v1h-1zm0 9h1v3h-1zm1-99h1v1h-1zm0 7h1v1h-1zm0 3h1v1h-1zm0 2h1v1h-1zm0 5h1v2h-1zm0 5h1v1h-1zm0 3h1v1h-1zm0 4h1v2h-1zm0 12h1v1h-1zm0 3h1v1h-1zm0 6h1v1h-1zm0 7h1v1h-1zm0 4h1v2h-1zm0 27h1v1h-1zm0 7h1v1h-1zm1-92h1v1h-1zm0 6h1v1h-1zm0 9h1v1h-1zm0 10h1v1h-1zm0 8h1v1h-1zm0 6h1v2h-1zm0 4h1v1h-1zm0 7h1v1h-1zm0 5h1v1h-1zm0 5h1v1h-1zm0 16h1v1h-1zm0 15h1v1h-1zm0 7h1v1h-1zm1-100h1v1h-1zm0 14h1v1h-1zm0 6h1v2h-1zm0 7h1v1h-1zm0 24h1v1h-1zm0 2h1v1h-1zm0 7h1v1h-1zm0 8h1v1h-1zm0 14h1v2h-1zm0 7h1v1h-1zm0 2h1v1h-1zm0 2h1v1h-1zm0 4h1v1h-1zm1-70h1v1h-1zm0 14h1v1h-1zm0 11h1v3h-1zm0 11h1v1h-1zm0 4h1v1h-1zm0 4h1v2h-1zm1-67h1v2h-1zm0 4h1v1h-1zm0 4h1v1h-1zm0 8h1v1h-1zm0 4h1v1h-1zm0 15h1v2h-1zm0 4h1v1h-1zm0 19h1v1h-1zm0 21h1v1h-1zm0 17h1v1h-1zm1-87h1v1h-1zm0 11h1v1h-1zm0 20h1v1h-1zm0 9h1v1h-1zm0 27h1v1h-1zm0 8h1v1h-1zm0 13h1v1h-1zm1-102h1v1h-1zm0 3h1v2h-1zm0 7h1v1h-1zm0 2h1v2h-1zm0 29h1v1h-1zm0 11h1v1h-1zm0 2h1v1h-1zm0 2h1v1h-1zm0 2h1v1h-1zm0 27h1v1h-1zm0 7h1v2h-1zm0 6h1v1h-1zm1-94h1v1h-1zm0 2h1v2h-1zm0 36h1v1h-1zm0 3h1v1h-1zm0 4h1v2h-1zm0 10h1v2h-1zm0 4h1v1h-1zm0 22h1v1h-1zm0 2h1v1h-1zm0 5h1v1h-1zm1-82h1v1h-1zm0 2h1v2h-1zm0 18h1v1h-1zm0 2h1v1h-1zm0 2h1v1h-1zm0 4h1v1h-1zm0 12h1v1h-1zm0 15h1v1h-1zm0 5h1v1h-1zm1-65h1v2h-1zm0 6h1v1h-1zm0 4h1v1h-1zm1-9h1v1h-1zm0 6h1v2h-1zm0 3h1v1h-1zm1-11h1v1h-1zm0 2h1v1h-1zm0 11h1v1h-1zm1-16h1v1h-1zm0 9h1v1h-1zm0 2h1v3h-1zm0 38h1v1h-1zm0 20h1v1h-1zm0 4h1v1h-1zm0 27h1v2h-1zm0 4h1v1h-1zm4-100h1v1h-1zm0 5h1v1h-1zm0 10h1v1h-1zm0 23h1v2h-1zm0 6h1v1h-1zm0 3h1v1h-1zm0 24h1v1h-1zm0 6h1v1h-1zm0 3h1v1h-1zm0 14h1v1h-1zm1-96h1v1h-1zm0 10h1v1h-1zm0 2h1v2h-1zm0 11h1v1h-1zm0 15h1v1h-1zm0 4h1v1h-1zm0 21h1v1h-1zm0 20h1v1h-1zm0 13h1v2h-1zm1-85h1v2h-1zm0 4h1v1h-1zm0 23h1v1h-1zm0 4h1v1h-1zm0 2h1v1h-1zm0 15h1v1h-1zm0 2h1v3h-1zm0 14h1v1h-1zm0 14h1v1h-1zm1-91h1v1h-1zm0 44h1v1h-1zm0 2h1v1h-1zm0 4h1v1h-1zm0 23h1v1h-1zm0 23h1v1h-1zm1-97h1v1h-1zm0 7h1v1h-1zm0 3h1v1h-1zm0 4h1v1h-1zm0 3h1v1h-1zm0 11h1v1h-1zm0 5h1v2h-1zm0 9h1v1h-1zm0 6h1v1h-1zm0 43h1v1h-1zm0 6h1v1h-1zm1-92h1v2h-1zm0 6h1v1h-1zm0 2h1v2h-1zm0 4h1v1h-1zm0 14h1v1h-1zm0 9h1v1h-1zm0 11h1v1h-1zm0 2h1v1h-1zm2-47h1v1h-1zm0 5h1v1h-1zm0 5h1v1h-1zm0 10h1v1h-1zm0 2h1v1h-1zm0 15h1v2h-1zm0 3h1v1h-1zm0 5h1v1h-1zm0 12h1v1h-1zm0 2h1v1h-1zm0 7h1v1h-1zm0 2h1v1h-1zm0 5h1v1h-1zm2-73h1v1h-1zm0 12h1v1h-1zm0 13h1v1h-1zm0 3h1v1h-1zm0 8h1v1h-1zm0 5h1v1h-1zm0 4h1v1h-1zm0 15h1v1h-1zm0 15h1v1h-1zm0 5h1v1h-1zm0 8h1v1h-1zm1-94h1v1h-1zm0 2h1v1h-1zm0 3h1v1h-1zm0 12h1v1h-1zm0 17h1v1h-1zm0 5h1v1h-1zm0 4h1v1h-1zm0 5h1v1h-1zm0 9h1v1h-1zm0 6h1v1h-1zm0 8h1v1h-1zm0 10h1v2h-1zm0 4h1v1h-1zm1-84h1v1h-1zm0 15h1v1h-1zm0 2h1v1h-1zm0 2h1v1h-1zm0 10h1v1h-1zm0 4h1v1h-1zm0 15h1v1h-1zm0 13h1v1h-1zm0 18h1v1h-1zm0 15h1v1h-1zm1-79h1v1h-1zm0 2h1v1h-1zm0 31h1v1h-1zm0 6h1v1h-1zm0 4h1v1h-1zm0 15h1v1h-1zm0 3h1v1h-1zm1-68h1v2h-1zm0 17h1v2h-1zm0 7h1v1h-1zm0 14h1v2h-1zm0 21h1v1h-1zm0 2h1v1h-1zm1-66h1v1h-1zm0 5h1v2h-1zm0 5h1v1h-1zm0 3h1v1h-1zm0 9h1v1h-1zm0 22h1v1h-1zm0 4h1v1h-1zm0 3h1v1h-1zm0 3h1v1h-1zm0 2h1v1h-1zm0 4h1v1h-1zm0 2h1v1h-1zm0 26h1v1h-1zm1-90h1v1h-1zm0 4h1v1h-1zm0 10h1v1h-1zm0 5h1v1h-1zm0 4h1v1h-1zm0 23h1v1h-1zm0 27h1v1h-1zm0 2h1v2h-1zm0 5h1v1h-1zm0 2h1v2h-1zm1-81h1v1h-1zm0 8h1v1h-1zm0 2h1v1h-1zm0 27h1v1h-1zm0 22h1v1h-1zm0 15h1v1h-1zm0 2h1v1h-1zm0 8h1v1h-1zm1-85h1v1h-1zm0 2h1v1h-1zm0 5h1v1h-1zm0 2h1v1h-1zm0 3h1v1h-1zm0 28h1v1h-1zm0 12h1v1h-1zm0 5h1v1h-1zm0 2h1v2h-1zm0 14h1v1h-1zm0 13h1v1h-1zm2-88h1v1h-1zm0 7h1v1h-1zm0 25h1v1h-1zm0 5h1v1h-1zm0 18h1v1h-1zm0 4h1v1h-1zm0 3h1v1h-1zm0 13h1v1h-1zm0 4h1v1h-1zm0 8h1v1h-1zm1-66h1v1h-1zm0 2h1v1h-1zm0 9h1v1h-1zm0 20h1v1h-1zm0 10h1v1h-1zm0 14h1v1h-1zm0 2h1v1h-1zm0 2h1v1h-1zm1-73h1v3h-1zm0 8h1v1h-1zm0 8h1v2h-1zm0 15h1v1h-1zm0 6h1v1h-1zm0 4h1v2h-1zm0 5h1v1h-1zm0 4h1v1h-1zm0 6h1v1h-1zm0 16h1v1h-1zm1-79h1v1h-1zm0 4h1v1h-1zm0 4h1v1h-1zm0 4h1v1h-1zm0 4h1v1h-1zm0 3h1v1h-1zm0 13h1v1h-1zm0 12h1v1h-1zm0 6h1v1h-1zm0 27h1v1h-1zm0 3h1v3h-1zm0 14h1v1h-1zm1-77h1v1h-1zm0 11h1v1h-1zm0 20h1v1h-1zm0 7h1v1h-1zm0 6h1v1h-1zm0 10h1v1h-1zm0 5h1v1h-1zm0 8h1v1h-1zm0 16h1v1h-1zm0 2h1v1h-1zm1-91h1v1h-1zm0 34h1v1h-1zm0 5h1v2h-1zm0 6h1v1h-1zm0 24h1v2h-1zm0 19h1v1h-1zm1-90h1v2h-1zm0 4h1v1h-1zm0 10h1v1h-1zm0 2h1v1h-1zm0 4h1v1h-1zm0 12h1v1h-1zm0 2h1v1h-1zm0 3h1v1h-1zm0 4h1v1h-1zm0 4h1v1h-1zm0 8h1v1h-1zm0 14h1v1h-1zm0 12h1v1h-1zm0 8h1v1h-1zm1-93h1v1h-1zm0 19h1v1h-1zm0 7h1v1h-1zm0 24h1v1h-1zm0 2h1v1h-1zm0 2h1v1h-1zm0 4h1v2h-1zm0 12h1v1h-1zm0 7h1v1h-1zm0 4h1v1h-1zm0 2h1v3h-1zm0 8h1v1h-1zm0 3h1v2h-1zm1-84h1v2h-1zm0 9h1v1h-1zm0 16h1v1h-1zm0 12h1v1h-1zm0 8h1v1h-1zm0 4h1v1h-1zm0 19h1v1h-1zm0 7h1v1h-1zm0 2h1v1h-1zm0 2h1v2h-1zm3-89h1v1h-1zm0 7h1v1h-1zm0 2h1v2h-1zm0 12h1v1h-1zm0 9h1v1h-1zm0 4h1v1h-1zm0 5h1v1h-1zm0 10h1v1h-1zm0 2h1v1h-1zm0 2h1v1h-1zm0 12h1v1h-1zm0 2h1v1h-1zm0 7h1v1h-1zm0 18h1v2h-1zm0 3h1v1h-1zm1-82h1v1h-1zm0 7h1v1h-1zm0 21h1v2h-1zm0 26h1v1h-1zm0 3h1v1h-1zm0 17h1v1h-1zm0 3h1v1h-1zm0 9h1v1h-1zm1-96h1v2h-1zm0 26h1v1h-1zm0 17h1v2h-1zm0 15h1v1h-1zm0 2h1v1h-1zm0 10h1v1h-1zm0 14h1v1h-1zm1-86h1v2h-1zm0 6h1v1h-1zm0 5h1v2h-1zm0 9h1v1h-1zm0 11h1v1h-1zm0 16h1v1h-1zm0 11h1v1h-1zm0 17h1v1h-1zm0 3h1v1h-1zm0 11h1v1h-1zm0 7h1v1h-1zm1-91h1v1h-1zm0 6h1v1h-1zm0 18h1v3h-1zm0 17h1v1h-1zm0 8h1v2h-1zm0 15h1v1h-1zm0 5h1v1h-1zm0 15h1v1h-1zm1-82h1v1h-1zm0 6h1v1h-1zm0 8h1v1h-1zm0 13h1v1h-1zm0 9h1v1h-1zm0 19h1v1h-1zm0 17h1v1h-1zm0 10h1v4h-1zm1-83h1v1h-1zm0 37h1v1h-1zm0 9h1v1h-1zm0 3h1v2h-1zm0 11h1v1h-1zm0 6h1v2h-1zm0 12h1v1h-1zm0 3h1v1h-1zm1-86h1v3h-1zm0 6h1v1h-1zm0 14h1v1h-1zm0 17h1v1h-1zm0 15h1v1h-1zm0 4h1v1h-1zm0 22h1v1h-1zm0 11h1v1h-1zm0 3h1v2h-1zm1-75h1v1h-1zm0 8h1v1h-1zm0 3h1v1h-1zm0 4h1v1h-1zm0 2h1v1h-1zm0 14h1v1h-1zm0 14h1v2h-1zm0 4h1v1h-1zm0 7h1v1h-1zm0 22h1v1h-1zm0 2h1v1h-1zm1-85h1v2h-1zm0 19h1v1h-1zm0 2h1v1h-1zm0 4h1v1h-1zm0 4h1v1h-1zm0 6h1v1h-1zm0 24h1v1h-1zm1-73h1v1h-1zm0 21h1v1h-1zm0 6h1v1h-1zm0 3h1v1h-1zm0 27h1v1h-1zm0 4h1v1h-1zm0 2h1v1h-1zm0 6h1v1h-1zm1-61h1v2h-1zm0 4h1v1h-1zm0 10h1v1h-1zm0 5h1v1h-1zm0 12h1v1h-1zm0 5h1v2h-1zm0 5h1v1h-1zm0 9h1v1h-1zm0 2h1v1h-1zm0 8h1v1h-1zm0 2h1v1h-1zm0 4h1v1h-1zm1-77h1v1h-1zm0 8h1v2h-1zm0 5h1v1h-1zm0 3h1v1h-1zm0 22h1v2h-1zm0 23h1v1h-1zm0 4h1v1h-1zm0 4h1v1h-1zm0 14h1v1h-1zm0 4h1v1h-1zm0 7h1v1h-1zm1-85h1v2h-1zm0 9h1v1h-1zm0 9h1v1h-1zm0 12h1v1h-1zm0 6h1v1h-1zm0 20h1v1h-1zm0 4h1v1h-1zm0 13h1v1h-1zm1-81h1v1h-1zm0 5h1v2h-1zm0 3h1v1h-1zm0 13h1v2h-1zm0 5h1v2h-1zm0 11h1v1h-1zm0 5h1v1h-1zm0 3h1v1h-1zm0 4h1v1h-1zm0 2h1v2h-1zm0 3h1v1h-1zm0 15h1v2h-1zm0 19h1v1h-1zm0 2h1v2h-1zm2-89h1v1h-1zm0 6h1v1h-1zm0 23h1v1h-1zm0 12h1v2h-1zm0 8h1v1h-1zm0 13h1v1h-1zm0 3h1v1h-1zm3-67h1v2h-1zm0 3h1v1h-1zm0 2h1v2h-1zm0 3h1v1h-1zm0 17h1v1h-1zm1-20h1v1h-1zm0 2h1v1h-1zm0 3h1v1h-1zm0 6h1v1h-1zm0 88h1v1h-1zm1-92h1v1h-1zm1 1h1v1h-1zm0 66h1v3h-1zm0 5h1v1h-1zm0 2h1v1h-1zm1-80h1v1h-1zm0 66h1v2h-1zm0 18h1v1h-1zm1-81h1v1h-1zm0 6h1v1h-1zm0 21h1v1h-1zm0 4h1v1h-1zm0 10h1v1h-1zm0 15h1v1h-1zm0 10h1v1h-1zm0 3h1v1h-1zm0 7h1v1h-1zm0 6h1v1h-1zm1-91h1v1h-1zm0 15h1v1h-1zm0 3h1v1h-1zm0 9h1v1h-1zm0 5h1v1h-1zm0 13h1v1h-1zm0 16h1v2h-1zm0 5h1v1h-1zm0 8h1v1h-1zm0 13h1v2h-1zm1-84h1v1h-1zm0 3h1v1h-1zm0 2h1v1h-1zm0 12h1v3h-1zm0 18h1v1h-1zm0 5h1v1h-1zm0 2h1v1h-1zm0 6h1v1h-1zm0 7h1v1h-1zm0 4h1v2h-1zm0 9h1v1h-1zm0 3h1v1h-1zm0 2h1v1h-1zm0 7h1v1h-1zm0 10h1v1h-1zm1-53h1v2h-1zm0 6h1v1h-1zm0 11h1v1h-1zm0 16h1v1h-1zm0 11h1v1h-1zm1-81h1v1h-1zm0 10h1v1h-1zm0 19h1v1h-1zm0 49h1v1h-1zm1-60h1v1h-1zm0 15h1v1h-1zm1-32h1v1h-1zm0 7h1v1h-1zm0 5h1v1h-1zm0 34h1v1h-1zm0 15h1v1h-1zm0 2h1v1h-1zm0 9h1v1h-1zm0 5h1v1h-1zm0 2h1v1h-1zm1-69h1v1h-1zm0 3h1v1h-1zm0 18h1v1h-1zm0 6h1v1h-1zm0 4h1v1h-1zm0 6h1v1h-1zm0 3h1v1h-1zm0 3h1v1h-1zm0 2h1v1h-1zm0 3h1v1h-1zm0 2h1v1h-1zm0 8h1v1h-1zm0 2h1v1h-1zm0 3h1v1h-1zm0 2h1v1h-1zm0 6h1v1h-1zm1-82h1v1h-1zm0 2h1v5h-1zm0 7h1v1h-1zm0 10h1v1h-1zm0 15h1v1h-1zm0 30h1v1h-1zm0 2h1v1h-1zm0 10h1v1h-1zm1-79h1v1h-1zm0 17h1v1h-1zm0 17h1v1h-1zm0 11h1v1h-1zm0 6h1v1h-1zm0 5h1v1h-1zm0 12h1v1h-1zm0 12h1v2h-1zm0 3h1v1h-1zm1-78h1v1h-1zm0 13h1v2h-1zm0 22h1v1h-1zm0 2h1v1h-1zm0 20h1v1h-1zm0 5h1v1h-1zm0 2h1v1h-1zm0 12h1v1h-1zm1-81h1v1h-1zm0 21h1v1h-1zm0 23h1v1h-1zm0 38h1v1h-1zm0 3h1v1h-1zm0 3h1v1h-1zm1-77h1v1h-1zm0 4h1v1h-1zm0 6h1v1h-1zm0 4h1v1h-1zm0 53h1v1h-1zm1-78h1v1h-1zm0 20h1v1h-1zm0 2h1v1h-1zm0 10h1v1h-1zm0 15h1v2h-1zm1-35h1v1h-1zm0 9h1v1h-1zm1-1h1v2h-1zm2 74h1v1h-1zm1-94h1v1h-1zm2 34h1v1h-1zm0 3h1v1h-1zm1-31h1v1h-1zm0 22h1v1h-1zm0 3h1v1h-1zm0 2h1v1h-1zm0 3h1v1h-1zm0 2h1v1h-1zm0 3h1v1h-1zm0 3h1v1h-1zm0 2h1v1h-1zm0 26h1v1h-1zm0 5h1v1h-1zm0 7h1v2h-1zm0 5h1v1h-1zm2-88h1v3h-1zm0 35h1v2h-1zm0 8h1v1h-1zm0 6h1v1h-1zm0 5h1v1h-1zm0 8h1v3h-1zm0 7h1v1h-1zm0 4h1v1h-1zm0 2h1v3h-1zm0 6h1v1h-1zm0 8h1v1h-1zm0 5h1v1h-1zm1-94h1v1h-1zm0 2h1v1h-1zm0 9h1v1h-1zm0 2h1v1h-1zm0 8h1v1h-1zm0 2h1v1h-1zm0 5h1v1h-1zm0 3h1v2h-1zm0 18h1v1h-1zm0 10h1v1h-1zm0 6h1v2h-1zm0 12h1v1h-1zm0 12h1v3h-1zm0 6h1v1h-1zm3-67h1v1h-1zm0 11h1v1h-1zm1-28h1v2h-1zm0 5h1v2h-1zm0 41h1v1h-1zm0 6h1v3h-1zm0 28h1v1h-1zm2-90h1v1h-1zm0 3h1v1h-1zm0 2h1v1h-1zm0 2h1v1h-1zm0 12h1v1h-1zm0 5h1v1h-1zm0 8h1v1h-1zm0 6h1v1h-1zm0 3h1v2h-1zm0 3h1v1h-1zm0 13h1v1h-1zm0 7h1v1h-1zm0 3h1v1h-1zm0 5h1v1h-1zm2-51h1v1h-1zm0 34h1v1h-1zm4 19h1v1h-1zm0 13h1v1h-1zm1-82h1v1h-1zm0 10h1v1h-1zm0 5h1v1h-1zm0 6h1v2h-1zm0 3h1v1h-1zm0 9h1v1h-1zm0 2h1v1h-1zm0 7h1v1h-1zm0 16h1v1h-1zm0 9h1v2h-1zm0 5h1v2h-1zm0 8h1v1h-1zm0 2h1v2h-1zm0 3h1v1h-1zm1-87h1v1h-1zm0 10h1v1h-1zm0 6h1v1h-1zm0 14h1v4h-1zm0 9h1v1h-1zm0 3h1v1h-1zm0 3h1v1h-1zm0 4h1v1h-1zm0 6h1v1h-1zm0 22h1v1h-1zm1-82h1v1h-1zm0 14h1v1h-1zm0 40h1v1h-1zm0 33h1v1h-1zm1-76h1v1h-1zm0 12h1v1h-1zm0 6h1v1h-1zm0 25h1v1h-1zm0 9h1v1h-1zm0 3h1v1h-1zm0 9h1v2h-1zm0 12h1v1h-1zm0 5h1v1h-1zm0 3h1v1h-1zm1-74h1v2h-1zm0 25h1v2h-1zm0 3h1v1h-1zm0 6h1v1h-1zm0 12h1v1h-1zm0 3h1v1h-1zm0 2h1v1h-1zm0 4h1v1h-1zm0 9h1v1h-1zm1-84h1v1h-1zm0 11h1v1h-1zm0 11h1v1h-1zm0 9h1v1h-1zm0 7h1v1h-1zm0 20h1v1h-1zm0 7h1v1h-1zm0 2h1v1h-1zm0 19h1v1h-1zm1-81h1v3h-1zm0 7h1v1h-1zm0 7h1v1h-1zm0 11h1v1h-1zm0 11h1v1h-1zm0 25h1v1h-1zm0 16h1v1h-1zm0 12h1v1h-1zm1-78h1v1h-1zm0 36h1v1h-1zm0 34h1v1h-1zm1-73h1v1h-1zm0 6h1v1h-1zm0 3h1v1h-1zm0 4h1v2h-1zm0 28h1v1h-1zm0 11h1v2h-1zm0 7h1v1h-1zm0 17h1v1h-1zm0 6h1v1h-1zm2-85h1v2h-1zm0 10h1v1h-1zm0 14h1v1h-1zm0 2h1v1h-1zm0 2h1v3h-1zm0 14h1v1h-1zm0 4h1v1h-1zm0 14h1v1h-1zm0 3h1v1h-1zm0 3h1v2h-1zm0 3h1v1h-1zm1-77h1v1h-1zm0 6h1v1h-1zm0 23h1v1h-1zm0 43h1v1h-1zm0 4h1v1h-1zm0 2h1v1h-1zm1-75h1v1h-1zm0 15h1v2h-1zm0 3h1v1h-1zm0 10h1v1h-1zm0 5h1v1h-1zm0 13h1v1h-1zm0 3h1v1h-1zm0 2h1v1h-1zm0 3h1v1h-1zm0 6h1v1h-1zm2-66h1v1h-1zm0 35h1v1h-1zm0 17h1v1h-1zm0 27h1v1h-1zm0 13h1v1h-1zm0 4h1v1h-1zm1-92h1v1h-1zm0 8h1v1h-1zm0 13h1v1h-1zm0 2h1v1h-1zm0 9h1v1h-1zm0 7h1v1h-1zm0 31h1v2h-1zm0 5h1v2h-1zm1-51h1v1h-1zm0 15h1v1h-1zm0 7h1v1h-1zm0 3h1v1h-1zm0 14h1v1h-1zm0 6h1v1h-1zm1-69h1v1h-1zm0 62h1v1h-1zm1-48h1v1h-1zm1-6h1v1h-1zm0 53h1v1h-1zm0 21h1v1h-1zm2-83h1v2h-1zm0 7h1v1h-1zm0 10h1v1h-1zm0 7h1v1h-1zm0 6h1v1h-1zm0 2h1v1h-1zm0 3h1v1h-1zm0 7h1v1h-1zm0 6h1v1h-1zm0 14h1v1h-1zm0 3h1v1h-1zm0 3h1v1h-1zm0 6h1v1h-1zm0 3h1v1h-1zm0 4h1v1h-1zm0 3h1v1h-1zm0 4h1v1h-1zm0 2h1v1h-1zm1-90h1v1h-1zm0 51h1v1h-1zm1 19h1v1h-1zm1-20h1v1h-1zm1 24h1v1h-1zm0 5h1v1h-1zm3-81h1v1h-1zm0 8h1v1h-1zm0 16h1v1h-1zm0 18h1v2h-1zm0 17h1v1h-1zm0 22h1v1h-1zm1-55h1v1h-1zm0 2h1v1h-1zm0 11h1v1h-1zm0 5h1v1h-1zm0 4h1v1h-1zm0 3h1v1h-1zm0 27h1v2h-1zm0 11h1v2h-1zm1-89h1v1h-1zm0 5h1v1h-1zm0 4h1v2h-1zm0 50h1v3h-1zm0 31h1v1h-1zm1-91h1v1h-1zm0 10h1v2h-1zm0 15h1v1h-1zm0 2h1v1h-1zm0 4h1v1h-1zm0 13h1v1h-1zm0 22h1v1h-1zm0 3h1v1h-1zm0 4h1v1h-1zm0 15h1v2h-1zm1-87h1v1h-1zm0 15h1v1h-1zm0 3h1v1h-1zm0 8h1v1h-1zm0 5h1v1h-1zm0 3h1v1h-1zm0 3h1v1h-1zm0 12h1v2h-1zm0 14h1v2h-1zm0 4h1v1h-1zm0 3h1v1h-1zm0 12h1v1h-1zm0 2h1v1h-1zm0 5h1v2h-1zm2-82h1v1h-1zm0 8h1v1h-1zm0 12h1v1h-1zm0 7h1v1h-1zm0 9h1v1h-1zm0 9h1v2h-1zm0 16h1v1h-1zm0 2h1v1h-1zm0 11h1v1h-1zm1-73h1v1h-1zm0 27h1v1h-1zm0 15h1v1h-1zm0 2h1v1h-1zm0 10h1v1h-1zm0 13h1v1h-1zm1-73h1v1h-1zm0 11h1v1h-1zm0 38h1v1h-1zm0 25h1v1h-1zm0 18h1v1h-1zm1-91h1v1h-1zm0 4h1v1h-1zm0 7h1v1h-1zm0 12h1v2h-1zm0 36h1v1h-1zm0 25h1v1h-1zm1-80h1v1h-1zm1 19h1v1h-1zm1-5h1v1h-1zm0 3h1v2h-1zm0 16h1v1h-1zm0 33h1v2h-1zm0 13h1v1h-1zm0 8h1v1h-1zm1-95h1v2h-1zm0 9h1v1h-1zm0 4h1v1h-1zm0 33h1v1h-1zm0 2h1v1h-1zm0 3h1v1h-1zm0 26h1v2h-1zm0 5h1v1h-1zm0 4h1v2h-1zm1-76h1v1h-1zm0 7h1v1h-1zm0 4h1v2h-1zm0 10h1v1h-1zm0 19h1v1h-1zm1-13h1v2h-1zm0 4h1v1h-1zm0 13h1v1h-1zm0 26h1v1h-1zm1-66h1v1h-1zm0 20h1v1h-1zm0 18h1v1h-1zm0 25h1v1h-1zm1-58h1v1h-1zm1-14h1v1h-1zm1-3h1v1h-1zm1 21h1v1h-1zm0 71h1v1h-1zm1-27h1v1h-1zm1-24h1v1h-1z"/><path fill="#5dcd72" d="M0 1h1v1h-1zm0 8h1v1h-1zm0 5h1v3h-1zm0 6h1v1h-1zm0 4h1v2h-1zm0 4h1v2h-1zm0 3h1v1h-1zm0 27h1v1h-1zm0 4h1v1h-1zm0 2h1v1h-1zm0 3h1v2h-1zm0 5h1v1h-1zm0 7h1v1h-1zm0 6h1v2h-1zm0 4h1v2h-1zm0 3h1v1h-1zm0 2h1v1h-1zm0 3h1v2h-1zm0 4h1v1h-1zm1-56h1v1h-1zm0 25h1v1h-1zm1-37h1v1h-1zm0 2h1v3h-1zm0 66h1v1h-1zm1-89h1v1h-1zm0 4h1v1h-1zm0 5h1v1h-1zm0 4h1v1h-1zm0 2h1v1h-1zm0 17h1v1h-1zm0 40h1v1h-1zm0 7h1v1h-1zm0 6h1v1h-1zm0 4h1v1h-1zm1-71h1v1h-1zm0 12h1v1h-1zm0 5h1v1h-1zm0 2h1v1h-1zm0 2h1v1h-1zm0 2h1v2h-1zm0 4h1v2h-1zm0 3h1v1h-1zm0 13h1v1h-1zm0 20h1v1h-1zm0 6h1v1h-1zm1-86h1v2h-1zm0 5h1v2h-1zm0 40h1v1h-1zm0 11h1v1h-1zm2-14h1v2h-1zm0 46h1v1h-1zm1-81h1v2h-1zm0 65h1v1h-1zm0 6h1v1h-1zm1-88h1v1h-1zm0 2h1v1h-1zm0 3h1v1h-1zm0 7h1v1h-1zm0 6h1v1h-1zm0 2h1v1h-1zm0 2h1v1h-1zm0 17h1v1h-1zm0 5h1v3h-1zm0 8h1v1h-1zm0 2h1v1h-1zm0 7h1v5h-1zm0 6h1v1h-1zm0 3h1v1h-1zm0 20h1v1h-1zm1-91h1v2h-1zm0 7h1v1h-1zm0 2h1v1h-1zm0 16h1v3h-1zm0 12h1v1h-1zm0 10h1v1h-1zm0 7h1v1h-1zm0 2h1v1h-1zm0 3h1v1h-1zm0 4h1v1h-1zm0 10h1v1h-1zm0 2h1v2h-1zm0 3h1v1h-1zm0 7h1v1h-1zm0 2h1v1h-1zm1-82h1v1h-1zm0 3h1v1h-1zm0 65h1v2h-1zm0 3h1v1h-1zm0 2h1v2h-1zm0 4h1v1h-1zm0 2h1v2h-1zm1-69h1v1h-1zm0 7h1v2h-1zm0 4h1v1h-1zm0 16h1v1h-1zm0 2h1v1h-1zm0 18h1v1h-1zm0 9h1v3h-1zm0 9h1v1h-1zm0 4h1v1h-1zm0 6h1v1h-1zm0 2h1v1h-1zm0 3h1v1h-1zm0 3h1v1h-1zm1-98h1v2h-1zm0 5h1v2h-1zm0 7h1v1h-1zm0 2h1v1h-1zm0 3h1v1h-1zm0 5h1v2h-1zm0 3h1v3h-1zm0 10h1v1h-1zm0 4h1v1h-1zm0 4h1v1h-1zm0 6h1v1h-1zm0 10h1v1h-1zm0 19h1v1h-1zm0 2h1v1h-1zm0 11h1v1h-1zm0 5h1v1h-1zm1-79h1v2h-1zm0 28h1v1h-1zm0 54h1v1h-1zm1-74h1v1h-1zm0 16h1v1h-1zm0 19h1v1h-1zm0 12h1v2h-1zm0 27h1v1h-1zm1-90h1v1h-1zm0 17h1v2h-1zm0 15h1v2h-1zm0 3h1v1h-1zm0 13h1v1h-1zm0 2h1v1h-1zm0 3h1v1h-1zm0 2h1v2h-1zm0 5h1v3h-1zm0 15h1v1h-1zm0 11h1v2h-1zm1-88h1v1h-1zm0 2h1v1h-1zm0 2h1v2h-1zm0 3h1v2h-1zm0 3h1v1h-1zm0 2h1v1h-1zm0 8h1v1h-1zm0 11h1v1h-1zm0 4h1v1h-1zm0 3h1v1h-1zm0 5h1v1h-1zm0 23h1v1h-1zm1-74h1v2h-1zm0 4h1v1h-1zm0 20h1v1h-1zm0 12h1v1h-1zm0 2h1v2h-1zm0 5h1v1h-1zm0 3h1v1h-1zm0 3h1v1h-1zm0 6h1v1h-1zm0 4h1v1h-1zm0 2h1v4h-1zm0 10h1v2h-1zm0 14h1v1h-1zm0 2h1v2h-1zm0 6h1v1h-1zm1-89h1v1h-1zm0 2h1v1h-1zm0 8h1v1h-1zm0 2h1v2h-1zm0 9h1v2h-1zm0 3h1v4h-1zm0 8h1v1h-1zm0 2h1v1h-1zm0 25h1v2h-1zm0 8h1v4h-1zm0 8h1v1h-1zm0 9h1v1h-1zm0 6h1v1h-1zm0 2h1v1h-1zm1-84h1v1h-1zm0 14h1v1h-1zm0 5h1v1h-1zm0 2h1v1h-1zm0 2h1v1h-1zm0 14h1v2h-1zm0 7h1v1h-1zm0 10h1v4h-1zm0 6h1v1h-1zm0 2h1v1h-1zm0 22h1v1h-1zm0 2h1v1h-1zm1-98h1v1h-1zm0 16h1v3h-1zm0 4h1v1h-1zm0 2h1v1h-1zm0 10h1v2h-1zm0 7h1v2h-1zm0 8h1v1h-1zm0 14h1v1h-1zm0 2h1v1h-1zm0 3h1v1h-1zm0 2h1v1h-1zm0 2h1v1h-1zm0 4h1v2h-1zm0 3h1v2h-1zm0 14h1v1h-1zm1-90h1v4h-1zm0 75h1v1h-1zm0 24h1v1h-1zm2-99h1v3h-1zm0 6h1v1h-1zm0 42h1v1h-1zm0 7h1v1h-1zm0 6h1v3h-1zm0 10h1v3h-1zm0 26h1v1h-1zm1-81h1v2h-1zm0 45h1v3h-1zm0 8h1v1h-1zm0 13h1v1h-1zm1-84h1v1h-1zm0 2h1v2h-1zm0 23h1v4h-1zm0 5h1v1h-1zm0 4h1v1h-1zm0 3h1v1h-1zm0 3h1v1h-1zm0 9h1v2h-1zm0 10h1v1h-1zm0 2h1v1h-1zm0 7h1v1h-1zm0 2h1v1h-1zm0 3h1v1h-1zm0 6h1v1h-1zm0 3h1v1h-1zm0 2h1v2h-1zm1-79h1v1h-1zm0 8h1v1h-1zm0 2h1v1h-1zm0 6h1v1h-1zm0 7h1v1h-1zm0 14h1v1h-1zm0 2h1v2h-1zm0 9h1v1h-1zm0 2h1v1h-1zm0 7h1v1h-1zm0 4h1v1h-1zm0 29h1v3h-1zm0 5h1v1h-1zm1-99h1v1h-1zm0 2h1v3h-1zm0 4h1v2h-1zm0 16h1v3h-1zm0 6h1v1h-1zm0 9h1v3h-1zm0 9h1v1h-1zm0 12h1v1h-1zm0 2h1v2h-1zm0 6h1v1h-1zm0 3h1v4h-1zm1-46h1v1h-1zm0 4h1v4h-1zm0 29h1v1h-1zm0 37h1v1h-1zm1-93h1v1h-1zm0 9h1v1h-1zm0 2h1v2h-1zm0 3h1v2h-1zm0 24h1v1h-1zm0 5h1v1h-1zm0 4h1v2h-1zm0 4h1v1h-1zm0 6h1v1h-1zm0 4h1v1h-1zm0 5h1v1h-1zm0 6h1v1h-1zm0 5h1v1h-1zm0 3h1v2h-1zm0 5h1v1h-1zm0 2h1v3h-1zm0 4h1v1h-1zm1-89h1v1h-1zm0 52h1v1h-1zm1-33h1v1h-1zm0 4h1v2h-1zm0 54h1v1h-1zm0 11h1v3h-1zm1-78h1v1h-1zm0 11h1v1h-1zm0 39h1v1h-1zm0 14h1v2h-1zm0 12h1v1h-1zm0 12h1v1h-1zm2-101h1v1h-1zm0 3h1v1h-1zm0 2h1v4h-1zm0 6h1v2h-1zm0 5h1v1h-1zm0 5h1v1h-1zm0 2h1v1h-1zm0 17h1v1h-1zm0 7h1v1h-1zm0 6h1v1h-1zm0 9h1v2h-1zm0 3h1v1h-1zm0 3h1v1h-1zm0 5h1v1h-1zm0 6h1v1h-1zm0 2h1v1h-1zm0 8h1v2h-1zm0 8h1v1h-1zm0 2h1v1h-1zm1-97h1v1h-1zm0 44h1v1h-1zm0 16h1v1h-1zm1-62h1v2h-1zm0 4h1v1h-1zm0 30h1v1h-1zm0 29h1v1h-1zm0 3h1v3h-1zm0 4h1v1h-1zm0 11h1v1h-1zm0 5h1v1h-1zm0 3h1v1h-1zm0 6h1v1h-1zm0 2h1v1h-1zm0 3h1v1h-1zm1-97h1v1h-1zm0 2h1v2h-1zm0 4h1v4h-1zm0 20h1v2h-1zm0 5h1v1h-1zm0 11h1v1h-1zm0 6h1v1h-1zm0 3h1v1h-1zm0 13h1v1h-1zm0 6h1v5h-1zm0 6h1v1h-1zm0 3h1v2h-1zm0 9h1v1h-1zm0 6h1v1h-1zm0 2h1v1h-1zm1-80h1v1h-1zm0 10h1v5h-1zm0 11h1v1h-1zm0 2h1v1h-1zm0 3h1v3h-1zm0 5h1v1h-1zm0 4h1v1h-1zm0 3h1v1h-1zm0 3h1v1h-1zm0 5h1v1h-1zm0 11h1v1h-1zm0 2h1v1h-1zm0 3h1v1h-1zm0 4h1v1h-1zm0 5h1v1h-1zm1-71h1v1h-1zm0 69h1v2h-1zm1-74h1v3h-1zm0 5h1v1h-1zm0 6h1v1h-1zm0 2h1v1h-1zm0 3h1v1h-1zm0 6h1v1h-1zm0 14h1v2h-1zm0 8h1v1h-1zm0 2h1v2h-1zm0 3h1v1h-1zm0 2h1v1h-1zm0 2h1v1h-1zm0 9h1v2h-1zm0 7h1v1h-1zm0 14h1v2h-1zm3-35h1v2h-1zm0 3h1v1h-1zm0 6h1v1h-1zm0 6h1v2h-1zm0 3h1v1h-1zm0 7h1v1h-1zm0 2h1v1h-1zm0 4h1v1h-1zm0 5h1v3h-1zm2-98h1v1h-1zm0 3h1v1h-1zm0 8h1v1h-1zm0 6h1v1h-1zm0 2h1v2h-1zm0 12h1v1h-1zm0 2h1v1h-1zm0 4h1v1h-1zm0 14h1v1h-1zm0 3h1v1h-1zm0 4h1v2h-1zm0 8h1v1h-1zm0 2h1v1h-1zm0 8h1v1h-1zm0 2h1v6h-1zm0 15h1v1h-1zm0 3h1v2h-1zm0 3h1v1h-1zm1-97h1v1h-1zm0 4h1v1h-1zm0 7h1v1h-1zm0 2h1v1h-1zm0 2h1v1h-1zm0 2h1v1h-1zm0 2h1v1h-1zm0 3h1v1h-1zm0 3h1v1h-1zm0 9h1v1h-1zm0 4h1v1h-1zm0 5h1v3h-1zm0 4h1v2h-1zm0 20h1v1h-1zm0 19h1v1h-1zm0 4h1v2h-1zm0 7h1v2h-1zm1-93h1v1h-1zm0 63h1v1h-1zm2-69h1v1h-1zm0 4h1v1h-1zm0 7h1v1h-1zm0 2h1v1h-1zm0 21h1v1h-1zm0 2h1v3h-1zm0 11h1v2h-1zm0 4h1v4h-1zm0 15h1v2h-1zm0 9h1v2h-1zm0 4h1v1h-1zm0 2h1v1h-1zm1-68h1v1h-1zm0 9h1v2h-1zm0 3h1v2h-1zm0 8h1v1h-1zm0 8h1v1h-1zm0 2h1v1h-1zm0 2h1v2h-1zm0 4h1v1h-1zm0 2h1v1h-1zm0 2h1v1h-1zm0 12h1v3h-1zm0 9h1v1h-1zm0 14h1v1h-1zm0 4h1v1h-1zm0 9h1v1h-1zm1-78h1v1h-1zm0 5h1v1h-1zm0 2h1v4h-1zm0 7h1v1h-1zm0 7h1v1h-1zm0 3h1v3h-1zm0 10h1v2h-1zm0 3h1v3h-1zm0 11h1v4h-1zm0 7h1v1h-1zm0 2h1v1h-1zm0 2h1v1h-1zm0 14h1v1h-1zm1-88h1v1h-1zm0 3h1v1h-1zm0 20h1v4h-1zm0 45h1v1h-1zm0 3h1v1h-1zm0 4h1v2h-1zm3-82h1v1h-1zm0 6h1v1h-1zm0 39h1v2h-1zm0 3h1v2h-1zm0 3h1v1h-1zm0 19h1v3h-1zm0 9h1v1h-1zm0 3h1v1h-1zm2-83h1v1h-1zm0 2h1v3h-1zm0 5h1v1h-1zm0 14h1v2h-1zm0 17h1v1h-1zm0 3h1v1h-1zm0 2h1v3h-1zm0 4h1v1h-1zm0 3h1v1h-1zm0 29h1v2h-1zm0 4h1v1h-1zm0 14h1v1h-1zm0 2h1v1h-1zm1-42h1v1h-1zm0 38h1v1h-1zm1-89h1v2h-1zm0 6h1v1h-1zm0 3h1v1h-1zm0 9h1v1h-1zm0 38h1v1h-1zm0 4h1v1h-1zm0 8h1v1h-1zm0 4h1v1h-1zm0 7h1v6h-1zm1 7h1v1h-1zm0 8h1v1h-1zm1-98h1v3h-1zm0 4h1v1h-1zm0 3h1v1h-1zm0 9h1v2h-1zm0 9h1v1h-1zm0 3h1v1h-1zm0 3h1v1h-1zm0 4h1v1h-1zm0 6h1v2h-1zm0 4h1v1h-1zm0 2h1v1h-1zm0 2h1v3h-1zm0 5h1v3h-1zm0 18h1v1h-1zm0 9h1v1h-1zm0 3h1v1h-1zm0 11h1v1h-1zm1-23h1v1h-1zm0 2h1v1h-1zm1-50h1v1h-1zm0 40h1v1h-1zm0 2h1v1h-1zm0 6h1v1h-1zm2-70h1v1h-1zm0 4h1v1h-1zm0 2h1v1h-1zm0 3h1v2h-1zm0 11h1v1h-1zm0 5h1v1h-1zm0 21h1v2h-1zm0 3h1v2h-1zm0 4h1v1h-1zm0 3h1v1h-1zm0 10h1v1h-1zm0 26h1v1h-1zm0 2h1v1h-1zm0 2h1v1h-1zm3-33h1v3h-1zm0 11h1v1h-1zm0 4h1v1h-1zm0 7h1v1h-1zm0 3h1v2h-1zm0 4h1v1h-1zm1-93h1v1h-1zm0 2h1v2h-1zm0 7h1v1h-1zm0 11h1v1h-1zm0 3h1v3h-1zm0 4h1v2h-1zm0 17h1v2h-1zm0 4h1v1h-1zm0 32h1v3h-1zm0 12h1v1h-1zm0 2h1v2h-1zm0 3h1v2h-1zm1-99h1v1h-1zm0 29h1v1h-1zm0 17h1v3h-1zm0 4h1v1h-1zm0 2h1v1h-1zm0 10h1v1h-1zm0 2h1v2h-1zm0 22h1v2h-1zm0 3h1v1h-1zm0 2h1v2h-1zm0 9h1v1h-1zm1-96h1v1h-1zm0 5h1v1h-1zm0 9h1v1h-1zm0 4h1v4h-1zm0 7h1v1h-1zm0 2h1v2h-1zm0 4h1v3h-1zm0 12h1v1h-1zm0 6h1v1h-1zm0 5h1v1h-1zm0 6h1v1h-1zm0 6h1v1h-1zm0 4h1v1h-1zm0 9h1v1h-1zm0 15h1v1h-1zm1-91h1v1h-1zm0 33h1v1h-1zm0 2h1v1h-1zm0 7h1v4h-1zm0 10h1v2h-1zm1 7h1v1h-1zm1-6h1v1h-1zm0 19h1v1h-1zm1-65h1v1h-1zm0 2h1v1h-1zm0 2h1v1h-1zm0 6h1v1h-1zm0 3h1v1h-1zm0 17h1v3h-1zm0 4h1v2h-1zm0 9h1v1h-1zm0 5h1v4h-1zm2-55h1v1h-1zm0 3h1v1h-1zm1 1h1v1h-1zm0 15h1v1h-1zm0 19h1v4h-1zm0 8h1v5h-1zm0 9h1v3h-1zm0 4h1v2h-1zm0 5h1v3h-1zm0 10h1v2h-1zm0 11h1v2h-1zm1-62h1v1h-1zm0 18h1v1h-1zm0 4h1v1h-1zm4-14h1v1h-1zm2-32h1v4h-1zm0 5h1v1h-1zm0 3h1v4h-1zm0 9h1v1h-1zm0 23h1v1h-1zm0 9h1v3h-1zm0 41h1v1h-1zm0 2h1v2h-1zm1-87h1v3h-1zm0 16h1v2h-1zm0 4h1v2h-1zm0 11h1v1h-1zm0 3h1v1h-1zm0 2h1v2h-1zm0 4h1v1h-1zm0 2h1v1h-1zm0 3h1v1h-1zm0 4h1v1h-1zm0 8h1v1h-1zm0 25h1v1h-1zm0 2h1v1h-1zm1-93h1v1h-1zm0 6h1v1h-1zm0 4h1v1h-1zm0 23h1v1h-1zm0 2h1v2h-1zm0 12h1v1h-1zm0 2h1v1h-1zm0 8h1v1h-1zm0 25h1v1h-1zm1-85h1v1h-1zm0 2h1v1h-1zm0 2h1v2h-1zm0 4h1v2h-1zm0 22h1v2h-1zm0 3h1v1h-1zm0 38h1v1h-1zm0 3h1v3h-1zm0 6h1v1h-1zm0 10h1v1h-1zm0 7h1v1h-1zm1-75h1v1h-1zm0 2h1v1h-1zm0 42h1v1h-1zm0 4h1v1h-1zm0 15h1v2h-1zm0 11h1v1h-1zm0 2h1v3h-1zm1-98h1v1h-1zm0 2h1v1h-1zm0 9h1v4h-1zm0 6h1v1h-1zm0 47h1v2h-1zm1-64h1v1h-1zm0 2h1v2h-1zm0 10h1v1h-1zm0 5h1v2h-1zm0 6h1v1h-1zm0 5h1v4h-1zm0 7h1v2h-1zm0 3h1v2h-1zm0 3h1v1h-1zm0 20h1v1h-1zm0 18h1v2h-1zm0 6h1v1h-1zm0 4h1v1h-1zm0 15h1v1h-1zm1-103h1v1h-1zm0 4h1v3h-1zm0 7h1v1h-1zm0 2h1v1h-1zm0 11h1v1h-1zm0 6h1v1h-1zm0 2h1v1h-1zm0 4h1v1h-1zm0 11h1v1h-1zm0 2h1v1h-1zm0 8h1v2h-1zm0 12h1v1h-1zm0 39h1v1h-1zm2-109h1v1h-1zm0 11h1v1h-1zm0 7h1v1h-1zm0 13h1v1h-1zm0 13h1v2h-1zm0 7h1v1h-1zm0 4h1v1h-1zm1-55h1v2h-1zm0 3h1v1h-1zm0 32h1v1h-1zm0 15h1v4h-1zm0 54h1v1h-1zm1-104h1v1h-1zm0 5h1v1h-1zm0 4h1v1h-1zm0 13h1v2h-1zm0 14h1v1h-1zm0 15h1v1h-1zm0 50h1v1h-1zm2-93h1v2h-1zm0 10h1v1h-1zm0 19h1v1h-1zm0 22h1v1h-1zm0 12h1v1h-1zm0 18h1v2h-1zm0 5h1v1h-1zm0 4h1v1h-1zm1-91h1v1h-1zm0 9h1v1h-1zm0 56h1v2h-1zm0 4h1v1h-1zm0 3h1v1h-1zm0 20h1v1h-1zm1-46h1v1h-1zm0 45h1v1h-1zm2-97h1v1h-1zm0 2h1v1h-1zm0 7h1v1h-1zm0 20h1v2h-1zm0 11h1v1h-1zm0 2h1v3h-1zm0 4h1v1h-1zm0 33h1v1h-1zm0 2h1v2h-1zm1-77h1v1h-1zm0 19h1v1h-1zm0 25h1v1h-1zm0 10h1v2h-1zm0 5h1v1h-1zm0 4h1v1h-1zm0 2h1v1h-1zm0 4h1v2h-1zm0 26h1v1h-1zm1-100h1v1h-1zm0 17h1v1h-1zm0 2h1v1h-1zm0 40h1v2h-1zm0 22h1v1h-1zm1-66h1v1h-1zm0 25h1v1h-1zm0 5h1v1h-1zm0 4h1v1h-1zm0 10h1v2h-1zm0 11h1v3h-1zm0 30h1v1h-1zm1-97h1v1h-1zm0 8h1v1h-1zm0 4h1v1h-1zm0 3h1v1h-1zm0 9h1v1h-1zm0 2h1v1h-1zm0 4h1v3h-1zm0 27h1v1h-1zm0 11h1v1h-1zm0 8h1v1h-1zm0 13h1v2h-1zm0 5h1v2h-1zm0 3h1v1h-1zm1-100h1v1h-1zm0 6h1v1h-1zm0 2h1v1h-1zm0 3h1v1h-1zm0 8h1v1h-1zm0 8h1v1h-1zm0 13h1v2h-1zm0 5h1v1h-1zm0 3h1v1h-1zm0 22h1v1h-1zm0 9h1v1h-1zm0 12h1v1h-1zm1-90h1v2h-1zm0 9h1v1h-1zm0 27h1v1h-1zm0 2h1v1h-1zm0 33h1v1h-1zm0 3h1v1h-1zm0 12h1v1h-1zm0 9h1v1h-1zm1-83h1v1h-1zm0 2h1v1h-1zm0 6h1v1h-1zm0 19h1v1h-1zm0 6h1v1h-1zm0 5h1v2h-1zm0 38h1v1h-1zm0 7h1v1h-1zm1-96h1v1h-1zm0 6h1v2h-1zm0 12h1v1h-1zm0 6h1v1h-1zm0 17h1v3h-1zm0 8h1v1h-1zm0 3h1v2h-1zm0 44h1v1h-1zm1-91h1v1h-1zm0 5h1v1h-1zm0 9h1v1h-1zm0 8h1v1h-1zm0 15h1v1h-1zm0 7h1v1h-1zm0 5h1v1h-1zm0 2h1v2h-1zm0 22h1v2h-1zm0 6h1v1h-1zm0 7h1v1h-1zm0 12h1v1h-1zm1-74h1v1h-1zm0 9h1v1h-1zm0 2h1v2h-1zm0 6h1v1h-1zm0 2h1v2h-1zm0 7h1v1h-1zm0 28h1v1h-1zm0 7h1v1h-1zm0 2h1v1h-1zm1-92h1v1h-1zm0 5h1v1h-1zm0 15h1v3h-1zm0 5h1v1h-1zm0 55h1v1h-1zm0 21h1v1h-1zm1-97h1v1h-1zm0 3h1v1h-1zm0 5h1v1h-1zm0 3h1v1h-1zm0 23h1v1h-1zm0 42h1v2h-1zm1-72h1v1h-1zm0 4h1v1h-1zm0 8h1v1h-1zm0 3h1v1h-1zm0 3h1v1h-1zm0 2h1v2h-1zm0 3h1v1h-1zm0 4h1v2h-1zm0 3h1v1h-1zm0 3h1v1h-1zm0 35h1v1h-1zm0 3h1v1h-1zm0 2h1v2h-1zm0 20h1v1h-1zm2-98h1v1h-1zm0 4h1v1h-1zm0 2h1v1h-1zm0 2h1v1h-1zm0 11h1v1h-1zm0 4h1v1h-1zm0 45h1v3h-1zm0 12h1v1h-1zm1-81h1v1h-1zm0 26h1v1h-1zm0 2h1v1h-1zm0 16h1v1h-1zm0 4h1v1h-1zm0 2h1v1h-1zm0 19h1v3h-1zm0 9h1v1h-1zm0 2h1v1h-1zm0 11h1v1h-1zm0 2h1v1h-1zm0 3h1v1h-1zm1-98h1v1h-1zm0 2h1v1h-1zm0 27h1v1h-1zm0 3h1v1h-1zm0 3h1v1h-1zm0 3h1v1h-1zm0 2h1v1h-1zm0 3h1v2h-1zm0 8h1v2h-1zm0 17h1v1h-1zm0 16h1v1h-1zm0 2h1v1h-1zm1-51h1v1h-1zm0 4h1v1h-1zm0 2h1v2h-1zm0 9h1v1h-1zm0 10h1v3h-1zm0 14h1v1h-1zm0 5h1v1h-1zm1-70h1v1h-1zm0 8h1v1h-1zm0 2h1v2h-1zm0 5h1v1h-1zm0 25h1v1h-1zm0 2h1v4h-1zm0 10h1v1h-1zm0 37h1v1h-1zm1-87h1v1h-1zm0 13h1v2h-1zm0 4h1v1h-1zm0 22h1v1h-1zm0 38h1v1h-1zm1-88h1v2h-1zm0 6h1v1h-1zm0 3h1v1h-1zm0 22h1v1h-1zm0 5h1v1h-1zm0 41h1v1h-1zm0 2h1v1h-1zm0 18h1v1h-1zm1-83h1v1h-1zm0 2h1v1h-1zm0 2h1v2h-1zm0 6h1v1h-1zm0 8h1v1h-1zm0 14h1v1h-1zm0 10h1v1h-1zm0 21h1v1h-1zm0 2h1v1h-1zm0 20h1v1h-1zm0 3h1v2h-1zm1-98h1v2h-1zm0 3h1v1h-1zm0 20h1v1h-1zm0 11h1v1h-1zm0 4h1v1h-1zm0 6h1v2h-1zm0 8h1v1h-1zm0 18h1v1h-1zm0 26h1v1h-1zm0 3h1v1h-1zm1-100h1v1h-1zm0 8h1v1h-1zm0 22h1v1h-1zm0 2h1v2h-1zm0 24h1v1h-1zm0 13h1v1h-1zm0 4h1v1h-1zm0 12h1v1h-1zm0 8h1v1h-1zm1-92h1v1h-1zm0 9h1v1h-1zm0 2h1v1h-1zm0 5h1v1h-1zm0 12h1v1h-1zm0 6h1v1h-1zm0 7h1v1h-1zm0 28h1v2h-1zm0 15h1v1h-1zm1-47h1v3h-1zm0 35h1v1h-1zm0 16h1v2h-1zm0 8h1v1h-1zm1-82h1v1h-1zm0 38h1v1h-1zm0 14h1v1h-1zm0 11h1v1h-1zm1-52h1v1h-1zm0 16h1v1h-1zm1-45h1v2h-1zm0 16h1v1h-1zm0 7h1v1h-1zm0 6h1v1h-1zm0 3h1v1h-1zm0 11h1v1h-1zm0 35h1v1h-1zm0 6h1v1h-1zm0 8h1v2h-1zm0 6h1v2h-1zm1-84h1v1h-1zm0 23h1v1h-1zm0 3h1v2h-1zm0 11h1v1h-1zm0 27h1v1h-1zm0 6h1v1h-1zm1-76h1v1h-1zm0 4h1v1h-1zm0 8h1v1h-1zm0 6h1v1h-1zm0 2h1v1h-1zm0 13h1v1h-1zm0 2h1v2h-1zm0 4h1v1h-1zm0 43h1v2h-1zm0 5h1v3h-1zm1-94h1v1h-1zm0 3h1v1h-1zm0 4h1v2h-1zm0 7h1v1h-1zm0 11h1v1h-1zm0 5h1v2h-1zm0 4h1v1h-1zm0 3h1v1h-1zm0 4h1v1h-1zm0 7h1v1h-1zm0 19h1v1h-1zm0 3h1v1h-1zm0 4h1v1h-1zm0 7h1v1h-1zm0 15h1v1h-1zm0 2h1v1h-1zm1-98h1v1h-1zm0 9h1v1h-1zm0 5h1v1h-1zm0 6h1v1h-1zm0 5h1v1h-1zm0 2h1v1h-1zm0 6h1v1h-1zm0 7h1v1h-1zm0 4h1v1h-1zm0 7h1v1h-1zm0 11h1v1h-1zm0 18h1v2h-1zm0 5h1v1h-1zm0 2h1v1h-1zm0 11h1v1h-1zm1-90h1v1h-1zm0 4h1v1h-1zm0 2h1v1h-1zm0 3h1v2h-1zm0 8h1v1h-1zm0 11h1v2h-1zm0 13h1v1h-1zm0 4h1v1h-1zm0 4h1v1h-1zm0 42h1v2h-1zm1-98h1v1h-1zm0 31h1v1h-1zm0 2h1v1h-1zm0 14h1v2h-1zm0 3h1v1h-1zm0 10h1v1h-1zm0 18h1v1h-1zm0 6h1v1h-1zm0 11h1v1h-1zm0 6h1v1h-1zm1-99h1v1h-1zm0 5h1v1h-1zm0 14h1v2h-1zm0 4h1v2h-1zm0 4h1v1h-1zm0 8h1v2h-1zm0 12h1v1h-1zm0 3h1v2h-1zm0 24h1v1h-1zm0 4h1v1h-1zm0 15h1v1h-1zm0 2h1v1h-1zm0 3h1v1h-1zm1-100h1v1h-1zm0 9h1v1h-1zm0 4h1v1h-1zm0 29h1v1h-1zm0 10h1v2h-1zm0 13h1v1h-1zm1-65h1v1h-1zm0 18h1v1h-1zm0 9h1v1h-1zm0 9h1v1h-1zm0 22h1v1h-1zm0 22h1v1h-1zm0 17h1v1h-1zm0 2h1v1h-1zm1-87h1v1h-1zm0 11h1v1h-1zm0 2h1v1h-1zm0 12h1v3h-1zm0 30h1v1h-1zm0 22h1v1h-1zm0 4h1v1h-1zm0 7h1v1h-1zm1-98h1v1h-1zm0 12h1v1h-1zm0 6h1v2h-1zm0 23h1v1h-1zm0 53h1v1h-1zm1-98h1v1h-1zm0 2h1v1h-1zm0 11h1v1h-1zm0 2h1v1h-1zm0 33h1v1h-1zm0 50h1v1h-1zm1-90h1v1h-1zm0 9h1v2h-1zm0 21h1v1h-1zm0 17h1v1h-1zm0 19h1v1h-1zm0 5h1v1h-1zm0 8h1v2h-1zm0 4h1v1h-1zm0 12h1v1h-1zm1-103h1v1h-1zm0 18h1v1h-1zm0 23h1v1h-1zm0 3h1v1h-1zm0 4h1v1h-1zm0 14h1v1h-1zm0 3h1v1h-1zm0 4h1v1h-1zm0 5h1v1h-1zm0 6h1v1h-1zm0 4h1v1h-1zm0 7h1v1h-1zm1-73h1v1h-1zm0 18h1v2h-1zm0 3h1v1h-1zm0 6h1v1h-1zm0 3h1v1h-1zm0 3h1v1h-1zm0 22h1v1h-1zm0 14h1v1h-1zm0 18h1v1h-1zm1-93h1v1h-1zm1-1h1v1h-1zm1-9h1v1h-1zm0 12h1v1h-1zm1-14h1v1h-1zm0 8h1v1h-1zm0 3h1v1h-1zm0 7h1v1h-1zm0 27h1v1h-1zm0 21h1v2h-1zm0 5h1v1h-1zm0 4h1v1h-1zm1-69h1v2h-1zm0 27h1v1h-1zm0 7h1v1h-1zm0 2h1v2h-1zm0 10h1v1h-1zm0 13h1v1h-1zm0 8h1v1h-1zm0 18h1v1h-1zm0 5h1v1h-1zm0 4h1v1h-1zm1-93h1v1h-1zm0 4h1v1h-1zm0 20h1v1h-1zm0 13h1v1h-1zm0 2h1v1h-1zm0 2h1v1h-1zm0 14h1v1h-1zm0 16h1v1h-1zm0 14h1v1h-1zm1-84h1v1h-1zm0 39h1v1h-1zm0 5h1v1h-1zm0 18h1v3h-1zm0 14h1v1h-1zm0 7h1v2h-1zm1-10h1v1h-1zm0 7h1v1h-1zm0 10h1v1h-1zm0 5h1v1h-1zm2-95h1v1h-1zm0 4h1v2h-1zm0 4h1v1h-1zm0 17h1v1h-1zm0 7h1v1h-1zm0 27h1v1h-1zm0 8h1v3h-1zm0 11h1v1h-1zm1-57h1v1h-1zm0 15h1v1h-1zm0 4h1v2h-1zm0 34h1v1h-1zm0 7h1v1h-1zm1-77h1v1h-1zm0 4h1v1h-1zm0 4h1v1h-1zm0 6h1v1h-1zm0 3h1v2h-1zm0 10h1v1h-1zm0 5h1v1h-1zm0 24h1v1h-1zm0 21h1v1h-1zm0 7h1v1h-1zm1-86h1v1h-1zm0 9h1v1h-1zm0 10h1v1h-1zm0 23h1v1h-1zm0 12h1v2h-1zm0 12h1v1h-1zm0 4h1v1h-1zm0 2h1v2h-1zm0 10h1v1h-1zm0 11h1v1h-1zm1-99h1v1h-1zm0 16h1v1h-1zm0 6h1v3h-1zm0 5h1v1h-1zm0 16h1v2h-1zm0 27h1v1h-1zm1-74h1v1h-1zm0 4h1v1h-1zm0 11h1v1h-1zm0 16h1v1h-1zm0 19h1v1h-1zm0 2h1v2h-1zm0 23h1v1h-1zm0 2h1v1h-1zm0 3h1v1h-1zm0 19h1v1h-1zm1-97h1v1h-1zm0 5h1v2h-1zm0 8h1v1h-1zm0 3h1v1h-1zm0 11h1v1h-1zm0 17h1v1h-1zm0 2h1v1h-1zm0 15h1v2h-1zm0 5h1v1h-1zm0 12h1v1h-1zm0 7h1v1h-1zm0 2h1v1h-1zm0 10h1v3h-1zm3-87h1v3h-1zm0 29h1v1h-1zm0 6h1v1h-1zm0 3h1v1h-1zm0 16h1v1h-1zm0 31h1v2h-1zm0 3h1v3h-1zm1-100h1v1h-1zm0 4h1v1h-1zm0 4h1v2h-1zm0 9h1v1h-1zm0 15h1v1h-1zm0 2h1v1h-1zm0 23h1v1h-1zm0 38h1v1h-1zm1-91h1v2h-1zm0 36h1v1h-1zm0 10h1v1h-1zm0 5h1v1h-1zm0 10h1v2h-1zm0 4h1v1h-1zm0 2h1v1h-1zm0 3h1v1h-1zm0 3h1v1h-1zm0 2h1v1h-1zm1-77h1v1h-1zm0 5h1v1h-1zm0 34h1v1h-1zm0 32h1v1h-1zm0 5h1v2h-1zm0 17h1v1h-1zm1-90h1v1h-1zm0 2h1v1h-1zm0 7h1v1h-1zm0 20h1v1h-1zm0 45h1v2h-1zm0 16h1v1h-1zm2-90h1v1h-1zm0 2h1v1h-1zm0 8h1v1h-1zm0 2h1v1h-1zm0 12h1v1h-1zm0 10h1v2h-1zm0 18h1v1h-1zm0 7h1v1h-1zm0 2h1v1h-1zm0 3h1v1h-1zm0 4h1v1h-1zm0 19h1v1h-1zm1-85h1v2h-1zm0 6h1v1h-1zm0 2h1v2h-1zm0 23h1v1h-1zm0 7h1v2h-1zm0 6h1v1h-1zm0 4h1v1h-1zm0 12h1v1h-1zm0 8h1v1h-1zm0 22h1v1h-1zm3-84h1v1h-1zm0 17h1v1h-1zm0 3h1v2h-1zm0 6h1v1h-1zm0 11h1v1h-1zm0 6h1v1h-1zm0 6h1v1h-1zm0 4h1v1h-1zm0 18h1v1h-1zm0 5h1v1h-1zm0 13h1v1h-1zm1-89h1v1h-1zm0 11h1v1h-1zm0 6h1v1h-1zm0 32h1v1h-1zm0 3h1v1h-1zm1-60h1v4h-1zm0 18h1v1h-1zm0 24h1v1h-1zm0 2h1v1h-1zm0 5h1v1h-1zm0 12h1v1h-1zm0 28h1v1h-1zm1-70h1v1h-1zm0 22h1v1h-1zm0 19h1v1h-1zm0 32h1v2h-1zm1-92h1v1h-1zm0 13h1v2h-1zm0 24h1v1h-1zm0 9h1v2h-1zm0 8h1v1h-1zm0 25h1v2h-1zm0 5h1v1h-1zm1-81h1v1h-1zm0 7h1v1h-1zm0 4h1v1h-1zm0 8h1v1h-1zm0 5h1v1h-1zm0 27h1v1h-1zm0 32h1v1h-1zm1-72h1v1h-1zm0 15h1v2h-1zm0 21h1v1h-1zm0 8h1v1h-1zm0 6h1v1h-1zm0 3h1v1h-1zm0 14h1v1h-1zm0 3h1v1h-1zm0 2h1v1h-1zm1-85h1v1h-1zm0 5h1v1h-1zm0 6h1v1h-1zm0 8h1v1h-1zm0 22h1v1h-1zm0 7h1v1h-1zm0 16h1v1h-1zm0 31h1v1h-1zm1-99h1v1h-1zm0 4h1v1h-1zm0 9h1v1h-1zm0 17h1v1h-1zm0 27h1v1h-1zm0 20h1v1h-1zm0 12h1v1h-1zm1-83h1v1h-1zm0 9h1v1h-1zm0 11h1v2h-1zm0 4h1v1h-1zm0 2h1v1h-1zm0 4h1v1h-1zm0 2h1v1h-1zm0 13h1v1h-1zm0 23h1v1h-1zm0 9h1v1h-1zm0 6h1v2h-1zm0 3h1v1h-1zm1-89h1v1h-1zm0 19h1v1h-1zm0 33h1v1h-1zm0 15h1v1h-1zm0 20h1v1h-1zm1-41h1v1h-1zm0 14h1v1h-1zm0 18h1v1h-1zm0 6h1v1h-1zm1-58h1v1h-1zm0 22h1v1h-1zm0 19h1v1h-1zm0 4h1v1h-1zm0 19h1v1h-1zm0 6h1v1h-1zm1-60h1v2h-1zm0 8h1v1h-1zm0 38h1v1h-1zm0 3h1v2h-1zm1-83h1v1h-1zm0 2h1v1h-1zm0 23h1v1h-1zm0 23h1v1h-1zm0 5h1v1h-1zm0 20h1v1h-1zm0 2h1v1h-1zm0 2h1v1h-1zm1-81h1v2h-1zm0 8h1v1h-1zm0 2h1v1h-1zm0 38h1v1h-1zm0 2h1v1h-1zm0 4h1v2h-1zm1-49h1v1h-1zm0 14h1v1h-1zm0 21h1v2h-1zm0 20h1v2h-1zm0 24h1v1h-1zm0 12h1v1h-1zm0 2h1v1h-1zm1-87h1v2h-1zm0 5h1v1h-1zm0 15h1v3h-1zm0 12h1v1h-1zm0 27h1v1h-1zm0 6h1v1h-1zm0 4h1v1h-1zm0 2h1v1h-1zm0 16h1v1h-1zm1-90h1v2h-1zm0 3h1v1h-1zm0 5h1v1h-1zm0 24h1v1h-1zm0 4h1v1h-1zm0 3h1v2h-1zm0 49h1v1h-1zm1-92h1v1h-1zm0 36h1v2h-1zm0 18h1v1h-1zm0 7h1v1h-1zm0 25h1v1h-1zm1-89h1v2h-1zm0 6h1v1h-1zm0 4h1v1h-1zm0 14h1v2h-1zm0 4h1v1h-1zm0 2h1v1h-1zm0 28h1v1h-1zm0 3h1v1h-1zm0 2h1v1h-1zm0 3h1v1h-1zm0 5h1v1h-1zm0 3h1v2h-1zm0 16h1v2h-1zm1-93h1v1h-1zm0 4h1v2h-1zm0 21h1v1h-1zm0 9h1v1h-1zm0 5h1v1h-1zm0 12h1v1h-1zm0 7h1v1h-1zm0 26h1v1h-1zm1-77h1v1h-1zm0 11h1v1h-1zm0 5h1v1h-1zm0 7h1v1h-1zm0 15h1v1h-1zm0 24h1v1h-1zm0 29h1v1h-1zm1-85h1v1h-1zm0 16h1v1h-1zm0 5h1v1h-1zm0 22h1v1h-1zm0 19h1v1h-1zm0 17h1v1h-1zm0 2h1v1h-1zm0 4h1v1h-1zm0 2h1v1h-1zm1-98h1v1h-1zm0 2h1v1h-1zm0 10h1v1h-1zm0 15h1v1h-1zm0 10h1v1h-1zm0 3h1v1h-1zm0 14h1v1h-1zm0 33h1v2h-1zm0 4h1v1h-1zm0 8h1v2h-1zm1-80h1v1h-1zm0 5h1v2h-1zm0 10h1v1h-1zm0 22h1v4h-1zm0 15h1v1h-1zm0 7h1v1h-1zm1-75h1v1h-1zm0 16h1v1h-1zm0 17h1v1h-1zm0 17h1v1h-1zm0 8h1v1h-1zm1-63h1v1h-1zm0 3h1v1h-1zm0 6h1v1h-1zm0 9h1v1h-1zm0 7h1v1h-1zm0 16h1v2h-1zm0 7h1v2h-1zm0 5h1v1h-1zm0 4h1v1h-1zm0 3h1v1h-1zm0 7h1v1h-1zm1-61h1v1h-1zm0 3h1v1h-1zm0 10h1v1h-1zm0 39h1v1h-1zm0 5h1v1h-1zm0 44h1v1h-1zm1-106h1v1h-1zm0 10h1v1h-1zm0 5h1v2h-1zm0 84h1v1h-1zm1-99h1v1h-1zm0 13h1v1h-1zm0 80h1v1h-1zm0 5h1v1h-1zm1-99h1v2h-1zm0 4h1v1h-1zm0 2h1v1h-1zm0 5h1v1h-1zm0 66h1v1h-1zm0 5h1v1h-1zm0 11h1v2h-1zm1-94h1v1h-1zm0 71h1v1h-1zm0 20h1v1h-1zm0 3h1v2h-1zm2-92h1v1h-1zm0 2h1v1h-1zm0 12h1v1h-1zm0 15h1v1h-1zm0 4h1v1h-1zm0 2h1v1h-1zm0 22h1v1h-1zm0 4h1v2h-1zm1-62h1v2h-1zm0 6h1v1h-1zm0 22h1v1h-1zm0 30h1v1h-1zm0 8h1v1h-1zm1-66h1v1h-1zm0 2h1v1h-1zm0 18h1v1h-1zm0 12h1v1h-1zm0 22h1v1h-1zm1-53h1v1h-1zm0 6h1v1h-1zm2 44h1v1h-1zm0 5h1v1h-1zm1-42h1v1h-1zm0 3h1v1h-1zm0 2h1v1h-1zm0 2h1v1h-1zm0 18h1v1h-1zm0 21h1v1h-1zm0 19h1v1h-1zm0 14h1v1h-1zm1-94h1v1h-1zm0 19h1v1h-1zm0 28h1v1h-1zm0 11h1v1h-1zm1-56h1v1h-1zm0 20h1v1h-1zm0 25h1v1h-1zm1-4h1v1h-1zm0 6h1v1h-1zm1-47h1v1h-1zm0 18h1v1h-1zm0 22h1v1h-1zm0 42h1v1h-1zm1-49h1v1h-1zm1 14h1v1h-1zm2-49h1v1h-1zm1 2h1v1h-1zm0 42h1v1h-1zm2-43h1v1h-1zm3 36h1v1h-1zm0 3h1v1h-1zm0 5h1v1h-1zm1-44h1v1h-1zm0 19h1v1h-1zm0 12h1v1h-1zm0 8h1v1h-1zm0 26h1v2h-1zm0 9h1v1h-1zm0 7h1v1h-1zm1-74h1v2h-1zm0 25h1v1h-1zm0 35h1v2h-1zm0 5h1v1h-1zm0 6h1v1h-1zm0 2h1v1h-1zm0 13h1v1h-1zm0 2h1v1h-1zm1-94h1v1h-1zm0 19h1v1h-1zm0 9h1v1h-1zm1-30h1v1h-1zm0 58h1v1h-1zm2-54h1v1h-1zm1 10h1v1h-1zm0 15h1v1h-1zm0 9h1v2h-1zm1-31h1v1h-1zm0 11h1v3h-1zm0 32h1v1h-1zm0 9h1v1h-1zm0 14h1v1h-1zm1-72h1v1h-1zm0 5h1v1h-1zm0 4h1v1h-1zm0 9h1v1h-1zm0 23h1v1h-1zm0 5h1v2h-1zm0 32h1v1h-1zm0 3h1v1h-1zm0 3h1v1h-1zm0 2h1v1h-1zm0 7h1v2h-1zm1-93h1v1h-1zm0 3h1v1h-1zm0 25h1v1h-1zm0 13h1v1h-1zm0 13h1v1h-1zm0 4h1v1h-1zm0 6h1v1h-1zm0 10h1v1h-1zm6-48h1v1h-1zm0 14h1v1h-1zm0 18h1v1h-1zm0 5h1v1h-1zm0 24h1v1h-1zm0 3h1v1h-1zm1-58h1v1h-1zm0 53h1v1h-1zm0 10h1v1h-1zm1-70h1v1h-1zm0 11h1v1h-1zm0 5h1v1h-1zm0 43h1v1h-1zm1 5h1v2h-1zm0 3h1v1h-1zm1-93h1v1h-1zm0 31h1v1h-1zm0 2h1v3h-1zm0 4h1v1h-1zm0 17h1v1h-1zm1-52h1v1h-1zm1 38h1v1h-1zm0 4h1v1h-1zm0 8h1v1h-1zm1-48h1v1h-1zm0 9h1v1h-1zm0 3h1v1h-1zm1-15h1v1h-1zm0 10h1v1h-1zm0 2h1v1h-1zm0 37h1v2h-1zm0 44h1v1h-1zm1-93h1v1h-1zm0 2h1v2h-1zm0 9h1v1h-1zm0 12h1v1h-1zm0 3h1v1h-1zm0 5h1v1h-1zm0 11h1v1h-1zm0 8h1v1h-1zm0 18h1v1h-1zm0 3h1v1h-1zm0 9h1v1h-1zm0 5h1v1h-1zm0 5h1v1h-1zm1-91h1v1h-1zm0 76h1v1h-1zm0 3h1v1h-1zm1-42h1v1h-1zm1-14h1v1h-1zm0 30h1v2h-1zm0 14h1v1h-1zm1-66h1v1h-1zm0 6h1v1h-1zm0 10h1v1h-1zm0 11h1v1h-1zm0 18h1v1h-1zm0 8h1v1h-1zm0 2h1v1h-1zm0 2h1v1h-1zm0 19h1v2h-1zm0 19h1v1h-1zm1-5h1v1h-1zm0 2h1v1h-1zm1-71h1v1h-1zm0 56h1v1h-1zm2-72h1v1h-1zm2 5h1v1h-1zm0 49h1v2h-1zm0 27h1v1h-1zm2-87h1v1h-1zm0 5h1v1h-1zm0 4h1v1h-1zm0 17h1v1h-1zm0 4h1v2h-1zm0 13h1v1h-1zm0 6h1v2h-1zm0 33h1v1h-1zm7-58h1v1h-1zm0 63h1v1h-1zm1-71h1v1h-1zm0 12h1v1h-1zm2-6h1v1h-1zm0 2h1v1h-1zm0 36h1v1h-1zm0 5h1v1h-1zm0 5h1v1h-1zm0 7h1v2h-1zm0 3h1v3h-1zm0 10h1v1h-1zm1-88h1v1h-1zm0 34h1v2h-1zm0 5h1v1h-1zm0 33h1v2h-1zm0 4h1v1h-1zm0 3h1v1h-1zm0 12h1v1h-1zm1-92h1v2h-1zm0 13h1v1h-1zm0 3h1v1h-1zm0 3h1v1h-1zm0 4h1v1h-1zm0 3h1v1h-1zm0 19h1v3h-1zm0 27h1v1h-1zm1-21h1v1h-1zm0 34h1v1h-1zm1-82h1v1h-1zm0 73h1v1h-1zm1-23h1v1h-1zm0 2h1v1h-1zm1-47h1v1h-1zm3-7h1v1h-1zm0 22h1v1h-1zm0 3h1v1h-1zm0 25h1v1h-1zm0 4h1v1h-1zm0 29h1v2h-1zm1-42h1v1h-1zm2-35h1v1h-1zm1 28h1v1h-1zm0 40h1v1h-1zm2-17h1v1h-1zm3-29h1v1h-1z"/><path fill="#69cc69" d="M1 13h1v1h-1zm0 8h1v2h-1zm0 26h1v2h-1zm0 24h1v1h-1zm0 9h1v1h-1zm1-41h1v1h-1zm0 6h1v1h-1zm0 3h1v1h-1zm0 5h1v1h-1zm0 9h1v2h-1zm1-52h1v2h-1zm0 3h1v3h-1zm0 17h1v3h-1zm0 8h1v1h-1zm0 2h1v4h-1zm0 5h1v1h-1zm0 3h1v2h-1zm0 8h1v1h-1zm0 11h1v1h-1zm0 3h1v1h-1zm0 12h1v2h-1zm0 5h1v1h-1zm0 2h1v1h-1zm0 4h1v1h-1zm1-50h1v4h-1zm0 16h1v1h-1zm0 2h1v1h-1zm0 7h1v1h-1zm0 3h1v2h-1zm2-58h1v2h-1zm0 4h1v2h-1zm0 29h1v1h-1zm0 15h1v3h-1zm0 13h1v2h-1zm0 7h1v1h-1zm0 3h1v3h-1zm0 14h1v1h-1zm1-92h1v2h-1zm0 52h1v1h-1zm0 8h1v1h-1zm0 2h1v1h-1zm1-66h1v1h-1zm0 2h1v3h-1zm0 6h1v1h-1zm0 6h1v1h-1zm0 2h1v2h-1zm0 4h1v1h-1zm0 4h1v1h-1zm0 24h1v1h-1zm0 5h1v1h-1zm0 4h1v1h-1zm0 24h1v1h-1zm0 7h1v1h-1zm0 2h1v1h-1zm1-18h1v4h-1zm0 9h1v1h-1zm0 2h1v2h-1zm0 3h1v5h-1zm2-9h1v1h-1zm0 4h1v1h-1zm1-82h1v6h-1zm0 11h1v1h-1zm0 2h1v1h-1zm0 2h1v1h-1zm0 2h1v1h-1zm0 4h1v1h-1zm0 7h1v1h-1zm0 3h1v1h-1zm0 5h1v1h-1zm0 26h1v1h-1zm0 24h1v2h-1zm0 4h1v1h-1zm0 8h1v1h-1zm1-95h1v2h-1zm0 5h1v1h-1zm0 2h1v2h-1zm0 7h1v1h-1zm0 2h1v2h-1zm0 6h1v1h-1zm0 20h1v1h-1zm0 3h1v1h-1zm0 3h1v1h-1zm0 14h1v1h-1zm0 17h1v2h-1zm0 7h1v1h-1zm0 2h1v1h-1zm0 5h1v1h-1zm1-84h1v6h-1zm0 8h1v2h-1zm0 15h1v2h-1zm0 5h1v1h-1zm0 4h1v1h-1zm0 9h1v1h-1zm0 4h1v1h-1zm0 2h1v4h-1zm0 32h1v1h-1zm0 5h1v1h-1zm1-55h1v1h-1zm0 34h1v1h-1zm1-76h1v1h-1zm0 9h1v2h-1zm0 3h1v1h-1zm0 28h1v3h-1zm0 9h1v1h-1zm0 11h1v1h-1zm0 2h1v2h-1zm0 7h1v2h-1zm0 6h1v3h-1zm0 7h1v3h-1zm0 5h1v1h-1zm0 6h1v1h-1zm0 7h1v1h-1zm1-94h1v1h-1zm0 2h1v1h-1zm0 2h1v1h-1zm0 5h1v1h-1zm0 3h1v1h-1zm0 12h1v2h-1zm0 8h1v2h-1zm0 3h1v2h-1zm0 4h1v2h-1zm0 9h1v1h-1zm0 6h1v2h-1zm0 8h1v5h-1zm0 12h1v1h-1zm0 7h1v1h-1zm0 7h1v2h-1zm0 3h1v1h-1zm1-93h1v1h-1zm0 23h1v3h-1zm0 4h1v1h-1zm0 4h1v2h-1zm0 3h1v1h-1zm0 7h1v1h-1zm0 32h1v2h-1zm0 7h1v2h-1zm1-83h1v3h-1zm0 5h1v1h-1zm0 2h1v1h-1zm0 6h1v1h-1zm0 2h1v1h-1zm0 5h1v1h-1zm0 3h1v1h-1zm0 4h1v1h-1zm0 5h1v3h-1zm0 5h1v1h-1zm0 5h1v1h-1zm0 3h1v1h-1zm0 11h1v1h-1zm0 2h1v2h-1zm0 3h1v1h-1zm0 4h1v1h-1zm0 4h1v1h-1zm1-10h1v3h-1zm0 38h1v1h-1zm3-97h1v1h-1zm0 9h1v2h-1zm0 9h1v1h-1zm0 2h1v2h-1zm0 6h1v1h-1zm0 2h1v1h-1zm0 7h1v1h-1zm0 4h1v1h-1zm0 4h1v1h-1zm0 5h1v1h-1zm0 4h1v1h-1zm0 3h1v1h-1zm0 30h1v1h-1zm0 5h1v1h-1zm0 3h1v1h-1zm0 2h1v2h-1zm0 3h1v1h-1zm1-48h1v1h-1zm0 2h1v2h-1zm0 3h1v1h-1zm0 10h1v1h-1zm0 10h1v3h-1zm1-4h1v2h-1zm1-51h1v1h-1zm0 2h1v2h-1zm0 8h1v1h-1zm0 7h1v2h-1zm0 18h1v3h-1zm0 4h1v1h-1zm0 7h1v1h-1zm0 4h1v1h-1zm1-57h1v1h-1zm0 3h1v1h-1zm0 2h1v2h-1zm0 28h1v1h-1zm0 9h1v1h-1zm0 4h1v2h-1zm0 11h1v1h-1zm0 27h1v2h-1zm1-96h1v1h-1zm0 58h1v1h-1zm0 4h1v2h-1zm0 5h1v1h-1zm3-65h1v2h-1zm0 11h1v1h-1zm0 10h1v2h-1zm0 26h1v3h-1zm0 6h1v1h-1zm0 2h1v2h-1zm0 6h1v1h-1zm0 10h1v1h-1zm0 14h1v1h-1zm0 12h1v1h-1zm1-81h1v2h-1zm0 8h1v2h-1zm0 22h1v1h-1zm0 12h1v1h-1zm0 21h1v2h-1zm0 3h1v1h-1zm0 3h1v2h-1zm0 5h1v1h-1zm0 2h1v3h-1zm1-96h1v1h-1zm0 2h1v4h-1zm0 10h1v1h-1zm0 3h1v2h-1zm0 3h1v1h-1zm0 2h1v1h-1zm0 11h1v3h-1zm0 4h1v1h-1zm0 33h1v3h-1zm0 6h1v2h-1zm0 8h1v1h-1zm0 2h1v1h-1zm0 4h1v1h-1zm1-88h1v2h-1zm0 6h1v1h-1zm0 18h1v1h-1zm0 3h1v1h-1zm0 8h1v2h-1zm0 4h1v1h-1zm0 13h1v1h-1zm0 2h1v1h-1zm0 2h1v1h-1zm0 3h1v1h-1zm0 3h1v1h-1zm0 13h1v1h-1zm0 2h1v1h-1zm0 3h1v1h-1zm0 10h1v1h-1zm0 3h1v1h-1zm3-85h1v1h-1zm0 11h1v2h-1zm0 11h1v2h-1zm0 5h1v1h-1zm0 2h1v1h-1zm0 2h1v3h-1zm0 43h1v3h-1zm0 5h1v2h-1zm0 3h1v1h-1zm0 4h1v1h-1zm0 4h1v1h-1zm3-85h1v1h-1zm1-9h1v1h-1zm0 3h1v1h-1zm0 2h1v1h-1zm0 4h1v1h-1zm0 5h1v1h-1zm0 8h1v1h-1zm0 5h1v1h-1zm0 6h1v1h-1zm0 3h1v3h-1zm0 7h1v3h-1zm0 5h1v1h-1zm0 7h1v1h-1zm0 5h1v1h-1zm0 11h1v1h-1zm0 7h1v1h-1zm1-76h1v1h-1zm0 5h1v1h-1zm0 2h1v1h-1zm0 2h1v1h-1zm0 2h1v1h-1zm0 2h1v4h-1zm0 12h1v1h-1zm0 3h1v1h-1zm0 2h1v2h-1zm0 4h1v1h-1zm0 2h1v1h-1zm0 17h1v1h-1zm0 2h1v1h-1zm0 12h1v1h-1zm0 9h1v1h-1zm0 9h1v1h-1zm1-87h1v2h-1zm0 4h1v1h-1zm0 3h1v1h-1zm0 5h1v1h-1zm0 4h1v1h-1zm0 2h1v1h-1zm0 19h1v1h-1zm0 2h1v3h-1zm0 23h1v1h-1zm0 2h1v1h-1zm0 2h1v1h-1zm1-6h1v1h-1zm0 5h1v2h-1zm0 21h1v1h-1zm0 2h1v1h-1zm1-89h1v1h-1zm0 2h1v1h-1zm0 2h1v1h-1zm0 3h1v2h-1zm0 3h1v1h-1zm0 4h1v1h-1zm0 2h1v3h-1zm0 4h1v1h-1zm0 3h1v1h-1zm0 6h1v3h-1zm0 9h1v1h-1zm0 3h1v1h-1zm0 5h1v1h-1zm0 3h1v1h-1zm0 4h1v2h-1zm0 14h1v1h-1zm0 5h1v1h-1zm0 14h1v2h-1zm0 3h1v1h-1zm0 5h1v1h-1zm0 2h1v1h-1zm1-98h1v1h-1zm0 3h1v2h-1zm0 4h1v1h-1zm0 2h1v1h-1zm0 2h1v3h-1zm0 6h1v1h-1zm0 14h1v1h-1zm0 23h1v1h-1zm0 10h1v1h-1zm0 2h1v1h-1zm0 10h1v1h-1zm0 21h1v1h-1zm0 2h1v1h-1zm1-99h1v1h-1zm0 15h1v1h-1zm0 4h1v1h-1zm0 3h1v1h-1zm0 3h1v1h-1zm0 35h1v3h-1zm0 4h1v1h-1zm0 2h1v1h-1zm0 16h1v2h-1zm0 6h1v1h-1zm0 2h1v1h-1zm2-77h1v1h-1zm0 3h1v1h-1zm0 2h1v1h-1zm0 6h1v3h-1zm0 4h1v1h-1zm0 16h1v1h-1zm0 3h1v1h-1zm0 18h1v6h-1zm0 7h1v1h-1zm0 5h1v1h-1zm0 5h1v2h-1zm0 3h1v1h-1zm0 9h1v1h-1zm0 2h1v1h-1zm5-97h1v4h-1zm0 9h1v1h-1zm0 8h1v2h-1zm0 6h1v1h-1zm0 2h1v1h-1zm0 4h1v1h-1zm0 3h1v2h-1zm0 3h1v1h-1zm0 5h1v1h-1zm0 3h1v3h-1zm0 4h1v2h-1zm0 7h1v1h-1zm0 2h1v1h-1zm0 8h1v1h-1zm0 2h1v1h-1zm0 6h1v1h-1zm0 2h1v2h-1zm0 3h1v1h-1zm0 15h1v1h-1zm0 7h1v1h-1zm1-86h1v2h-1zm0 3h1v1h-1zm0 6h1v2h-1zm0 8h1v3h-1zm0 20h1v1h-1zm0 16h1v2h-1zm0 4h1v1h-1zm0 4h1v1h-1zm0 6h1v1h-1zm0 2h1v1h-1zm0 8h1v1h-1zm0 4h1v3h-1zm0 5h1v1h-1zm1-51h1v1h-1zm0 3h1v1h-1zm0 24h1v1h-1zm1-72h1v1h-1zm0 16h1v1h-1zm0 13h1v1h-1zm0 4h1v1h-1zm0 2h1v1h-1zm0 5h1v1h-1zm0 3h1v1h-1zm0 27h1v1h-1zm0 11h1v1h-1zm0 3h1v1h-1zm0 2h1v1h-1zm1-70h1v1h-1zm0 4h1v2h-1zm0 17h1v1h-1zm0 2h1v1h-1zm0 4h1v1h-1zm0 3h1v1h-1zm0 2h1v1h-1zm0 30h1v2h-1zm0 4h1v2h-1zm0 8h1v1h-1zm0 3h1v1h-1zm0 2h1v1h-1zm0 3h1v1h-1zm1-5h1v1h-1zm1-91h1v1h-1zm0 5h1v1h-1zm0 3h1v2h-1zm0 3h1v2h-1zm0 10h1v1h-1zm0 32h1v3h-1zm0 5h1v1h-1zm0 38h1v1h-1zm1-101h1v1h-1zm0 4h1v1h-1zm0 18h1v1h-1zm0 5h1v1h-1zm0 2h1v3h-1zm0 10h1v1h-1zm0 5h1v2h-1zm0 5h1v1h-1zm0 8h1v1h-1zm0 2h1v5h-1zm0 6h1v1h-1zm0 25h1v1h-1zm0 5h1v2h-1zm3-28h1v1h-1zm1-55h1v1h-1zm0 6h1v2h-1zm0 13h1v5h-1zm0 10h1v2h-1zm0 4h1v1h-1zm0 9h1v1h-1zm0 13h1v1h-1zm0 2h1v5h-1zm0 6h1v1h-1zm0 3h1v1h-1zm0 13h1v1h-1zm0 8h1v1h-1zm1-90h1v1h-1zm0 2h1v1h-1zm0 5h1v2h-1zm0 3h1v2h-1zm0 6h1v2h-1zm0 27h1v1h-1zm0 6h1v1h-1zm0 13h1v1h-1zm0 23h1v1h-1zm0 3h1v1h-1zm0 2h1v1h-1zm1-92h1v1h-1zm0 2h1v1h-1zm0 21h1v1h-1zm0 11h1v4h-1zm0 6h1v1h-1zm0 9h1v1h-1zm0 4h1v2h-1zm0 6h1v1h-1zm0 5h1v1h-1zm0 12h1v2h-1zm0 9h1v1h-1zm1-90h1v2h-1zm0 5h1v3h-1zm0 4h1v1h-1zm0 6h1v1h-1zm0 2h1v2h-1zm0 4h1v1h-1zm0 2h1v1h-1zm0 12h1v1h-1zm0 15h1v2h-1zm0 3h1v1h-1zm0 4h1v2h-1zm0 4h1v2h-1zm0 4h1v1h-1zm0 6h1v1h-1zm0 11h1v2h-1zm0 3h1v1h-1zm1-7h1v1h-1zm0 10h1v2h-1zm1-90h1v1h-1zm0 4h1v1h-1zm0 4h1v1h-1zm0 3h1v1h-1zm0 2h1v1h-1zm0 3h1v1h-1zm0 2h1v1h-1zm0 2h1v1h-1zm0 2h1v1h-1zm0 2h1v1h-1zm0 8h1v2h-1zm0 20h1v5h-1zm0 7h1v3h-1zm0 6h1v1h-1zm0 27h1v1h-1zm0 2h1v1h-1zm0 5h1v1h-1zm1-86h1v1h-1zm0 15h1v1h-1zm0 10h1v1h-1zm0 3h1v2h-1zm0 3h1v2h-1zm0 10h1v2h-1zm0 6h1v2h-1zm0 4h1v1h-1zm0 3h1v1h-1zm0 7h1v1h-1zm0 7h1v1h-1zm0 2h1v1h-1zm0 2h1v2h-1zm0 4h1v1h-1zm0 7h1v1h-1zm2-96h1v2h-1zm0 6h1v1h-1zm0 3h1v1h-1zm0 18h1v4h-1zm0 5h1v1h-1zm0 7h1v2h-1zm0 6h1v3h-1zm0 17h1v2h-1zm0 3h1v1h-1zm1-63h1v4h-1zm0 26h1v1h-1zm0 28h1v1h-1zm1-54h1v1h-1zm0 8h1v1h-1zm0 12h1v1h-1zm0 34h1v1h-1zm0 8h1v1h-1zm0 5h1v1h-1zm0 2h1v5h-1zm0 6h1v3h-1zm0 4h1v1h-1zm0 3h1v1h-1zm0 4h1v1h-1zm0 8h1v1h-1zm0 5h1v1h-1zm2-100h1v2h-1zm0 11h1v1h-1zm0 21h1v1h-1zm0 25h1v2h-1zm0 8h1v1h-1zm0 15h1v2h-1zm0 5h1v1h-1zm0 15h1v1h-1zm2-95h1v3h-1zm0 7h1v1h-1zm0 17h1v2h-1zm0 9h1v2h-1zm0 20h1v3h-1zm0 7h1v1h-1zm0 9h1v2h-1zm0 4h1v1h-1zm0 7h1v2h-1zm0 4h1v3h-1zm0 6h1v1h-1zm1-66h1v1h-1zm0 2h1v1h-1zm0 13h1v1h-1zm0 6h1v2h-1zm0 50h1v1h-1zm4-100h1v2h-1zm0 37h1v1h-1zm0 42h1v1h-1zm0 10h1v1h-1zm0 2h1v1h-1zm1-92h1v1h-1zm0 2h1v2h-1zm0 4h1v2h-1zm0 18h1v1h-1zm0 3h1v1h-1zm0 3h1v2h-1zm0 7h1v1h-1zm0 3h1v1h-1zm0 2h1v2h-1zm0 5h1v1h-1zm0 2h1v1h-1zm0 3h1v1h-1zm0 3h1v1h-1zm0 9h1v1h-1zm0 2h1v1h-1zm0 14h1v1h-1zm0 6h1v1h-1zm0 2h1v2h-1zm1-74h1v1h-1zm1 6h1v1h-1zm0 4h1v1h-1zm0 6h1v2h-1zm0 17h1v1h-1zm0 8h1v1h-1zm0 5h1v1h-1zm1-59h1v1h-1zm0 13h1v3h-1zm0 11h1v1h-1zm0 29h1v3h-1zm0 11h1v1h-1zm0 5h1v2h-1zm0 11h1v1h-1zm0 2h1v2h-1zm0 3h1v1h-1zm2-18h1v2h-1zm0 19h1v1h-1zm0 4h1v1h-1zm0 6h1v1h-1zm1-91h1v2h-1zm0 3h1v1h-1zm0 7h1v1h-1zm0 85h1v1h-1zm1-97h1v1h-1zm0 15h1v1h-1zm0 3h1v1h-1zm0 10h1v1h-1zm0 18h1v1h-1zm0 8h1v1h-1zm0 4h1v1h-1zm0 13h1v3h-1zm0 8h1v1h-1zm0 10h1v2h-1zm1-93h1v1h-1zm0 9h1v1h-1zm0 4h1v1h-1zm0 2h1v2h-1zm0 6h1v1h-1zm0 6h1v1h-1zm0 3h1v1h-1zm0 14h1v1h-1zm0 16h1v1h-1zm0 13h1v3h-1zm0 35h1v1h-1zm1-103h1v2h-1zm0 9h1v1h-1zm0 3h1v1h-1zm0 3h1v1h-1zm0 18h1v1h-1zm0 2h1v1h-1zm0 10h1v2h-1zm0 8h1v3h-1zm0 9h1v1h-1zm1-64h1v1h-1zm0 10h1v1h-1zm0 13h1v1h-1zm0 3h1v1h-1zm0 8h1v1h-1zm1-28h1v1h-1zm0 23h1v1h-1zm0 6h1v1h-1zm0 9h1v1h-1zm0 7h1v1h-1zm1-50h1v1h-1zm0 2h1v1h-1zm0 15h1v1h-1zm0 10h1v1h-1zm0 9h1v1h-1zm0 9h1v1h-1zm0 39h1v2h-1zm0 6h1v1h-1zm0 9h1v1h-1zm1-101h1v1h-1zm0 6h1v2h-1zm0 5h1v1h-1zm0 7h1v1h-1zm0 6h1v2h-1zm0 4h1v2h-1zm0 3h1v1h-1zm0 59h1v1h-1zm1-92h1v2h-1zm0 22h1v1h-1zm0 7h1v1h-1zm0 6h1v1h-1zm0 34h1v1h-1zm0 4h1v1h-1zm0 13h1v1h-1zm1-26h1v1h-1zm0 28h1v1h-1zm0 15h1v1h-1zm1-101h1v1h-1zm0 2h1v1h-1zm0 3h1v1h-1zm0 23h1v1h-1zm0 8h1v1h-1zm0 17h1v1h-1zm1-52h1v1h-1zm0 10h1v1h-1zm0 6h1v1h-1zm0 3h1v1h-1zm0 23h1v2h-1zm0 7h1v3h-1zm0 28h1v1h-1zm0 18h1v1h-1zm1-86h1v1h-1zm0 30h1v1h-1zm0 39h1v1h-1zm0 15h1v1h-1zm1-73h1v1h-1zm0 75h1v2h-1zm2-71h1v1h-1zm0 38h1v1h-1zm1-61h1v2h-1zm0 20h1v1h-1zm0 7h1v1h-1zm0 22h1v1h-1zm0 17h1v1h-1zm0 8h1v1h-1zm0 8h1v1h-1zm0 17h1v1h-1zm1-91h1v1h-1zm0 4h1v1h-1zm0 4h1v1h-1zm0 37h1v1h-1zm0 26h1v1h-1zm0 11h1v1h-1zm1-91h1v1h-1zm1 55h1v2h-1zm0 27h1v1h-1zm0 6h1v1h-1zm0 10h1v1h-1zm1-75h1v1h-1zm0 7h1v1h-1zm0 3h1v1h-1zm0 11h1v1h-1zm0 4h1v1h-1zm0 26h1v1h-1zm1-77h1v1h-1zm0 2h1v1h-1zm0 28h1v2h-1zm0 3h1v1h-1zm0 40h1v1h-1zm0 10h1v1h-1zm0 10h1v2h-1zm0 3h1v1h-1zm0 3h1v3h-1zm1-78h1v3h-1zm0 13h1v1h-1zm0 10h1v2h-1zm0 16h1v1h-1zm0 19h1v1h-1zm0 2h1v2h-1zm0 7h1v1h-1zm1-87h1v1h-1zm0 2h1v1h-1zm0 62h1v1h-1zm0 12h1v2h-1zm0 12h1v1h-1zm1-89h1v1h-1zm0 11h1v1h-1zm0 33h1v1h-1zm0 11h1v1h-1zm0 29h1v1h-1zm0 4h1v1h-1zm1-75h1v2h-1zm0 27h1v1h-1zm0 4h1v1h-1zm0 20h1v1h-1zm0 14h1v1h-1zm0 12h1v1h-1zm0 5h1v1h-1zm0 2h1v1h-1zm0 2h1v1h-1zm1-93h1v1h-1zm0 14h1v1h-1zm0 2h1v1h-1zm0 15h1v2h-1zm0 23h1v2h-1zm0 21h1v2h-1zm0 11h1v1h-1zm1-88h1v1h-1zm0 42h1v1h-1zm0 6h1v1h-1zm0 8h1v1h-1zm0 2h1v1h-1zm0 6h1v1h-1zm1-68h1v1h-1zm0 27h1v1h-1zm0 2h1v1h-1zm0 12h1v1h-1zm0 2h1v1h-1zm1-9h1v1h-1zm0 5h1v1h-1zm0 31h1v1h-1zm0 13h1v1h-1zm0 12h1v1h-1zm1-58h1v2h-1zm0 3h1v1h-1zm0 12h1v1h-1zm0 23h1v1h-1zm0 3h1v1h-1zm0 10h1v1h-1zm1-81h1v2h-1zm0 9h1v1h-1zm0 6h1v2h-1zm0 24h1v3h-1zm0 21h1v1h-1zm1-57h1v1h-1zm0 4h1v1h-1zm0 40h1v1h-1zm0 30h1v1h-1zm0 12h1v1h-1zm1-93h1v2h-1zm0 4h1v1h-1zm0 17h1v1h-1zm0 6h1v1h-1zm0 16h1v1h-1zm0 3h1v1h-1zm0 24h1v1h-1zm0 10h1v1h-1zm1-76h1v1h-1zm0 8h1v1h-1zm0 10h1v1h-1zm0 12h1v1h-1zm0 10h1v1h-1zm0 3h1v1h-1zm0 28h1v1h-1zm0 23h1v1h-1zm1-99h1v1h-1zm0 8h1v1h-1zm0 2h1v1h-1zm0 2h1v1h-1zm0 7h1v1h-1zm0 5h1v1h-1zm0 5h1v1h-1zm0 23h1v1h-1zm0 42h1v1h-1zm0 3h1v1h-1zm0 3h1v1h-1zm1-75h1v1h-1zm0 14h1v2h-1zm0 20h1v1h-1zm0 14h1v1h-1zm0 6h1v1h-1zm0 8h1v2h-1zm0 4h1v1h-1zm1-93h1v1h-1zm0 6h1v1h-1zm0 2h1v1h-1zm0 6h1v1h-1zm0 40h1v1h-1zm0 5h1v1h-1zm0 17h1v1h-1zm0 15h1v1h-1zm1-75h1v2h-1zm0 30h1v1h-1zm0 8h1v1h-1zm0 49h1v1h-1zm2-73h1v2h-1zm0 16h1v2h-1zm0 3h1v4h-1zm0 13h1v1h-1zm1-53h1v2h-1zm0 29h1v1h-1zm0 6h1v1h-1zm0 35h1v1h-1zm0 15h1v1h-1zm1-91h1v1h-1zm0 29h1v1h-1zm0 41h1v1h-1zm0 4h1v1h-1zm1-66h1v1h-1zm0 13h1v1h-1zm0 3h1v1h-1zm0 4h1v2h-1zm0 18h1v1h-1zm0 26h1v1h-1zm0 3h1v1h-1zm0 8h1v3h-1zm0 7h1v1h-1zm1-93h1v1h-1zm0 2h1v1h-1zm0 12h1v1h-1zm0 2h1v1h-1zm0 17h1v1h-1zm0 3h1v1h-1zm0 4h1v2h-1zm0 4h1v2h-1zm0 3h1v1h-1zm0 4h1v1h-1zm0 32h1v1h-1zm0 7h1v1h-1zm1-73h1v1h-1zm0 5h1v1h-1zm0 3h1v1h-1zm0 7h1v1h-1zm0 19h1v1h-1zm0 4h1v1h-1zm0 5h1v2h-1zm0 6h1v1h-1zm0 19h1v1h-1zm0 2h1v1h-1zm0 3h1v1h-1zm0 4h1v2h-1zm0 6h1v1h-1zm1-95h1v1h-1zm0 9h1v1h-1zm0 6h1v1h-1zm0 4h1v1h-1zm0 8h1v1h-1zm0 3h1v2h-1zm0 8h1v1h-1zm0 2h1v1h-1zm0 8h1v1h-1zm0 4h1v1h-1zm0 3h1v1h-1zm0 3h1v1h-1zm0 2h1v1h-1zm0 4h1v1h-1zm0 9h1v1h-1zm0 14h1v2h-1zm0 4h1v1h-1zm0 6h1v1h-1zm2-100h1v1h-1zm0 11h1v1h-1zm0 2h1v1h-1zm0 22h1v2h-1zm0 8h1v1h-1zm0 14h1v2h-1zm0 24h1v1h-1zm0 11h1v1h-1zm0 2h1v1h-1zm0 5h1v1h-1zm0 2h1v1h-1zm1-77h1v1h-1zm0 19h1v1h-1zm0 19h1v1h-1zm1 7h1v1h-1zm0 32h1v1h-1zm1-65h1v1h-1zm1 8h1v1h-1zm0 18h1v2h-1zm0 30h1v1h-1zm0 8h1v1h-1zm1-101h1v1h-1zm0 2h1v1h-1zm0 24h1v1h-1zm0 11h1v1h-1zm0 24h1v1h-1zm0 34h1v1h-1zm0 5h1v1h-1zm1-96h1v1h-1zm0 2h1v1h-1zm0 14h1v1h-1zm0 38h1v3h-1zm0 14h1v1h-1zm0 23h1v1h-1zm0 3h1v1h-1zm2-84h1v2h-1zm0 25h1v1h-1zm0 7h1v1h-1zm0 5h1v1h-1zm0 7h1v2h-1zm0 7h1v2h-1zm0 23h1v1h-1zm0 7h1v1h-1zm0 2h1v1h-1zm0 3h1v1h-1zm2-85h1v1h-1zm2 3h1v1h-1zm0 25h1v1h-1zm0 4h1v1h-1zm0 4h1v1h-1zm0 13h1v1h-1zm0 4h1v1h-1zm0 18h1v1h-1zm0 3h1v1h-1zm0 6h1v1h-1zm1-92h1v1h-1zm0 6h1v1h-1zm0 7h1v1h-1zm0 10h1v1h-1zm0 20h1v1h-1zm0 13h1v1h-1zm0 3h1v1h-1zm0 4h1v1h-1zm0 16h1v1h-1zm0 6h1v1h-1zm0 9h1v1h-1zm1-77h1v1h-1zm0 6h1v1h-1zm0 16h1v1h-1zm0 11h1v1h-1zm0 21h1v2h-1zm0 5h1v1h-1zm0 4h1v1h-1zm0 4h1v1h-1zm0 2h1v2h-1zm0 3h1v1h-1zm0 10h1v1h-1zm1-77h1v2h-1zm0 4h1v1h-1zm0 4h1v1h-1zm0 42h1v1h-1zm0 2h1v1h-1zm0 4h1v1h-1zm0 7h1v1h-1zm0 5h1v1h-1zm0 3h1v1h-1zm0 3h1v1h-1zm0 3h1v1h-1zm2-85h1v1h-1zm0 24h1v1h-1zm0 36h1v2h-1zm0 14h1v1h-1zm1-92h1v1h-1zm0 6h1v2h-1zm0 21h1v1h-1zm0 15h1v2h-1zm0 4h1v1h-1zm0 2h1v1h-1zm0 5h1v1h-1zm0 15h1v1h-1zm0 23h1v1h-1zm1-83h1v1h-1zm0 17h1v1h-1zm0 7h1v2h-1zm0 11h1v1h-1zm0 3h1v1h-1zm0 6h1v1h-1zm0 14h1v2h-1zm0 19h1v1h-1zm0 2h1v1h-1zm3-80h1v1h-1zm0 4h1v3h-1zm0 4h1v1h-1zm0 26h1v2h-1zm0 4h1v1h-1zm0 4h1v2h-1zm0 10h1v1h-1zm0 9h1v1h-1zm0 2h1v1h-1zm0 7h1v1h-1zm0 19h1v1h-1zm2-82h1v1h-1zm0 7h1v1h-1zm0 4h1v1h-1zm0 18h1v1h-1zm0 4h1v1h-1zm0 9h1v1h-1zm0 9h1v1h-1zm0 11h1v1h-1zm0 10h1v1h-1zm0 4h1v1h-1zm0 5h1v2h-1zm0 8h1v1h-1zm1-92h1v1h-1zm0 8h1v1h-1zm0 8h1v2h-1zm0 10h1v1h-1zm0 4h1v1h-1zm0 2h1v1h-1zm0 48h1v1h-1zm0 6h1v1h-1zm1-47h1v2h-1zm0 11h1v1h-1zm0 11h1v1h-1zm0 28h1v1h-1zm0 2h1v2h-1zm1-92h1v1h-1zm0 9h1v1h-1zm0 8h1v1h-1zm0 2h1v1h-1zm0 9h1v3h-1zm0 27h1v1h-1zm0 31h1v1h-1zm0 3h1v1h-1zm0 4h1v1h-1zm1-101h1v1h-1zm0 3h1v3h-1zm0 92h1v1h-1zm0 5h1v1h-1zm1-101h1v1h-1zm0 2h1v1h-1zm0 3h1v1h-1zm0 22h1v1h-1zm0 4h1v1h-1zm0 22h1v1h-1zm0 9h1v1h-1zm0 39h1v1h-1zm1-102h1v2h-1zm0 6h1v1h-1zm0 2h1v1h-1zm0 12h1v2h-1zm0 9h1v1h-1zm0 24h1v1h-1zm0 21h1v1h-1zm0 22h1v1h-1zm1-87h1v2h-1zm0 11h1v1h-1zm0 6h1v3h-1zm0 13h1v1h-1zm0 62h1v2h-1zm1-95h1v1h-1zm0 10h1v1h-1zm0 13h1v1h-1zm0 6h1v1h-1zm0 2h1v1h-1zm0 6h1v1h-1zm0 2h1v1h-1zm0 3h1v1h-1zm0 4h1v1h-1zm0 9h1v1h-1zm0 19h1v1h-1zm0 3h1v1h-1zm0 8h1v1h-1zm2-71h1v1h-1zm0 13h1v1h-1zm0 15h1v1h-1zm0 5h1v1h-1zm0 21h1v1h-1zm0 13h1v1h-1zm0 13h1v1h-1zm1-88h1v1h-1zm0 2h1v1h-1zm0 13h1v1h-1zm0 3h1v1h-1zm0 5h1v1h-1zm0 3h1v1h-1zm0 19h1v1h-1zm0 8h1v1h-1zm0 2h1v1h-1zm0 10h1v1h-1zm1-59h1v1h-1zm0 4h1v1h-1zm0 3h1v2h-1zm0 13h1v1h-1zm0 19h1v4h-1zm0 8h1v1h-1zm0 2h1v1h-1zm0 8h1v1h-1zm0 10h1v1h-1zm0 11h1v1h-1zm1-82h1v1h-1zm0 7h1v1h-1zm0 8h1v1h-1zm0 2h1v2h-1zm0 45h1v1h-1zm0 7h1v1h-1zm0 10h1v1h-1zm1-86h1v1h-1zm0 27h1v1h-1zm0 13h1v2h-1zm0 26h1v1h-1zm0 6h1v1h-1zm1-78h1v3h-1zm0 21h1v1h-1zm0 43h1v1h-1zm0 2h1v1h-1zm0 7h1v2h-1zm1-41h1v1h-1zm0 24h1v1h-1zm0 15h1v1h-1zm1-61h1v2h-1zm0 34h1v1h-1zm0 3h1v2h-1zm0 15h1v1h-1zm0 2h1v2h-1zm0 7h1v1h-1zm0 11h1v1h-1zm0 4h1v1h-1zm1-61h1v1h-1zm0 46h1v1h-1zm1-36h1v2h-1zm0 32h1v1h-1zm0 2h1v1h-1zm1-63h1v1h-1zm0 11h1v1h-1zm0 4h1v1h-1zm0 7h1v1h-1zm0 46h1v1h-1zm0 12h1v1h-1zm0 11h1v1h-1zm1-88h1v2h-1zm0 47h1v1h-1zm0 40h1v1h-1zm1-58h1v1h-1zm0 16h1v1h-1zm0 6h1v1h-1zm1-46h1v1h-1zm0 7h1v1h-1zm0 12h1v1h-1zm0 14h1v1h-1zm0 13h1v1h-1zm0 5h1v1h-1zm0 19h1v1h-1zm1-68h1v1h-1zm0 40h1v1h-1zm1-40h1v1h-1zm0 13h1v1h-1zm0 9h1v1h-1zm0 18h1v1h-1zm0 3h1v1h-1zm0 18h1v1h-1zm2-68h1v1h-1zm0 51h1v1h-1zm0 17h1v1h-1zm0 13h1v1h-1zm1-84h1v1h-1zm0 5h1v1h-1zm0 6h1v1h-1zm0 16h1v2h-1zm0 15h1v2h-1zm0 3h1v1h-1zm1-43h1v1h-1zm0 36h1v1h-1zm0 13h1v1h-1zm0 16h1v1h-1zm0 8h1v1h-1zm0 20h1v1h-1zm1-90h1v1h-1zm0 8h1v1h-1zm0 54h1v1h-1zm1-41h1v1h-1zm0 15h1v1h-1zm0 6h1v1h-1zm0 3h1v1h-1zm1-49h1v1h-1zm0 2h1v1h-1zm0 10h1v1h-1zm0 2h1v1h-1zm0 40h1v1h-1zm0 8h1v2h-1zm1-50h1v1h-1zm0 11h1v1h-1zm0 13h1v1h-1zm0 9h1v1h-1zm0 11h1v1h-1zm0 10h1v1h-1zm0 2h1v1h-1zm1-48h1v1h-1zm0 13h1v1h-1zm0 5h1v1h-1zm0 12h1v1h-1zm0 24h1v1h-1zm1-61h1v1h-1zm0 26h1v1h-1zm0 33h1v2h-1zm1-49h1v2h-1zm0 13h1v2h-1zm0 3h1v1h-1zm0 13h1v1h-1zm0 9h1v1h-1zm1-47h1v1h-1zm0 30h1v2h-1zm0 10h1v1h-1zm0 8h1v1h-1zm0 3h1v2h-1zm0 3h1v1h-1zm0 2h1v1h-1zm0 18h1v1h-1zm0 5h1v1h-1zm0 3h1v1h-1zm1-84h1v1h-1zm0 12h1v1h-1zm0 20h1v1h-1zm0 4h1v1h-1zm0 22h1v1h-1zm1-55h1v1h-1zm0 15h1v1h-1zm0 25h1v1h-1zm0 3h1v1h-1zm0 4h1v1h-1zm0 4h1v3h-1zm1-69h1v1h-1zm0 15h1v1h-1zm0 14h1v1h-1zm0 3h1v1h-1zm0 14h1v1h-1zm0 6h1v1h-1zm0 10h1v1h-1zm1-65h1v1h-1zm0 25h1v3h-1zm0 9h1v1h-1zm0 11h1v1h-1zm0 14h1v3h-1zm0 4h1v1h-1zm0 42h1v1h-1zm1-104h1v1h-1zm0 11h1v1h-1zm1-14h1v1h-1zm0 3h1v1h-1zm0 91h1v1h-1zm0 3h1v1h-1zm1-15h1v1h-1zm0 6h1v1h-1zm1-77h1v1h-1zm0 2h1v1h-1zm0 66h1v1h-1zm0 17h1v2h-1zm1-96h1v1h-1zm0 8h1v1h-1zm0 17h1v1h-1zm0 6h1v1h-1zm0 17h1v1h-1zm0 3h1v1h-1zm0 10h1v2h-1zm1-56h1v1h-1zm0 55h1v1h-1zm0 25h1v1h-1zm1-85h1v1h-1zm2 1h1v1h-1zm2 1h1v1h-1zm1-1h1v1h-1zm0 9h1v1h-1zm0 9h1v1h-1zm0 56h1v1h-1zm1-36h1v1h-1zm0 7h1v1h-1zm1-45h1v1h-1zm2 42h1v1h-1zm1-43h1v3h-1zm2 1h1v1h-1zm2 19h1v1h-1zm6-2h1v2h-1zm0 4h1v1h-1zm1-22h1v1h-1zm0 71h1v1h-1zm0 9h1v1h-1zm4-77h1v1h-1zm2 6h1v1h-1zm0 12h1v1h-1zm0 39h1v1h-1zm0 12h1v1h-1zm0 2h1v1h-1zm1-74h1v1h-1zm0 4h1v1h-1zm0 32h1v1h-1zm0 45h1v1h-1zm0 3h1v1h-1zm0 2h1v1h-1zm0 2h1v1h-1zm1-83h1v1h-1zm0 22h1v1h-1zm0 3h1v1h-1zm0 60h1v1h-1zm4-8h1v1h-1zm2-56h1v1h-1zm0 37h1v1h-1zm0 15h1v1h-1zm1-71h1v1h-1zm0 46h1v1h-1zm3-23h1v1h-1zm0 2h1v1h-1zm0 16h1v1h-1zm0 21h1v1h-1zm4-31h1v1h-1zm0 57h1v1h-1zm1-95h1v1h-1zm0 37h1v1h-1zm0 30h1v1h-1zm0 10h1v1h-1zm2-39h1v1h-1zm2-1h1v1h-1zm0 8h1v1h-1zm0 2h1v1h-1zm0 48h1v1h-1zm2-81h1v1h-1zm0 12h1v1h-1zm0 27h1v2h-1zm3-34h1v2h-1zm3-11h1v1h-1zm0 5h1v1h-1zm0 8h1v1h-1zm0 8h1v1h-1zm0 3h1v1h-1zm0 16h1v1h-1zm0 33h1v1h-1zm0 9h1v1h-1zm1-49h1v1h-1zm9-23h1v1h-1zm1 15h1v1h-1zm0 34h1v1h-1zm0 12h1v2h-1zm1-67h1v1h-1zm0 25h1v1h-1zm0 8h1v1h-1zm0 41h1v1h-1zm1-44h1v1h-1zm1-39h1v1h-1zm0 5h1v1h-1zm5 68h1v1h-1zm0 12h1v1h-1z"/><path fill="#75cc60" d="M0 5h1v1h-1zm0 2h1v1h-1zm0 11h1v2h-1zm0 3h1v1h-1zm0 13h1v1h-1zm0 4h1v2h-1zm0 42h1v1h-1zm0 2h1v1h-1zm0 6h1v1h-1zm0 12h1v1h-1zm1-86h1v1h-1zm0 27h1v1h-1zm0 2h1v2h-1zm0 3h1v1h-1zm0 5h1v1h-1zm0 16h1v1h-1zm0 2h1v1h-1zm0 4h1v1h-1zm1-62h1v1h-1zm0 11h1v1h-1zm0 2h1v1h-1zm0 7h1v2h-1zm0 9h1v1h-1zm0 6h1v2h-1zm0 3h1v1h-1zm0 2h1v2h-1zm0 10h1v1h-1zm0 3h1v1h-1zm0 2h1v3h-1zm0 7h1v2h-1zm0 23h1v1h-1zm0 3h1v1h-1zm2-43h1v1h-1zm0 9h1v2h-1zm0 4h1v2h-1zm2-66h1v1h-1zm0 12h1v1h-1zm0 52h1v1h-1zm0 2h1v1h-1zm0 2h1v3h-1zm0 12h1v1h-1zm1-78h1v1h-1zm0 9h1v1h-1zm0 22h1v2h-1zm0 8h1v1h-1zm0 9h1v1h-1zm0 6h1v1h-1zm0 5h1v1h-1zm0 3h1v1h-1zm0 2h1v2h-1zm1-69h1v2h-1zm0 3h1v1h-1zm0 8h1v1h-1zm0 2h1v2h-1zm0 4h1v1h-1zm0 6h1v1h-1zm0 22h1v1h-1zm0 3h1v2h-1zm0 3h1v4h-1zm0 5h1v1h-1zm0 4h1v3h-1zm1-36h1v1h-1zm0 54h1v5h-1zm0 6h1v1h-1zm0 3h1v1h-1zm1-74h1v2h-1zm0 3h1v2h-1zm0 7h1v1h-1zm0 7h1v2h-1zm0 4h1v1h-1zm0 3h1v2h-1zm0 4h1v1h-1zm0 2h1v2h-1zm0 21h1v1h-1zm0 4h1v1h-1zm0 15h1v1h-1zm0 7h1v1h-1zm0 2h1v6h-1zm0 8h1v1h-1zm1-18h1v1h-1zm1-82h1v1h-1zm0 7h1v2h-1zm0 3h1v1h-1zm0 3h1v1h-1zm0 2h1v1h-1zm0 4h1v1h-1zm0 7h1v2h-1zm0 7h1v4h-1zm0 7h1v1h-1zm0 2h1v2h-1zm0 47h1v2h-1zm1-83h1v1h-1zm0 4h1v1h-1zm0 37h1v2h-1zm0 3h1v1h-1zm0 4h1v1h-1zm0 2h1v2h-1zm0 3h1v2h-1zm0 3h1v4h-1zm0 23h1v5h-1zm0 6h1v1h-1zm2-53h1v4h-1zm0 6h1v4h-1zm0 6h1v1h-1zm0 15h1v2h-1zm0 12h1v3h-1zm3-45h1v2h-1zm0 14h1v1h-1zm0 36h1v1h-1zm3-80h1v3h-1zm0 6h1v3h-1zm0 4h1v1h-1zm0 8h1v1h-1zm0 4h1v1h-1zm0 2h1v1h-1zm0 4h1v3h-1zm0 16h1v1h-1zm0 6h1v1h-1zm0 4h1v2h-1zm0 4h1v1h-1zm0 12h1v2h-1zm0 8h1v1h-1zm0 3h1v2h-1zm0 8h1v1h-1zm0 6h1v1h-1zm1-91h1v1h-1zm0 6h1v1h-1zm0 2h1v1h-1zm0 3h1v1h-1zm0 4h1v1h-1zm0 2h1v1h-1zm0 40h1v1h-1zm0 2h1v3h-1zm0 4h1v1h-1zm1-65h1v1h-1zm0 2h1v1h-1zm0 14h1v1h-1zm0 12h1v1h-1zm0 2h1v2h-1zm0 7h1v1h-1zm0 4h1v1h-1zm0 10h1v1h-1zm0 2h1v3h-1zm0 23h1v1h-1zm0 4h1v2h-1zm0 6h1v1h-1zm0 10h1v1h-1zm3-80h1v1h-1zm0 2h1v1h-1zm0 10h1v1h-1zm0 48h1v1h-1zm1-62h1v1h-1zm0 28h1v1h-1zm0 12h1v1h-1zm1-52h1v1h-1zm0 57h1v1h-1zm0 3h1v1h-1zm2-66h1v1h-1zm0 4h1v4h-1zm0 29h1v1h-1zm0 7h1v1h-1zm0 2h1v2h-1zm0 3h1v1h-1zm0 2h1v1h-1zm0 7h1v1h-1zm0 3h1v1h-1zm0 3h1v1h-1zm0 4h1v3h-1zm0 4h1v1h-1zm0 3h1v1h-1zm0 20h1v1h-1zm2-68h1v1h-1zm0 7h1v3h-1zm0 6h1v1h-1zm0 12h1v1h-1zm0 4h1v1h-1zm0 2h1v1h-1zm0 3h1v1h-1zm0 7h1v1h-1zm0 10h1v1h-1zm0 2h1v1h-1zm0 6h1v1h-1zm0 5h1v2h-1zm0 8h1v1h-1zm1-86h1v3h-1zm0 5h1v1h-1zm0 5h1v1h-1zm0 4h1v1h-1zm0 2h1v1h-1zm0 3h1v1h-1zm0 6h1v1h-1zm0 2h1v1h-1zm0 11h1v1h-1zm0 19h1v1h-1zm0 13h1v3h-1zm0 4h1v1h-1zm0 2h1v1h-1zm0 5h1v1h-1zm0 6h1v1h-1zm0 4h1v1h-1zm1-95h1v1h-1zm0 2h1v2h-1zm0 8h1v1h-1zm0 10h1v1h-1zm0 3h1v1h-1zm0 9h1v2h-1zm0 18h1v1h-1zm0 2h1v2h-1zm0 4h1v1h-1zm0 17h1v2h-1zm0 13h1v2h-1zm0 4h1v1h-1zm1-77h1v2h-1zm0 8h1v1h-1zm0 4h1v1h-1zm0 2h1v1h-1zm0 2h1v1h-1zm0 12h1v1h-1zm0 3h1v1h-1zm0 11h1v2h-1zm0 31h1v2h-1zm0 5h1v1h-1zm2-90h1v2h-1zm0 3h1v1h-1zm0 9h1v1h-1zm0 5h1v2h-1zm0 6h1v1h-1zm0 7h1v1h-1zm0 2h1v1h-1zm0 6h1v1h-1zm0 3h1v1h-1zm0 2h1v1h-1zm0 2h1v2h-1zm0 7h1v1h-1zm0 4h1v1h-1zm0 3h1v1h-1zm0 20h1v1h-1zm1-81h1v1h-1zm0 29h1v1h-1zm0 47h1v1h-1zm0 5h1v2h-1zm0 5h1v1h-1zm0 4h1v1h-1zm1-85h1v1h-1zm0 2h1v1h-1zm0 3h1v1h-1zm0 2h1v1h-1zm0 5h1v1h-1zm0 2h1v2h-1zm0 3h1v2h-1zm3-16h1v1h-1zm0 4h1v1h-1zm0 2h1v1h-1zm0 2h1v1h-1zm0 23h1v1h-1zm0 48h1v1h-1zm0 3h1v1h-1zm0 4h1v2h-1zm1-96h1v2h-1zm0 3h1v1h-1zm0 3h1v2h-1zm0 9h1v1h-1zm0 2h1v1h-1zm0 2h1v1h-1zm0 2h1v1h-1zm0 52h1v1h-1zm1-6h1v1h-1zm1-61h1v1h-1zm0 8h1v3h-1zm0 4h1v1h-1zm0 7h1v1h-1zm0 2h1v2h-1zm0 3h1v2h-1zm1-23h1v1h-1zm0 2h1v1h-1zm0 47h1v2h-1zm0 29h1v2h-1zm0 4h1v1h-1zm0 2h1v1h-1zm1-66h1v1h-1zm0 26h1v2h-1zm0 9h1v1h-1zm0 30h1v1h-1zm2-67h1v2h-1zm0 9h1v3h-1zm0 33h1v1h-1zm0 20h1v1h-1zm0 2h1v1h-1zm0 2h1v1h-1zm0 4h1v1h-1zm1-90h1v1h-1zm0 4h1v1h-1zm0 11h1v1h-1zm0 2h1v1h-1zm0 3h1v1h-1zm0 4h1v4h-1zm0 6h1v1h-1zm0 7h1v2h-1zm0 3h1v1h-1zm0 3h1v1h-1zm0 3h1v2h-1zm0 7h1v1h-1zm0 7h1v1h-1zm0 19h1v1h-1zm0 3h1v2h-1zm0 10h1v1h-1zm1-94h1v4h-1zm0 14h1v1h-1zm0 3h1v1h-1zm0 11h1v3h-1zm0 5h1v3h-1zm0 4h1v2h-1zm0 9h1v1h-1zm0 14h1v2h-1zm0 11h1v1h-1zm0 5h1v2h-1zm0 3h1v1h-1zm0 3h1v1h-1zm0 4h1v1h-1zm0 9h1v1h-1zm0 2h1v1h-1zm0 2h1v1h-1zm1-99h1v2h-1zm0 5h1v1h-1zm0 3h1v1h-1zm0 2h1v1h-1zm0 7h1v1h-1zm0 2h1v2h-1zm0 7h1v1h-1zm0 7h1v1h-1zm0 8h1v1h-1zm0 3h1v2h-1zm0 7h1v2h-1zm0 12h1v1h-1zm0 4h1v1h-1zm0 20h1v2h-1zm0 3h1v1h-1zm0 3h1v1h-1zm1-84h1v1h-1zm1-6h1v1h-1zm0 6h1v2h-1zm0 4h1v1h-1zm0 2h1v1h-1zm0 3h1v4h-1zm0 5h1v1h-1zm0 2h1v1h-1zm0 2h1v1h-1zm0 3h1v1h-1zm0 18h1v1h-1zm0 6h1v1h-1zm0 2h1v1h-1zm0 22h1v1h-1zm0 3h1v1h-1zm0 15h1v1h-1zm1-82h1v1h-1zm0 48h1v2h-1zm1 13h1v1h-1zm0 3h1v1h-1zm1-79h1v3h-1zm0 35h1v1h-1zm0 2h1v1h-1zm0 10h1v1h-1zm0 38h1v2h-1zm0 15h1v1h-1zm1-99h1v1h-1zm0 47h1v1h-1zm0 39h1v6h-1zm0 7h1v2h-1zm0 6h1v1h-1zm2-97h1v2h-1zm0 17h1v1h-1zm0 3h1v1h-1zm0 2h1v1h-1zm0 2h1v2h-1zm0 3h1v1h-1zm0 35h1v1h-1zm0 2h1v2h-1zm0 8h1v1h-1zm0 6h1v1h-1zm0 2h1v2h-1zm0 8h1v2h-1zm0 4h1v6h-1zm1-92h1v1h-1zm0 2h1v1h-1zm0 8h1v1h-1zm0 2h1v1h-1zm0 5h1v2h-1zm0 13h1v2h-1zm0 5h1v1h-1zm0 2h1v1h-1zm0 10h1v1h-1zm0 2h1v1h-1zm0 4h1v1h-1zm0 2h1v1h-1zm0 6h1v1h-1zm0 3h1v1h-1zm0 10h1v1h-1zm0 8h1v1h-1zm0 2h1v2h-1zm0 4h1v1h-1zm0 2h1v1h-1zm0 4h1v1h-1zm1-85h1v2h-1zm0 3h1v1h-1zm0 7h1v1h-1zm0 2h1v1h-1zm0 5h1v1h-1zm0 3h1v1h-1zm0 14h1v1h-1zm0 23h1v1h-1zm1 6h1v1h-1zm2-62h1v5h-1zm0 61h1v1h-1zm0 3h1v1h-1zm0 2h1v1h-1zm0 4h1v1h-1zm0 2h1v1h-1zm0 3h1v2h-1zm1-73h1v1h-1zm0 3h1v1h-1zm0 3h1v3h-1zm0 6h1v1h-1zm0 28h1v2h-1zm0 14h1v1h-1zm0 3h1v1h-1zm0 2h1v2h-1zm0 5h1v2h-1zm0 3h1v1h-1zm0 5h1v1h-1zm0 4h1v1h-1zm0 2h1v1h-1zm0 2h1v1h-1zm1-77h1v1h-1zm0 30h1v1h-1zm0 6h1v2h-1zm0 13h1v1h-1zm0 5h1v4h-1zm0 7h1v1h-1zm1-67h1v1h-1zm0 10h1v1h-1zm0 34h1v1h-1zm0 2h1v1h-1zm4-51h1v1h-1zm0 7h1v2h-1zm0 20h1v1h-1zm0 16h1v1h-1zm0 2h1v1h-1zm0 5h1v2h-1zm0 7h1v1h-1zm0 6h1v1h-1zm0 16h1v2h-1zm0 3h1v1h-1zm0 2h1v1h-1zm1-89h1v1h-1zm0 3h1v1h-1zm0 5h1v1h-1zm0 2h1v1h-1zm0 13h1v1h-1zm0 6h1v1h-1zm0 2h1v5h-1zm0 31h1v1h-1zm0 2h1v2h-1zm0 13h1v1h-1zm0 5h1v1h-1zm0 5h1v1h-1zm1-82h1v3h-1zm0 4h1v1h-1zm0 13h1v1h-1zm0 3h1v1h-1zm0 2h1v1h-1zm0 8h1v2h-1zm0 10h1v1h-1zm0 30h1v1h-1zm0 3h1v1h-1zm0 13h1v1h-1zm0 9h1v1h-1zm2-100h1v1h-1zm0 2h1v1h-1zm0 18h1v1h-1zm0 7h1v1h-1zm0 10h1v2h-1zm0 3h1v3h-1zm0 15h1v1h-1zm0 11h1v1h-1zm0 2h1v1h-1zm0 5h1v1h-1zm0 12h1v2h-1zm0 12h1v2h-1zm1-51h1v2h-1zm0 12h1v1h-1zm0 23h1v3h-1zm0 12h1v3h-1zm0 5h1v1h-1zm3-78h1v1h-1zm0 3h1v2h-1zm0 10h1v1h-1zm0 2h1v1h-1zm0 2h1v6h-1zm0 7h1v3h-1zm0 9h1v1h-1zm0 2h1v1h-1zm4-57h1v1h-1zm0 21h1v1h-1zm0 28h1v1h-1zm0 32h1v1h-1zm0 10h1v1h-1zm0 10h1v1h-1zm1-69h1v2h-1zm0 3h1v2h-1zm0 15h1v1h-1zm0 4h1v1h-1zm0 2h1v1h-1zm0 2h1v4h-1zm0 29h1v1h-1zm3-87h1v1h-1zm0 72h1v1h-1zm0 8h1v1h-1zm0 2h1v1h-1zm1-75h1v1h-1zm0 7h1v2h-1zm0 21h1v1h-1zm0 2h1v1h-1zm0 3h1v1h-1zm0 2h1v2h-1zm0 3h1v3h-1zm0 14h1v1h-1zm0 3h1v1h-1zm0 4h1v1h-1zm0 4h1v1h-1zm0 11h1v1h-1zm0 2h1v1h-1zm0 2h1v1h-1zm0 4h1v1h-1zm0 5h1v1h-1zm1-27h1v1h-1zm2-8h1v1h-1zm0 5h1v3h-1zm0 5h1v2h-1zm0 9h1v1h-1zm0 17h1v3h-1zm0 4h1v1h-1zm2-96h1v2h-1zm0 4h1v1h-1zm0 5h1v2h-1zm0 4h1v1h-1zm0 3h1v1h-1zm0 15h1v1h-1zm0 13h1v2h-1zm0 9h1v1h-1zm0 12h1v1h-1zm1-67h1v1h-1zm0 11h1v1h-1zm0 2h1v1h-1zm0 18h1v2h-1zm0 4h1v1h-1zm0 6h1v1h-1zm0 11h1v2h-1zm0 15h1v1h-1zm1-35h1v1h-1zm0 23h1v1h-1zm0 45h1v1h-1zm1-81h1v1h-1zm0 32h1v1h-1zm0 38h1v1h-1zm1-85h1v1h-1zm0 5h1v3h-1zm0 8h1v1h-1zm0 6h1v1h-1zm0 10h1v1h-1zm0 5h1v1h-1zm0 41h1v1h-1zm0 10h1v2h-1zm0 13h1v1h-1zm1-79h1v2h-1zm0 69h1v1h-1zm1-74h1v1h-1zm0 61h1v1h-1zm0 22h1v1h-1zm1-66h1v2h-1zm0 13h1v4h-1zm0 5h1v1h-1zm0 2h1v1h-1zm0 13h1v1h-1zm0 3h1v1h-1zm0 22h1v1h-1zm0 2h1v2h-1zm1-95h1v1h-1zm0 40h1v1h-1zm0 33h1v1h-1zm0 20h1v1h-1zm3-76h1v1h-1zm0 50h1v1h-1zm1-27h1v1h-1zm0 2h1v1h-1zm0 23h1v2h-1zm1-49h1v1h-1zm0 26h1v1h-1zm0 7h1v1h-1zm0 7h1v1h-1zm0 19h1v2h-1zm1 21h1v1h-1zm1-93h1v1h-1zm0 49h1v1h-1zm1-27h1v2h-1zm2-3h1v2h-1zm0 3h1v1h-1zm0 13h1v3h-1zm0 7h1v1h-1zm0 2h1v1h-1zm0 2h1v1h-1zm0 31h1v2h-1zm0 4h1v1h-1zm0 3h1v1h-1zm0 2h1v1h-1zm1-25h1v1h-1zm0 24h1v1h-1zm0 5h1v2h-1zm1-88h1v1h-1zm0 20h1v1h-1zm0 18h1v1h-1zm0 5h1v1h-1zm0 53h1v2h-1zm1-53h1v1h-1zm0 21h1v1h-1zm0 12h1v1h-1zm1-80h1v1h-1zm0 4h1v1h-1zm0 21h1v1h-1zm0 6h1v1h-1zm0 22h1v1h-1zm0 41h1v1h-1zm1-91h1v1h-1zm0 2h1v1h-1zm0 14h1v1h-1zm0 18h1v1h-1zm0 2h1v1h-1zm0 13h1v1h-1zm0 2h1v1h-1zm0 19h1v1h-1zm0 4h1v1h-1zm0 17h1v1h-1zm0 7h1v1h-1zm1-79h1v1h-1zm0 20h1v2h-1zm1 5h1v1h-1zm0 2h1v1h-1zm1-15h1v1h-1zm0 52h1v1h-1zm2-62h1v1h-1zm0 70h1v1h-1zm1-84h1v2h-1zm0 37h1v1h-1zm1-41h1v1h-1zm0 10h1v1h-1zm0 17h1v1h-1zm0 10h1v1h-1zm0 13h1v1h-1zm0 14h1v1h-1zm0 24h1v1h-1zm1-92h1v2h-1zm0 6h1v1h-1zm0 16h1v2h-1zm0 22h1v1h-1zm0 5h1v2h-1zm0 19h1v1h-1zm0 9h1v1h-1zm0 7h1v1h-1zm0 10h1v1h-1zm1-92h1v1h-1zm0 3h1v1h-1zm0 2h1v1h-1zm0 4h1v1h-1zm0 10h1v1h-1zm0 5h1v1h-1zm0 13h1v2h-1zm0 12h1v1h-1zm0 17h1v1h-1zm0 16h1v1h-1zm1-42h1v1h-1zm0 28h1v1h-1zm0 12h1v1h-1zm0 8h1v1h-1zm1-93h1v1h-1zm0 8h1v1h-1zm0 10h1v1h-1zm0 14h1v1h-1zm0 24h1v1h-1zm0 23h1v1h-1zm1-47h1v1h-1zm0 3h1v1h-1zm0 36h1v1h-1zm0 23h1v1h-1zm1-13h1v1h-1zm1-34h1v1h-1zm1-46h1v1h-1zm0 15h1v1h-1zm0 42h1v3h-1zm0 36h1v1h-1zm1-59h1v1h-1zm0 38h1v1h-1zm1-60h1v1h-1zm0 15h1v1h-1zm0 21h1v1h-1zm0 26h1v1h-1zm0 18h1v1h-1zm1-69h1v1h-1zm0 3h1v1h-1zm0 9h1v1h-1zm0 6h1v1h-1zm0 5h1v1h-1zm0 31h1v2h-1zm0 6h1v2h-1zm1-74h1v1h-1zm0 3h1v1h-1zm0 10h1v1h-1zm0 25h1v2h-1zm0 7h1v1h-1zm0 3h1v1h-1zm0 12h1v1h-1zm0 6h1v1h-1zm0 6h1v1h-1zm2-83h1v1h-1zm0 10h1v1h-1zm0 18h1v1h-1zm0 8h1v1h-1zm0 3h1v1h-1zm0 49h1v1h-1zm1-85h1v1h-1zm0 5h1v1h-1zm0 8h1v1h-1zm0 3h1v1h-1zm0 2h1v1h-1zm0 13h1v1h-1zm0 43h1v1h-1zm0 21h1v1h-1zm1-71h1v1h-1zm0 68h1v2h-1zm0 4h1v1h-1zm0 4h1v1h-1zm1-68h1v1h-1zm0 41h1v1h-1zm0 20h1v1h-1zm1 5h1v1h-1zm0 2h1v1h-1zm1-96h1v1h-1zm0 23h1v1h-1zm0 8h1v1h-1zm0 62h1v1h-1zm0 3h1v1h-1zm1-82h1v1h-1zm0 79h1v1h-1zm1-81h1v2h-1zm0 11h1v1h-1zm0 45h1v1h-1zm0 15h1v1h-1zm0 11h1v1h-1zm1-80h1v1h-1zm0 3h1v1h-1zm0 7h1v5h-1zm0 7h1v1h-1zm0 18h1v1h-1zm0 33h1v1h-1zm0 6h1v1h-1zm0 6h1v1h-1zm0 2h1v1h-1zm2-36h1v1h-1zm0 32h1v1h-1zm0 9h1v1h-1zm1-100h1v1h-1zm1-7h1v1h-1zm0 7h1v1h-1zm0 98h1v2h-1zm1-103h1v2h-1zm0 17h1v1h-1zm0 4h1v1h-1zm0 3h1v1h-1zm0 16h1v1h-1zm0 30h1v1h-1zm0 3h1v1h-1zm0 9h1v1h-1zm0 13h1v1h-1zm0 2h1v1h-1zm0 3h1v2h-1zm1-75h1v1h-1zm0 18h1v1h-1zm0 31h1v1h-1zm0 3h1v2h-1zm0 4h1v2h-1zm0 4h1v1h-1zm0 2h1v1h-1zm0 2h1v1h-1zm0 3h1v1h-1zm0 4h1v1h-1zm1-73h1v1h-1zm0 2h1v1h-1zm0 11h1v1h-1zm0 38h1v1h-1zm0 6h1v1h-1zm0 3h1v1h-1zm0 9h1v1h-1zm0 2h1v1h-1zm0 2h1v1h-1zm0 2h1v1h-1zm1-97h1v2h-1zm0 3h1v1h-1zm0 2h1v1h-1zm0 31h1v1h-1zm0 14h1v1h-1zm0 23h1v1h-1zm0 8h1v1h-1zm0 3h1v1h-1zm0 7h1v1h-1zm0 3h1v1h-1zm1-96h1v1h-1zm0 11h1v2h-1zm0 19h1v1h-1zm0 2h1v1h-1zm0 6h1v1h-1zm0 31h1v1h-1zm0 7h1v1h-1zm0 8h1v2h-1zm0 3h1v1h-1zm0 3h1v1h-1zm0 3h1v2h-1zm0 5h1v1h-1zm1-88h1v1h-1zm0 15h1v1h-1zm0 13h1v1h-1zm0 20h1v1h-1zm0 13h1v1h-1zm0 2h1v2h-1zm0 6h1v1h-1zm0 12h1v1h-1zm0 3h1v1h-1zm0 6h1v1h-1zm1-97h1v1h-1zm0 4h1v1h-1zm0 2h1v1h-1zm0 19h1v1h-1zm0 20h1v1h-1zm0 13h1v1h-1zm0 10h1v1h-1zm0 7h1v1h-1zm0 8h1v1h-1zm0 2h1v1h-1zm0 3h1v1h-1zm2-66h1v1h-1zm0 19h1v1h-1zm0 5h1v1h-1zm0 22h1v1h-1zm0 2h1v1h-1zm0 4h1v1h-1zm0 8h1v1h-1zm0 3h1v1h-1zm0 3h1v2h-1zm0 5h1v1h-1zm0 4h1v2h-1zm1-74h1v1h-1zm0 42h1v1h-1zm0 4h1v2h-1zm0 11h1v2h-1zm0 9h1v1h-1zm1-86h1v1h-1zm0 26h1v1h-1zm0 10h1v1h-1zm0 27h1v1h-1zm0 7h1v1h-1zm0 4h1v2h-1zm0 4h1v1h-1zm0 6h1v1h-1zm0 11h1v1h-1zm1-102h1v2h-1zm0 16h1v2h-1zm0 4h1v1h-1zm0 35h1v1h-1zm0 3h1v1h-1zm0 5h1v1h-1zm0 18h1v2h-1zm0 5h1v1h-1zm0 3h1v1h-1zm0 3h1v1h-1zm0 10h1v1h-1zm1-100h1v3h-1zm0 14h1v1h-1zm0 11h1v1h-1zm0 6h1v1h-1zm0 5h1v1h-1zm0 18h1v1h-1zm0 3h1v1h-1zm0 17h1v1h-1zm0 7h1v1h-1zm0 7h1v2h-1zm0 3h1v1h-1zm0 3h1v1h-1zm1-83h1v1h-1zm0 2h1v1h-1zm0 4h1v1h-1zm0 20h1v1h-1zm0 12h1v1h-1zm0 5h1v1h-1zm0 11h1v1h-1zm0 7h1v1h-1zm1-57h1v1h-1zm0 3h1v1h-1zm0 4h1v1h-1zm0 2h1v1h-1zm0 2h1v1h-1zm0 70h1v1h-1zm1-90h1v1h-1zm0 2h1v1h-1zm0 24h1v1h-1zm1-32h1v1h-1zm0 33h1v1h-1zm0 63h1v1h-1zm0 4h1v1h-1zm1-95h1v1h-1zm0 10h1v2h-1zm0 46h1v1h-1zm0 31h1v2h-1zm0 8h1v1h-1zm1-78h1v1h-1zm0 10h1v1h-1zm1-31h1v1h-1zm0 92h1v1h-1zm1-91h1v1h-1zm0 12h1v1h-1zm0 3h1v1h-1zm0 30h1v1h-1zm0 32h1v1h-1zm0 8h1v1h-1zm0 2h1v1h-1zm1-60h1v4h-1zm0 31h1v1h-1zm0 2h1v1h-1zm0 12h1v1h-1zm0 16h1v1h-1zm1-89h1v1h-1zm0 33h1v1h-1zm0 12h1v2h-1zm0 19h1v1h-1zm0 23h1v1h-1zm1-76h1v3h-1zm0 5h1v1h-1zm0 8h1v1h-1zm0 8h1v1h-1zm0 14h1v1h-1zm0 19h1v1h-1zm0 4h1v1h-1zm0 5h1v1h-1zm1-51h1v2h-1zm0 9h1v2h-1zm0 32h1v1h-1zm0 21h1v1h-1zm1-67h1v1h-1zm0 56h1v1h-1zm1-73h1v1h-1zm0 9h1v2h-1zm0 25h1v1h-1zm0 24h1v1h-1zm0 3h1v1h-1zm0 5h1v1h-1zm0 5h1v1h-1zm0 13h1v1h-1zm1-68h1v1h-1zm0 5h1v2h-1zm0 8h1v1h-1zm0 5h1v1h-1zm0 31h1v1h-1zm0 23h1v1h-1zm1-61h1v1h-1zm0 30h1v1h-1zm0 6h1v1h-1zm0 21h1v1h-1zm0 5h1v1h-1zm1-73h1v2h-1zm0 18h1v1h-1zm0 8h1v1h-1zm0 20h1v1h-1zm1 25h1v1h-1zm1-61h1v2h-1zm0 33h1v2h-1zm1-51h1v1h-1zm0 11h1v1h-1zm0 11h1v1h-1zm0 24h1v3h-1zm0 27h1v1h-1zm1-73h1v1h-1zm0 4h1v1h-1zm0 5h1v1h-1zm0 59h1v1h-1zm1 9h1v1h-1zm0 3h1v1h-1zm1-76h1v1h-1zm0 18h1v1h-1zm0 24h1v1h-1zm0 3h1v1h-1zm0 3h1v1h-1zm0 24h1v1h-1zm1-29h1v1h-1zm0 25h1v1h-1zm1-82h1v1h-1zm1 14h1v1h-1zm0 60h1v1h-1zm1-55h1v1h-1zm0 11h1v1h-1zm0 59h1v1h-1zm1-70h1v1h-1zm0 26h1v1h-1zm1-38h1v1h-1zm0 36h1v1h-1zm0 7h1v1h-1zm1 23h1v2h-1zm0 19h1v1h-1zm1-74h1v1h-1zm0 28h1v1h-1zm0 6h1v1h-1zm1-46h1v1h-1zm0 60h1v1h-1zm1-52h1v1h-1zm0 28h1v1h-1zm0 12h1v1h-1zm1-38h1v2h-1zm0 28h1v1h-1zm0 23h1v1h-1zm0 11h1v1h-1zm1 19h1v1h-1zm1-79h1v1h-1zm0 12h1v1h-1zm0 25h1v1h-1zm1 17h1v1h-1zm0 5h1v1h-1zm0 19h1v2h-1zm1-86h1v1h-1zm0 70h1v1h-1zm0 2h1v1h-1zm0 4h1v2h-1zm0 3h1v1h-1zm1-59h1v1h-1zm0 24h1v1h-1zm0 2h1v1h-1zm0 13h1v1h-1zm1-48h1v2h-1zm0 9h1v1h-1zm0 8h1v1h-1zm0 6h1v2h-1zm0 13h1v1h-1zm0 9h1v2h-1zm1-48h1v1h-1zm0 9h1v1h-1zm0 5h1v1h-1zm0 9h1v1h-1zm0 12h1v1h-1zm0 4h1v1h-1zm0 46h1v1h-1zm1-106h1v2h-1zm0 15h1v1h-1zm0 12h1v1h-1zm1-26h1v1h-1zm0 16h1v1h-1zm0 64h1v1h-1zm0 10h1v1h-1zm0 7h1v2h-1zm0 3h1v1h-1zm1-24h1v1h-1zm0 8h1v1h-1zm0 15h1v1h-1zm1-96h1v2h-1zm0 5h1v1h-1zm0 60h1v1h-1zm1-67h1v1h-1zm0 22h1v1h-1zm0 4h1v3h-1zm0 4h1v2h-1zm0 32h1v1h-1zm1-63h1v1h-1zm0 64h1v1h-1zm0 10h1v1h-1zm6-73h1v1h-1zm0 74h1v1h-1zm0 2h1v1h-1zm0 17h1v1h-1zm1-94h1v2h-1zm0 61h1v2h-1zm2-61h1v1h-1zm0 20h1v1h-1zm3 0h1v1h-1zm3-21h1v1h-1zm0 21h1v1h-1zm7 51h1v1h-1zm5-37h1v1h-1zm1-1h1v1h-1zm0 24h1v1h-1zm1-55h1v1h-1zm0 77h1v1h-1zm1-63h1v1h-1zm0 14h1v1h-1zm7 64h1v1h-1zm5-52h1v1h-1zm3 25h1v1h-1zm0 2h1v1h-1zm0 17h1v1h-1zm2-85h1v1h-1zm2-2h1v1h-1zm8 88h1v2h-1zm11-74h1v1h-1zm1 30h1v1h-1z"/><path fill="#81cb57" d="M0 26h1v2h-1zm0 9h1v3h-1zm0 5h1v1h-1zm0 2h1v3h-1zm0 17h1v2h-1zm0 24h1v1h-1zm1-77h1v1h-1zm0 9h1v1h-1zm0 5h1v1h-1zm0 19h1v2h-1zm0 3h1v1h-1zm0 11h1v3h-1zm0 4h1v1h-1zm0 3h1v1h-1zm0 12h1v1h-1zm0 4h1v1h-1zm1-67h1v1h-1zm0 4h1v1h-1zm0 2h1v1h-1zm0 4h1v2h-1zm0 6h1v3h-1zm0 5h1v1h-1zm0 8h1v1h-1zm0 3h1v1h-1zm0 2h1v2h-1zm0 7h1v1h-1zm0 9h1v1h-1zm0 6h1v1h-1zm0 4h1v2h-1zm0 6h1v1h-1zm0 2h1v2h-1zm0 8h1v3h-1zm0 10h1v1h-1zm0 2h1v1h-1zm1-97h1v1h-1zm0 2h1v1h-1zm0 2h1v1h-1zm0 30h1v1h-1zm0 3h1v1h-1zm0 14h1v1h-1zm0 2h1v1h-1zm0 4h1v3h-1zm0 4h1v1h-1zm0 4h1v1h-1zm0 10h1v1h-1zm0 2h1v1h-1zm0 15h1v1h-1zm0 6h1v1h-1zm1-31h1v1h-1zm2-2h1v2h-1zm0 3h1v1h-1zm0 2h1v1h-1zm0 12h1v1h-1zm1-80h1v1h-1zm0 13h1v3h-1zm0 9h1v1h-1zm0 4h1v1h-1zm0 13h1v1h-1zm0 2h1v1h-1zm0 2h1v2h-1zm0 4h1v1h-1zm0 3h1v1h-1zm0 10h1v2h-1zm0 3h1v1h-1zm0 6h1v2h-1zm0 3h1v1h-1zm3-38h1v1h-1zm0 6h1v1h-1zm0 20h1v1h-1zm0 9h1v1h-1zm0 27h1v1h-1zm2-89h1v1h-1zm0 11h1v2h-1zm0 3h1v1h-1zm0 18h1v1h-1zm1 12h1v1h-1zm0 2h1v1h-1zm0 3h1v1h-1zm1-55h1v2h-1zm0 3h1v1h-1zm0 3h1v4h-1zm0 17h1v1h-1zm0 8h1v1h-1zm0 14h1v2h-1zm0 4h1v1h-1zm0 16h1v2h-1zm0 4h1v2h-1zm0 9h1v1h-1zm0 3h1v1h-1zm0 6h1v2h-1zm0 10h1v1h-1zm1-98h1v3h-1zm0 10h1v1h-1zm0 3h1v1h-1zm0 21h1v1h-1zm0 12h1v2h-1zm0 8h1v1h-1zm0 4h1v1h-1zm0 3h1v2h-1zm0 4h1v1h-1zm0 3h1v1h-1zm1-69h1v1h-1zm0 2h1v1h-1zm0 3h1v1h-1zm0 2h1v1h-1zm0 5h1v2h-1zm0 5h1v1h-1zm0 2h1v2h-1zm0 3h1v1h-1zm0 2h1v2h-1zm0 11h1v1h-1zm0 12h1v1h-1zm0 6h1v1h-1zm0 4h1v1h-1zm0 10h1v1h-1zm0 21h1v1h-1zm0 2h1v1h-1zm1-88h1v1h-1zm0 2h1v1h-1zm0 51h1v3h-1zm0 11h1v1h-1zm0 6h1v1h-1zm0 8h1v1h-1zm0 3h1v1h-1zm0 2h1v1h-1zm0 3h1v3h-1zm1-59h1v1h-1zm0 4h1v1h-1zm0 45h1v3h-1zm0 4h1v1h-1zm1-39h1v2h-1zm0 3h1v1h-1zm0 2h1v1h-1zm2-42h1v1h-1zm0 4h1v1h-1zm0 14h1v1h-1zm0 33h1v2h-1zm0 30h1v1h-1zm0 12h1v1h-1zm1-75h1v2h-1zm0 14h1v5h-1zm0 16h1v1h-1zm0 2h1v1h-1zm0 2h1v1h-1zm0 2h1v1h-1zm0 7h1v1h-1zm0 2h1v1h-1zm0 20h1v2h-1zm0 6h1v4h-1zm1-65h1v1h-1zm0 12h1v1h-1zm0 11h1v1h-1zm0 6h1v3h-1zm0 18h1v2h-1zm0 3h1v2h-1zm0 6h1v3h-1zm4-30h1v1h-1zm0 2h1v1h-1zm3-56h1v1h-1zm0 43h1v1h-1zm0 24h1v1h-1zm1-70h1v1h-1zm0 7h1v1h-1zm0 6h1v1h-1zm0 3h1v1h-1zm0 6h1v1h-1zm0 5h1v1h-1zm0 9h1v1h-1zm0 2h1v2h-1zm0 3h1v2h-1zm0 8h1v1h-1zm0 14h1v1h-1zm0 4h1v1h-1zm0 2h1v1h-1zm0 4h1v1h-1zm0 3h1v1h-1zm0 2h1v2h-1zm0 12h1v3h-1zm3-81h1v1h-1zm0 2h1v4h-1zm0 10h1v1h-1zm0 2h1v1h-1zm0 3h1v1h-1zm0 68h1v1h-1zm0 5h1v2h-1zm1-40h1v1h-1zm4-49h1v1h-1zm0 2h1v1h-1zm0 10h1v1h-1zm0 3h1v1h-1zm2-20h1v1h-1zm0 5h1v1h-1zm0 34h1v2h-1zm0 25h1v1h-1zm0 3h1v2h-1zm0 15h1v3h-1zm0 5h1v1h-1zm0 3h1v1h-1zm1 3h1v2h-1zm1-27h1v1h-1zm1 20h1v1h-1zm2-4h1v2h-1zm0 3h1v1h-1zm0 5h1v1h-1zm1-42h1v2h-1zm0 5h1v2h-1zm2-28h1v1h-1zm0 5h1v1h-1zm0 47h1v1h-1zm0 8h1v2h-1zm0 4h1v1h-1zm1-80h1v4h-1zm0 10h1v2h-1zm0 8h1v1h-1zm0 10h1v1h-1zm0 16h1v3h-1zm0 30h1v1h-1zm0 4h1v2h-1zm0 4h1v2h-1zm0 3h1v2h-1zm1-94h1v2h-1zm0 3h1v2h-1zm0 3h1v2h-1zm0 5h1v2h-1zm0 3h1v1h-1zm0 18h1v1h-1zm0 21h1v3h-1zm0 13h1v1h-1zm0 13h1v1h-1zm1-84h1v1h-1zm0 3h1v3h-1zm0 5h1v1h-1zm0 2h1v1h-1zm0 2h1v1h-1zm0 3h1v1h-1zm0 7h1v1h-1zm0 29h1v1h-1zm0 41h1v2h-1zm0 7h1v2h-1zm2-87h1v2h-1zm0 3h1v1h-1zm0 79h1v3h-1zm2-17h1v1h-1zm1-35h1v1h-1zm0 46h1v1h-1zm0 6h1v2h-1zm5-27h1v2h-1zm3 19h1v2h-1zm1-10h1v1h-1zm0 5h1v1h-1zm0 2h1v1h-1zm0 2h1v1h-1zm0 3h1v2h-1zm0 4h1v1h-1zm1-14h1v1h-1zm0 4h1v1h-1zm3-81h1v1h-1zm0 8h1v1h-1zm0 6h1v1h-1zm0 25h1v1h-1zm0 10h1v1h-1zm0 7h1v2h-1zm0 5h1v1h-1zm0 2h1v1h-1zm0 2h1v1h-1zm0 2h1v2h-1zm0 4h1v4h-1zm0 6h1v2h-1zm1-75h1v1h-1zm0 4h1v1h-1zm0 8h1v2h-1zm0 7h1v3h-1zm0 4h1v1h-1zm0 7h1v3h-1zm0 7h1v1h-1zm0 32h1v1h-1zm0 5h1v1h-1zm0 22h1v1h-1zm1-86h1v1h-1zm0 5h1v1h-1zm1-15h1v2h-1zm0 10h1v1h-1zm0 7h1v1h-1zm0 18h1v1h-1zm0 34h1v2h-1zm0 4h1v1h-1zm0 2h1v1h-1zm0 3h1v3h-1zm0 7h1v1h-1zm0 9h1v1h-1zm0 2h1v2h-1zm1-98h1v1h-1zm0 5h1v1h-1zm0 4h1v1h-1zm0 12h1v2h-1zm0 10h1v1h-1zm0 12h1v1h-1zm0 21h1v1h-1zm0 4h1v1h-1zm0 7h1v1h-1zm0 21h1v2h-1zm1-92h1v1h-1zm0 2h1v1h-1zm0 5h1v3h-1zm0 4h1v1h-1zm0 2h1v1h-1zm0 13h1v1h-1zm0 2h1v2h-1zm0 3h1v1h-1zm0 3h1v1h-1zm0 23h1v1h-1zm0 25h1v1h-1zm0 2h1v1h-1zm0 2h1v1h-1zm0 2h1v3h-1zm0 6h1v1h-1zm1-94h1v6h-1zm0 25h1v2h-1zm0 7h1v2h-1zm0 40h1v2h-1zm0 4h1v6h-1zm0 10h1v1h-1zm0 4h1v1h-1zm1 3h1v2h-1zm2-98h1v1h-1zm0 4h1v1h-1zm0 6h1v1h-1zm0 8h1v7h-1zm0 77h1v1h-1zm0 2h1v1h-1zm0 3h1v1h-1zm1-94h1v1h-1zm0 3h1v3h-1zm0 10h1v1h-1zm0 2h1v1h-1zm0 3h1v1h-1zm0 4h1v2h-1zm0 6h1v1h-1zm0 2h1v1h-1zm0 2h1v1h-1zm0 12h1v1h-1zm0 4h1v1h-1zm0 2h1v1h-1zm0 2h1v2h-1zm0 7h1v1h-1zm0 16h1v1h-1zm0 7h1v1h-1zm0 2h1v1h-1zm0 4h1v1h-1zm0 2h1v1h-1zm0 4h1v1h-1zm4-93h1v1h-1zm0 12h1v2h-1zm0 3h1v3h-1zm0 9h1v2h-1zm0 15h1v3h-1zm0 4h1v1h-1zm0 2h1v1h-1zm0 4h1v1h-1zm0 3h1v1h-1zm0 5h1v1h-1zm0 5h1v1h-1zm0 3h1v3h-1zm0 5h1v3h-1zm0 5h1v3h-1zm0 6h1v2h-1zm0 5h1v3h-1zm0 4h1v2h-1zm1-44h1v1h-1zm0 4h1v1h-1zm0 24h1v1h-1zm0 4h1v1h-1zm3-12h1v1h-1zm0 2h1v5h-1zm1-74h1v1h-1zm0 11h1v1h-1zm0 4h1v1h-1zm0 25h1v1h-1zm0 3h1v1h-1zm0 9h1v2h-1zm0 3h1v1h-1zm0 2h1v1h-1zm0 6h1v1h-1zm0 4h1v1h-1zm0 14h1v1h-1zm0 2h1v1h-1zm0 3h1v1h-1zm0 8h1v2h-1zm0 3h1v3h-1zm3-31h1v2h-1zm0 4h1v2h-1zm0 29h1v4h-1zm1-72h1v1h-1zm0 6h1v2h-1zm0 7h1v1h-1zm0 36h1v1h-1zm0 2h1v1h-1zm0 8h1v1h-1zm1-87h1v1h-1zm0 22h1v1h-1zm1-20h1v1h-1zm0 38h1v1h-1zm0 3h1v1h-1zm0 9h1v1h-1zm0 4h1v1h-1zm0 6h1v1h-1zm0 2h1v2h-1zm0 3h1v1h-1zm0 2h1v1h-1zm1-67h1v1h-1zm0 28h1v2h-1zm0 25h1v1h-1zm0 3h1v2h-1zm0 44h1v2h-1zm1-83h1v1h-1zm0 73h1v2h-1zm0 3h1v2h-1zm0 4h1v2h-1zm0 3h1v1h-1zm1-70h1v1h-1zm0 3h1v1h-1zm0 41h1v2h-1zm0 3h1v1h-1zm0 14h1v1h-1zm1-74h1v1h-1zm0 4h1v1h-1zm0 3h1v3h-1zm0 8h1v1h-1zm0 6h1v1h-1zm0 59h1v1h-1zm1-81h1v1h-1zm1 9h1v1h-1zm0 8h1v1h-1zm0 36h1v1h-1zm1-61h1v1h-1zm0 4h1v1h-1zm0 25h1v1h-1zm0 3h1v1h-1zm0 2h1v1h-1zm0 27h1v1h-1zm0 32h1v1h-1zm1-8h1v1h-1zm4-65h1v1h-1zm0 24h1v1h-1zm0 2h1v1h-1zm0 45h1v1h-1zm1-48h1v1h-1zm1 4h1v1h-1zm0 20h1v2h-1zm1-16h1v1h-1zm0 15h1v1h-1zm0 12h1v1h-1zm2-87h1v1h-1zm0 44h1v1h-1zm0 50h1v1h-1zm1-9h1v2h-1zm1-23h1v1h-1zm1 22h1v1h-1zm1-19h1v1h-1zm0 14h1v1h-1zm1-70h1v1h-1zm0 8h1v2h-1zm0 24h1v3h-1zm0 15h1v1h-1zm1-51h1v1h-1zm0 55h1v1h-1zm1-14h1v2h-1zm0 38h1v1h-1zm0 9h1v1h-1zm2-27h1v2h-1zm1 21h1v1h-1zm1-42h1v1h-1zm1 20h1v1h-1zm0 16h1v1h-1zm0 3h1v1h-1zm0 3h1v1h-1zm1-37h1v2h-1zm0 35h1v1h-1zm1-73h1v1h-1zm0 16h1v1h-1zm0 21h1v1h-1zm0 37h1v1h-1zm1-53h1v1h-1zm0 16h1v1h-1zm0 10h1v1h-1zm0 13h1v1h-1zm0 19h1v1h-1zm1-41h1v1h-1zm0 2h1v1h-1zm0 3h1v1h-1zm0 2h1v1h-1zm0 4h1v1h-1zm0 10h1v1h-1zm0 9h1v1h-1zm1-11h1v2h-1zm3-13h1v2h-1zm1-28h1v1h-1zm0 40h1v1h-1zm0 10h1v2h-1zm1-49h1v1h-1zm0 38h1v1h-1zm0 3h1v1h-1zm0 8h1v1h-1zm1-60h1v1h-1zm0 65h1v1h-1zm0 7h1v1h-1zm1-79h1v2h-1zm0 4h1v1h-1zm0 2h1v2h-1zm0 11h1v1h-1zm0 28h1v2h-1zm0 15h1v1h-1zm0 2h1v2h-1zm0 22h1v1h-1zm1-74h1v2h-1zm0 6h1v1h-1zm0 19h1v1h-1zm0 4h1v1h-1zm0 16h1v1h-1zm0 3h1v1h-1zm0 5h1v1h-1zm0 2h1v1h-1zm1-58h1v2h-1zm0 72h1v1h-1zm1-22h1v1h-1zm1-44h1v1h-1zm0 5h1v1h-1zm0 4h1v1h-1zm0 64h1v1h-1zm1-26h1v1h-1zm0 2h1v2h-1zm1-44h1v1h-1zm0 67h1v1h-1zm0 2h1v2h-1zm2-4h1v1h-1zm0 4h1v1h-1zm1-85h1v1h-1zm0 13h1v1h-1zm0 2h1v1h-1zm0 47h1v1h-1zm1-56h1v1h-1zm0 17h1v1h-1zm0 42h1v1h-1zm0 4h1v1h-1zm0 11h1v1h-1zm0 2h1v2h-1zm1-39h1v1h-1zm0 4h1v1h-1zm0 2h1v1h-1zm0 11h1v1h-1zm0 7h1v1h-1zm0 4h1v1h-1zm0 6h1v1h-1zm0 2h1v1h-1zm0 4h1v1h-1zm0 2h1v2h-1zm1-81h1v2h-1zm0 31h1v1h-1zm0 16h1v1h-1zm0 3h1v1h-1zm0 17h1v2h-1zm0 21h1v2h-1zm2-37h1v1h-1zm0 39h1v1h-1zm1-83h1v2h-1zm0 14h1v1h-1zm0 7h1v1h-1zm0 17h1v2h-1zm0 9h1v1h-1zm0 5h1v1h-1zm0 2h1v1h-1zm0 10h1v1h-1zm0 3h1v4h-1zm1-67h1v2h-1zm0 50h1v1h-1zm0 22h1v1h-1zm1-8h1v1h-1zm0 7h1v1h-1zm1-75h1v1h-1zm0 7h1v1h-1zm0 11h1v1h-1zm0 11h1v1h-1zm0 25h1v1h-1zm0 4h1v3h-1zm0 4h1v1h-1zm1-82h1v1h-1zm0 2h1v1h-1zm0 8h1v2h-1zm0 20h1v1h-1zm0 8h1v1h-1zm0 25h1v1h-1zm0 9h1v1h-1zm0 4h1v1h-1zm0 2h1v2h-1zm0 14h1v1h-1zm1-92h1v1h-1zm0 6h1v1h-1zm0 18h1v1h-1zm0 3h1v1h-1zm0 11h1v1h-1zm0 25h1v1h-1zm0 4h1v1h-1zm0 9h1v1h-1zm0 5h1v2h-1zm0 12h1v1h-1zm0 4h1v1h-1zm2-98h1v1h-1zm0 3h1v2h-1zm0 8h1v1h-1zm0 3h1v1h-1zm0 12h1v2h-1zm0 8h1v1h-1zm0 19h1v1h-1zm0 7h1v1h-1zm0 15h1v1h-1zm0 2h1v1h-1zm0 3h1v1h-1zm0 3h1v1h-1zm0 8h1v1h-1zm0 8h1v1h-1zm0 4h1v1h-1zm1-25h1v1h-1zm0 7h1v2h-1zm1-46h1v1h-1zm0 21h1v1h-1zm0 9h1v1h-1zm0 8h1v2h-1zm0 4h1v1h-1zm0 14h1v1h-1zm0 7h1v1h-1zm1-73h1v1h-1zm0 14h1v1h-1zm0 33h1v1h-1zm0 3h1v2h-1zm0 12h1v1h-1zm0 3h1v1h-1zm0 8h1v1h-1zm1-99h1v1h-1zm0 22h1v1h-1zm0 4h1v1h-1zm0 28h1v1h-1zm0 21h1v1h-1zm0 7h1v2h-1zm0 3h1v1h-1zm0 6h1v1h-1zm0 7h1v1h-1zm1-71h1v1h-1zm0 53h1v1h-1zm1-68h1v1h-1zm0 14h1v1h-1zm0 10h1v1h-1zm0 21h1v1h-1zm0 41h1v1h-1zm1-75h1v1h-1zm0 10h1v1h-1zm0 59h1v1h-1zm0 6h1v1h-1zm1-80h1v1h-1zm0 4h1v2h-1zm1-24h1v1h-1zm0 24h1v1h-1zm0 10h1v1h-1zm0 2h1v2h-1zm0 63h1v2h-1zm1-98h1v1h-1zm0 23h1v1h-1zm0 47h1v1h-1zm1-33h1v2h-1zm0 63h1v1h-1zm1-99h1v1h-1zm1 1h1v1h-1zm0 21h1v1h-1zm0 21h1v2h-1zm0 5h1v1h-1zm0 43h1v1h-1zm1-74h1v1h-1zm0 7h1v1h-1zm0 4h1v1h-1zm0 13h1v1h-1zm0 16h1v1h-1zm0 40h1v2h-1zm1-83h1v2h-1zm0 17h1v1h-1zm0 18h1v1h-1zm1-27h1v1h-1zm0 39h1v1h-1zm0 24h1v1h-1zm2-82h1v1h-1zm0 67h1v1h-1zm1-3h1v1h-1zm0 20h1v1h-1zm0 3h1v1h-1zm1-68h1v1h-1zm1 9h1v1h-1zm0 5h1v1h-1zm1-19h1v1h-1zm0 48h1v1h-1zm0 22h1v3h-1zm1-56h1v1h-1zm0 5h1v1h-1zm0 21h1v1h-1zm0 8h1v1h-1zm1-35h1v1h-1zm1-21h1v1h-1zm0 40h1v2h-1zm0 14h1v1h-1zm0 22h1v1h-1zm1-22h1v1h-1zm0 14h1v1h-1zm0 5h1v1h-1zm1-55h1v1h-1zm0 36h1v1h-1zm1-8h1v1h-1zm1 28h1v3h-1zm1-64h1v1h-1zm1 0h1v1h-1zm2-3h1v1h-1zm0 2h1v1h-1zm1 65h1v1h-1zm0 2h1v2h-1zm0 7h1v1h-1zm1-74h1v1h-1zm0 73h1v1h-1zm0 2h1v1h-1zm1-76h1v1h-1zm0 33h1v1h-1zm1 0h1v1h-1zm1-32h1v1h-1zm1-18h1v1h-1zm0 50h1v1h-1zm1-33h1v1h-1zm1-1h1v2h-1zm0 29h1v1h-1zm0 11h1v1h-1zm0 43h1v1h-1zm1-96h1v1h-1zm0 91h1v2h-1zm1-76h1v1h-1zm0 58h1v1h-1zm0 5h1v1h-1zm0 3h1v2h-1zm2-16h1v1h-1zm1-34h1v2h-1zm0 4h1v1h-1zm0 2h1v1h-1zm0 7h1v1h-1zm0 5h1v1h-1zm0 11h1v1h-1zm1-62h1v1h-1zm0 15h1v1h-1zm0 7h1v1h-1zm0 7h1v1h-1zm1-17h1v1h-1zm0 66h1v1h-1zm0 8h1v1h-1zm0 2h1v2h-1zm1-92h1v1h-1zm0 16h1v1h-1zm0 60h1v1h-1zm1-75h1v2h-1zm0 9h1v1h-1zm0 27h1v1h-1zm1-20h1v1h-1zm0 3h1v2h-1zm0 14h1v1h-1zm0 9h1v1h-1zm0 2h1v2h-1zm0 4h1v1h-1zm0 3h1v1h-1zm0 8h1v1h-1zm3-60h1v1h-1zm0 2h1v1h-1zm0 18h1v1h-1zm1-20h1v1h-1zm1 2h1v1h-1zm1-2h1v1h-1zm2 21h1v1h-1zm3-20h1v1h-1zm2 0h1v2h-1zm2 1h1v1h-1zm1-1h1v1h-1zm14 48h1v1h-1zm0 18h1v1h-1zm40-54h1v1h-1z"/><path fill="#8dca4e" d="M3 52h1v1h-1zm0 10h1v1h-1zm0 2h1v1h-1zm0 35h1v1h-1zm5-70h1v1h-1zm0 2h1v1h-1zm0 5h1v1h-1zm0 5h1v1h-1zm0 3h1v1h-1zm0 21h1v1h-1zm0 2h1v1h-1zm0 5h1v1h-1zm0 2h1v2h-1zm0 4h1v1h-1zm0 9h1v1h-1zm0 2h1v1h-1zm0 8h1v1h-1zm0 3h1v1h-1zm2-1h1v1h-1zm2-88h1v1h-1zm0 19h1v2h-1zm0 8h1v2h-1zm2-37h1v2h-1zm0 6h1v1h-1zm0 23h1v1h-1zm0 2h1v2h-1zm0 7h1v1h-1zm0 27h1v2h-1zm0 4h1v2h-1zm0 6h1v3h-1zm0 4h1v1h-1zm0 5h1v1h-1zm0 2h1v3h-1zm2-72h1v1h-1zm0 2h1v1h-1zm0 10h1v1h-1zm0 3h1v1h-1zm0 2h1v1h-1zm0 2h1v1h-1zm1 1h1v1h-1zm2 17h1v1h-1zm3-34h1v1h-1zm0 10h1v2h-1zm0 3h1v1h-1zm0 7h1v1h-1zm0 18h1v1h-1zm0 4h1v1h-1zm0 4h1v1h-1zm0 16h1v3h-1zm0 6h1v1h-1zm0 3h1v1h-1zm0 3h1v1h-1zm0 3h1v1h-1zm0 5h1v1h-1zm1-58h1v1h-1zm0 23h1v2h-1zm0 18h1v1h-1zm7-14h1v1h-1zm1-60h1v1h-1zm0 2h1v2h-1zm0 21h1v1h-1zm0 5h1v1h-1zm0 6h1v3h-1zm0 4h1v2h-1zm0 19h1v1h-1zm0 2h1v1h-1zm0 4h1v1h-1zm0 10h1v1h-1zm0 3h1v1h-1zm0 8h1v6h-1zm1-92h1v2h-1zm0 7h1v2h-1zm0 3h1v1h-1zm0 8h1v1h-1zm0 18h1v1h-1zm0 6h1v3h-1zm0 4h1v1h-1zm0 8h1v1h-1zm0 3h1v2h-1zm0 8h1v2h-1zm0 3h1v3h-1zm0 31h1v1h-1zm1-92h1v1h-1zm0 18h1v1h-1zm0 11h1v1h-1zm0 3h1v1h-1zm0 6h1v1h-1zm0 3h1v1h-1zm0 2h1v3h-1zm0 7h1v2h-1zm0 3h1v1h-1zm1-45h1v2h-1zm0 3h1v1h-1zm0 3h1v1h-1zm0 76h1v1h-1zm1-69h1v1h-1zm2-18h1v1h-1zm0 14h1v1h-1zm0 2h1v2h-1zm0 23h1v1h-1zm0 6h1v1h-1zm4-56h1v1h-1zm0 90h1v2h-1zm0 6h1v1h-1zm4-67h1v1h-1zm2 26h1v3h-1zm3-33h1v1h-1zm0 9h1v1h-1zm0 31h1v1h-1zm0 25h1v1h-1zm0 3h1v2h-1zm0 4h1v1h-1zm0 4h1v1h-1zm1-98h1v1h-1zm0 10h1v1h-1zm1 3h1v2h-1zm2 14h1v1h-1zm6 9h1v1h-1zm0 2h1v1h-1zm0 3h1v1h-1zm0 4h1v2h-1zm0 3h1v1h-1zm0 7h1v2h-1zm0 14h1v2h-1zm0 3h1v1h-1zm1-65h1v2h-1zm0 3h1v3h-1zm0 6h1v2h-1zm0 37h1v1h-1zm0 13h1v1h-1zm0 3h1v1h-1zm0 7h1v1h-1zm0 5h1v2h-1zm0 3h1v1h-1zm5-7h1v2h-1zm0 9h1v1h-1zm0 4h1v1h-1zm1-14h1v2h-1zm0 4h1v2h-1zm3-9h1v1h-1zm1-66h1v2h-1zm0 4h1v1h-1zm0 2h1v1h-1zm0 9h1v1h-1zm0 75h1v1h-1zm4-94h1v1h-1zm0 5h1v1h-1zm0 5h1v1h-1zm0 4h1v1h-1zm0 9h1v2h-1zm0 4h1v3h-1zm0 7h1v1h-1zm0 5h1v3h-1zm0 7h1v3h-1zm0 5h1v3h-1zm0 7h1v1h-1zm0 24h1v1h-1zm0 17h1v1h-1zm1-65h1v2h-1zm0 41h1v1h-1zm0 14h1v1h-1zm0 4h1v1h-1zm3-93h1v1h-1zm0 2h1v1h-1zm0 8h1v1h-1zm0 14h1v1h-1zm0 73h1v1h-1zm9-24h1v1h-1zm1-63h1v1h-1zm0 2h1v1h-1zm0 35h1v1h-1zm0 3h1v2h-1zm0 14h1v1h-1zm0 2h1v1h-1zm0 2h1v1h-1zm0 17h1v1h-1zm0 2h1v1h-1zm3-15h1v2h-1zm0 25h1v1h-1zm1-75h1v2h-1zm0 55h1v1h-1zm0 4h1v1h-1zm0 2h1v1h-1zm0 4h1v1h-1zm1-87h1v2h-1zm0 14h1v1h-1zm0 54h1v1h-1zm1-44h1v1h-1zm0 14h1v1h-1zm0 2h1v1h-1zm0 22h1v1h-1zm0 7h1v1h-1zm0 35h1v1h-1zm1-95h1v1h-1zm0 50h1v3h-1zm1-6h1v1h-1zm0 32h1v2h-1zm0 11h1v2h-1zm1-56h1v1h-1zm0 33h1v2h-1zm0 4h1v1h-1zm1-8h1v1h-1zm1-50h1v1h-1zm0 2h1v1h-1zm0 2h1v1h-1zm0 7h1v1h-1zm1-13h1v1h-1zm0 3h1v2h-1zm0 11h1v2h-1zm0 38h1v1h-1zm0 23h1v1h-1zm1-53h1v1h-1zm0 3h1v1h-1zm0 27h1v1h-1zm4-28h1v1h-1zm1 13h1v1h-1zm1 21h1v2h-1zm1 0h1v1h-1zm1-51h1v1h-1zm0 28h1v1h-1zm0 24h1v2h-1zm0 10h1v1h-1zm1-48h1v1h-1zm0 18h1v1h-1zm0 17h1v1h-1zm0 11h1v1h-1zm1-60h1v1h-1zm0 7h1v1h-1zm0 15h1v1h-1zm0 15h1v3h-1zm1-3h1v1h-1zm0 3h1v1h-1zm1 2h1v1h-1zm1-61h1v1h-1zm0 56h1v1h-1zm0 27h1v2h-1zm1-37h1v1h-1zm0 16h1v1h-1zm0 5h1v1h-1zm0 14h1v1h-1zm1-67h1v1h-1zm0 35h1v1h-1zm0 14h1v2h-1zm0 23h1v1h-1zm1-14h1v1h-1zm0 9h1v1h-1zm0 5h1v1h-1zm1-14h1v1h-1zm0 12h1v1h-1zm0 2h1v1h-1zm1-14h1v1h-1zm0 4h1v1h-1zm1-10h1v1h-1zm0 7h1v2h-1zm0 19h1v1h-1zm2-47h1v1h-1zm0 18h1v2h-1zm1 1h1v3h-1zm0 14h1v1h-1zm1-12h1v1h-1zm0 27h1v1h-1zm0 4h1v1h-1zm1-19h1v1h-1zm0 8h1v2h-1zm0 3h1v1h-1zm1-67h1v1h-1zm0 66h1v1h-1zm1-86h1v1h-1zm0 47h1v1h-1zm0 32h1v2h-1zm1 7h1v1h-1zm2-9h1v2h-1zm1-1h1v2h-1zm1 0h1v1h-1zm1-1h1v1h-1zm1 12h1v1h-1zm1-86h1v1h-1zm0 3h1v1h-1zm0 38h1v1h-1zm0 29h1v1h-1zm1-69h1v1h-1zm0 42h1v1h-1zm1-40h1v1h-1zm0 18h1v1h-1zm0 42h1v1h-1zm0 14h1v1h-1zm0 4h1v1h-1zm1-54h1v1h-1zm1 36h1v1h-1zm0 8h1v1h-1zm0 25h1v1h-1zm1-72h1v1h-1zm0 6h1v2h-1zm0 34h1v1h-1zm0 3h1v1h-1zm0 29h1v1h-1zm3-79h1v1h-1zm1-17h1v1h-1zm0 9h1v1h-1zm0 87h1v1h-1zm1-76h1v1h-1zm0 10h1v1h-1zm1-17h1v1h-1zm0 2h1v2h-1zm0 3h1v1h-1zm0 3h1v3h-1zm0 14h1v2h-1zm0 38h1v1h-1zm0 15h1v2h-1zm1-67h1v1h-1zm0 3h1v3h-1zm0 16h1v1h-1zm0 4h1v2h-1zm0 20h1v1h-1zm0 3h1v1h-1zm0 15h1v1h-1zm0 6h1v2h-1zm2-81h1v1h-1zm0 20h1v1h-1zm0 19h1v1h-1zm0 39h1v1h-1zm0 10h1v1h-1zm0 4h1v1h-1zm2-74h1v1h-1zm0 8h1v1h-1zm0 15h1v1h-1zm0 28h1v1h-1zm0 4h1v1h-1zm0 16h1v2h-1zm1-79h1v1h-1zm0 11h1v1h-1zm0 26h1v1h-1zm0 22h1v1h-1zm0 12h1v1h-1zm0 4h1v1h-1zm1-69h1v1h-1zm0 2h1v1h-1zm0 29h1v1h-1zm0 30h1v1h-1zm0 6h1v1h-1zm1-75h1v1h-1zm0 51h1v1h-1zm0 25h1v1h-1zm0 4h1v2h-1zm1-82h1v1h-1zm0 34h1v1h-1zm0 32h1v1h-1zm0 4h1v1h-1zm0 12h1v1h-1zm0 2h1v1h-1zm1-102h1v2h-1zm0 20h1v1h-1zm0 10h1v2h-1zm0 23h1v1h-1zm0 29h1v1h-1zm0 2h1v1h-1zm0 9h1v1h-1zm0 5h1v1h-1zm0 3h1v1h-1zm1-83h1v4h-1zm0 9h1v1h-1zm0 26h1v2h-1zm0 14h1v1h-1zm0 5h1v1h-1zm0 13h1v1h-1zm0 7h1v1h-1zm1-72h1v1h-1zm0 4h1v1h-1zm0 10h1v1h-1zm0 3h1v1h-1zm0 16h1v1h-1zm0 23h1v1h-1zm0 3h1v1h-1zm0 8h1v1h-1zm0 7h1v1h-1zm1-61h1v1h-1zm0 25h1v1h-1zm0 14h1v1h-1zm0 25h1v1h-1zm1-77h1v1h-1zm0 33h1v1h-1zm0 31h1v1h-1zm0 10h1v1h-1zm0 2h1v1h-1zm0 2h1v1h-1zm1-41h1v1h-1zm0 39h1v1h-1zm0 5h1v1h-1zm1-86h1v1h-1zm0 10h1v1h-1zm0 59h1v1h-1zm0 17h1v1h-1zm1-78h1v2h-1zm0 6h1v1h-1zm1-2h1v1h-1zm0 2h1v1h-1zm0 5h1v1h-1zm0 3h1v1h-1zm0 58h1v1h-1zm2-75h1v1h-1zm1 0h1v1h-1zm1 15h1v3h-1zm0 65h1v1h-1zm0 2h1v1h-1zm1-81h1v1h-1zm0 81h1v1h-1zm1-82h1v1h-1zm0 23h1v1h-1zm0 5h1v1h-1zm0 46h1v2h-1zm0 6h1v1h-1zm1-4h1v3h-1zm1-62h1v1h-1zm0 12h1v1h-1zm0 22h1v1h-1zm0 4h1v1h-1zm0 19h1v1h-1zm1-71h1v1h-1zm0 42h1v1h-1zm0 26h1v3h-1zm1 5h1v1h-1zm1-57h1v1h-1zm0 34h1v2h-1zm2-47h1v1h-1zm0 38h1v1h-1zm0 6h1v1h-1zm0 21h1v1h-1zm1 4h1v1h-1zm1-65h1v1h-1zm0 36h1v1h-1zm1-27h1v2h-1zm1 34h1v1h-1zm1-20h1v1h-1zm1-39h1v1h-1zm0 7h1v1h-1zm0 42h1v1h-1zm1-39h1v1h-1zm1 41h1v2h-1zm2-45h1v1h-1zm3 2h1v1h-1zm1 0h1v2h-1zm0 28h1v2h-1zm1 27h1v1h-1zm1-19h1v1h-1zm1-35h1v1h-1zm2-19h1v1h-1zm0 2h1v1h-1zm0 53h1v1h-1zm0 23h1v1h-1zm4 6h1v1h-1zm0 7h1v1h-1zm1-16h1v2h-1zm3-52h1v1h-1zm0 5h1v1h-1zm0 5h1v1h-1zm0 3h1v1h-1zm1 45h1v1h-1zm0 2h1v3h-1zm1-70h1v1h-1zm1-3h1v1h-1zm0 5h1v1h-1zm0 12h1v1h-1zm0 2h1v1h-1zm0 5h1v1h-1zm0 7h1v1h-1zm0 25h1v1h-1zm1-49h1v1h-1zm0 28h1v1h-1zm0 8h1v1h-1zm4-34h1v1h-1zm3-21h1v1h-1zm2 21h1v1h-1zm1-19h1v1h-1zm4 18h1v1h-1z"/><path fill="#99c846" d="M1 3h1v2h-1zm0 6h1v1h-1zm0 17h1v1h-1zm0 5h1v1h-1zm0 3h1v1h-1zm0 2h1v3h-1zm0 26h1v1h-1zm0 2h1v2h-1zm0 14h1v2h-1zm0 4h1v1h-1zm0 5h1v1h-1zm0 5h1v1h-1zm0 4h1v2h-1zm1-95h1v1h-1zm0 57h1v1h-1zm0 21h1v2h-1zm0 3h1v2h-1zm0 7h1v1h-1zm1-26h1v1h-1zm0 37h1v1h-1zm4-97h1v2h-1zm0 15h1v1h-1zm0 12h1v2h-1zm0 4h1v1h-1zm0 4h1v1h-1zm0 4h1v1h-1zm0 6h1v1h-1zm0 2h1v2h-1zm0 11h1v1h-1zm0 14h1v1h-1zm0 4h1v3h-1zm0 6h1v1h-1zm0 2h1v1h-1zm0 3h1v1h-1zm0 2h1v2h-1zm0 7h1v1h-1zm1-69h1v1h-1zm0 2h1v2h-1zm0 3h1v1h-1zm0 2h1v4h-1zm0 5h1v1h-1zm0 22h1v1h-1zm0 5h1v3h-1zm0 4h1v1h-1zm0 8h1v2h-1zm6-54h1v1h-1zm0 2h1v1h-1zm0 2h1v1h-1zm0 44h1v1h-1zm0 4h1v1h-1zm1-79h1v1h-1zm0 11h1v1h-1zm0 7h1v1h-1zm0 3h1v1h-1zm0 5h1v1h-1zm0 3h1v1h-1zm0 3h1v1h-1zm0 2h1v1h-1zm0 19h1v3h-1zm0 5h1v1h-1zm0 10h1v1h-1zm0 5h1v1h-1zm0 7h1v2h-1zm0 3h1v2h-1zm0 3h1v1h-1zm0 3h1v2h-1zm0 5h1v2h-1zm0 4h1v1h-1zm1-79h1v1h-1zm0 12h1v1h-1zm0 2h1v1h-1zm3 20h1v1h-1zm2 46h1v1h-1zm1-72h1v1h-1zm0 3h1v1h-1zm0 5h1v3h-1zm0 15h1v1h-1zm0 29h1v1h-1zm0 5h1v2h-1zm0 3h1v2h-1zm0 7h1v1h-1zm1-31h1v1h-1zm0 4h1v3h-1zm0 10h1v1h-1zm8-69h1v1h-1zm0 2h1v1h-1zm0 11h1v1h-1zm0 25h1v1h-1zm0 24h1v2h-1zm0 29h1v2h-1zm1-99h1v1h-1zm0 3h1v1h-1zm0 9h1v1h-1zm0 2h1v1h-1zm0 2h1v1h-1zm0 30h1v1h-1zm0 22h1v1h-1zm1-18h1v1h-1zm0 4h1v1h-1zm0 2h1v1h-1zm1-46h1v1h-1zm0 8h1v1h-1zm0 2h1v1h-1zm3 33h1v3h-1zm5 47h1v1h-1zm8-39h1v1h-1zm0 28h1v1h-1zm1-33h1v2h-1zm9-23h1v1h-1zm0 2h1v1h-1zm0 5h1v1h-1zm0 7h1v1h-1zm0 2h1v1h-1zm0 3h1v1h-1zm0 19h1v1h-1zm1-62h1v1h-1zm0 61h1v3h-1zm0 4h1v1h-1zm0 9h1v1h-1zm5 1h1v1h-1zm4-8h1v2h-1zm1-72h1v1h-1zm2 14h1v1h-1zm0 74h1v1h-1zm0 2h1v2h-1zm1-80h1v1h-1zm0 4h1v4h-1zm0 18h1v1h-1zm0 3h1v2h-1zm0 10h1v3h-1zm0 4h1v1h-1zm0 2h1v1h-1zm0 2h1v1h-1zm0 6h1v1h-1zm0 7h1v2h-1zm0 3h1v3h-1zm0 8h1v1h-1zm0 9h1v1h-1zm1-64h1v2h-1zm0 6h1v1h-1zm0 11h1v1h-1zm0 2h1v1h-1zm0 6h1v1h-1zm1-19h1v2h-1zm0 47h1v2h-1zm3-77h1v1h-1zm1-2h1v1h-1zm0 2h1v1h-1zm0 2h1v2h-1zm0 4h1v1h-1zm0 58h1v2h-1zm0 3h1v6h-1zm0 9h1v1h-1zm0 4h1v2h-1zm0 9h1v1h-1zm1 10h1v1h-1zm2-22h1v1h-1zm1-76h1v3h-1zm0 7h1v1h-1zm0 2h1v1h-1zm0 15h1v3h-1zm0 7h1v1h-1zm0 8h1v3h-1zm0 11h1v2h-1zm0 7h1v1h-1zm5-3h1v1h-1zm4-4h1v1h-1zm0 27h1v2h-1zm0 3h1v1h-1zm0 2h1v1h-1zm1-15h1v1h-1zm0 3h1v1h-1zm0 2h1v1h-1zm1-37h1v1h-1zm0 28h1v1h-1zm1 32h1v1h-1zm0 2h1v1h-1zm1-47h1v1h-1zm0 32h1v1h-1zm0 6h1v1h-1zm1-51h1v1h-1zm0 2h1v1h-1zm0 2h1v1h-1zm0 2h1v3h-1zm0 27h1v1h-1zm1-11h1v3h-1zm0 4h1v1h-1zm0 2h1v1h-1zm1-45h1v1h-1zm0 2h1v6h-1zm0 7h1v1h-1zm0 4h1v2h-1zm0 18h1v1h-1zm0 3h1v2h-1zm1-32h1v2h-1zm0 3h1v1h-1zm0 6h1v1h-1zm9 23h1v1h-1zm0 3h1v1h-1zm0 26h1v1h-1zm1-28h1v1h-1zm0 30h1v1h-1zm1-30h1v1h-1zm0 16h1v1h-1zm3-7h1v1h-1zm1 22h1v1h-1zm1-31h1v1h-1zm0 18h1v3h-1zm0 8h1v1h-1zm1-20h1v1h-1zm0 15h1v1h-1zm1-11h1v1h-1zm0 11h1v1h-1zm0 7h1v1h-1zm2-35h1v1h-1zm0 20h1v1h-1zm1-3h1v1h-1zm1 0h1v1h-1zm1 16h1v1h-1zm2-68h1v1h-1zm0 12h1v1h-1zm0 41h1v1h-1zm0 22h1v1h-1zm0 2h1v1h-1zm1-67h1v1h-1zm0 28h1v1h-1zm1 15h1v1h-1zm0 13h1v2h-1zm1-23h1v1h-1zm1 1h1v1h-1zm2-29h1v1h-1zm1 37h1v1h-1zm1 13h1v1h-1zm2-74h1v2h-1zm0 55h1v1h-1zm0 11h1v1h-1zm1-52h1v1h-1zm0 50h1v1h-1zm0 2h1v1h-1zm1 4h1v1h-1zm1-45h1v1h-1zm1 65h1v1h-1zm1-63h1v1h-1zm2 0h1v1h-1zm1-5h1v2h-1zm0 5h1v1h-1zm1-8h1v1h-1zm0 2h1v1h-1zm0 6h1v1h-1zm0 43h1v2h-1zm0 12h1v1h-1zm0 11h1v1h-1zm1-72h1v3h-1zm0 74h1v1h-1zm1-82h1v1h-1zm0 5h1v1h-1zm0 39h1v1h-1zm2 7h1v1h-1zm2-43h1v1h-1zm0 3h1v5h-1zm0 9h1v1h-1zm0 13h1v1h-1zm0 8h1v1h-1zm0 22h1v2h-1zm0 3h1v1h-1zm1-56h1v1h-1zm0 4h1v1h-1zm0 44h1v1h-1zm1-49h1v2h-1zm0 50h1v1h-1zm0 8h1v1h-1zm1 6h1v1h-1zm1-68h1v1h-1zm0 41h1v1h-1zm0 2h1v3h-1zm0 22h1v1h-1zm1-69h1v1h-1zm0 9h1v1h-1zm0 5h1v1h-1zm0 45h1v1h-1zm0 10h1v1h-1zm0 5h1v1h-1zm1-91h1v1h-1zm0 21h1v2h-1zm0 3h1v1h-1zm0 59h1v1h-1zm0 11h1v1h-1zm1-75h1v1h-1zm0 61h1v1h-1zm0 6h1v1h-1zm0 4h1v2h-1zm1-70h1v1h-1zm1 14h1v1h-1zm0 16h1v1h-1zm0 17h1v1h-1zm0 13h1v1h-1zm0 4h1v1h-1zm0 3h1v1h-1zm1-66h1v1h-1zm0 14h1v1h-1zm0 36h1v1h-1zm1-45h1v1h-1zm0 4h1v1h-1zm0 5h1v1h-1zm0 45h1v1h-1zm0 11h1v1h-1zm1-72h1v1h-1zm0 75h1v1h-1zm1-60h1v1h-1zm2-10h1v1h-1zm1 68h1v1h-1zm0 2h1v1h-1zm1-63h1v3h-1zm1-17h1v1h-1zm0 4h1v1h-1zm1-3h1v1h-1zm0 4h1v1h-1zm1-5h1v1h-1zm0 4h1v1h-1zm0 16h1v1h-1zm1-10h1v1h-1zm0 10h1v1h-1zm0 32h1v3h-1zm0 24h1v1h-1zm1-75h1v1h-1zm0 6h1v1h-1zm0 71h1v1h-1zm1-77h1v1h-1zm0 4h1v1h-1zm0 43h1v1h-1zm1-31h1v1h-1zm0 38h1v1h-1zm0 20h1v1h-1zm2-29h1v1h-1zm0 27h1v2h-1zm2 0h1v2h-1zm1-57h1v1h-1zm3 55h1v1h-1zm2-58h1v1h-1zm0 58h1v1h-1zm1-70h1v1h-1zm7 33h1v1h-1zm4 2h1v3h-1zm4 40h1v1h-1zm0 14h1v1h-1zm1-37h1v1h-1zm1-50h1v1h-1zm1 3h1v1h-1zm0 10h1v1h-1zm0 15h1v1h-1zm0 2h1v1h-1zm0 54h1v1h-1zm1-84h1v1h-1zm0 7h1v2h-1zm0 4h1v1h-1zm0 2h1v1h-1zm0 5h1v1h-1zm0 8h1v1h-1zm0 47h1v1h-1zm0 6h1v1h-1zm1-16h1v1h-1zm1-10h1v2h-1zm1-59h1v2h-1zm0 11h1v1h-1zm0 4h1v1h-1zm0 3h1v2h-1zm0 9h1v1h-1zm0 8h1v1h-1zm0 5h1v1h-1zm0 2h1v1h-1zm0 10h1v1h-1zm1-49h1v1h-1zm0 5h1v1h-1zm0 30h1v1h-1zm0 4h1v2h-1zm5-57h1v1h-1zm1 21h1v1h-1z"/><path fill="#a6c63f" d="M1 0h1v2h-1zm0 17h1v1h-1zm0 11h1v2h-1zm0 4h1v1h-1zm0 53h1v2h-1zm0 3h1v1h-1zm0 3h1v1h-1zm0 8h1v1h-1zm1-43h1v1h-1zm0 35h1v2h-1zm5-72h1v5h-1zm0 8h1v1h-1zm0 8h1v1h-1zm0 48h1v1h-1zm0 3h1v1h-1zm0 3h1v1h-1zm0 2h1v1h-1zm0 3h1v1h-1zm0 2h1v2h-1zm0 4h1v1h-1zm1-5h1v2h-1zm6-67h1v1h-1zm1-20h1v2h-1zm0 11h1v2h-1zm0 12h1v1h-1zm0 51h1v1h-1zm0 14h1v2h-1zm0 3h1v1h-1zm7-55h1v3h-1zm0 5h1v1h-1zm0 2h1v4h-1zm0 32h1v1h-1zm0 10h1v1h-1zm1-29h1v1h-1zm0 6h1v2h-1zm0 3h1v4h-1zm8-33h1v1h-1zm0 34h1v1h-1zm1-68h1v2h-1zm0 7h1v1h-1zm1 42h1v1h-1zm0 2h1v1h-1zm18-2h1v1h-1zm9-4h1v1h-1zm0 26h1v1h-1zm14-62h1v3h-1zm0 39h1v1h-1zm0 4h1v3h-1zm0 24h1v1h-1zm0 2h1v4h-1zm0 5h1v1h-1zm1-43h1v1h-1zm1-12h1v1h-1zm4-33h1v1h-1zm0 2h1v1h-1zm0 65h1v1h-1zm0 18h1v1h-1zm1-25h1v1h-1zm0 8h1v1h-1zm0 2h1v1h-1zm0 5h1v1h-1zm0 3h1v2h-1zm0 19h1v1h-1zm2-31h1v1h-1zm0 31h1v2h-1zm0 3h1v1h-1zm1-90h1v1h-1zm0 2h1v1h-1zm9 5h1v1h-1zm0 36h1v1h-1zm0 40h1v1h-1zm0 2h1v1h-1zm1-47h1v1h-1zm0 22h1v1h-1zm0 3h1v1h-1zm1 30h1v1h-1zm1-8h1v1h-1zm0 3h1v1h-1zm1-44h1v1h-1zm0 27h1v3h-1zm1-39h1v1h-1zm0 2h1v1h-1zm0 4h1v1h-1zm0 12h1v1h-1zm2-28h1v1h-1zm0 2h1v1h-1zm0 20h1v2h-1zm1-36h1v2h-1zm0 12h1v1h-1zm0 17h1v1h-1zm1-48h1v1h-1zm3 65h1v1h-1zm3 13h1v1h-1zm3-22h1v1h-1zm0 31h1v1h-1zm1-12h1v1h-1zm2-28h1v1h-1zm3 17h1v1h-1zm1-17h1v1h-1zm0 2h1v1h-1zm0 2h1v1h-1zm1 37h1v1h-1zm1-23h1v1h-1zm1 5h1v1h-1zm1-1h1v1h-1zm0 2h1v1h-1zm1-2h1v1h-1zm3 26h1v1h-1zm1-26h1v1h-1zm3-7h1v1h-1zm1-6h1v1h-1zm0 4h1v2h-1zm0 20h1v2h-1zm1 0h1v1h-1zm0 3h1v1h-1zm1-1h1v2h-1zm1 1h1v1h-1zm3-17h1v1h-1zm1 6h1v1h-1zm1 28h1v1h-1zm3-66h1v1h-1zm0 64h1v1h-1zm1-3h1v1h-1zm0 2h1v1h-1zm1-75h1v1h-1zm1 0h1v1h-1zm0 73h1v1h-1zm1-72h1v1h-1zm0 32h1v1h-1zm0 22h1v1h-1zm1-51h1v1h-1zm0 49h1v1h-1zm0 2h1v1h-1zm1-44h1v1h-1zm0 6h1v1h-1zm0 4h1v2h-1zm0 4h1v2h-1zm0 19h1v1h-1zm0 5h1v1h-1zm0 3h1v1h-1zm0 22h1v2h-1zm0 6h1v1h-1zm1-84h1v1h-1zm0 25h1v1h-1zm0 53h1v2h-1zm0 3h1v1h-1zm1-75h1v1h-1zm0 7h1v2h-1zm0 3h1v2h-1zm0 11h1v2h-1zm0 22h1v1h-1zm0 4h1v2h-1zm0 18h1v1h-1zm0 3h1v1h-1zm0 2h1v1h-1zm0 5h1v1h-1zm1-77h1v1h-1zm0 14h1v1h-1zm0 6h1v1h-1zm0 18h1v1h-1zm1-38h1v1h-1zm0 7h1v1h-1zm0 9h1v1h-1zm1-16h1v1h-1zm0 63h1v1h-1zm1-48h1v1h-1zm1-7h1v1h-1zm0 24h1v1h-1zm0 6h1v1h-1zm0 7h1v1h-1zm0 16h1v1h-1zm1-54h1v1h-1zm0 5h1v1h-1zm0 20h1v1h-1zm1-51h1v1h-1zm0 26h1v1h-1zm0 6h1v1h-1zm0 2h1v1h-1zm0 2h1v1h-1zm0 45h1v1h-1zm0 5h1v1h-1zm0 6h1v1h-1zm0 5h1v1h-1zm1-76h1v1h-1zm0 11h1v1h-1zm0 21h1v2h-1zm0 3h1v1h-1zm0 19h1v1h-1zm0 23h1v1h-1zm1-19h1v1h-1zm0 10h1v1h-1zm1-71h1v1h-1zm0 4h1v1h-1zm0 10h1v3h-1zm0 37h1v1h-1zm0 18h1v1h-1zm0 7h1v1h-1zm0 3h1v2h-1zm1-16h1v1h-1zm0 3h1v1h-1zm0 2h1v1h-1zm2-65h1v1h-1zm0 3h1v1h-1zm0 9h1v1h-1zm1-14h1v1h-1zm0 14h1v1h-1zm0 23h1v1h-1zm1-22h1v1h-1zm3 64h1v1h-1zm2-83h1v1h-1zm0 6h1v1h-1zm0 14h1v1h-1zm1-19h1v1h-1zm1-1h1v1h-1zm0 3h1v1h-1zm0 4h1v1h-1zm0 11h1v1h-1zm0 60h1v1h-1zm1-75h1v1h-1zm1-3h1v1h-1zm0 4h1v1h-1zm0 70h1v1h-1zm0 4h1v1h-1zm1-1h1v1h-1zm1-59h1v1h-1zm0 32h1v1h-1zm0 2h1v1h-1zm1-34h1v1h-1zm0 2h1v1h-1zm1 52h1v1h-1zm1 0h1v1h-1zm2-70h1v1h-1zm2-1h1v3h-1zm4 0h1v1h-1zm0 3h1v1h-1zm0 36h1v1h-1zm1 0h1v1h-1zm1-40h1v2h-1zm3 29h1v1h-1zm0 5h1v1h-1zm1-5h1v2h-1zm0 4h1v1h-1zm4-30h1v1h-1zm3 0h1v1h-1zm0 60h1v1h-1zm1 14h1v3h-1zm0 10h1v1h-1zm3-83h1v1h-1zm0 31h1v1h-1zm2-24h1v1h-1zm0 51h1v1h-1zm0 8h1v1h-1zm1-71h1v1h-1zm0 53h1v2h-1zm0 3h1v1h-1zm2-19h1v1h-1zm0 5h1v1h-1zm6-39h1v1h-1z"/><path fill="#b3c437" d="M1 2h1v1h-1zm0 82h1v1h-1zm0 5h1v2h-1zm0 5h1v2h-1zm1-1h1v1h-1zm5-5h1v1h-1zm0 7h1v1h-1zm0 3h1v1h-1zm8-88h1v1h-1zm7 22h1v3h-1zm0 15h1v2h-1zm1 25h1v1h-1zm9-68h1v2h-1zm28 46h1v1h-1zm14 33h1v1h-1zm0 5h1v1h-1zm1-44h1v1h-1zm6-35h1v1h-1zm0 2h1v1h-1zm0 51h1v1h-1zm0 2h1v5h-1zm0 8h1v1h-1zm0 2h1v1h-1zm0 7h1v1h-1zm0 10h1v2h-1zm0 3h1v3h-1zm0 6h1v1h-1zm2-45h1v1h-1zm0 3h1v1h-1zm0 3h1v2h-1zm0 5h1v1h-1zm0 6h1v3h-1zm0 4h1v1h-1zm0 8h1v2h-1zm0 5h1v1h-1zm0 2h1v3h-1zm0 4h1v1h-1zm0 2h1v1h-1zm0 3h1v1h-1zm10-11h1v1h-1zm0 2h1v1h-1zm0 2h1v1h-1zm1-21h1v1h-1zm0 5h1v5h-1zm2-14h1v1h-1zm0 34h1v1h-1zm1-16h1v1h-1zm1-9h1v1h-1zm2-51h1v1h-1zm0 13h1v1h-1zm0 4h1v1h-1zm1-15h1v1h-1zm0 6h1v1h-1zm0 13h1v1h-1zm7-16h1v1h-1zm3 60h1v1h-1zm1-27h1v1h-1zm0 27h1v2h-1zm4-41h1v1h-1zm0 22h1v1h-1zm1-22h1v1h-1zm0 5h1v1h-1zm0 15h1v1h-1zm0 3h1v2h-1zm1-18h1v1h-1zm0 17h1v1h-1zm3 23h1v1h-1zm2-19h1v1h-1zm1-24h1v2h-1zm1 42h1v1h-1zm1-3h1v1h-1zm0 8h1v1h-1zm2-60h1v2h-1zm1 1h1v1h-1zm0 22h1v1h-1zm0 5h1v1h-1zm4-32h1v1h-1zm1 43h1v2h-1zm0 9h1v1h-1zm1-9h1v1h-1zm2-1h1v1h-1zm8-47h1v1h-1zm0 72h1v1h-1zm1-22h1v2h-1zm0 24h1v1h-1zm1-45h1v2h-1zm1-18h1v1h-1zm0 65h1v1h-1zm1-82h1v1h-1zm0 20h1v1h-1zm0 6h1v1h-1zm0 21h1v1h-1zm0 3h1v1h-1zm0 20h1v1h-1zm0 2h1v2h-1zm0 10h1v1h-1zm1-82h1v1h-1zm0 32h1v1h-1zm0 17h1v1h-1zm0 5h1v2h-1zm0 12h1v2h-1zm0 3h1v1h-1zm0 7h1v2h-1zm1-54h1v1h-1zm0 13h1v1h-1zm1-30h1v1h-1zm1 0h1v1h-1zm0 14h1v1h-1zm1-32h1v1h-1zm2 30h1v1h-1zm1-14h1v1h-1zm0 14h1v1h-1zm1 1h1v1h-1zm2 52h1v1h-1zm1-1h1v1h-1zm0 2h1v1h-1zm0 3h1v1h-1zm1-71h1v1h-1zm0 70h1v1h-1zm1-33h1v1h-1zm1-36h1v1h-1zm0 35h1v1h-1zm1-36h1v1h-1zm0 2h1v1h-1zm1 13h1v1h-1zm2 1h1v1h-1zm1-19h1v1h-1zm1 17h1v1h-1zm0 62h1v2h-1zm1-75h1v1h-1zm1-4h1v1h-1zm1 17h1v1h-1zm2 33h1v1h-1zm1-2h1v1h-1zm0 7h1v1h-1zm1-37h1v1h-1zm0 30h1v1h-1zm0 7h1v2h-1zm1-36h1v1h-1zm0 31h1v1h-1zm0 22h1v2h-1zm3-56h1v2h-1zm1-15h1v2h-1zm2-2h1v1h-1zm0 47h1v1h-1zm1-46h1v1h-1zm1-1h1v1h-1zm2 41h1v1h-1zm2-41h1v1h-1zm3 31h1v1h-1zm9 30h1v3h-1zm0 5h1v2h-1zm1-12h1v1h-1zm1-49h1v1h-1zm0 44h1v1h-1zm0 37h1v1h-1zm1-60h1v1h-1zm0 4h1v1h-1zm0 6h1v1h-1zm0 6h1v1h-1zm0 3h1v1h-1zm0 33h1v1h-1zm0 2h1v2h-1zm1-70h1v1h-1zm0 2h1v1h-1zm0 49h1v1h-1zm0 10h1v1h-1zm1-54h1v1h-1zm0 37h1v1h-1zm1-52h1v1h-1zm0 2h1v1h-1zm0 18h1v1h-1zm0 7h1v3h-1zm0 5h1v2h-1zm0 6h1v1h-1zm0 2h1v1h-1zm0 5h1v1h-1zm1-64h1v1h-1zm0 55h1v1h-1zm7-35h1v1h-1zm3-21h1v1h-1z"/><path fill="#bfc132" d="M1 93h1v1h-1zm1 1h1v1h-1zm0 4h1v1h-1zm0 2h1v1h-1zm79-95h1v1h-1zm0 3h1v1h-1zm0 2h1v1h-1zm0 2h1v3h-1zm0 36h1v2h-1zm0 3h1v1h-1zm0 3h1v1h-1zm0 3h1v4h-1zm0 6h1v1h-1zm0 7h1v1h-1zm0 3h1v1h-1zm0 2h1v1h-1zm0 2h1v2h-1zm0 6h1v3h-1zm0 4h1v3h-1zm0 6h1v1h-1zm0 4h1v1h-1zm0 2h1v1h-1zm1-27h1v1h-1zm0 5h1v1h-1zm1-40h1v1h-1zm0 6h1v2h-1zm0 3h1v1h-1zm0 2h1v2h-1zm0 3h1v1h-1zm0 2h1v2h-1zm0 4h1v1h-1zm0 2h1v1h-1zm0 5h1v2h-1zm0 4h1v1h-1zm0 2h1v2h-1zm0 5h1v1h-1zm0 2h1v2h-1zm0 3h1v4h-1zm0 6h1v1h-1zm0 2h1v1h-1zm0 2h1v1h-1zm0 4h1v1h-1zm0 2h1v1h-1zm10-4h1v1h-1zm0 3h1v1h-1zm0 9h1v1h-1zm1-20h1v3h-1zm1-8h1v1h-1zm0 26h1v1h-1zm1-12h1v1h-1zm0 4h1v1h-1zm1-15h1v1h-1zm1-29h1v1h-1zm1-11h1v1h-1zm0 21h1v1h-1zm0 7h1v1h-1zm1-17h1v1h-1zm1-26h1v1h-1zm0 17h1v1h-1zm0 6h1v1h-1zm2 18h1v1h-1zm0 2h1v1h-1zm2 0h1v1h-1zm6-8h1v1h-1zm2-3h1v1h-1zm0 7h1v2h-1zm1-17h1v1h-1zm0 13h1v1h-1zm1-12h1v1h-1zm0 21h1v2h-1zm1-22h1v2h-1zm0 11h1v1h-1zm1-8h1v1h-1zm0 2h1v1h-1zm1-3h1v1h-1zm0 17h1v2h-1zm3 24h1v1h-1zm1-19h1v1h-1zm1 0h1v1h-1zm1 0h1v2h-1zm1 1h1v1h-1zm1 0h1v1h-1zm1-20h1v1h-1zm0 20h1v1h-1zm1-11h1v2h-1zm0 10h1v2h-1zm1-10h1v1h-1zm1 1h1v1h-1zm2-31h1v1h-1zm1 1h1v1h-1zm1 41h1v1h-1zm1 0h1v1h-1zm5 1h1v1h-1zm2-38h1v1h-1zm1 1h1v1h-1zm1-16h1v1h-1zm0 8h1v1h-1zm0 7h1v1h-1zm0 2h1v1h-1zm1-13h1v1h-1zm0 12h1v1h-1zm1-11h1v1h-1zm0 29h1v1h-1zm0 24h1v1h-1zm1-55h1v1h-1zm0 30h1v1h-1zm0 23h1v1h-1zm1-14h1v1h-1zm0 42h1v1h-1zm1-80h1v1h-1zm0 10h1v1h-1zm0 4h1v1h-1zm0 9h1v3h-1zm0 5h1v1h-1zm0 15h1v2h-1zm0 6h1v1h-1zm0 22h1v1h-1zm0 3h1v1h-1zm0 8h1v1h-1zm1-40h1v1h-1zm0 36h1v3h-1zm1-72h1v1h-1zm0 27h1v1h-1zm1-20h1v1h-1zm0 19h1v1h-1zm0 3h1v1h-1zm0 34h1v1h-1zm1-58h1v1h-1zm1-10h1v1h-1zm0 10h1v1h-1zm1-11h1v1h-1zm0 12h1v1h-1zm0 22h1v1h-1zm1-34h1v1h-1zm0 14h1v1h-1zm1 0h1v1h-1zm2-1h1v1h-1zm0 21h1v1h-1zm1 29h1v1h-1zm1 14h1v1h-1zm1-77h1v1h-1zm1 14h1v1h-1zm0 20h1v1h-1zm2-35h1v1h-1zm1 13h1v1h-1zm2 61h1v1h-1zm1-74h1v2h-1zm0 77h1v1h-1zm1 0h1v1h-1zm1-64h1v1h-1zm3-12h1v1h-1zm2 51h1v1h-1zm1-7h1v1h-1zm1-4h1v1h-1zm1-1h1v1h-1zm1-26h1v1h-1zm1-16h1v1h-1zm2 69h1v1h-1zm1-1h1v2h-1zm1-71h1v1h-1zm0 46h1v1h-1zm2-5h1v1h-1zm3-40h1v1h-1zm2 32h1v1h-1zm1-1h1v1h-1zm8 48h1v1h-1zm0 8h1v2h-1zm1-24h1v2h-1zm1-9h1v1h-1zm1-4h1v1h-1zm1-47h1v1h-1zm0 20h1v2h-1zm0 3h1v1h-1zm0 5h1v1h-1zm0 3h1v1h-1zm0 6h1v1h-1zm0 2h1v1h-1zm0 3h1v2h-1zm1-31h1v1h-1zm0 2h1v1h-1zm0 3h1v1h-1zm0 4h1v1h-1zm0 35h1v1h-1zm1-45h1v1h-1zm0 7h1v2h-1zm0 30h1v1h-1zm1-51h1v2h-1zm0 5h1v2h-1zm0 31h1v1h-1zm0 2h1v1h-1zm0 6h1v2h-1z"/><path fill="#c9bf31" d="M82 61h1v1h-1zm0 7h1v1h-1zm0 6h1v2h-1zm0 5h1v1h-1zm0 3h1v1h-1zm0 2h1v1h-1zm0 9h1v3h-1zm0 4h1v1h-1zm0 3h1v1h-1zm11-10h1v1h-1zm0 7h1v2h-1zm0 3h1v2h-1zm0 5h1v1h-1zm1-29h1v1h-1zm0 6h1v2h-1zm0 5h1v1h-1zm1-16h1v2h-1zm0 30h1v1h-1zm0 2h1v1h-1zm1-37h1v1h-1zm0 25h1v1h-1zm0 2h1v1h-1zm0 2h1v1h-1zm1-39h1v2h-1zm0 4h1v1h-1zm0 15h1v2h-1zm0 5h1v1h-1zm1-27h1v1h-1zm1-12h1v3h-1zm0 16h1v1h-1zm1-4h1v1h-1zm1-14h1v2h-1zm0 5h1v1h-1zm0 2h1v1h-1zm12 12h1v1h-1zm1-10h1v1h-1zm1-2h1v1h-1zm0 11h1v1h-1zm2-11h1v1h-1zm0 2h1v1h-1zm3 42h1v1h-1zm4 2h1v1h-1zm1-22h1v1h-1zm0 25h1v1h-1zm1-25h1v1h-1zm1-18h1v1h-1zm0 18h1v1h-1zm2-36h1v1h-1zm6 40h1v1h-1zm4-3h1v1h-1zm1 4h1v1h-1zm3-40h1v1h-1zm1 1h1v1h-1zm2-9h1v1h-1zm0 26h1v1h-1zm1 25h1v1h-1zm1-57h1v1h-1zm0 8h1v1h-1zm0 27h1v1h-1zm0 4h1v2h-1zm0 3h1v1h-1zm0 40h1v1h-1zm2-67h1v2h-1zm0 13h1v1h-1zm0 13h1v1h-1zm0 36h1v1h-1zm2-62h1v1h-1zm2 20h1v1h-1zm1-34h1v2h-1zm0 16h1v1h-1zm1 19h1v1h-1zm1-34h1v1h-1zm0 47h1v1h-1zm1-12h1v1h-1zm0 13h1v2h-1zm0 29h1v1h-1zm1-28h1v1h-1zm0 28h1v2h-1zm1-44h1v1h-1zm1 44h1v1h-1zm2-63h1v1h-1zm5 62h1v1h-1zm2-62h1v1h-1zm0 60h1v1h-1zm1-73h1v1h-1zm0 74h1v1h-1zm0 2h1v1h-1zm3-6h1v1h-1zm1-4h1v2h-1zm1-55h1v1h-1zm0 55h1v1h-1zm0 2h1v1h-1zm3-57h1v2h-1zm4 30h1v1h-1zm2-2h1v1h-1zm3-44h1v1h-1zm4 31h1v1h-1zm3 4h1v1h-1zm0 2h1v1h-1zm1 0h1v1h-1zm5 44h1v2h-1zm0 4h1v1h-1zm1-16h1v2h-1zm1-13h1v1h-1zm1-7h1v1h-1zm0 2h1v1h-1zm0 33h1v1h-1zm1-52h1v2h-1zm0 4h1v2h-1zm0 3h1v1h-1zm0 28h1v2h-1zm0 3h1v1h-1zm2-62h1v1h-1zm0 2h1v1h-1zm0 7h1v2h-1zm0 7h1v1h-1zm1-22h1v1h-1zm0 43h1v1h-1z"/><path fill="#d2bd31" d="M81 1h1v1h-1zm0 2h1v1h-1zm0 21h1v3h-1zm0 6h1v2h-1zm0 3h1v2h-1zm0 8h1v1h-1zm0 12h1v1h-1zm1-47h1v1h-1zm0 45h1v1h-1zm0 4h1v1h-1zm0 3h1v1h-1zm0 5h1v1h-1zm0 7h1v2h-1zm0 3h1v1h-1zm0 5h1v1h-1zm0 3h1v1h-1zm0 2h1v1h-1zm0 2h1v6h-1zm0 7h1v1h-1zm0 6h1v2h-1zm0 3h1v1h-1zm1-98h1v3h-1zm0 5h1v1h-1zm0 3h1v3h-1zm0 4h1v3h-1zm0 5h1v1h-1zm0 5h1v3h-1zm0 6h1v1h-1zm0 4h1v1h-1zm0 5h1v1h-1zm0 7h1v1h-1zm0 9h1v1h-1zm0 4h1v1h-1zm10 43h1v1h-1zm1-15h1v2h-1zm0 5h1v1h-1zm0 12h1v1h-1zm2-41h1v2h-1zm0 22h1v1h-1zm0 2h1v2h-1zm1-29h1v1h-1zm0 18h1v2h-1zm1-26h1v1h-1zm0 8h1v2h-1zm0 6h1v2h-1zm1-20h1v1h-1zm0 9h1v1h-1zm1-3h1v1h-1zm5 15h1v1h-1zm6-5h1v1h-1zm1 0h1v1h-1zm1-4h1v1h-1zm1-12h1v1h-1zm0 11h1v1h-1zm0 2h1v1h-1zm1 0h1v1h-1zm1-10h1v1h-1zm0 8h1v1h-1zm0 2h1v1h-1zm0 11h1v1h-1zm3-4h1v1h-1zm1 28h1v1h-1zm1-1h1v1h-1zm1-1h1v1h-1zm0 2h1v1h-1zm1-46h1v1h-1zm0 46h1v1h-1zm1-2h1v1h-1zm0 4h1v1h-1zm1-5h1v1h-1zm1-39h1v3h-1zm0 33h1v1h-1zm3-23h1v1h-1zm2-4h1v1h-1zm0 2h1v1h-1zm11-26h1v1h-1zm1 4h1v1h-1zm1-6h1v1h-1zm0 2h1v1h-1zm1 2h1v1h-1zm3-15h1v1h-1zm0 2h1v2h-1zm0 33h1v1h-1zm0 4h1v1h-1zm0 5h1v1h-1zm0 17h1v1h-1zm0 3h1v1h-1zm0 25h1v1h-1zm1-63h1v1h-1zm0 44h1v1h-1zm0 3h1v1h-1zm1-73h1v1h-1zm0 2h1v1h-1zm0 33h1v1h-1zm0 6h1v1h-1zm0 18h1v1h-1zm0 30h1v1h-1zm4-87h1v2h-1zm0 14h1v1h-1zm0 22h1v1h-1zm2-36h1v2h-1zm0 48h1v1h-1zm0 2h1v1h-1zm1-48h1v1h-1zm1 12h1v1h-1zm0 33h1v1h-1zm1-47h1v2h-1zm0 34h1v1h-1zm1-1h1v1h-1zm0 3h1v1h-1zm1-23h1v1h-1zm1-12h1v1h-1zm0 13h1v2h-1zm1-14h1v1h-1zm0 13h1v1h-1zm3-11h1v1h-1zm2 74h1v1h-1zm0 2h1v1h-1zm1-3h1v1h-1zm0 2h1v1h-1zm2-2h1v1h-1zm2-4h1v1h-1zm0 2h1v1h-1zm3-26h1v1h-1zm0 22h1v1h-1zm1-56h1v1h-1zm1 0h1v1h-1zm0 28h1v1h-1zm1-26h1v1h-1zm0 27h1v1h-1zm1-28h1v1h-1zm0 2h1v1h-1zm3 25h1v1h-1zm1-1h1v1h-1zm3-44h1v1h-1zm8 37h1v1h-1zm1-1h1v2h-1zm5 45h1v1h-1zm0 4h1v1h-1zm1-17h1v2h-1zm1-12h1v1h-1zm0 2h1v1h-1zm2-19h1v1h-1zm0 5h1v1h-1zm0 4h1v1h-1zm0 18h1v2h-1zm0 4h1v1h-1zm0 2h1v1h-1zm1-71h1v1h-1zm0 2h1v2h-1zm0 3h1v1h-1zm0 3h1v1h-1zm0 4h1v1h-1zm0 10h1v1h-1zm0 4h1v1h-1zm0 15h1v1h-1zm0 16h1v1h-1zm1-57h1v1h-1zm0 5h1v1h-1zm0 2h1v1h-1zm0 2h1v1h-1zm0 2h1v2h-1zm0 8h1v1h-1zm0 3h1v1h-1zm0 5h1v1h-1zm0 2h1v1h-1zm1 11h1v1h-1zm0 2h1v1h-1z"/><path fill="#dcbb30" d="M81 35h1v1h-1zm0 5h1v1h-1zm0 5h1v1h-1zm1-3h1v1h-1zm0 5h1v1h-1zm0 3h1v1h-1zm0 4h1v1h-1zm0 2h1v2h-1zm0 9h1v2h-1zm0 11h1v1h-1zm0 4h1v1h-1zm0 11h1v1h-1zm0 5h1v1h-1zm1-89h1v1h-1zm10 92h1v1h-1zm0 3h1v1h-1zm1-10h1v1h-1zm0 2h1v1h-1zm0 2h1v1h-1zm1-22h1v2h-1zm0 15h1v1h-1zm0 7h1v1h-1zm0 3h1v1h-1zm1-31h1v1h-1zm0 16h1v2h-1zm0 3h1v1h-1zm0 5h1v1h-1zm1-34h1v1h-1zm0 5h1v1h-1zm0 10h1v2h-1zm1-19h1v1h-1zm1-10h1v1h-1zm0 2h1v1h-1zm0 3h1v1h-1zm0 9h1v1h-1zm1-9h1v1h-1zm0 3h1v1h-1zm1-9h1v1h-1zm0 2h1v1h-1zm2 21h1v1h-1zm1-1h1v1h-1zm5-9h1v1h-1zm1 0h1v1h-1zm2 4h1v1h-1zm2-3h1v1h-1zm1-12h1v1h-1zm0 3h1v1h-1zm0 8h1v1h-1zm1 12h1v1h-1zm0 18h1v1h-1zm1-39h1v1h-1zm0 40h1v1h-1zm2-20h1v1h-1zm1-1h1v2h-1zm0 11h1v1h-1zm0 15h1v1h-1zm2 3h1v1h-1zm1-5h1v1h-1zm0 4h1v2h-1zm2-12h1v1h-1zm0 3h1v1h-1zm1-3h1v1h-1zm0 3h1v1h-1zm1-32h1v1h-1zm0 29h1v4h-1zm3-23h1v1h-1zm8 15h1v1h-1zm1-4h1v1h-1zm0 5h1v2h-1zm1-44h1v3h-1zm0 41h1v1h-1zm0 4h1v1h-1zm2-39h1v1h-1zm1-4h1v1h-1zm1-7h1v1h-1zm4-1h1v2h-1zm0 33h1v1h-1zm0 22h1v1h-1zm0 2h1v2h-1zm1-51h1v1h-1zm0 2h1v1h-1zm0 3h1v1h-1zm0 27h1v1h-1zm0 23h1v2h-1zm0 18h1v1h-1zm1-83h1v1h-1zm0 2h1v1h-1zm0 5h1v2h-1zm0 28h1v2h-1zm0 7h1v2h-1zm0 18h1v4h-1zm2-46h1v1h-1zm0 23h1v1h-1zm1-22h1v1h-1zm1-12h1v1h-1zm0 14h1v1h-1zm2-1h1v1h-1zm0 22h1v1h-1zm1-2h1v1h-1zm0 12h1v1h-1zm1 1h1v1h-1zm1-15h1v1h-1zm0 14h1v2h-1zm1-12h1v1h-1zm1-21h1v1h-1zm0 2h1v1h-1zm0 17h1v1h-1zm0 3h1v1h-1zm1-23h1v1h-1zm7 63h1v1h-1zm2 1h1v1h-1zm1-77h1v1h-1zm0 73h1v1h-1zm1-72h1v1h-1zm0 71h1v1h-1zm1 1h1v1h-1zm1-3h1v1h-1zm2-23h1v1h-1zm1-32h1v1h-1zm1 1h1v1h-1zm0 32h1v1h-1zm1-35h1v1h-1zm1 34h1v3h-1zm2-7h1v1h-1zm1 1h1v1h-1zm1-42h1v1h-1zm1-1h1v1h-1zm17 88h1v1h-1zm1-37h1v1h-1zm2-48h1v1h-1zm0 3h1v1h-1zm0 10h1v1h-1zm0 7h1v2h-1zm0 3h1v1h-1zm0 4h1v1h-1zm0 4h1v1h-1zm1-29h1v1h-1zm0 8h1v2h-1zm0 12h1v1h-1zm0 22h1v1h-1z"/><path fill="#e5bb31" d="M94 90h1v1h-1zm0 9h1v1h-1zm1-26h1v1h-1zm0 10h1v1h-1zm0 9h1v1h-1zm0 6h1v1h-1zm0 2h1v1h-1zm1-33h1v1h-1zm0 7h1v1h-1zm0 4h1v1h-1zm0 2h1v1h-1zm0 2h1v2h-1zm1-21h1v2h-1zm0 6h1v1h-1zm0 5h1v1h-1zm1-20h1v1h-1zm0 17h1v1h-1zm1-22h1v1h-1zm0 9h1v1h-1zm1-8h1v1h-1zm4 19h1v1h-1zm4-13h1v1h-1zm0 2h1v1h-1zm1-1h1v1h-1zm1-1h1v2h-1zm1 6h1v1h-1zm5 27h1v1h-1zm2-1h1v1h-1zm1-20h1v1h-1zm1 12h1v1h-1zm0 16h1v1h-1zm1-3h1v1h-1zm1 1h1v1h-1zm1-3h1v1h-1zm0 2h1v1h-1zm1-2h1v1h-1zm0 4h1v2h-1zm1-10h1v1h-1zm1 0h1v1h-1zm3-25h1v1h-1zm1 0h1v1h-1zm8 12h1v2h-1zm2 1h1v1h-1zm1-40h1v2h-1zm1 0h1v2h-1zm0 5h1v1h-1zm1-5h1v2h-1zm1-7h1v1h-1zm0 8h1v1h-1zm1 5h1v1h-1zm3-9h1v1h-1zm0 25h1v2h-1zm0 4h1v1h-1zm0 22h1v1h-1zm1-59h1v4h-1zm0 10h1v1h-1zm0 7h1v1h-1zm0 7h1v1h-1zm0 15h1v4h-1zm0 5h1v1h-1zm0 17h1v1h-1zm0 22h1v1h-1zm1-78h1v2h-1zm0 17h1v1h-1zm0 18h1v1h-1zm0 18h1v1h-1zm0 2h1v1h-1zm1-24h1v1h-1zm1-33h1v1h-1zm1 14h1v1h-1zm0 21h1v1h-1zm1-3h1v1h-1zm1-20h1v1h-1zm0 22h1v1h-1zm1-2h1v1h-1zm0 14h1v1h-1zm0 2h1v1h-1zm1 1h1v1h-1zm2-1h1v1h-1zm1-47h1v1h-1zm1-1h1v1h-1zm0 14h1v1h-1zm0 20h1v1h-1zm6-34h1v2h-1zm1 0h1v1h-1zm4 0h1v1h-1zm1-1h1v1h-1zm0 2h1v1h-1zm1 69h1v1h-1zm1-21h1v1h-1zm3-36h1v1h-1zm1 35h1v1h-1zm1-1h1v2h-1zm3-6h1v1h-1zm1 0h1v1h-1zm1-2h1v1h-1zm0 3h1v1h-1zm0 22h1v1h-1zm1-1h1v1h-1zm1-66h1v1h-1zm2 0h1v2h-1zm12 82h1v1h-1zm1-12h1v1h-1zm0 7h1v1h-1zm1-18h1v1h-1zm1-6h1v1h-1zm0 20h1v1h-1zm0 2h1v1h-1zm0 3h1v1h-1zm0 3h1v1h-1zm1-28h1v1h-1zm1-24h1v1h-1zm0 7h1v2h-1zm0 17h1v1h-1zm1-51h1v2h-1zm0 20h1v1h-1zm0 2h1v1h-1zm0 5h1v1h-1zm0 6h1v2h-1zm0 5h1v1h-1zm0 6h1v1h-1zm0 2h1v1h-1z"/><path fill="#ecbc33" d="M82 0h1v2h-1zm0 3h1v2h-1zm0 4h1v1h-1zm0 4h1v1h-1zm0 4h1v2h-1zm0 4h1v2h-1zm0 6h1v2h-1zm0 7h1v1h-1zm0 6h1v2h-1zm0 3h1v1h-1zm0 2h1v1h-1zm0 6h1v1h-1zm0 11h1v1h-1zm12 31h1v1h-1zm0 13h1v1h-1zm1-27h1v1h-1zm0 2h1v1h-1zm0 2h1v2h-1zm0 3h1v1h-1zm0 3h1v1h-1zm0 4h1v1h-1zm0 3h1v2h-1zm0 3h1v1h-1zm1-28h1v1h-1zm0 2h1v1h-1zm0 5h1v1h-1zm0 5h1v1h-1zm1-11h1v2h-1zm1-8h1v3h-1zm0 9h1v1h-1zm1-23h1v1h-1zm0 2h1v1h-1zm0 2h1v1h-1zm0 3h1v1h-1zm1-16h1v5h-1zm0 6h1v1h-1zm0 2h1v1h-1zm16 41h1v1h-1zm1-3h1v1h-1zm0 3h1v1h-1zm1-12h1v1h-1zm0 2h1v1h-1zm0 7h1v1h-1zm0 2h1v2h-1zm1-11h1v1h-1zm0 2h1v1h-1zm3 11h1v2h-1zm0 5h1v1h-1zm2-4h1v1h-1zm1-6h1v1h-1zm0 8h1v1h-1zm15-22h1v1h-1zm1-37h1v1h-1zm4-1h1v1h-1zm3 8h1v3h-1zm0 35h1v4h-1zm0 35h1v2h-1zm1-82h1v1h-1zm0 27h1v3h-1zm0 10h1v1h-1zm0 14h1v2h-1zm0 3h1v1h-1zm1-42h1v2h-1zm0 13h1v2h-1zm0 5h1v1h-1zm0 18h1v2h-1zm0 34h1v2h-1zm3-55h1v2h-1zm0 4h1v1h-1zm1-2h1v1h-1zm2 1h1v1h-1zm1-3h1v1h-1zm0 16h1v1h-1zm2-14h1v1h-1zm1-34h1v1h-1zm1 1h1v1h-1zm0 32h1v1h-1zm1-18h1v1h-1zm4-15h1v1h-1zm1-1h1v1h-1zm5 2h1v1h-1zm2 46h1v2h-1zm5-1h1v1h-1zm1 0h1v1h-1zm5-49h1v1h-1zm17 71h1v1h-1zm0 3h1v1h-1zm0 2h1v1h-1zm1-19h1v1h-1zm0 3h1v1h-1zm0 26h1v2h-1zm1-34h1v1h-1zm0 22h1v1h-1zm0 2h1v2h-1zm0 4h1v1h-1zm0 2h1v1h-1zm1-34h1v1h-1zm0 3h1v1h-1zm1-19h1v1h-1zm0 6h1v1h-1zm0 13h1v1h-1zm0 3h1v1h-1z"/><path fill="#f3bd35" d="M82 8h1v1h-1zm0 16h1v1h-1zm0 6h1v1h-1zm12 65h1v1h-1zm0 2h1v2h-1zm0 4h1v1h-1zm0 2h1v1h-1zm1-25h1v1h-1zm0 2h1v1h-1zm0 10h1v1h-1zm0 3h1v1h-1zm1-20h1v1h-1zm0 6h1v1h-1zm1-14h1v1h-1zm0 3h1v2h-1zm1-13h1v2h-1zm0 12h1v2h-1zm0 3h1v1h-1zm1-19h1v1h-1zm0 2h1v1h-1zm5 13h1v1h-1zm4-11h1v1h-1zm1-1h1v1h-1zm7 31h1v1h-1zm4-9h1v1h-1zm0 13h1v1h-1zm0 2h1v1h-1zm10-34h1v1h-1zm1 1h1v1h-1zm7 17h1v1h-1zm7-44h1v1h-1zm0 2h1v1h-1zm4-7h1v1h-1zm0 32h1v1h-1zm0 26h1v1h-1zm0 25h1v1h-1zm1-34h1v1h-1zm3-18h1v1h-1zm2 2h1v1h-1zm2 0h1v1h-1zm3-37h1v1h-1zm1 0h1v1h-1zm7 0h1v1h-1zm0 2h1v1h-1zm5 46h1v2h-1zm1 2h1v1h-1zm1-1h1v1h-1zm9-51h1v2h-1zm0 68h1v1h-1zm1-2h1v1h-1zm1-65h1v1h-1zm0 66h1v2h-1zm1-66h1v1h-1zm3 0h1v1h-1zm12 71h1v2h-1zm0 3h1v1h-1zm1-17h1v1h-1zm0 4h1v1h-1zm1-7h1v1h-1zm0 10h1v1h-1zm0 2h1v1h-1zm0 12h1v1h-1zm1-32h1v1h-1zm0 15h1v2h-1zm1-34h1v1h-1zm0 3h1v1h-1zm0 2h1v1h-1zm0 6h1v1h-1zm0 4h1v2h-1zm0 3h1v1h-1zm0 3h1v1h-1zm1-18h1v2h-1zm0 7h1v2h-1z"/><path fill="#f8c035" d="M94 102h1v1h-1zm1-16h1v1h-1zm0 2h1v1h-1zm1-18h1v1h-1zm0 5h1v1h-1zm0 2h1v1h-1zm1-13h1v1h-1zm0 2h1v1h-1zm1-8h1v1h-1zm2-14h1v1h-1zm0 2h1v1h-1zm17 40h1v1h-1zm1-9h1v1h-1zm1 0h1v1h-1zm6 16h1v2h-1zm13-17h1v1h-1zm1-2h1v1h-1zm1 0h1v1h-1zm9-49h1v1h-1zm0 4h1v1h-1zm0 24h1v1h-1zm0 25h1v1h-1zm0 5h1v1h-1zm2-25h1v2h-1zm1-1h1v1h-1zm2 2h1v1h-1zm1-22h1v1h-1zm0 18h1v1h-1zm2 1h1v1h-1zm9-34h1v1h-1zm19 66h1v1h-1zm3-68h1v2h-1zm2 0h1v1h-1zm12 79h1v1h-1zm0 5h1v1h-1zm0 3h1v2h-1zm1-23h1v1h-1zm0 5h1v1h-1zm0 10h1v2h-1zm0 4h1v1h-1zm0 2h1v1h-1zm1-31h1v1h-1zm0 2h1v1h-1zm0 10h1v1h-1zm0 2h1v1h-1zm0 2h1v3h-1zm1-21h1v1h-1zm0 3h1v1h-1zm0 6h1v4h-1zm1-31h1v1h-1zm0 8h1v1h-1zm0 6h1v1h-1zm0 6h1v2h-1zm0 5h1v1h-1zm1-15h1v1h-1zm0 5h1v1h-1z"/><path fill="#f9cb2e" d="M94 100h1v1h-1zm1-15h1v1h-1zm1-13h1v1h-1zm2-15h1v1h-1zm23 37h1v1h-1zm17-21h1v1h-1zm1-1h1v2h-1zm10-32h1v1h-1zm0 2h1v1h-1zm0 34h1v2h-1zm2-21h1v1h-1zm1 0h1v1h-1zm4 1h1v1h-1zm17 16h1v1h-1zm11 14h1v2h-1zm18 16h1v1h-1zm0 4h1v1h-1zm1-23h1v1h-1zm0 2h1v3h-1zm0 7h1v2h-1zm0 4h1v1h-1zm0 5h1v2h-1zm1-22h1v2h-1zm0 4h1v1h-1zm1-9h1v2h-1zm1-12h1v1h-1zm0 3h1v1h-1z"/><path fill="#fad627" d="M121 93h1v1h-1zm2-1h1v1h-1zm2-1h1v1h-1zm24-50h1v1h-1zm0 13h1v1h-1zm0 57h1v1h-1zm8-53h1v1h-1zm18 12h1v1h-1zm27 28h1v1h-1zm0 3h1v1h-1zm1-20h1v1h-1zm0 7h1v1h-1zm0 9h1v1h-1zm0 7h1v1h-1zm1-27h1v2h-1zm0 7h1v1h-1zm1-8h1v2h-1zm1-6h1v1h-1z"/><path fill="#f9e520" d="M149 75h1v1h-1zm0 35h1v1h-1zm1-51h1v1h-1zm52 41h1v1h-1zm0 3h1v1h-1zm0 2h1v1h-1zm1-14h1v1h-1zm0 4h1v1h-1zm0 3h1v1h-1zm1-16h1v1h-1zm0 7h1v1h-1zm1-19h1v1h-1z"/><path fill="#f8f519" d="M155 56h1v1h-1zm48 34h1v1h-1zm0 4h1v1h-1zm1-13h1v1h-1z"/></g></g><path d="M201.5 30.2V1295.5H1805M201.5 31H204" fill="none" stroke="#262626" stroke-width="1.8"/><g fill="#262626" font-size="49.5"><text x="181" y="122.9" text-anchor="end">160</text><text x="181" y="273.8" text-anchor="end">140</text><text x="181" y="424.7" text-anchor="end">120</text><text x="181" y="575.6" text-anchor="end">100</text><text x="181" y="726.5" text-anchor="end">80</text><text x="181" y="877.4" text-anchor="end">60</text><text x="181" y="1028.3" text-anchor="end">40</text><text x="181" y="1179.2" text-anchor="end">20</text></g><g fill="#262626" font-size="49.5"><text x="460.0" y="1364.8" text-anchor="middle">-0.4</text><text x="728.5" y="1364.8" text-anchor="middle">-0.2</text><text x="997.0" y="1364.8" text-anchor="middle">0</text><text x="1265.5" y="1364.8" text-anchor="middle">0.2</text><text x="1534.0" y="1364.8" text-anchor="middle">0.4</text><text x="1802.5" y="1364.8" text-anchor="middle">0.6</text></g><text x="1004" y="1436" text-anchor="middle" font-size="54.5" fill="#262626">Doppler(Hz)</text><text transform="translate(72.5 662.5) rotate(-90)" text-anchor="middle" font-size="54.5" fill="#262626">Distance(km)</text><rect x="665.3" y="69.6" width="1100.2" height="134.4" fill="#fff" stroke="#262626" stroke-width="2.4"/><rect x="680" y="84" width="148" height="44" fill="#3cc890"/><rect x="743.6" y="155.9" width="21.8" height="21.8" fill="none" stroke="#ff0000" stroke-width="2.4"/><text x="839" y="124" font-size="44.4" fill="#000">Range-Doppler spectrum</text><text x="839" y="184.9" font-size="44.4" fill="#000">Measured target's position in the RD spectrum</text><g clip-path="url(#ic)"><g transform="translate(-853.35 -945.45) scale(11.599 24.302)" shape-rendering="crispEdges"><path fill="#0cb8c0" d="M124 58h1v17h-1z"/><path fill="#13bbba" d="M111 58h1v17h-1z"/><path fill="#21c1ab" d="M109 58h1v17h-1z"/><path fill="#2bc3a1" d="M105 58h1v17h-1zm25 0h1v17h-1z"/><path fill="#34c697" d="M101 58h1v17h-1zm11 0h1v17h-1zm8 0h1v17h-1zm3 0h1v17h-1zm3 0h1v17h-1zm5 0h1v17h-1zm2 0h1v17h-1z"/><path fill="#3dc88d" d="M103 58h1v17h-1zm7 0h1v17h-1zm4 0h1v17h-1zm3 0h1v17h-1zm8 0h1v17h-1zm4 0h1v17h-1z"/><path fill="#48ca84" d="M100 58h1v17h-1zm2 0h1v17h-1zm6 0h1v17h-1zm7 0h1v17h-1zm3 0h1v17h-1zm1 0h1v17h-1zm3 0h1v17h-1z"/><path fill="#52cb7b" d="M107 58h1v17h-1zm20 0h1v17h-1zm7 0h1v17h-1zm1 0h1v17h-1z"/><path fill="#5dcd72" d="M104 58h1v17h-1zm2 0h1v17h-1zm15 0h1v17h-1z"/><path fill="#69cc69" d="M137 58h1v17h-1z"/><path fill="#75cc60" d="M132 58h1v17h-1z"/><path fill="#81cb57" d="M136 58h1v17h-1z"/><path fill="#8dca4e" d="M96 58h1v17h-1zm17 0h1v17h-1z"/><path fill="#99c846" d="M99 58h1v17h-1z"/><path fill="#bfc132" d="M128 58h1v17h-1z"/><path fill="#d2bd31" d="M98 58h1v17h-1zm18 0h1v17h-1z"/><path fill="#dcbb30" d="M97 58h1v17h-1z"/><path fill="#09afce" d="M125 64h1v1h-1z"/><path fill="#05b5c7" d="M109 68h1v1h-1z"/><path fill="#0cb8c0" d="M100 66h1v1h-1zm3-3h1v1h-1zm6-1h1v1h-1zm2 6h1v1h-1zm1 0h1v1h-1zm1-1h1v1h-1zm2 4h1v1h-1zm10-12h1v1h-1zm6 8h1v1h-1zm1-2h1v2h-1zm0 6h1v1h-1zm1-8h1v1h-1zm0 2h1v1h-1zm1 0h1v1h-1z"/><path fill="#13bbba" d="M101 65h1v1h-1zm5 9h1v1h-1zm3-8h1v1h-1zm1 0h1v4h-1zm6-4h1v1h-1zm10 2h1v1h-1zm3 2h1v1h-1zm2 0h1v1h-1zm1-3h1v1h-1zm0 11h1v1h-1z"/><path fill="#1abeb3" d="M99 72h1v1h-1zm14-6h1v1h-1zm3-5h1v1h-1zm3 9h1v1h-1zm1-1h1v1h-1zm6-9h1v1h-1zm2 6h1v1h-1zm3 3h1v1h-1zm2-5h1v1h-1zm1-1h1v1h-1zm1-1h1v1h-1z"/><path fill="#21c1ab" d="M102 64h1v1h-1zm1 4h1v1h-1zm0 4h1v1h-1zm1-9h1v1h-1zm1-2h1v1h-1zm0 2h1v1h-1zm3-5h1v1h-1zm3 7h1v1h-1zm1 2h1v1h-1zm1 1h1v1h-1zm1-8h1v1h-1zm0 6h1v1h-1zm2 5h1v2h-1zm4-12h1v1h-1zm2 13h1v1h-1zm2-11h1v1h-1zm1 5h1v1h-1zm1-5h1v1h-1zm1 2h1v1h-1zm4 0h1v1h-1zm0 5h1v1h-1zm1-4h1v1h-1zm1 2h1v1h-1zm2-7h1v1h-1zm0 4h1v1h-1zm0 7h1v1h-1z"/><path fill="#2bc3a1" d="M102 62h1v1h-1zm1 11h1v1h-1zm3-15h1v1h-1zm2 3h1v1h-1zm0 3h1v2h-1zm1-3h1v1h-1zm0 2h1v1h-1zm0 2h1v1h-1zm1-2h1v1h-1zm0 2h1v1h-1zm1-2h1v1h-1zm0 7h1v1h-1zm1 2h1v1h-1zm1-3h1v1h-1zm2-9h1v1h-1zm0 4h1v1h-1zm1-1h1v1h-1zm2 6h1v1h-1zm1-10h1v1h-1zm0 5h1v1h-1zm1-3h1v1h-1zm0 2h1v1h-1zm1-5h1v1h-1zm1 7h1v1h-1zm1-3h1v3h-1zm2 0h1v2h-1zm1 0h1v1h-1zm0 6h1v1h-1zm2-5h1v1h-1zm0 2h1v1h-1zm1 2h1v1h-1zm2 5h1v1h-1zm1-5h1v1h-1zm0 3h1v1h-1zm1-11h1v2h-1zm1 7h1v1h-1zm2 2h1v2h-1z"/><path fill="#34c697" d="M100 65h1v1h-1zm0 5h1v1h-1zm2-7h1v1h-1zm1-3h1v1h-1zm0 11h1v1h-1zm1-9h1v1h-1zm0 10h1v1h-1zm1 2h1v1h-1zm1-13h1v3h-1zm0 12h1v1h-1zm1-9h1v1h-1zm1 2h1v1h-1zm0 5h1v1h-1zm1-12h1v2h-1zm0 5h1v1h-1zm0 6h1v1h-1zm0 4h1v1h-1zm1-2h1v1h-1zm0 2h1v1h-1zm3-4h1v2h-1zm1 0h1v2h-1zm1-9h1v1h-1zm0 11h1v1h-1zm1-12h1v1h-1zm1 11h1v1h-1zm1-8h1v1h-1zm0 7h1v1h-1zm1-7h1v1h-1zm0 6h1v1h-1zm2-3h1v1h-1zm0 6h1v1h-1zm1-13h1v1h-1zm2 0h1v2h-1zm1 6h1v1h-1zm2-1h1v2h-1zm2 1h1v1h-1zm1 2h1v1h-1zm0 5h1v1h-1zm2-3h1v1h-1zm0 3h1v2h-1zm2-10h1v1h-1zm0 2h1v1h-1zm0 6h1v1h-1zm1-6h1v1h-1zm1 6h1v1h-1zm1-8h1v1h-1z"/><path fill="#3dc88d" d="M99 65h1v1h-1zm1 4h1v1h-1zm0 2h1v1h-1zm1 2h1v2h-1zm1-5h1v1h-1zm2 1h1v1h-1zm1 4h1v1h-1zm1-4h1v1h-1zm1-8h1v2h-1zm0 5h1v1h-1zm1-4h1v1h-1zm0 12h1v1h-1zm3-3h1v2h-1zm2 1h1v1h-1zm2-9h1v1h-1zm0 10h1v1h-1zm1 0h1v1h-1zm3-13h1v1h-1zm1 4h1v1h-1zm0 8h1v1h-1zm1-13h1v1h-1zm1 14h1v1h-1zm4-6h1v1h-1zm1-5h1v1h-1zm0 5h1v1h-1zm3-4h1v1h-1zm0 2h1v1h-1zm1-1h1v1h-1zm0 10h1v1h-1zm2-4h1v1h-1zm1-11h1v1h-1zm0 8h1v1h-1zm2 0h1v1h-1zm1-6h1v1h-1z"/><path fill="#48ca84" d="M99 74h1v1h-1zm2-13h1v1h-1zm2 0h1v2h-1zm0 9h1v1h-1zm2-6h1v1h-1zm1 0h1v1h-1zm1-6h1v1h-1zm0 7h1v1h-1zm0 7h1v1h-1zm5-7h1v1h-1zm1 8h1v1h-1zm1 0h1v1h-1zm2-14h1v1h-1zm0 15h1v1h-1zm1-11h1v1h-1zm0 9h1v1h-1zm4-9h1v1h-1zm0 2h1v1h-1zm0 8h1v1h-1zm2-15h1v1h-1zm0 7h1v1h-1zm1 0h1v1h-1zm1-5h1v2h-1zm0 13h1v1h-1zm1-15h1v1h-1zm0 8h1v1h-1zm1 0h1v1h-1zm1-2h1v1h-1zm0 3h1v1h-1zm1-4h1v2h-1zm1 1h1v1h-1zm2-2h1v1h-1zm1-1h1v1h-1zm0 10h1v1h-1zm1-13h1v1h-1zm1 3h1v1h-1zm0 4h1v1h-1zm1 0h1v1h-1zm1-6h1v1h-1z"/><path fill="#52cb7b" d="M99 61h1v1h-1zm1 0h1v1h-1zm0 2h1v2h-1zm0 5h1v1h-1zm1-10h1v3h-1zm0 10h1v1h-1zm1-2h1v1h-1zm0 3h1v1h-1zm0 3h1v1h-1zm1-8h1v1h-1zm1-6h1v1h-1zm0 3h1v1h-1zm0 10h1v1h-1zm0 2h1v1h-1zm1-3h1v3h-1zm1-2h1v1h-1zm2 4h1v1h-1zm2 1h1v1h-1zm3-12h1v1h-1zm0 13h1v1h-1zm1-2h1v1h-1zm0 2h1v1h-1zm3-15h1v1h-1zm2 2h1v1h-1zm1 10h1v1h-1zm0 2h1v2h-1zm1-9h1v1h-1zm2 8h1v1h-1zm1 2h1v1h-1zm1-6h1v1h-1zm1 5h1v1h-1zm2-5h1v1h-1zm1 6h1v1h-1zm1-6h1v2h-1zm0 5h1v1h-1zm2-5h1v1h-1zm1-1h1v1h-1zm3-3h1v1h-1z"/><path fill="#5dcd72" d="M99 59h1v1h-1zm0 12h1v1h-1zm1 1h1v2h-1zm2-12h1v1h-1zm0 13h1v1h-1zm3-14h1v2h-1zm2 1h1v1h-1zm0 11h1v1h-1zm1-1h1v1h-1zm1 2h1v1h-1zm8 2h1v1h-1zm1-3h1v3h-1zm1 0h1v3h-1zm1-3h1v1h-1zm2-7h1v1h-1zm4 13h1v1h-1zm1-15h1v1h-1zm0 13h1v1h-1zm1 1h1v2h-1zm2-3h1v1h-1zm5-2h1v1h-1zm0 3h1v1h-1zm1-8h1v1h-1zm1-5h1v1h-1z"/><path fill="#69cc69" d="M99 69h1v1h-1zm0 4h1v1h-1zm1-13h1v1h-1zm6 5h1v1h-1zm1 5h1v1h-1zm3-12h1v2h-1zm2 15h1v1h-1zm1-13h1v1h-1zm1 5h1v1h-1zm2-1h1v1h-1zm1-4h1v2h-1zm1 0h1v1h-1zm0 2h1v1h-1zm0 6h1v1h-1zm2 2h1v1h-1zm2-3h1v1h-1zm2 6h1v1h-1zm3-12h1v1h-1zm1-2h1v1h-1zm3 3h1v1h-1zm2 11h1v1h-1zm3-13h1v2h-1zm0 6h1v1h-1z"/><path fill="#75cc60" d="M101 69h1v1h-1zm0 3h1v1h-1zm1 2h1v1h-1zm3-6h1v1h-1zm1-2h1v2h-1zm5-4h1v1h-1zm0 11h1v1h-1zm2-8h1v1h-1zm2 5h1v1h-1zm9-12h1v1h-1zm0 14h1v1h-1zm1 0h1v1h-1zm1 0h1v1h-1zm1 2h1v1h-1zm2-2h1v1h-1zm4 2h1v1h-1zm3-15h1v1h-1zm0 12h1v1h-1zm1-7h1v1h-1zm0 4h1v1h-1zm0 6h1v1h-1z"/><path fill="#81cb57" d="M96 58h1v2h-1zm5 13h1v1h-1zm1 0h1v1h-1zm8-10h1v1h-1zm4 2h1v1h-1zm2 3h1v1h-1zm2-5h1v1h-1zm3 6h1v2h-1zm3-1h1v1h-1zm3-6h1v1h-1zm0 13h1v1h-1zm1-15h1v1h-1zm0 4h1v1h-1zm0 10h1v1h-1zm1-2h1v2h-1zm3-12h1v1h-1zm1 11h1v1h-1zm1-1h1v1h-1zm0 3h1v1h-1zm3-4h1v1h-1zm0 3h1v1h-1z"/><path fill="#8dca4e" d="M98 74h1v1h-1zm1-4h1v1h-1zm2 0h1v1h-1zm1 0h1v1h-1zm9 4h1v1h-1zm1-12h1v3h-1zm2 2h1v1h-1zm1-5h1v1h-1zm1 6h1v1h-1zm0 5h1v1h-1zm1-4h1v2h-1zm4 3h1v1h-1zm2-3h1v2h-1zm1 1h1v3h-1zm1 2h1v1h-1z"/><path fill="#99c846" d="M98 73h1v1h-1zm2-15h1v1h-1zm10 2h1v1h-1zm1-2h1v1h-1zm1 0h1v1h-1zm0 16h1v1h-1zm3-7h1v1h-1zm2-9h1v1h-1zm1 6h1v1h-1zm1 4h1v1h-1zm2 3h1v1h-1zm1-3h1v1h-1zm1 0h1v1h-1zm3 1h1v1h-1zm2 0h1v1h-1zm1-10h1v1h-1zm1 1h1v1h-1zm3 8h1v1h-1zm3-6h1v1h-1zm0 11h1v1h-1zm1-2h1v1h-1zm0 2h1v1h-1z"/><path fill="#a6c63f" d="M98 61h1v1h-1zm7 4h1v1h-1zm12-1h1v1h-1zm3 1h1v1h-1zm1 5h1v1h-1zm1-1h1v1h-1zm0 2h1v1h-1zm1-2h1v1h-1zm4 0h1v1h-1zm3-7h1v1h-1zm1-2h1v2h-1zm6 6h1v1h-1z"/><path fill="#b3c437" d="M96 63h1v1h-1zm2 9h1v1h-1zm14-13h1v1h-1zm4 8h1v1h-1zm1-2h1v1h-1zm0 3h1v2h-1zm1-1h1v1h-1zm5 4h1v1h-1zm6-9h1v1h-1zm5 11h1v2h-1zm1 0h1v1h-1zm2-1h1v1h-1z"/><path fill="#bfc132" d="M99 60h1v1h-1zm0 7h1v1h-1zm4-2h1v1h-1zm0 2h1v1h-1zm2 0h1v1h-1zm6-8h1v1h-1zm2 4h1v2h-1zm1-4h1v1h-1zm1 9h1v2h-1zm3-3h1v2h-1zm4 5h1v1h-1zm1 0h1v1h-1zm1 0h1v2h-1zm1 1h1v1h-1zm1 0h1v1h-1zm1 0h1v1h-1zm2-11h1v1h-1zm1 1h1v1h-1zm4 11h1v1h-1zm1 0h1v1h-1z"/><path fill="#c9bf31" d="M96 66h1v1h-1zm1-6h1v1h-1zm16-2h1v1h-1zm12 12h1v1h-1zm1 0h1v1h-1zm1 0h1v1h-1zm8 4h1v1h-1z"/><path fill="#d2bd31" d="M96 64h1v2h-1zm1-5h1v1h-1zm8 7h1v1h-1zm6-5h1v1h-1zm1 0h1v1h-1zm2-3h1v1h-1zm1 0h1v1h-1zm4 7h1v1h-1zm10-4h1v1h-1zm2-2h1v1h-1z"/><path fill="#dcbb30" d="M96 68h1v1h-1zm3-10h1v1h-1zm4 8h1v1h-1zm1-1h1v1h-1zm8-5h1v1h-1zm4 8h1v1h-1zm3-1h1v1h-1zm1-1h1v2h-1zm10-7h1v1h-1z"/><path fill="#e5bb31" d="M96 67h1v1h-1zm0 7h1v1h-1zm1-13h1v2h-1zm0 6h1v1h-1zm0 5h1v1h-1zm1-3h1v1h-1zm6-2h1v1h-1zm7-7h1v1h-1zm8 6h1v1h-1zm10-8h1v1h-1zm1 0h1v1h-1z"/><path fill="#ecbc33" d="M96 69h1v1h-1zm0 2h1v1h-1zm1-1h1v2h-1zm1-8h1v3h-1zm0 9h1v1h-1z"/><path fill="#f3bd35" d="M96 73h1v1h-1zm1-8h1v1h-1zm0 3h1v2h-1zm1-1h1v2h-1zm0 3h1v1h-1zm6-4h1v1h-1zm27-8h1v1h-1z"/><path fill="#f8c035" d="M96 70h1v1h-1zm1-6h1v1h-1zm0 2h1v1h-1zm1-8h1v1h-1z"/><path fill="#f9cb2e" d="M96 72h1v1h-1z"/></g></g><rect x="282.05" y="501.7" width="439.3" height="330.5" fill="none" stroke="#262626" stroke-width="5"/><rect x="516.3" y="672.7" width="21.4" height="21.4" fill="none" stroke="#ff0000" stroke-width="2.6"/><g fill="#262626" font-size="40"><text x="277.5" y="520" text-anchor="end">80</text><text x="277.5" y="683.8" text-anchor="end">70</text><text x="277.5" y="845.2" text-anchor="end">60</text><text x="283.8" y="878.3" text-anchor="middle">-0.2</text><text x="428.5" y="878.3" text-anchor="middle">-0.15</text><text x="572.3" y="878.3" text-anchor="middle">-0.1</text><text x="718.5" y="878.3" text-anchor="middle">-0.05</text></g><path d="M660.6 718.1L778 767" stroke="#000" stroke-width="2.2" fill="none"/><path d="M808.7 779.5L769.4 743.4L775.2 766.6L754.6 777.9Z" fill="#000"/><rect x="830.6" y="776.3" width="22.6" height="22.6" fill="none" stroke="#ff0000" stroke-width="2.6"/></svg></body></html>
